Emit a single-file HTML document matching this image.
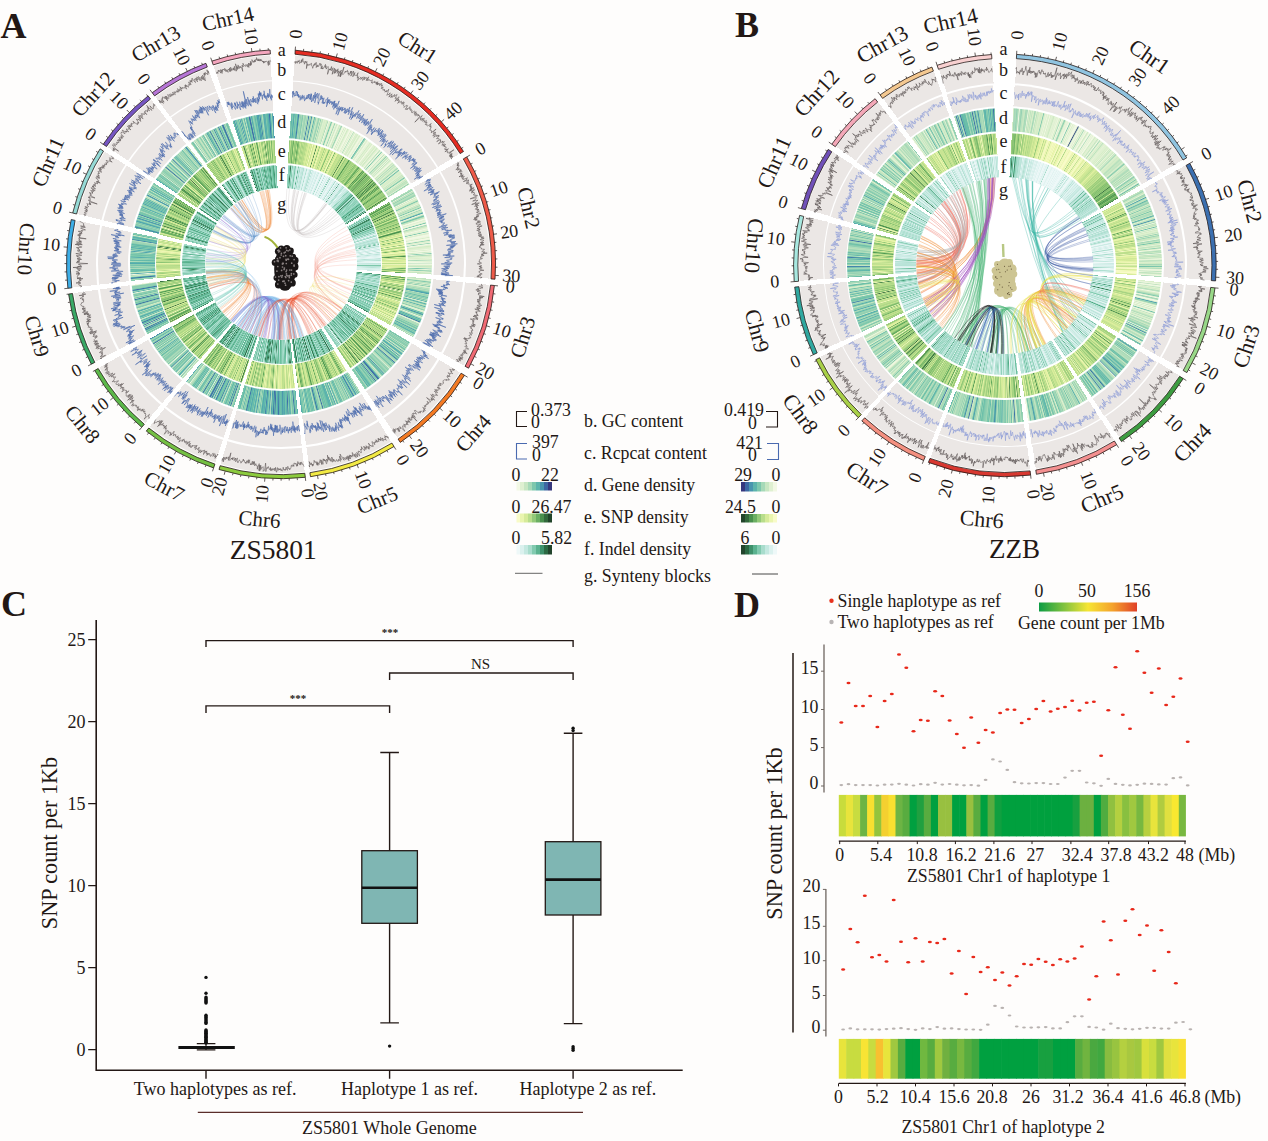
<!DOCTYPE html><html><head><meta charset="utf-8"><title>fig</title><style>*{margin:0;padding:0}body{width:1268px;height:1141px;overflow:hidden;position:relative;background:#fefdfc;font-family:"Liberation Serif",serif}.d{position:absolute;border-radius:50%}svg{position:absolute;left:0;top:0}text{fill:#231815;font-family:"Liberation Serif",serif}.tl{font-size:18px}.cn{font-size:21px}.cn2{font-size:22px}.tk{font-size:18px}.lg{font-size:17.8px}.ax{font-size:18px}.yl{font-size:22.2px}.st{font-size:11px;font-weight:bold}.ns{font-size:15px}.pl{font-size:36px;font-weight:bold}.ti{font-size:26px}</style></head><body><div class="d" style="left:71.8px;top:55px;width:418.4px;height:418.4px;background:conic-gradient(#fff 0% 1.056%,#ebe7e5 1.056% 16.194%,#fff 16.194% 16.667%,#ebe7e5 16.667% 26.111%,#fff 26.111% 26.583%,#ebe7e5 26.583% 33.056%,#fff 33.056% 33.667%,#ebe7e5 33.667% 40.611%,#fff 40.611% 41.167%,#ebe7e5 41.167% 47.806%,#fff 47.806% 48.194%,#ebe7e5 48.194% 54.667%,#fff 54.667% 55.083%,#ebe7e5 55.083% 60.806%,#fff 60.806% 61.25%,#ebe7e5 61.25% 66.75%,#fff 66.75% 67.278%,#ebe7e5 67.278% 72.778%,#fff 72.778% 73.208%,#ebe7e5 73.208% 78.333%,#fff 78.333% 78.833%,#ebe7e5 78.833% 84.028%,#fff 84.028% 84.444%,#ebe7e5 84.444% 89.361%,#fff 89.361% 89.75%,#ebe7e5 89.75% 94.306%,#fff 94.306% 94.778%,#ebe7e5 94.778% 99.194%,#fff 99.194% 100%)"></div><div class="d" style="left:96.4px;top:79.6px;width:369.2px;height:369.2px;background:#fff"></div><div class="d" style="left:97.8px;top:81px;width:366.4px;height:366.4px;background:conic-gradient(#fff 0% 1.056%,#ebe7e5 1.056% 16.194%,#fff 16.194% 16.667%,#ebe7e5 16.667% 26.111%,#fff 26.111% 26.583%,#ebe7e5 26.583% 33.056%,#fff 33.056% 33.667%,#ebe7e5 33.667% 40.611%,#fff 40.611% 41.167%,#ebe7e5 41.167% 47.806%,#fff 47.806% 48.194%,#ebe7e5 48.194% 54.667%,#fff 54.667% 55.083%,#ebe7e5 55.083% 60.806%,#fff 60.806% 61.25%,#ebe7e5 61.25% 66.75%,#fff 66.75% 67.278%,#ebe7e5 67.278% 72.778%,#fff 72.778% 73.208%,#ebe7e5 73.208% 78.333%,#fff 78.333% 78.833%,#ebe7e5 78.833% 84.028%,#fff 84.028% 84.444%,#ebe7e5 84.444% 89.361%,#fff 89.361% 89.75%,#ebe7e5 89.75% 94.306%,#fff 94.306% 94.778%,#ebe7e5 94.778% 99.194%,#fff 99.194% 100%)"></div><div class="d" style="left:128.2px;top:111.4px;width:305.6px;height:305.6px;background:#fff"></div><div class="d" style="left:129.7px;top:112.9px;width:302.6px;height:302.6px;background:conic-gradient(#fff 0% 1.056%,#81c9ae 1.056%,#81c9ae 1.094%,#5cb3ac 1.172%,#87cbaf 1.25%,#66bbaa 1.327%,#4ea7b0 1.405%,#8eceb1 1.483%,#6dc0a8 1.56%,#77c5ab 1.638%,#8bcdb0 1.715%,#5ab1ad 1.793%,#3f75ab 1.871%,#6dc0a8 1.948%,#afdcbb 2.026%,#92d0b2 2.104%,#a8d9b8 2.181%,#91cfb2 2.259%,#82c9ae 2.337%,#bfe3c0 2.414%,#a6d8b8 2.492%,#9dd5b5 2.569%,#9ad3b4 2.647%,#bee2bf 2.725%,#9ad4b5 2.802%,#addbba 2.88%,#417aab 2.958%,#b0ddbb 3.035%,#9bd4b5 3.113%,#a5d8b7 3.191%,#468dad 3.268%,#a7d9b8 3.346%,#cde9c4 3.423%,#c2e4c0 3.501%,#59b1ad 3.579%,#a6d8b8 3.656%,#95d1b3 3.734%,#cce9c4 3.812%,#c2e5c1 3.889%,#b5dfbc 3.967%,#92d0b2 4.045%,#a8dab9 4.122%,#d2ebc5 4.2%,#90cfb2 4.277%,#d7edc9 4.355%,#bde2bf 4.433%,#c5e6c1 4.51%,#dff1d1 4.588%,#d9eecb 4.666%,#d6edc8 4.743%,#ddf0cf 4.821%,#d4ecc6 4.899%,#d1ebc5 4.976%,#aedcba 5.054%,#f2f8e4 5.131%,#dbefcd 5.209%,#dff0d1 5.287%,#bae1be 5.364%,#72c3aa 5.442%,#c5e6c1 5.52%,#e7f4d9 5.597%,#e7f3d9 5.675%,#d5ecc7 5.752%,#98d3b4 5.83%,#e7f4d9 5.908%,#e4f2d6 5.985%,#c9e7c3 6.063%,#e4f2d6 6.141%,#f2f8e4 6.218%,#dff1d1 6.296%,#cce9c4 6.374%,#e0f1d2 6.451%,#b2debb 6.529%,#9bd4b5 6.606%,#e5f3d7 6.684%,#f2f8e4 6.762%,#eff7e1 6.839%,#d1ebc5 6.917%,#f2f8e4 6.995%,#d7edc9 7.072%,#ecf6de 7.15%,#ecf6de 7.228%,#d1ebc5 7.305%,#daeecc 7.383%,#e5f3d7 7.46%,#f0f7e2 7.538%,#f2f8e4 7.616%,#daeecc 7.693%,#edf6df 7.771%,#e2f2d4 7.849%,#f2f8e4 7.926%,#b2debc 8.004%,#e1f1d3 8.082%,#dbefcd 8.159%,#f2f8e4 8.237%,#d9eecb 8.314%,#def0d0 8.392%,#d5edc7 8.47%,#d9eecb 8.547%,#ecf6de 8.625%,#d9eecb 8.703%,#d7edc9 8.78%,#ebf5dd 8.858%,#f2f8e4 8.936%,#edf6df 9.013%,#dff0d1 9.091%,#edf6df 9.168%,#edf6df 9.246%,#60b7ab 9.324%,#94d1b3 9.401%,#a9dab9 9.479%,#f2f8e4 9.557%,#dff0d1 9.634%,#def0d0 9.712%,#eef7e0 9.79%,#eff7e1 9.867%,#e4f3d6 9.945%,#e9f4db 10.022%,#cfeac4 10.1%,#dff0d1 10.178%,#e2f2d4 10.255%,#d4ecc6 10.333%,#f1f8e3 10.411%,#eff7e1 10.488%,#dbefcd 10.566%,#e3f2d5 10.644%,#d6edc8 10.721%,#d5ecc7 10.799%,#ecf6de 10.876%,#d3ebc6 10.954%,#cfeac4 11.032%,#e4f2d6 11.109%,#e3f2d5 11.187%,#f2f8e4 11.265%,#d8edca 11.342%,#b4dfbc 11.42%,#f2f8e4 11.498%,#e3f2d5 11.575%,#74c4aa 11.653%,#e7f3d9 11.73%,#e0f1d2 11.808%,#f2f8e4 11.886%,#e8f4da 11.963%,#bee3bf 12.041%,#f1f8e3 12.119%,#def0d0 12.196%,#c7e7c2 12.274%,#91cfb2 12.351%,#e1f1d3 12.429%,#bce2bf 12.507%,#d0eac5 12.584%,#eaf5dc 12.662%,#c4e5c1 12.74%,#f2f8e4 12.817%,#c3e5c1 12.895%,#ddf0cf 12.973%,#e9f4db 13.05%,#f2f8e4 13.128%,#ecf6de 13.205%,#c3e5c1 13.283%,#daeecc 13.361%,#dcefce 13.438%,#a6d8b8 13.516%,#dff0d1 13.594%,#c6e6c2 13.671%,#c5e6c1 13.749%,#e1f1d3 13.827%,#d2ebc6 13.904%,#cae8c3 13.982%,#92d0b2 14.059%,#d9eecb 14.137%,#dff0d1 14.215%,#65baaa 14.292%,#bde2bf 14.37%,#e2f2d4 14.448%,#d6edc8 14.525%,#dbefcd 14.603%,#d5ecc7 14.681%,#def0d0 14.758%,#dff0d1 14.836%,#c6e6c2 14.913%,#d9eecb 14.991%,#bfe3bf 15.069%,#d8edca 15.146%,#bde2bf 15.224%,#6ec1a9 15.302%,#cae8c3 15.379%,#e7f4d9 15.457%,#c8e7c2 15.535%,#d5ecc7 15.612%,#bae1be 15.69%,#c7e6c2 15.767%,#bde2bf 15.845%,#cae8c3 15.923%,#e1f1d3 16%,#87ccaf 16.078%,#dcefce 16.156%,#dcefce 16.194%,#fff 16.194% 16.667%,#b9e1be 16.667%,#b9e1be 16.706%,#a5d8b7 16.784%,#99d3b4 16.862%,#e7f3d9 16.94%,#b6dfbd 17.018%,#c1e4c0 17.096%,#8eceb1 17.174%,#b7e0bd 17.252%,#b7e0bd 17.33%,#a8d9b8 17.408%,#96d2b3 17.486%,#b3debc 17.564%,#f2f8e4 17.642%,#cee9c4 17.72%,#eaf5dc 17.798%,#d9eecb 17.876%,#d5edc7 17.955%,#c6e6c2 18.033%,#74c3aa 18.111%,#b8e0bd 18.189%,#dcefce 18.267%,#d6edc8 18.345%,#e9f4db 18.423%,#c9e7c3 18.501%,#d3ebc6 18.579%,#aadab9 18.657%,#c6e6c2 18.735%,#c0e3c0 18.813%,#73c3aa 18.891%,#dbefcd 18.969%,#e3f2d5 19.047%,#a0d6b6 19.125%,#ceeac4 19.203%,#c9e7c3 19.281%,#d2ebc5 19.36%,#7ec8ad 19.438%,#4b9caf 19.516%,#e9f5db 19.594%,#ddefcf 19.672%,#addbba 19.75%,#6cc0a8 19.828%,#94d1b3 19.906%,#c9e7c3 19.984%,#cce9c4 20.062%,#f2f8e4 20.14%,#f2f8e4 20.218%,#dff1d1 20.296%,#e8f4da 20.374%,#eff7e1 20.452%,#dcefce 20.53%,#6dc0a8 20.608%,#f2f8e4 20.686%,#f2f8e4 20.764%,#a6d8b8 20.843%,#c5e6c1 20.921%,#cde9c4 20.999%,#e0f1d2 21.077%,#e1f1d3 21.155%,#f2f8e4 21.233%,#e6f3d8 21.311%,#e5f3d7 21.389%,#def0d0 21.467%,#78c5ab 21.545%,#eef6e0 21.623%,#ddf0cf 21.701%,#def0d0 21.779%,#f2f8e4 21.857%,#f2f8e4 21.935%,#f0f7e2 22.013%,#ecf5de 22.091%,#d8eeca 22.169%,#f2f8e4 22.247%,#f1f8e3 22.326%,#e3f2d5 22.404%,#94d1b3 22.482%,#ddf0cf 22.56%,#e1f1d3 22.638%,#e9f4db 22.716%,#98d3b4 22.794%,#f2f8e4 22.872%,#ebf5dd 22.95%,#dff0d1 23.028%,#d2ebc5 23.106%,#dbefcd 23.184%,#dff0d1 23.262%,#e2f1d4 23.34%,#eff7e1 23.418%,#ddefcf 23.496%,#f2f8e4 23.574%,#edf6df 23.652%,#cbe8c3 23.73%,#f2f8e4 23.809%,#87ccaf 23.887%,#e9f4db 23.965%,#a9dab9 24.043%,#d6edc8 24.121%,#dbefcd 24.199%,#e5f3d7 24.277%,#d9eecb 24.355%,#e9f4db 24.433%,#dcefce 24.511%,#addbba 24.589%,#f2f8e4 24.667%,#ddf0cf 24.745%,#f1f8e3 24.823%,#b0ddbb 24.901%,#f1f8e3 24.979%,#edf6df 25.057%,#d5ecc7 25.135%,#daeecc 25.213%,#c5e6c1 25.292%,#d5ecc7 25.37%,#f2f8e4 25.448%,#76c4ab 25.526%,#eaf5dc 25.604%,#bde2bf 25.682%,#88ccb0 25.76%,#daeecc 25.838%,#dcefce 25.916%,#c3e5c1 25.994%,#d2ebc5 26.072%,#d2ebc5 26.111%,#fff 26.111% 26.583%,#c3e5c1 26.583%,#c3e5c1 26.622%,#c8e7c2 26.7%,#e0f1d2 26.778%,#bbe2be 26.856%,#7dc7ad 26.934%,#bce2bf 27.012%,#bce2be 27.09%,#dcefce 27.168%,#9bd4b5 27.246%,#d7edc9 27.324%,#89ccb0 27.402%,#dff0d1 27.48%,#daeecc 27.558%,#b5dfbc 27.636%,#bce2bf 27.714%,#a3d7b7 27.792%,#b8e0bd 27.87%,#9cd4b5 27.948%,#76c4ab 28.026%,#53acaf 28.104%,#4b9faf 28.182%,#bbe1be 28.26%,#95d2b3 28.338%,#a3d7b7 28.416%,#a1d7b6 28.494%,#68bda9 28.572%,#9ad3b4 28.65%,#88ccb0 28.728%,#b4debc 28.806%,#76c4ab 28.884%,#a9dab9 28.962%,#5cb3ac 29.04%,#e4f2d6 29.118%,#bce2be 29.196%,#56aeae 29.274%,#87cbaf 29.352%,#c9e7c3 29.43%,#aadab9 29.508%,#5bb2ad 29.586%,#b6dfbd 29.663%,#addbba 29.741%,#cce9c4 29.819%,#addbba 29.897%,#86cbaf 29.975%,#dcefce 30.053%,#e2f2d4 30.131%,#e0f1d2 30.209%,#69bea9 30.287%,#84caaf 30.365%,#4791ae 30.443%,#6cc0a8 30.521%,#acdbba 30.599%,#96d2b3 30.677%,#eff7e1 30.755%,#c5e6c1 30.833%,#aadab9 30.911%,#52acaf 30.989%,#7fc8ad 31.067%,#62b8ab 31.145%,#6fc1a9 31.223%,#3e6fa9 31.301%,#c8e7c2 31.379%,#f2f8e4 31.457%,#aedcba 31.535%,#b3debc 31.613%,#b1ddbb 31.691%,#a8dab9 31.769%,#7cc7ac 31.847%,#a1d6b6 31.925%,#84caaf 32.003%,#6ec1a8 32.081%,#aedcba 32.159%,#97d2b4 32.237%,#4ca0af 32.315%,#8eceb1 32.393%,#7ac6ac 32.471%,#87cbaf 32.549%,#52acaf 32.627%,#79c6ac 32.705%,#b0ddbb 32.783%,#98d3b4 32.861%,#d7edc9 32.939%,#a5d8b7 33.017%,#a5d8b7 33.056%,#fff 33.056% 33.667%,#a2d7b7 33.667%,#a2d7b7 33.706%,#64b9aa 33.784%,#abdbb9 33.862%,#81c9ae 33.94%,#a1d7b6 34.018%,#86cbaf 34.096%,#8cceb1 34.174%,#8bcdb0 34.252%,#c9e7c3 34.33%,#79c5ab 34.408%,#b9e0be 34.486%,#79c5ab 34.564%,#6ec1a9 34.642%,#addcba 34.72%,#d7edc9 34.798%,#51aaaf 34.876%,#aedcba 34.954%,#c1e4c0 35.032%,#58b0ad 35.11%,#5ab2ad 35.188%,#5ab2ad 35.266%,#c3e5c1 35.344%,#a7d9b8 35.422%,#4b9daf 35.5%,#d0eac5 35.578%,#66bbaa 35.656%,#67bca9 35.734%,#96d2b3 35.812%,#67bca9 35.89%,#4381ac 35.968%,#9ed5b5 36.047%,#a9dab9 36.125%,#b1ddbb 36.203%,#b9e1be 36.281%,#3e70aa 36.359%,#7ec8ad 36.437%,#77c5ab 36.515%,#b1ddbb 36.593%,#9ad4b4 36.671%,#9dd5b5 36.749%,#9ed5b5 36.827%,#64b9aa 36.905%,#a1d7b6 36.983%,#b8e0bd 37.061%,#b7e0bd 37.139%,#eaf5dc 37.217%,#85caaf 37.295%,#b0ddbb 37.373%,#77c5ab 37.451%,#b9e0be 37.529%,#96d2b3 37.607%,#94d1b3 37.685%,#80c9ae 37.763%,#93d0b2 37.841%,#bbe1be 37.919%,#4997ae 37.997%,#94d1b3 38.075%,#5bb2ad 38.153%,#77c5ab 38.231%,#9ad3b4 38.309%,#dcefce 38.387%,#b0ddbb 38.465%,#c6e6c2 38.543%,#7ec8ad 38.621%,#56afae 38.699%,#3d6ca7 38.777%,#3d6ca7 38.855%,#8fcfb2 38.934%,#7bc6ac 39.012%,#a5d8b8 39.09%,#3d6ca7 39.168%,#97d2b4 39.246%,#60b7ab 39.324%,#a0d6b6 39.402%,#7fc8ad 39.48%,#6dc1a8 39.558%,#93d1b3 39.636%,#9bd4b5 39.714%,#7dc7ad 39.792%,#6fc1a9 39.87%,#57afae 39.948%,#6dc0a8 40.026%,#79c5ab 40.104%,#4fa9b0 40.182%,#acdbba 40.26%,#9fd5b6 40.338%,#78c5ab 40.416%,#84caaf 40.494%,#98d3b4 40.572%,#98d3b4 40.611%,#fff 40.611% 41.167%,#afdcbb 41.167%,#afdcbb 41.206%,#c2e5c1 41.284%,#68bda9 41.362%,#aedcba 41.44%,#60b6ab 41.518%,#a7d9b8 41.596%,#4998ae 41.674%,#5ab2ad 41.752%,#99d3b4 41.831%,#8fcfb1 41.909%,#4075ab 41.987%,#53acaf 42.065%,#95d1b3 42.143%,#60b6ab 42.221%,#7fc8ad 42.299%,#8acdb0 42.377%,#c4e5c1 42.455%,#58b0ad 42.533%,#b8e0bd 42.612%,#9cd4b5 42.69%,#7cc7ac 42.768%,#b1ddbb 42.846%,#99d3b4 42.924%,#aedcba 43.002%,#7fc8ad 43.08%,#9cd4b5 43.158%,#bce2bf 43.236%,#6abea9 43.315%,#7dc7ad 43.393%,#5db4ac 43.471%,#8ccdb1 43.549%,#80c9ad 43.627%,#c1e4c0 43.705%,#a3d7b7 43.783%,#5bb2ad 43.861%,#79c6ac 43.939%,#ddf0cf 44.017%,#4da3b0 44.096%,#76c4ab 44.174%,#9bd4b5 44.252%,#62b8ab 44.33%,#74c3aa 44.408%,#cce8c3 44.486%,#56afae 44.564%,#62b8ab 44.642%,#57afae 44.72%,#5fb6ab 44.799%,#6ec1a9 44.877%,#72c3aa 44.955%,#81c9ae 45.033%,#6abea9 45.111%,#81c9ae 45.189%,#66bbaa 45.267%,#79c5ab 45.345%,#9cd4b5 45.423%,#3d6ca7 45.501%,#7cc7ac 45.58%,#bce2bf 45.658%,#a0d6b6 45.736%,#8dceb1 45.814%,#9dd5b5 45.892%,#6abea9 45.97%,#63b9aa 46.048%,#3d6ca7 46.126%,#66bbaa 46.204%,#addbba 46.283%,#bde2bf 46.361%,#60b6ab 46.439%,#81c9ae 46.517%,#67bca9 46.595%,#7cc7ac 46.673%,#72c3aa 46.751%,#9bd4b5 46.829%,#66bbaa 46.907%,#7ac6ac 46.985%,#50aaaf 47.064%,#8eceb1 47.142%,#85cbaf 47.22%,#cae8c3 47.298%,#5eb5ac 47.376%,#9ed5b5 47.454%,#7cc7ac 47.532%,#88ccb0 47.61%,#6abfa8 47.688%,#55aeae 47.767%,#55aeae 47.806%,#fff 47.806% 48.194%,#59b1ad 48.194%,#59b1ad 48.233%,#84caaf 48.311%,#78c5ab 48.389%,#65baaa 48.467%,#3e71aa 48.545%,#8bcdb0 48.623%,#7cc7ac 48.701%,#7fc8ad 48.779%,#addcba 48.857%,#81c9ae 48.935%,#4da3b0 49.013%,#65baaa 49.091%,#8acdb0 49.169%,#3d6ca7 49.247%,#69bea9 49.325%,#5cb3ac 49.403%,#77c5ab 49.481%,#67bca9 49.559%,#4ca2af 49.637%,#62b8ab 49.715%,#468cad 49.793%,#58b0ad 49.871%,#65baaa 49.949%,#73c3aa 50.027%,#5fb6ab 50.105%,#5bb2ad 50.183%,#3d6ca7 50.261%,#5ab1ad 50.339%,#52abaf 50.417%,#6ec1a9 50.495%,#73c3aa 50.573%,#3d6ca7 50.651%,#62b8ab 50.729%,#3d6ca7 50.807%,#5ab2ad 50.885%,#6ec1a9 50.963%,#4a9baf 51.041%,#b1ddbb 51.119%,#aadab9 51.197%,#4894ae 51.275%,#82c9ae 51.353%,#8dceb1 51.431%,#5db4ac 51.509%,#59b1ad 51.587%,#4381ac 51.664%,#77c5ab 51.742%,#55aeae 51.82%,#65baaa 51.898%,#5bb2ad 51.976%,#4ea6b0 52.054%,#6bbfa8 52.132%,#a6d8b8 52.21%,#6bbfa8 52.288%,#b0ddbb 52.366%,#8bcdb0 52.444%,#a0d6b6 52.522%,#4996ae 52.6%,#85caaf 52.678%,#a9dab9 52.756%,#5db4ac 52.834%,#53acaf 52.912%,#8acdb0 52.99%,#62b8ab 53.068%,#71c2a9 53.146%,#5fb5ac 53.224%,#4ea8b0 53.302%,#78c5ab 53.38%,#5eb5ac 53.458%,#62b8ab 53.536%,#5ab2ad 53.614%,#3d6ca7 53.692%,#6dc1a8 53.77%,#a1d7b6 53.848%,#82caae 53.926%,#9fd6b6 54.004%,#5cb3ac 54.082%,#b6dfbd 54.16%,#8ccdb1 54.238%,#afddbb 54.316%,#65bbaa 54.394%,#65bbaa 54.472%,#7ac6ac 54.55%,#77c5ab 54.628%,#77c5ab 54.667%,#fff 54.667% 55.083%,#75c4ab 55.083%,#75c4ab 55.122%,#8fcfb2 55.199%,#a6d8b8 55.277%,#a7d9b8 55.354%,#3d6ca7 55.431%,#77c5ab 55.509%,#76c4ab 55.586%,#468bad 55.663%,#a3d7b7 55.741%,#72c2aa 55.818%,#94d1b3 55.895%,#67bca9 55.973%,#66bbaa 56.05%,#90cfb2 56.127%,#84caae 56.205%,#dff0d1 56.282%,#a0d6b6 56.359%,#4da4b0 56.437%,#a2d7b7 56.514%,#a2d7b7 56.591%,#4380ac 56.669%,#73c3aa 56.746%,#74c3aa 56.823%,#7fc8ad 56.901%,#72c3aa 56.978%,#50aaaf 57.055%,#3d6ca7 57.133%,#aedcba 57.21%,#9cd4b5 57.287%,#4a99ae 57.364%,#c8e7c2 57.442%,#70c2a9 57.519%,#4179ab 57.596%,#87cbaf 57.674%,#4077ab 57.751%,#3d6ca7 57.828%,#79c6ac 57.906%,#c1e4c0 57.983%,#6bbfa8 58.06%,#f2f8e4 58.138%,#94d1b3 58.215%,#5ab2ad 58.292%,#a7d9b8 58.37%,#71c2a9 58.447%,#aedcba 58.524%,#64baaa 58.602%,#3d6ca7 58.679%,#a0d6b6 58.756%,#8dceb1 58.834%,#b8e0bd 58.911%,#79c6ac 58.988%,#7dc7ad 59.066%,#62b8ab 59.143%,#88ccb0 59.22%,#d8eeca 59.298%,#a2d7b7 59.375%,#e8f4da 59.452%,#5ab1ad 59.53%,#83caae 59.607%,#66bbaa 59.684%,#94d1b3 59.762%,#5ab2ad 59.839%,#7bc6ac 59.916%,#69bea9 59.994%,#a5d8b7 60.071%,#a7d9b8 60.148%,#c1e4c0 60.226%,#bce2bf 60.303%,#f2f8e4 60.38%,#8dceb1 60.458%,#a1d6b6 60.535%,#acdbba 60.612%,#b1ddbb 60.69%,#52abaf 60.767%,#52abaf 60.806%,#fff 60.806% 61.25%,#c3e5c1 61.25%,#c3e5c1 61.289%,#b7e0bd 61.366%,#edf6df 61.444%,#86cbaf 61.521%,#a8d9b8 61.599%,#ecf6de 61.676%,#57afae 61.754%,#56aeae 61.831%,#7fc8ad 61.908%,#c5e6c1 61.986%,#90cfb2 62.063%,#f2f8e4 62.141%,#9fd5b6 62.218%,#5db4ac 62.296%,#8ccdb0 62.373%,#aedcba 62.451%,#6ec1a8 62.528%,#85cbaf 62.606%,#99d3b4 62.683%,#5db4ac 62.761%,#d9eecb 62.838%,#b1ddbb 62.915%,#458aad 62.993%,#8cceb1 63.07%,#87cbaf 63.148%,#88ccb0 63.225%,#f2f8e4 63.303%,#c8e7c2 63.38%,#6abea9 63.458%,#bde2bf 63.535%,#9ed5b6 63.613%,#94d1b3 63.69%,#aadab9 63.768%,#abdbb9 63.845%,#8dceb1 63.923%,#82c9ae 64%,#87cbaf 64.077%,#86cbaf 64.155%,#a4d8b7 64.232%,#7ec8ad 64.31%,#97d2b4 64.387%,#b4debc 64.465%,#6fc1a9 64.542%,#67bca9 64.62%,#b2debc 64.697%,#78c5ab 64.775%,#b0ddbb 64.852%,#62b8ab 64.93%,#a2d7b7 65.007%,#51aaaf 65.085%,#a3d7b7 65.162%,#b2debc 65.239%,#91d0b2 65.317%,#69bea9 65.394%,#d8eeca 65.472%,#6abea9 65.549%,#9cd4b5 65.627%,#a7d9b8 65.704%,#74c3aa 65.782%,#a0d6b6 65.859%,#6bbfa8 65.937%,#c8e7c2 66.014%,#3d6ca7 66.092%,#60b7ab 66.169%,#9ed5b6 66.246%,#aadab9 66.324%,#5db4ac 66.401%,#83caae 66.479%,#abdbb9 66.556%,#83caae 66.634%,#4589ad 66.711%,#4589ad 66.75%,#fff 66.75% 67.278%,#a0d6b6 67.278%,#a0d6b6 67.317%,#6fc1a9 67.394%,#b8e0bd 67.471%,#66bbaa 67.549%,#78c5ab 67.626%,#72c3aa 67.704%,#427dab 67.781%,#71c2a9 67.859%,#3d6ca7 67.936%,#b5dfbd 68.014%,#b4dfbc 68.091%,#57afae 68.169%,#c6e6c2 68.246%,#3d6ca7 68.324%,#a7d9b8 68.401%,#5eb4ac 68.478%,#63b9aa 68.556%,#3d6ca7 68.633%,#68bda9 68.711%,#86cbaf 68.788%,#51aaaf 68.866%,#b1ddbb 68.943%,#daeecc 69.021%,#61b7ab 69.098%,#95d1b3 69.176%,#55aeae 69.253%,#5eb5ac 69.331%,#92d0b2 69.408%,#c1e4c0 69.486%,#77c5ab 69.563%,#88ccaf 69.64%,#6dc0a8 69.718%,#c0e3c0 69.795%,#55aeae 69.873%,#5bb3ac 69.95%,#b5dfbd 70.028%,#c6e6c2 70.105%,#d4ecc6 70.183%,#8ccdb1 70.26%,#8dceb1 70.338%,#a8dab9 70.415%,#addcba 70.493%,#86cbaf 70.57%,#3d6ca7 70.647%,#73c3aa 70.725%,#88ccb0 70.802%,#78c5ab 70.88%,#a7d9b8 70.957%,#88ccb0 71.035%,#66bbaa 71.112%,#3d6ca7 71.19%,#acdbba 71.267%,#66bbaa 71.345%,#b1ddbb 71.422%,#abdbb9 71.5%,#73c3aa 71.577%,#92d0b2 71.655%,#7fc8ad 71.732%,#b0ddbb 71.809%,#eef7e0 71.887%,#5bb2ad 71.964%,#a8d9b8 72.042%,#56aeae 72.119%,#3d6ca7 72.197%,#73c3aa 72.274%,#91d0b2 72.352%,#92d0b2 72.429%,#8fcfb1 72.507%,#8dceb1 72.584%,#b7e0bd 72.662%,#f2f8e4 72.739%,#f2f8e4 72.778%,#fff 72.778% 73.208%,#8bcdb0 73.208%,#8bcdb0 73.247%,#afdcbb 73.325%,#70c2a9 73.402%,#3d6ca7 73.48%,#54adae 73.558%,#b2debc 73.635%,#d2ebc5 73.713%,#aadab9 73.791%,#f2f8e4 73.868%,#4da5b0 73.946%,#b0ddbb 74.024%,#cfeac4 74.101%,#6abfa8 74.179%,#62b8ab 74.257%,#7dc7ad 74.334%,#67bca9 74.412%,#aedcba 74.49%,#a2d7b7 74.567%,#72c2aa 74.645%,#a6d8b8 74.723%,#66bbaa 74.8%,#8bcdb0 74.878%,#8acdb0 74.955%,#54adae 75.033%,#51aaaf 75.111%,#68bda9 75.188%,#b2debc 75.266%,#6cc0a8 75.344%,#63b9aa 75.421%,#9bd4b5 75.499%,#82c9ae 75.577%,#95d1b3 75.654%,#54adae 75.732%,#72c3aa 75.81%,#8cceb1 75.887%,#6bc0a8 75.965%,#79c5ab 76.043%,#90cfb2 76.12%,#6ec1a9 76.198%,#bbe1be 76.276%,#4ca1af 76.353%,#b0ddbb 76.431%,#51aaaf 76.509%,#90cfb2 76.586%,#80c9ad 76.664%,#51abaf 76.741%,#83caae 76.819%,#63b9aa 76.897%,#7fc8ad 76.974%,#60b7ab 77.052%,#6abea9 77.13%,#8acdb0 77.207%,#a1d6b6 77.285%,#99d3b4 77.363%,#a8d9b8 77.44%,#bde2bf 77.518%,#4589ad 77.596%,#60b6ab 77.673%,#72c3aa 77.751%,#58b0ad 77.829%,#58b0ad 77.906%,#88ccaf 77.984%,#d5ecc7 78.062%,#67bca9 78.139%,#8acdb0 78.217%,#7fc8ad 78.295%,#7fc8ad 78.333%,#fff 78.333% 78.833%,#73c3aa 78.833%,#73c3aa 78.872%,#427fac 78.95%,#52abaf 79.027%,#84caaf 79.105%,#8eceb1 79.182%,#80c8ad 79.26%,#a3d7b7 79.337%,#84caaf 79.415%,#8acdb0 79.492%,#4da3af 79.57%,#58b0ad 79.647%,#88ccb0 79.725%,#a0d6b6 79.802%,#57afae 79.88%,#4894ae 79.958%,#9dd5b5 80.035%,#5cb3ac 80.113%,#7ac6ac 80.19%,#a9dab9 80.268%,#4381ac 80.345%,#6dc1a8 80.423%,#7ec7ad 80.5%,#77c5ab 80.578%,#81c9ae 80.655%,#b3debc 80.733%,#8acdb0 80.81%,#74c3aa 80.888%,#84caae 80.965%,#6fc1a9 81.043%,#a7d9b8 81.12%,#51abaf 81.198%,#7fc8ad 81.275%,#a8d9b8 81.353%,#8cceb1 81.431%,#7ec8ad 81.508%,#4ca1af 81.586%,#88ccb0 81.663%,#60b7ab 81.741%,#83caae 81.818%,#59b1ad 81.896%,#8bcdb0 81.973%,#4da4b0 82.051%,#95d1b3 82.128%,#69bda9 82.206%,#cce9c3 82.283%,#b5dfbd 82.361%,#dcefce 82.438%,#59b1ad 82.516%,#478ead 82.593%,#c3e5c1 82.671%,#7ac6ac 82.749%,#c6e6c2 82.826%,#a4d8b7 82.904%,#75c4ab 82.981%,#72c2aa 83.059%,#c9e8c3 83.136%,#76c4ab 83.214%,#50aaaf 83.291%,#bae1be 83.369%,#51abaf 83.446%,#75c4aa 83.524%,#97d2b4 83.601%,#63b9aa 83.679%,#b5dfbc 83.756%,#9dd5b5 83.834%,#80c8ad 83.911%,#77c5ab 83.989%,#77c5ab 84.028%,#fff 84.028% 84.444%,#50aaaf 84.444%,#50aaaf 84.483%,#7bc7ac 84.562%,#7cc7ac 84.64%,#9cd4b5 84.718%,#82c9ae 84.796%,#b3debc 84.874%,#64b9aa 84.952%,#8bcdb0 85.03%,#7fc8ad 85.108%,#81c9ae 85.186%,#e4f2d6 85.264%,#84caae 85.342%,#bbe1be 85.42%,#94d1b3 85.498%,#9ed5b6 85.576%,#85cbaf 85.654%,#95d1b3 85.732%,#9ad4b4 85.81%,#94d1b3 85.888%,#cae8c3 85.966%,#9bd4b5 86.044%,#3d6ca7 86.122%,#97d2b3 86.2%,#c6e6c2 86.278%,#8fcfb1 86.356%,#70c2a9 86.435%,#b5dfbd 86.513%,#b5dfbc 86.591%,#8eceb1 86.669%,#59b1ad 86.747%,#b1ddbb 86.825%,#e5f3d7 86.903%,#9cd4b5 86.981%,#9ad3b4 87.059%,#aedcba 87.137%,#417bab 87.215%,#9ed5b6 87.293%,#d9eecb 87.371%,#91cfb2 87.449%,#66bbaa 87.527%,#91d0b2 87.605%,#53acaf 87.683%,#aedcba 87.761%,#6fc1a9 87.839%,#daeecc 87.917%,#6cc0a8 87.995%,#c4e5c1 88.073%,#b4debc 88.151%,#8fcfb1 88.229%,#b6dfbd 88.308%,#8acdb0 88.386%,#aedcba 88.464%,#8dceb1 88.542%,#69bea9 88.62%,#c2e4c0 88.698%,#a7d9b8 88.776%,#c4e5c1 88.854%,#83caae 88.932%,#a3d7b7 89.01%,#4892ae 89.088%,#4b9daf 89.166%,#c5e6c1 89.244%,#bce2bf 89.322%,#bce2bf 89.361%,#fff 89.361% 89.75%,#daeecc 89.75%,#daeecc 89.789%,#88ccaf 89.866%,#87cbaf 89.943%,#68bda9 90.02%,#abdbb9 90.097%,#f2f8e4 90.175%,#8dceb1 90.252%,#d9eecb 90.329%,#b6dfbd 90.406%,#bbe1be 90.484%,#86cbaf 90.561%,#9ad4b4 90.638%,#bde2bf 90.715%,#cae8c3 90.792%,#a8d9b8 90.87%,#7ec8ad 90.947%,#bae1be 91.024%,#dcefce 91.101%,#7ec8ad 91.178%,#aadab9 91.256%,#5eb5ac 91.333%,#a8d9b8 91.41%,#f2f8e4 91.487%,#a0d6b6 91.565%,#99d3b4 91.642%,#b1ddbb 91.719%,#4b9faf 91.796%,#72c2aa 91.873%,#64b9aa 91.951%,#a6d9b8 92.028%,#91d0b2 92.105%,#3d6ca7 92.182%,#90cfb2 92.259%,#bee3bf 92.337%,#79c6ac 92.414%,#a3d7b7 92.491%,#a9dab9 92.568%,#4790ad 92.645%,#9ad4b4 92.723%,#5bb3ac 92.8%,#8acdb0 92.877%,#c1e4c0 92.954%,#a1d6b6 93.032%,#87cbaf 93.109%,#3e71aa 93.186%,#97d2b4 93.263%,#6fc1a9 93.34%,#6ec1a8 93.418%,#b7e0bd 93.495%,#6bbfa8 93.572%,#3d6ca7 93.649%,#427eac 93.726%,#9fd6b6 93.804%,#88ccaf 93.881%,#bae1be 93.958%,#87cbaf 94.035%,#71c2a9 94.113%,#73c3aa 94.19%,#b0ddbb 94.267%,#b0ddbb 94.306%,#fff 94.306% 94.778%,#6bbfa8 94.778%,#6bbfa8 94.817%,#6cc0a8 94.894%,#468dad 94.971%,#86cbaf 95.049%,#57afae 95.126%,#87cbaf 95.204%,#86cbaf 95.281%,#95d1b3 95.359%,#62b8ab 95.436%,#a5d8b8 95.514%,#4998ae 95.591%,#9ad3b4 95.669%,#54adae 95.746%,#77c5ab 95.824%,#c0e4c0 95.901%,#9ed5b5 95.979%,#5bb2ad 96.056%,#c9e7c3 96.134%,#81c9ae 96.211%,#4fa9b0 96.289%,#65baaa 96.366%,#7ac6ac 96.444%,#77c5ab 96.521%,#3d6ca7 96.599%,#4179ab 96.676%,#8eceb1 96.754%,#52abaf 96.831%,#67bca9 96.909%,#98d3b4 96.986%,#92d0b2 97.064%,#74c4aa 97.141%,#61b7ab 97.219%,#84caaf 97.296%,#6abea9 97.374%,#4a99ae 97.451%,#54adae 97.529%,#4a9baf 97.606%,#71c2a9 97.683%,#4382ac 97.761%,#82c9ae 97.838%,#7ac6ac 97.916%,#b4debc 97.993%,#88ccb0 98.071%,#51aaaf 98.148%,#5ab1ad 98.226%,#58b0ad 98.303%,#80c8ad 98.381%,#68bda9 98.458%,#64b9aa 98.536%,#56aeae 98.613%,#52abaf 98.691%,#3d6ca7 98.768%,#53acaf 98.846%,#65baaa 98.923%,#b0ddbb 99.001%,#59b1ad 99.078%,#458aad 99.156%,#458aad 99.194%,#fff 99.194% 100%)"></div><div class="d" style="left:154.5px;top:137.7px;width:253px;height:253px;background:#fff"></div><div class="d" style="left:156.3px;top:139.5px;width:249.4px;height:249.4px;background:conic-gradient(#fff 0% 1.056%,#8fc676 1.056%,#8fc676 1.094%,#aad684 1.172%,#c7e492 1.25%,#8cc574 1.327%,#8cc474 1.405%,#a2d180 1.483%,#77b769 1.56%,#67ad60 1.638%,#cde795 1.715%,#91c777 1.793%,#9cce7d 1.871%,#94c978 1.948%,#83bf6f 2.026%,#cde795 2.104%,#61a85c 2.181%,#86c171 2.259%,#7dbb6c 2.337%,#bcdf8d 2.414%,#a0d07e 2.492%,#d0e897 2.569%,#afd887 2.647%,#a6d382 2.725%,#c3e291 2.802%,#9fcf7e 2.88%,#c6e392 2.958%,#a7d482 3.035%,#bade8c 3.113%,#b7dc8a 3.191%,#bddf8e 3.268%,#b3da88 3.346%,#d2e998 3.423%,#c2e290 3.501%,#d9ed9c 3.579%,#dbed9c 3.656%,#d9ed9c 3.734%,#bee08e 3.812%,#e4f2a3 3.889%,#d2e998 3.967%,#cfe896 4.045%,#f8fbc8 4.122%,#d7ec9a 4.2%,#c8e493 4.277%,#e3f2a2 4.355%,#ecf5b2 4.433%,#e9f4ac 4.51%,#cbe694 4.588%,#408047 4.666%,#e9f4ad 4.743%,#e8f4ab 4.821%,#dff09e 4.899%,#d5eb99 4.976%,#8ec675 5.054%,#e3f1a2 5.131%,#e3f2a3 5.209%,#eff7b8 5.287%,#cfe896 5.364%,#d2e998 5.442%,#c8e493 5.52%,#d8ec9b 5.597%,#c6e492 5.675%,#9ecf7e 5.752%,#e6f3a8 5.83%,#bcdf8d 5.908%,#cde796 5.985%,#e4f2a4 6.063%,#e1f09f 6.141%,#d0e897 6.218%,#9bcd7c 6.296%,#7bba6b 6.374%,#d2e998 6.451%,#e3f2a2 6.529%,#cee796 6.606%,#e9f4ac 6.684%,#aad684 6.762%,#d6eb9a 6.839%,#e6f3a7 6.917%,#f8fbc8 6.995%,#d8ec9b 7.072%,#6caf62 7.15%,#e4f2a4 7.228%,#c3e290 7.305%,#e8f4ab 7.383%,#e0f09f 7.46%,#deef9e 7.538%,#b6dc8a 7.616%,#c2e290 7.693%,#c4e291 7.771%,#c5e391 7.849%,#cae694 7.926%,#b8dd8b 8.004%,#b6dc8a 8.082%,#a5d381 8.159%,#cce695 8.237%,#c2e290 8.314%,#387341 8.392%,#a2d180 8.47%,#d3ea99 8.547%,#d2e998 8.625%,#8ac373 8.703%,#aad684 8.78%,#b3db89 8.858%,#b6dc8a 8.936%,#b1d987 9.013%,#b2da88 9.091%,#5ca55a 9.168%,#4b934f 9.246%,#a9d584 9.324%,#a1d17f 9.401%,#99cc7b 9.479%,#8fc676 9.557%,#b2da88 9.634%,#a7d482 9.712%,#a9d583 9.79%,#a2d17f 9.867%,#bbdf8d 9.945%,#8cc574 10.022%,#bddf8e 10.1%,#82bf6f 10.178%,#97cb7a 10.255%,#a2d17f 10.333%,#9dce7d 10.411%,#c7e493 10.488%,#92c877 10.566%,#83bf6f 10.644%,#5ea65b 10.721%,#66ac5f 10.799%,#b2da88 10.876%,#7bba6b 10.954%,#c5e392 11.032%,#b0d987 11.109%,#b9dd8b 11.187%,#c6e492 11.265%,#9ece7d 11.342%,#44874a 11.42%,#9dce7d 11.498%,#66ac5f 11.575%,#529e54 11.653%,#c2e290 11.73%,#8bc474 11.808%,#94c979 11.886%,#539f55 11.963%,#8ac373 12.041%,#8dc575 12.119%,#356d3f 12.196%,#aad684 12.274%,#78b869 12.351%,#93c978 12.429%,#71b365 12.507%,#7fbd6d 12.584%,#9dce7d 12.662%,#6fb164 12.74%,#c2e290 12.817%,#7cba6b 12.895%,#7ab96a 12.973%,#86c171 13.05%,#a7d482 13.128%,#356d3f 13.205%,#80bd6e 13.283%,#b8dd8b 13.361%,#509b53 13.438%,#87c171 13.516%,#3f7f46 13.594%,#b2da88 13.671%,#3f7f46 13.749%,#6fb264 13.827%,#a3d180 13.904%,#add785 13.982%,#c9e594 14.059%,#4d9651 14.137%,#a4d281 14.215%,#478c4c 14.292%,#8fc676 14.37%,#59a358 14.448%,#91c877 14.525%,#bee08e 14.603%,#92c877 14.681%,#add786 14.758%,#90c776 14.836%,#8cc574 14.913%,#4b924f 14.991%,#87c272 15.069%,#83bf6f 15.146%,#b2da88 15.224%,#96ca79 15.302%,#9fcf7e 15.379%,#9dce7d 15.457%,#99cc7b 15.535%,#9acc7b 15.612%,#80bd6e 15.69%,#98cb7a 15.767%,#b0d987 15.845%,#b0d987 15.923%,#356d3f 16%,#86c171 16.078%,#84c070 16.156%,#84c070 16.194%,#fff 16.194% 16.667%,#5ea65b 16.667%,#5ea65b 16.706%,#b5dc8a 16.784%,#4e9751 16.862%,#4f9a52 16.94%,#76b768 17.018%,#b5db89 17.096%,#65ab5e 17.174%,#71b365 17.252%,#91c877 17.33%,#539e54 17.408%,#b3da88 17.486%,#a6d382 17.564%,#88c272 17.642%,#b0d987 17.72%,#7bba6b 17.798%,#3e7e46 17.876%,#98cb7b 17.955%,#b2da88 18.033%,#b7dc8a 18.111%,#356d3f 18.189%,#a5d281 18.267%,#96ca7a 18.345%,#c8e593 18.423%,#c4e391 18.501%,#7fbc6d 18.579%,#bddf8e 18.657%,#75b667 18.735%,#78b869 18.813%,#cee796 18.891%,#c4e391 18.969%,#80bd6e 19.047%,#6eb163 19.125%,#7fbd6d 19.203%,#b5db8a 19.281%,#9ecf7e 19.36%,#a1d07f 19.438%,#b8dd8b 19.516%,#a6d382 19.594%,#67ac60 19.672%,#add785 19.75%,#9bcd7c 19.828%,#b9dd8c 19.906%,#c1e18f 19.984%,#4f9a52 20.062%,#a9d584 20.14%,#98cb7a 20.218%,#bade8c 20.296%,#9ccd7c 20.374%,#b7dd8b 20.452%,#e5f2a5 20.53%,#82be6f 20.608%,#4b934f 20.686%,#49904e 20.764%,#95c979 20.843%,#c4e291 20.921%,#c1e18f 20.999%,#e7f3aa 21.077%,#cee796 21.155%,#d6eb9a 21.233%,#ebf5b1 21.311%,#cee896 21.389%,#7cbb6b 21.467%,#f0f7ba 21.545%,#b6dc8a 21.623%,#d6eb9a 21.701%,#e4f2a4 21.779%,#dbee9d 21.857%,#6db063 21.935%,#eff7b8 22.013%,#c0e18f 22.091%,#cce695 22.169%,#e3f2a2 22.247%,#e8f4ab 22.326%,#e6f3a8 22.404%,#8ac373 22.482%,#f8fbc8 22.56%,#deef9e 22.638%,#b9dd8b 22.716%,#a6d382 22.794%,#d4ea99 22.872%,#f5fac2 22.95%,#c9e594 23.028%,#cae694 23.106%,#68ad61 23.184%,#e5f2a5 23.262%,#dff09f 23.34%,#f3f9bf 23.418%,#e9f4ad 23.496%,#d0e997 23.574%,#dcee9d 23.652%,#e8f4ab 23.73%,#bbde8c 23.809%,#76b768 23.887%,#478c4c 23.965%,#e5f3a6 24.043%,#bddf8d 24.121%,#b9dd8b 24.199%,#f7fbc6 24.277%,#cae594 24.355%,#d3ea98 24.433%,#e1f1a0 24.511%,#d0e897 24.589%,#f2f8bc 24.667%,#e5f2a6 24.745%,#bbde8d 24.823%,#bddf8d 24.901%,#f7fbc7 24.979%,#c4e291 25.057%,#daed9c 25.135%,#cee896 25.213%,#e1f09f 25.292%,#bcdf8d 25.37%,#ecf5b2 25.448%,#66ac5f 25.526%,#e6f3a8 25.604%,#acd785 25.682%,#78b869 25.76%,#8bc474 25.838%,#c0e18f 25.916%,#e8f4ab 25.994%,#63a95d 26.072%,#63a95d 26.111%,#fff 26.111% 26.583%,#c2e290 26.583%,#c2e290 26.622%,#4b934f 26.7%,#9cce7d 26.778%,#e5f2a5 26.856%,#549f55 26.934%,#95c979 27.012%,#c2e290 27.09%,#a4d281 27.168%,#94c978 27.246%,#deef9e 27.324%,#b9dd8b 27.402%,#c7e492 27.48%,#e0f09f 27.558%,#f3f9c0 27.636%,#91c877 27.714%,#d2e998 27.792%,#94c979 27.87%,#85c070 27.948%,#deef9e 28.026%,#abd684 28.104%,#95ca79 28.182%,#afd886 28.26%,#408147 28.338%,#f8fbc8 28.416%,#88c272 28.494%,#f7fac6 28.572%,#95ca79 28.65%,#96ca79 28.728%,#99cc7b 28.806%,#9dce7d 28.884%,#d6eb9a 28.962%,#a0d07f 29.04%,#7ab96a 29.118%,#d3ea98 29.196%,#deef9e 29.274%,#abd684 29.352%,#4a914f 29.43%,#bade8c 29.508%,#b6dc8a 29.586%,#c2e290 29.663%,#aed886 29.741%,#f8fbc8 29.819%,#c6e492 29.897%,#e0f09f 29.975%,#d9ed9b 30.053%,#c4e391 30.131%,#d7ec9a 30.209%,#9ccd7c 30.287%,#c1e190 30.365%,#b3db89 30.443%,#8fc676 30.521%,#e2f1a0 30.599%,#d4ea99 30.677%,#cee896 30.755%,#66ac5f 30.833%,#d1e998 30.911%,#a9d583 30.989%,#cce695 31.067%,#d4ea99 31.145%,#f8fbc8 31.223%,#c0e18f 31.301%,#e5f3a6 31.379%,#89c373 31.457%,#e7f3a9 31.535%,#c9e593 31.613%,#b8dd8b 31.691%,#edf6b5 31.769%,#e3f1a1 31.847%,#e2f1a0 31.925%,#a6d382 32.003%,#e5f2a6 32.081%,#f3f9c0 32.159%,#b5db89 32.237%,#f8fbc8 32.315%,#d4ea99 32.393%,#cfe896 32.471%,#b6dc8a 32.549%,#f8fbc8 32.627%,#a8d483 32.705%,#d4eb99 32.783%,#b1d987 32.861%,#d3ea98 32.939%,#b8dd8b 33.017%,#b8dd8b 33.056%,#fff 33.056% 33.667%,#bcdf8d 33.667%,#bcdf8d 33.706%,#d0e897 33.784%,#509a52 33.862%,#9dce7d 33.94%,#9cce7d 34.018%,#e4f2a3 34.096%,#65ab5f 34.174%,#b9de8c 34.252%,#b4db89 34.33%,#c1e18f 34.408%,#8fc676 34.486%,#c0e18f 34.564%,#b7dc8b 34.642%,#9bcd7c 34.72%,#e0f09f 34.798%,#356d3f 34.876%,#d3ea99 34.954%,#6db063 35.032%,#b1d987 35.11%,#c8e593 35.188%,#c7e493 35.266%,#c1e190 35.344%,#a9d583 35.422%,#73b567 35.5%,#8ec675 35.578%,#b4db89 35.656%,#73b466 35.734%,#488e4d 35.812%,#d8ec9b 35.89%,#59a358 35.968%,#a9d583 36.047%,#e3f1a2 36.125%,#c9e593 36.203%,#91c877 36.281%,#86c171 36.359%,#e5f2a5 36.437%,#468a4b 36.515%,#c0e18f 36.593%,#6cb063 36.671%,#c0e18f 36.749%,#acd785 36.827%,#c7e493 36.905%,#74b567 36.983%,#4b934f 37.061%,#a9d584 37.139%,#b5dc8a 37.217%,#498f4e 37.295%,#8fc676 37.373%,#b5db8a 37.451%,#a9d583 37.529%,#a8d483 37.607%,#e0f09f 37.685%,#6baf62 37.763%,#488d4d 37.841%,#60a75c 37.919%,#c6e492 37.997%,#e3f1a2 38.075%,#7cba6b 38.153%,#5fa75b 38.231%,#bbde8d 38.309%,#b4db89 38.387%,#e2f1a0 38.465%,#529e54 38.543%,#d7ec9b 38.621%,#55a056 38.699%,#e3f1a2 38.777%,#9cce7d 38.855%,#b3db89 38.934%,#387341 39.012%,#c5e391 39.09%,#edf6b4 39.168%,#aad684 39.246%,#90c776 39.324%,#89c373 39.402%,#356d3f 39.48%,#8ec675 39.558%,#e6f3a6 39.636%,#a0d07e 39.714%,#89c373 39.792%,#eff7b8 39.87%,#bbde8d 39.948%,#97cb7a 40.026%,#9dce7d 40.104%,#dff09f 40.182%,#d4ea99 40.26%,#acd785 40.338%,#a9d583 40.416%,#77b769 40.494%,#b4db89 40.572%,#b4db89 40.611%,#fff 40.611% 41.167%,#f4f9c1 41.167%,#f4f9c1 41.206%,#c5e392 41.284%,#c3e290 41.362%,#f8fbc8 41.44%,#b1da88 41.518%,#cbe694 41.596%,#92c877 41.674%,#d1e998 41.752%,#509b53 41.831%,#9acd7c 41.909%,#65ab5f 41.987%,#a5d381 42.065%,#b1da88 42.143%,#e8f4ab 42.221%,#cde795 42.299%,#bfe08f 42.377%,#cfe897 42.455%,#71b365 42.533%,#cee896 42.612%,#b8dd8b 42.69%,#a3d180 42.768%,#d9ed9b 42.846%,#a6d382 42.924%,#dcee9d 43.002%,#a6d382 43.08%,#b5db89 43.158%,#8ec575 43.236%,#6db063 43.315%,#a3d280 43.393%,#4c9450 43.471%,#539f54 43.549%,#c2e290 43.627%,#82bf6f 43.705%,#cee796 43.783%,#c0e18f 43.861%,#77b769 43.939%,#cee796 44.017%,#e5f3a6 44.096%,#c6e492 44.174%,#bddf8e 44.252%,#aad684 44.33%,#abd684 44.408%,#7ebc6d 44.486%,#8dc574 44.564%,#b6dc8a 44.642%,#90c776 44.72%,#7ebc6c 44.799%,#ecf6b2 44.877%,#cee796 44.955%,#cde796 45.033%,#c7e492 45.111%,#bddf8d 45.189%,#56a156 45.267%,#c8e593 45.345%,#d6eb9a 45.423%,#bfe08e 45.501%,#c5e392 45.58%,#d7ec9a 45.658%,#9bcd7c 45.736%,#9ccd7c 45.814%,#c1e18f 45.892%,#8ac373 45.97%,#49904e 46.048%,#7fbc6d 46.126%,#b4db89 46.204%,#add785 46.283%,#d2e998 46.361%,#d8ec9b 46.439%,#cce795 46.517%,#cae694 46.595%,#b0d987 46.673%,#83bf70 46.751%,#d7ec9a 46.829%,#d4ea99 46.907%,#d2e998 46.985%,#a3d280 47.064%,#9ccd7c 47.142%,#6aae62 47.22%,#8dc575 47.298%,#55a056 47.376%,#c5e392 47.454%,#e3f2a2 47.532%,#c0e18f 47.61%,#e3f2a3 47.688%,#66ab5f 47.767%,#66ab5f 47.806%,#fff 47.806% 48.194%,#e9f4ad 48.194%,#e9f4ad 48.233%,#b0d987 48.311%,#d7ec9b 48.389%,#dcee9d 48.467%,#c3e291 48.545%,#d5eb99 48.623%,#e2f1a0 48.701%,#f1f8bc 48.779%,#b2da88 48.857%,#e3f2a2 48.935%,#e5f2a5 49.013%,#bade8c 49.091%,#bbde8c 49.169%,#c5e392 49.247%,#ebf5b0 49.325%,#e2f1a0 49.403%,#dcee9d 49.481%,#a3d280 49.559%,#c2e290 49.637%,#c3e290 49.715%,#bcdf8d 49.793%,#e0f09f 49.871%,#dbee9c 49.949%,#bee08e 50.027%,#eff7b8 50.105%,#e4f2a3 50.183%,#d4ea99 50.261%,#eaf5af 50.339%,#bbde8c 50.417%,#d1e997 50.495%,#88c272 50.573%,#e6f3a7 50.651%,#dbee9d 50.729%,#d2e998 50.807%,#f8fbc8 50.885%,#b9dd8b 50.963%,#c7e492 51.041%,#61a85c 51.119%,#c8e593 51.197%,#9dce7d 51.275%,#d2e998 51.353%,#a2d180 51.431%,#e1f19f 51.509%,#d8ec9b 51.587%,#c8e593 51.664%,#bfe08f 51.742%,#a7d482 51.82%,#d4ea99 51.898%,#d0e897 51.976%,#ebf5b0 52.054%,#cae694 52.132%,#e9f4ad 52.21%,#e1f09f 52.288%,#a5d381 52.366%,#c8e593 52.444%,#539f55 52.522%,#b1da88 52.6%,#bfe08e 52.678%,#b0d987 52.756%,#a9d583 52.834%,#9ece7d 52.912%,#e4f2a3 52.99%,#b8dd8b 53.068%,#bfe08e 53.146%,#7fbc6d 53.224%,#b4db89 53.302%,#9bcd7c 53.38%,#e9f4ad 53.458%,#aad684 53.536%,#bddf8e 53.614%,#6eb164 53.692%,#cae594 53.77%,#d7ec9b 53.848%,#90c776 53.926%,#9bcd7c 54.004%,#c1e190 54.082%,#d5eb99 54.16%,#d8ec9b 54.238%,#d0e897 54.316%,#62a95d 54.394%,#e2f1a0 54.472%,#9acc7b 54.55%,#c9e593 54.628%,#c9e593 54.667%,#fff 54.667% 55.083%,#c8e593 55.083%,#c8e593 55.122%,#4f9852 55.199%,#3b7944 55.277%,#eef6b5 55.354%,#b8dd8b 55.431%,#81be6e 55.509%,#e9f4ad 55.586%,#c0e18f 55.663%,#b9dd8b 55.741%,#b3da88 55.818%,#d7ec9b 55.895%,#cfe896 55.973%,#cee896 56.05%,#d3ea99 56.127%,#6eb164 56.205%,#ebf5b0 56.282%,#c8e593 56.359%,#96ca79 56.437%,#d6eb9a 56.514%,#d1e998 56.591%,#b8dd8b 56.669%,#9ccd7c 56.746%,#c3e291 56.823%,#9dce7d 56.901%,#d8ec9b 56.978%,#dbee9d 57.055%,#c3e290 57.133%,#f1f8bb 57.21%,#c5e391 57.287%,#cae594 57.364%,#d6eb9a 57.442%,#60a85c 57.519%,#a2d180 57.596%,#b8dd8b 57.674%,#e3f2a2 57.751%,#c9e594 57.828%,#7fbc6d 57.906%,#c2e290 57.983%,#428348 58.06%,#89c373 58.138%,#bbde8c 58.215%,#79b96a 58.292%,#81be6e 58.37%,#9dce7d 58.447%,#e6f3a6 58.524%,#83bf6f 58.602%,#9cce7d 58.679%,#bade8c 58.756%,#e4f2a4 58.834%,#f8fbc8 58.911%,#99cc7b 58.988%,#6caf62 59.066%,#c0e18f 59.143%,#b1da88 59.22%,#c1e18f 59.298%,#80bd6e 59.375%,#a1d07f 59.452%,#a1d07f 59.53%,#dcee9d 59.607%,#77b769 59.684%,#b6dc8a 59.762%,#54a055 59.839%,#a1d17f 59.916%,#4b924f 59.994%,#a7d482 60.071%,#b8dd8b 60.148%,#b5db89 60.226%,#85c171 60.303%,#6baf62 60.38%,#7ebc6d 60.458%,#e7f3a9 60.535%,#76b668 60.612%,#75b668 60.69%,#dcee9d 60.767%,#dcee9d 60.806%,#fff 60.806% 61.25%,#bbde8d 61.25%,#bbde8d 61.289%,#b8dd8b 61.366%,#b4db89 61.444%,#509b53 61.521%,#95ca79 61.599%,#d4ea99 61.676%,#add785 61.754%,#7ebc6d 61.831%,#c7e493 61.908%,#a8d483 61.986%,#bee08e 62.063%,#9bcd7c 62.141%,#a3d180 62.218%,#b5dc8a 62.296%,#ddef9d 62.373%,#5da65a 62.451%,#b6dc8a 62.528%,#3e7d46 62.606%,#64aa5e 62.683%,#c1e18f 62.761%,#c8e493 62.838%,#add785 62.915%,#f8fbc8 62.993%,#b3da89 63.07%,#8fc676 63.148%,#95ca79 63.225%,#5da65a 63.303%,#86c171 63.38%,#dbee9c 63.458%,#bade8c 63.535%,#93c978 63.613%,#7dbb6c 63.69%,#e2f1a0 63.768%,#a3d280 63.845%,#a2d180 63.923%,#cee896 64%,#f1f8bb 64.077%,#aad584 64.155%,#7ebc6d 64.232%,#4e9751 64.31%,#cee796 64.387%,#8bc474 64.465%,#9dce7d 64.542%,#7ebc6d 64.62%,#8ec575 64.697%,#9ecf7e 64.775%,#f2f8bd 64.852%,#95ca79 64.93%,#9acc7b 65.007%,#eaf5af 65.085%,#a6d381 65.162%,#aed886 65.239%,#d4ea99 65.317%,#b8dd8b 65.394%,#aad684 65.472%,#b2da88 65.549%,#c0e18f 65.627%,#bddf8e 65.704%,#99cc7b 65.782%,#8ec675 65.859%,#71b365 65.937%,#97cb7a 66.014%,#7cbb6c 66.092%,#4f9952 66.169%,#b7dc8b 66.246%,#9dce7d 66.324%,#9ece7d 66.401%,#9acc7b 66.479%,#a4d281 66.556%,#4a904e 66.634%,#71b366 66.711%,#71b366 66.75%,#fff 66.75% 67.278%,#b8dd8b 67.278%,#b8dd8b 67.317%,#3b7944 67.394%,#bfe08e 67.471%,#74b567 67.549%,#79b96a 67.626%,#529e54 67.704%,#67ac60 67.781%,#83c070 67.859%,#f8fbc8 67.936%,#aad684 68.014%,#60a85c 68.091%,#99cc7b 68.169%,#a5d381 68.246%,#f5f9c2 68.324%,#bddf8d 68.401%,#b1d987 68.478%,#a9d583 68.556%,#84c070 68.633%,#d0e997 68.711%,#c4e391 68.788%,#99cc7b 68.866%,#e0f09f 68.943%,#cae594 69.021%,#356d3f 69.098%,#b8dd8b 69.176%,#d1e998 69.253%,#b7dc8a 69.331%,#b5dc8a 69.408%,#c1e18f 69.486%,#c5e391 69.563%,#74b567 69.64%,#63aa5e 69.718%,#8dc575 69.795%,#a0d07e 69.873%,#b0d987 69.95%,#b6dc8a 70.028%,#356d3f 70.105%,#70b265 70.183%,#9acc7b 70.26%,#77b769 70.338%,#8ec675 70.415%,#9fcf7e 70.493%,#8ec575 70.57%,#cbe695 70.647%,#bcdf8d 70.725%,#a6d382 70.802%,#63aa5e 70.88%,#a8d583 70.957%,#d9ed9c 71.035%,#5fa75b 71.112%,#a8d583 71.19%,#b0d987 71.267%,#519d53 71.345%,#65ab5f 71.422%,#bfe08e 71.5%,#e7f3a9 71.577%,#e3f2a3 71.655%,#9cce7d 71.732%,#5aa459 71.809%,#4f9952 71.887%,#96ca79 71.964%,#f0f7b9 72.042%,#9ccd7c 72.119%,#b2da88 72.197%,#a6d382 72.274%,#98cb7a 72.352%,#cee796 72.429%,#99cc7b 72.507%,#97cb7a 72.584%,#98cb7a 72.662%,#356f3f 72.739%,#356f3f 72.778%,#fff 72.778% 73.208%,#c3e290 73.208%,#c3e290 73.247%,#a0d07f 73.325%,#d3ea99 73.402%,#bddf8e 73.48%,#aed886 73.558%,#e6f3a6 73.635%,#d8ec9b 73.713%,#9bcd7c 73.791%,#b4db89 73.868%,#b0d987 73.946%,#e0f09f 74.024%,#f8fbc8 74.101%,#c0e08f 74.179%,#ebf5b0 74.257%,#d4ea99 74.334%,#c5e392 74.412%,#c4e391 74.49%,#bbde8c 74.567%,#bfe08e 74.645%,#bcdf8d 74.723%,#9bcd7c 74.8%,#c4e391 74.878%,#c0e18f 74.955%,#dcee9d 75.033%,#e6f3a7 75.111%,#e4f2a4 75.188%,#8bc474 75.266%,#c1e18f 75.344%,#bddf8e 75.421%,#d1e998 75.499%,#b1d987 75.577%,#cce795 75.654%,#56a156 75.732%,#c5e391 75.81%,#91c877 75.887%,#e5f3a6 75.965%,#e6f3a8 76.043%,#a5d381 76.12%,#d0e897 76.198%,#e5f3a6 76.276%,#abd684 76.353%,#b1d987 76.431%,#c1e190 76.509%,#eaf5af 76.586%,#e0f09f 76.664%,#eef6b6 76.741%,#eaf4ae 76.819%,#e5f2a5 76.897%,#b9dd8c 76.974%,#d9ed9b 77.052%,#e1f1a0 77.13%,#3f8047 77.207%,#eaf5ae 77.285%,#3e7d45 77.363%,#aed886 77.44%,#bbde8c 77.518%,#eaf5ae 77.596%,#d2e998 77.673%,#f0f8ba 77.751%,#bcdf8d 77.829%,#c6e492 77.906%,#d1e998 77.984%,#b6dc8a 78.062%,#f6fac3 78.139%,#add785 78.217%,#e8f4ab 78.295%,#e8f4ab 78.333%,#fff 78.333% 78.833%,#a4d281 78.833%,#a4d281 78.872%,#b8dd8b 78.95%,#d6eb9a 79.027%,#d2e998 79.105%,#7bba6b 79.182%,#60a85c 79.26%,#78b869 79.337%,#6cb063 79.415%,#c8e593 79.492%,#498f4d 79.57%,#91c877 79.647%,#92c877 79.725%,#f8fbc8 79.802%,#bcdf8d 79.88%,#c3e291 79.958%,#356d3f 80.035%,#9ccd7c 80.113%,#b5db89 80.19%,#a4d281 80.268%,#72b466 80.345%,#509b53 80.423%,#bcdf8d 80.5%,#a7d482 80.578%,#a1d07f 80.655%,#8ac373 80.733%,#deef9e 80.81%,#cee896 80.888%,#c5e391 80.965%,#45894b 81.043%,#8ec575 81.12%,#aed886 81.198%,#468b4c 81.275%,#6eb163 81.353%,#4a914f 81.431%,#b8dd8b 81.508%,#add785 81.586%,#d4ea99 81.663%,#b7dc8a 81.741%,#b6dc8a 81.818%,#94c978 81.896%,#a2d180 81.973%,#90c776 82.051%,#daed9c 82.128%,#8dc575 82.206%,#a8d483 82.283%,#397642 82.361%,#afd886 82.438%,#85c171 82.516%,#8bc474 82.593%,#9ecf7e 82.671%,#89c372 82.749%,#cde796 82.826%,#98cc7b 82.904%,#87c271 82.981%,#356f3f 83.059%,#d8ec9b 83.136%,#cbe694 83.214%,#a2d180 83.291%,#3c7a44 83.369%,#61a85c 83.446%,#66ac5f 83.524%,#a5d381 83.601%,#478c4c 83.679%,#b0d987 83.756%,#76b668 83.834%,#95c979 83.911%,#5ca559 83.989%,#5ca559 84.028%,#fff 84.028% 84.444%,#a3d280 84.444%,#a3d280 84.483%,#aad684 84.562%,#a9d584 84.64%,#92c877 84.718%,#f8fbc8 84.796%,#9dce7d 84.874%,#cae594 84.952%,#64aa5e 85.03%,#c1e190 85.108%,#94c978 85.186%,#468b4c 85.264%,#5ea65b 85.342%,#428449 85.42%,#a9d583 85.498%,#95ca79 85.576%,#8cc474 85.654%,#8cc474 85.732%,#e9f4ae 85.81%,#65ab5f 85.888%,#5ba459 85.966%,#7fbd6d 86.044%,#ecf5b2 86.122%,#e0f09f 86.2%,#99cc7b 86.278%,#d7ec9a 86.356%,#bfe08e 86.435%,#68ad60 86.513%,#7dbb6c 86.591%,#95ca79 86.669%,#59a358 86.747%,#a0d07e 86.825%,#bbde8d 86.903%,#356d3f 86.981%,#e9f4ad 87.059%,#96ca7a 87.137%,#9fcf7e 87.215%,#89c372 87.293%,#aad584 87.371%,#f3f9bf 87.449%,#70b365 87.527%,#519c53 87.605%,#6eb163 87.683%,#7dbb6c 87.761%,#87c271 87.839%,#98cc7b 87.917%,#c4e391 87.995%,#5fa75b 88.073%,#d2ea98 88.151%,#afd886 88.229%,#97cb7a 88.308%,#a7d482 88.386%,#c0e18f 88.464%,#8fc676 88.542%,#8ac473 88.62%,#97cb7a 88.698%,#b5db8a 88.776%,#6aaf62 88.854%,#529e54 88.932%,#c7e492 89.01%,#a5d281 89.088%,#356d3f 89.166%,#83c070 89.244%,#d3ea99 89.322%,#d3ea99 89.361%,#fff 89.361% 89.75%,#a1d07f 89.75%,#a1d07f 89.789%,#c5e391 89.866%,#81be6e 89.943%,#c1e18f 90.02%,#97ca7a 90.097%,#a1d07f 90.175%,#c9e594 90.252%,#95c979 90.329%,#deef9e 90.406%,#77b768 90.484%,#a5d381 90.561%,#94c978 90.638%,#b8dd8b 90.715%,#5fa75b 90.792%,#c4e391 90.87%,#a0d07e 90.947%,#bfe08f 91.024%,#d4ea99 91.101%,#b9dd8b 91.178%,#98cb7a 91.256%,#a7d482 91.333%,#add785 91.41%,#acd785 91.487%,#e0f09f 91.565%,#bcdf8d 91.642%,#6cb063 91.719%,#cae594 91.796%,#356d3f 91.873%,#66ab5f 91.951%,#bee08e 92.028%,#b5db89 92.105%,#bcdf8d 92.182%,#67ac60 92.259%,#c8e493 92.337%,#c0e18f 92.414%,#eef7b7 92.491%,#b6dc8a 92.568%,#e7f3a9 92.645%,#ebf5b1 92.723%,#65ab5e 92.8%,#c4e291 92.877%,#dbee9d 92.954%,#b5db89 93.032%,#daed9c 93.109%,#bade8c 93.186%,#c0e18f 93.263%,#b4db89 93.34%,#8bc474 93.418%,#b1d987 93.495%,#c5e391 93.572%,#b0d987 93.649%,#e6f3a7 93.726%,#e7f3a8 93.804%,#c7e492 93.881%,#d6eb9a 93.958%,#e9f4ac 94.035%,#89c372 94.113%,#b6dc8a 94.19%,#9dce7d 94.267%,#9dce7d 94.306%,#fff 94.306% 94.778%,#d9ed9c 94.778%,#d9ed9c 94.817%,#c8e593 94.894%,#d4ea99 94.971%,#a3d180 95.049%,#356d3f 95.126%,#8fc676 95.204%,#c1e190 95.281%,#9fcf7e 95.359%,#edf6b5 95.436%,#bddf8d 95.514%,#ebf5b1 95.591%,#bade8c 95.669%,#a9d583 95.746%,#add785 95.824%,#b7dd8b 95.901%,#4e9851 95.979%,#b5dc8a 96.056%,#9dce7d 96.134%,#c0e08f 96.211%,#4b924f 96.289%,#d9ec9b 96.366%,#d8ec9b 96.444%,#bddf8d 96.521%,#92c877 96.599%,#d4ea99 96.676%,#b7dc8a 96.754%,#4f9a52 96.831%,#72b466 96.909%,#b6dc8a 96.986%,#eaf4ae 97.064%,#abd684 97.141%,#bbde8d 97.219%,#d0e897 97.296%,#d2e998 97.374%,#90c776 97.451%,#b9dd8b 97.529%,#93c878 97.606%,#e8f4ac 97.683%,#89c373 97.761%,#b8dd8b 97.838%,#488e4d 97.916%,#ecf5b2 97.993%,#98cb7a 98.071%,#8dc575 98.148%,#71b365 98.226%,#c5e391 98.303%,#a3d180 98.381%,#7ab96a 98.458%,#97cb7a 98.536%,#d6eb9a 98.613%,#95ca79 98.691%,#73b466 98.768%,#bddf8e 98.846%,#bade8c 98.923%,#b1da88 99.001%,#9bcd7c 99.078%,#a4d281 99.156%,#a4d281 99.194%,#fff 99.194% 100%)"></div><div class="d" style="left:180px;top:163.2px;width:202px;height:202px;background:#fff"></div><div class="d" style="left:181.5px;top:164.7px;width:199px;height:199px;background:conic-gradient(#fff 0% 1.056%,#a1d9c7 1.056%,#a1d9c7 1.094%,#8ed1b9 1.172%,#97d5c0 1.25%,#74c4a5 1.327%,#89ceb5 1.405%,#2d6d46 1.483%,#67bb9a 1.56%,#b0e0d2 1.638%,#93d3bd 1.715%,#81caaf 1.793%,#d1ede9 1.871%,#b1e0d2 1.948%,#b3e1d4 2.026%,#afe0d1 2.104%,#8dd0b8 2.181%,#73c3a4 2.259%,#addfd0 2.337%,#c5e8e0 2.414%,#d1ede8 2.492%,#d4eeea 2.569%,#ceece7 2.647%,#4ca782 2.725%,#c0e6dd 2.802%,#c3e8df 2.88%,#bee6dc 2.958%,#9ed8c5 3.035%,#cfede7 3.113%,#d5efea 3.191%,#c5e8e0 3.268%,#caeae4 3.346%,#bbe4d9 3.423%,#c8eae2 3.501%,#b1e0d3 3.579%,#b3e1d4 3.656%,#d9f0ed 3.734%,#d9f0ed 3.812%,#e1f3f1 3.889%,#e1f3f1 3.967%,#cbebe4 4.045%,#a5dbca 4.122%,#dbf1ee 4.2%,#e2f3f1 4.277%,#e9f6f5 4.355%,#dbf1ee 4.433%,#ddf2ef 4.51%,#c7e9e2 4.588%,#c7e9e1 4.666%,#c5e8e0 4.743%,#b1e0d2 4.821%,#b7e2d6 4.899%,#eef8f8 4.976%,#bae4d9 5.054%,#d5efeb 5.131%,#ddf2ef 5.209%,#d5efeb 5.287%,#ddf2ef 5.364%,#e8f6f5 5.442%,#d8f0ec 5.52%,#d9f0ed 5.597%,#d1ede9 5.675%,#e1f3f1 5.752%,#eef8f8 5.83%,#d8f0ec 5.908%,#d9f0ed 5.985%,#dbf1ee 6.063%,#c3e7df 6.141%,#e7f5f4 6.218%,#e6f5f4 6.296%,#eef8f8 6.374%,#e8f6f5 6.451%,#d7efec 6.529%,#d8f0ec 6.606%,#d3eeea 6.684%,#9fd8c5 6.762%,#daf1ed 6.839%,#eef8f8 6.917%,#eef8f8 6.995%,#eef8f8 7.072%,#daf1ed 7.15%,#b4e1d4 7.228%,#eef8f8 7.305%,#e2f3f1 7.383%,#e0f3f0 7.46%,#eef8f8 7.538%,#e0f3f0 7.616%,#d4efea 7.693%,#ddf2ef 7.771%,#eef8f8 7.849%,#e2f3f1 7.926%,#96d4bf 8.004%,#eef8f8 8.082%,#70c2a2 8.159%,#e1f3f1 8.237%,#eef8f8 8.314%,#daf1ed 8.392%,#d7efec 8.47%,#dcf1ee 8.547%,#eaf7f6 8.625%,#e5f5f3 8.703%,#eef8f8 8.78%,#dcf1ee 8.858%,#dff2f0 8.936%,#def2f0 9.013%,#c0e6dd 9.091%,#9dd8c4 9.168%,#eef8f8 9.246%,#eaf6f6 9.324%,#def2f0 9.401%,#c5e9e1 9.479%,#e1f3f1 9.557%,#c0e6dd 9.634%,#e5f5f3 9.712%,#e1f3f1 9.79%,#439c76 9.867%,#dcf1ef 9.945%,#d9f0ed 10.022%,#cbebe5 10.1%,#dbf1ee 10.178%,#dff2f0 10.255%,#d4efea 10.333%,#ddf2ef 10.411%,#d3eee9 10.488%,#acdecf 10.566%,#caeae4 10.644%,#a9ddcd 10.721%,#b4e1d5 10.799%,#d8f0ec 10.876%,#cfede7 10.954%,#eef8f8 11.032%,#c8eae3 11.109%,#cfede7 11.187%,#cfede8 11.265%,#d7efec 11.342%,#c2e7de 11.42%,#d0ede8 11.498%,#c0e7dd 11.575%,#8cd0b8 11.653%,#d2eee9 11.73%,#8bcfb7 11.808%,#b0e0d2 11.886%,#bce5da 11.963%,#b6e2d6 12.041%,#a7dccb 12.119%,#a2dac8 12.196%,#a8dccc 12.274%,#69bd9c 12.351%,#72c3a3 12.429%,#7bc7ab 12.507%,#95d4be 12.584%,#368058 12.662%,#47a37d 12.74%,#b3e1d4 12.817%,#c4e8e0 12.895%,#b3e1d4 12.973%,#347d56 13.05%,#409670 13.128%,#a3dbc9 13.205%,#8aceb6 13.283%,#8acfb6 13.361%,#a8ddcc 13.438%,#7dc8ac 13.516%,#bde5db 13.594%,#91d2bb 13.671%,#8ed1b9 13.749%,#8cd0b8 13.827%,#93d3bd 13.904%,#98d5c0 13.982%,#7fc9ad 14.059%,#a7dccb 14.137%,#9fd9c6 14.215%,#99d6c1 14.292%,#89ceb5 14.37%,#7bc7ab 14.448%,#49a47f 14.525%,#64b997 14.603%,#7dc8ac 14.681%,#8fd1b9 14.758%,#6bbe9d 14.836%,#36815a 14.913%,#93d3bc 14.991%,#6bbe9d 15.069%,#82caaf 15.146%,#99d6c1 15.224%,#83cbb0 15.302%,#81caaf 15.379%,#64b897 15.457%,#72c3a4 15.535%,#a3dac8 15.612%,#91d2bb 15.69%,#e6f5f4 15.767%,#89ceb5 15.845%,#357f58 15.923%,#a7dccc 16%,#67bb9a 16.078%,#2d6d46 16.156%,#2d6d46 16.194%,#fff 16.194% 16.667%,#9ed8c5 16.667%,#9ed8c5 16.706%,#e8f6f5 16.784%,#61b794 16.862%,#81caaf 16.94%,#a2dac8 17.018%,#b3e1d4 17.096%,#50a985 17.174%,#87cdb3 17.252%,#a9ddcd 17.33%,#2d6d46 17.408%,#439b75 17.486%,#347d56 17.564%,#89ceb5 17.642%,#82cbb0 17.72%,#7dc8ac 17.798%,#7dc8ac 17.876%,#61b795 17.955%,#5fb593 18.033%,#96d4bf 18.111%,#439c76 18.189%,#afdfd1 18.267%,#82cbb0 18.345%,#8ccfb7 18.423%,#39865f 18.501%,#a0d9c6 18.579%,#64b997 18.657%,#2d6d46 18.735%,#74c4a5 18.813%,#bae4d9 18.891%,#7bc7aa 18.969%,#65b998 19.047%,#8ccfb7 19.125%,#95d4be 19.203%,#a2dac8 19.281%,#7cc8ab 19.36%,#a3dac9 19.438%,#c1e7de 19.516%,#94d3be 19.594%,#7ac7aa 19.672%,#d7f0ec 19.75%,#b3e1d4 19.828%,#b8e3d7 19.906%,#e0f3f1 19.984%,#edf8f7 20.062%,#afdfd1 20.14%,#cbebe5 20.218%,#a0d9c6 20.296%,#a2dac8 20.374%,#e3f4f2 20.452%,#eef8f8 20.53%,#c5e9e0 20.608%,#ccebe5 20.686%,#c8eae2 20.764%,#addfd0 20.843%,#b8e3d7 20.921%,#bae4d9 20.999%,#c3e8df 21.077%,#c8eae3 21.155%,#b0e0d2 21.233%,#bce5da 21.311%,#a9ddcd 21.389%,#a4dbc9 21.467%,#ddf2ef 21.545%,#7dc8ac 21.623%,#e7f6f4 21.701%,#5eb492 21.779%,#d1ede9 21.857%,#d8f0ec 21.935%,#bce5da 22.013%,#b5e2d5 22.091%,#ddf2ef 22.169%,#e0f3f1 22.247%,#d4eeea 22.326%,#eef8f8 22.404%,#d9f0ed 22.482%,#c6e9e1 22.56%,#d8f0ec 22.638%,#e6f5f4 22.716%,#c0e6dd 22.794%,#eef8f8 22.872%,#eef8f8 22.95%,#b4e1d4 23.028%,#e5f5f3 23.106%,#d9f0ed 23.184%,#d2eee9 23.262%,#b7e3d7 23.34%,#daf1ed 23.418%,#d3eeea 23.496%,#e3f4f2 23.574%,#d9f0ed 23.652%,#eef8f8 23.73%,#e0f3f1 23.809%,#eaf6f6 23.887%,#dcf2ef 23.965%,#b5e2d5 24.043%,#c9eae3 24.121%,#cdece6 24.199%,#c7e9e2 24.277%,#b2e0d3 24.355%,#e5f5f3 24.433%,#e4f4f3 24.511%,#dff2f0 24.589%,#eef8f8 24.667%,#e1f3f1 24.745%,#c1e7de 24.823%,#cdece6 24.901%,#c3e8df 24.979%,#eef8f8 25.057%,#7ac7a9 25.135%,#7fc9ad 25.213%,#afdfd1 25.292%,#bfe6dc 25.37%,#ddf2ef 25.448%,#b8e3d7 25.526%,#d6efeb 25.604%,#d4efea 25.682%,#daf1ed 25.76%,#e0f3f0 25.838%,#d2eee9 25.916%,#e0f3f1 25.994%,#cfede7 26.072%,#cfede7 26.111%,#fff 26.111% 26.583%,#3e926b 26.583%,#3e926b 26.622%,#74c4a5 26.7%,#bce5da 26.778%,#51aa86 26.856%,#8fd1ba 26.934%,#bbe4da 27.012%,#83cbb0 27.09%,#bee6db 27.168%,#c6e9e1 27.246%,#88ceb4 27.324%,#a9ddcd 27.402%,#abdece 27.48%,#b7e3d7 27.558%,#c0e6dd 27.636%,#80caae 27.714%,#b6e2d6 27.792%,#9ed8c5 27.87%,#93d3bd 27.948%,#c4e8e0 28.026%,#cbebe4 28.104%,#b0e0d2 28.182%,#97d5c0 28.26%,#a8ddcc 28.338%,#afe0d1 28.416%,#b5e2d5 28.494%,#a6dccb 28.572%,#4ca681 28.65%,#63b896 28.728%,#a6dccb 28.806%,#96d4bf 28.884%,#a7dccc 28.962%,#88ceb4 29.04%,#aadece 29.118%,#b7e3d7 29.196%,#b1e0d2 29.274%,#3a8861 29.352%,#8ed0b9 29.43%,#91d2bb 29.508%,#8dd0b8 29.586%,#40956e 29.663%,#acdecf 29.741%,#80caae 29.819%,#a8dccc 29.897%,#7dc8ac 29.975%,#b1e0d2 30.053%,#68bc9a 30.131%,#5db491 30.209%,#8cd0b8 30.287%,#62b896 30.365%,#eef8f8 30.443%,#7bc7ab 30.521%,#98d5c1 30.599%,#69bd9c 30.677%,#419871 30.755%,#b9e4d8 30.833%,#addfd0 30.911%,#5ab18e 30.989%,#eef8f8 31.067%,#bfe6dc 31.145%,#69bd9c 31.223%,#67bb9a 31.301%,#85ccb2 31.379%,#90d1ba 31.457%,#c2e7df 31.535%,#79c6a9 31.613%,#e8f6f5 31.691%,#64b997 31.769%,#86cdb3 31.847%,#92d2bc 31.925%,#8bcfb7 32.003%,#a4dbc9 32.081%,#77c5a7 32.159%,#76c5a6 32.237%,#93d3bc 32.315%,#b4e1d5 32.393%,#83cbb0 32.471%,#7fc9ae 32.549%,#4ca782 32.627%,#7ac7a9 32.705%,#82cbb0 32.783%,#87cdb4 32.861%,#55ad89 32.939%,#337b54 33.017%,#337b54 33.056%,#fff 33.056% 33.667%,#87cdb3 33.667%,#87cdb3 33.706%,#7ec9ad 33.784%,#6bbe9d 33.862%,#d4eeea 33.94%,#c0e7dd 34.018%,#81caaf 34.096%,#e7f5f4 34.174%,#8acfb6 34.252%,#5bb28f 34.33%,#b2e1d3 34.408%,#91d2bb 34.486%,#70c2a2 34.564%,#a2dac8 34.642%,#8ccfb7 34.72%,#a4dbc9 34.798%,#aedfd0 34.876%,#6bbe9d 34.954%,#a4dbc9 35.032%,#6cbf9f 35.11%,#d9f0ed 35.188%,#4ba681 35.266%,#347d55 35.344%,#a1d9c7 35.422%,#31764e 35.5%,#85ccb2 35.578%,#57af8c 35.656%,#b3e1d4 35.734%,#a5dbca 35.812%,#6fc1a1 35.89%,#6ec0a0 35.968%,#5fb593 36.047%,#d0ede8 36.125%,#69bc9b 36.203%,#78c6a8 36.281%,#3b8b64 36.359%,#a6dccb 36.437%,#78c6a8 36.515%,#81caaf 36.593%,#8ccfb7 36.671%,#5fb592 36.749%,#2d6d46 36.827%,#96d4bf 36.905%,#8fd1ba 36.983%,#90d2bb 37.061%,#45a07a 37.139%,#68bc9b 37.217%,#7cc8ab 37.295%,#8bcfb6 37.373%,#aedfd0 37.451%,#a7dccb 37.529%,#439d77 37.607%,#b2e0d3 37.685%,#82cbb0 37.763%,#68bc9b 37.841%,#a4dbc9 37.919%,#d3eee9 37.997%,#70c2a2 38.075%,#6dc09f 38.153%,#4ca681 38.231%,#c1e7dd 38.309%,#72c3a3 38.387%,#6abd9d 38.465%,#9dd8c4 38.543%,#52ab87 38.621%,#b3e1d4 38.699%,#a5dbca 38.777%,#5cb390 38.855%,#56ae8a 38.934%,#99d6c1 39.012%,#87cdb3 39.09%,#aaddcd 39.168%,#bee6db 39.246%,#bde5db 39.324%,#8dd0b8 39.402%,#69bd9c 39.48%,#2d6d46 39.558%,#b2e1d3 39.636%,#8ed0b9 39.714%,#eef8f8 39.792%,#eef8f8 39.87%,#7dc8ac 39.948%,#abdece 40.026%,#bae4d9 40.104%,#82cbb0 40.182%,#bde5db 40.26%,#93d3bc 40.338%,#8dd0b8 40.416%,#87cdb4 40.494%,#acdecf 40.572%,#acdecf 40.611%,#fff 40.611% 41.167%,#70c2a2 41.167%,#70c2a2 41.206%,#96d4bf 41.284%,#7ac7aa 41.362%,#84cbb1 41.44%,#83cbb0 41.518%,#49a57f 41.596%,#aadece 41.674%,#b7e3d6 41.752%,#2d6d46 41.831%,#2d6d46 41.909%,#6ec0a0 41.987%,#bde5db 42.065%,#40956f 42.143%,#b4e1d5 42.221%,#6dbf9f 42.299%,#89ceb5 42.377%,#98d5c0 42.455%,#a1dac7 42.533%,#78c6a8 42.612%,#89ceb5 42.69%,#63b896 42.768%,#37835c 42.846%,#99d6c1 42.924%,#5bb28f 43.002%,#9ad6c2 43.08%,#aaddcd 43.158%,#86ccb3 43.236%,#79c6a9 43.315%,#cdece6 43.393%,#59b18e 43.471%,#acdecf 43.549%,#8dd0b8 43.627%,#c4e8e0 43.705%,#65ba98 43.783%,#5eb592 43.861%,#4da782 43.939%,#2d6d46 44.017%,#72c3a3 44.096%,#94d3be 44.174%,#a4dbc9 44.252%,#73c3a4 44.33%,#90d1ba 44.408%,#51ab86 44.486%,#2d6d46 44.564%,#3c8e67 44.642%,#b4e2d5 44.72%,#a4dbc9 44.799%,#74c4a5 44.877%,#6cbf9f 44.955%,#a8ddcc 45.033%,#8fd1b9 45.111%,#bae4d9 45.189%,#30744c 45.267%,#2d6d46 45.345%,#bde5db 45.423%,#63b896 45.501%,#80caae 45.58%,#2e7149 45.658%,#8fd1b9 45.736%,#d4efea 45.814%,#52ab87 45.892%,#8bcfb7 45.97%,#92d2bc 46.048%,#9cd7c3 46.126%,#357e56 46.204%,#81caaf 46.283%,#a4dbca 46.361%,#7fc9ad 46.439%,#46a17b 46.517%,#5eb492 46.595%,#8dd0b8 46.673%,#9bd7c3 46.751%,#47a37d 46.829%,#b2e1d3 46.907%,#6bbe9d 46.985%,#bbe4d9 47.064%,#68bc9b 47.142%,#4fa984 47.22%,#b7e3d7 47.298%,#d2eee9 47.376%,#357f58 47.454%,#2d6d46 47.532%,#449e78 47.61%,#65ba98 47.688%,#5db391 47.767%,#5db391 47.806%,#fff 47.806% 48.194%,#67bc9a 48.194%,#67bc9a 48.233%,#5cb390 48.311%,#80caae 48.389%,#7fc9ad 48.467%,#2d6d46 48.545%,#90d1ba 48.623%,#337a52 48.701%,#9fd9c6 48.779%,#73c4a5 48.857%,#addfd0 48.935%,#a7dccc 49.013%,#b7e3d7 49.091%,#e2f4f1 49.169%,#4da883 49.247%,#76c5a6 49.325%,#a9ddcd 49.403%,#6fc1a1 49.481%,#7fc9ad 49.559%,#abdece 49.637%,#62b896 49.715%,#9dd8c4 49.793%,#9cd7c4 49.871%,#8acfb6 49.949%,#78c6a8 50.027%,#81caaf 50.105%,#69bd9c 50.183%,#439c76 50.261%,#a5dbca 50.339%,#eef8f8 50.417%,#6bbe9d 50.495%,#5eb492 50.573%,#60b694 50.651%,#b8e3d7 50.729%,#70c2a2 50.807%,#93d3bd 50.885%,#2d6d46 50.963%,#a5dbca 51.041%,#a3dac9 51.119%,#48a47e 51.197%,#abdece 51.275%,#5db491 51.353%,#8bcfb6 51.431%,#64b997 51.509%,#7fc9ae 51.587%,#96d4bf 51.664%,#a5dbca 51.742%,#347c54 51.82%,#3c8c65 51.898%,#b7e2d6 51.976%,#62b896 52.054%,#9ad6c2 52.132%,#2d6d46 52.21%,#73c3a4 52.288%,#337952 52.366%,#50aa85 52.444%,#54ac88 52.522%,#58b08d 52.6%,#2d6d46 52.678%,#a4dbc9 52.756%,#75c4a6 52.834%,#c2e7df 52.912%,#b6e2d6 52.99%,#74c4a5 53.068%,#73c4a4 53.146%,#9bd7c3 53.224%,#acdecf 53.302%,#78c6a8 53.38%,#75c5a6 53.458%,#aedfd0 53.536%,#74c4a5 53.614%,#8cd0b8 53.692%,#66ba99 53.77%,#eef8f8 53.848%,#97d4bf 53.926%,#52ab87 54.004%,#a2dac8 54.082%,#a7dccb 54.16%,#a5dbca 54.238%,#78c6a8 54.316%,#6fc1a1 54.394%,#aaddce 54.472%,#85ccb2 54.55%,#86ccb3 54.628%,#86ccb3 54.667%,#fff 54.667% 55.083%,#97d5bf 55.083%,#97d5bf 55.122%,#56ae8b 55.199%,#7dc8ac 55.277%,#357f57 55.354%,#62b896 55.431%,#b8e3d7 55.509%,#d2eee9 55.586%,#82cbb0 55.663%,#67bb99 55.741%,#3e916a 55.818%,#a6dccb 55.895%,#abdece 55.973%,#2d6d46 56.05%,#2d6d46 56.127%,#59b08d 56.205%,#7fc9ad 56.282%,#4aa580 56.359%,#6dc09f 56.437%,#7dc8ac 56.514%,#419872 56.591%,#6abe9d 56.669%,#bae4d9 56.746%,#80caae 56.823%,#6cbf9e 56.901%,#58b08c 56.978%,#66ba99 57.055%,#eef8f8 57.133%,#6bbe9d 57.21%,#69bd9c 57.287%,#88ceb4 57.364%,#90d1ba 57.442%,#80caae 57.519%,#62b896 57.596%,#71c2a3 57.674%,#aaddcd 57.751%,#77c5a7 57.828%,#a7dccc 57.906%,#53ac87 57.983%,#89ceb5 58.06%,#84ccb1 58.138%,#66ba99 58.215%,#94d3be 58.292%,#addfd0 58.37%,#7dc8ac 58.447%,#83cbb1 58.524%,#4aa580 58.602%,#68bc9b 58.679%,#75c4a6 58.756%,#8fd1ba 58.834%,#a1d9c7 58.911%,#80caae 58.988%,#7bc7aa 59.066%,#46a17b 59.143%,#6cbf9e 59.22%,#2d6d46 59.298%,#a3dac9 59.375%,#85ccb2 59.452%,#347c55 59.53%,#52ab87 59.607%,#96d4bf 59.684%,#d3eeea 59.762%,#398861 59.839%,#85ccb2 59.916%,#c1e7de 59.994%,#419770 60.071%,#a2dac8 60.148%,#2d6d46 60.226%,#449e78 60.303%,#7ac7aa 60.38%,#65ba98 60.458%,#429a74 60.535%,#59b18e 60.612%,#2d6d46 60.69%,#7bc7aa 60.767%,#7bc7aa 60.806%,#fff 60.806% 61.25%,#b6e2d6 61.25%,#b6e2d6 61.289%,#9bd7c3 61.366%,#5cb390 61.444%,#79c6a9 61.521%,#d5efea 61.599%,#82cbb0 61.676%,#55ad89 61.754%,#9bd7c3 61.831%,#6fc1a1 61.908%,#51ab86 61.986%,#73c4a5 62.063%,#49a47f 62.141%,#94d3bd 62.218%,#2d6d46 62.296%,#91d2bb 62.373%,#57af8b 62.451%,#5ab18e 62.528%,#70c2a2 62.606%,#9bd6c2 62.683%,#48a47e 62.761%,#aaddce 62.838%,#8acfb6 62.915%,#8bcfb6 62.993%,#83cbb0 63.07%,#b5e2d5 63.148%,#74c4a5 63.225%,#aedfd0 63.303%,#b2e1d3 63.38%,#7dc8ac 63.458%,#55ae8a 63.535%,#5cb390 63.613%,#69bd9c 63.69%,#45a17b 63.768%,#aedfd1 63.845%,#75c4a5 63.923%,#7bc7aa 64%,#88ceb4 64.077%,#5bb28f 64.155%,#a8ddcc 64.232%,#8fd1b9 64.31%,#a9ddcd 64.387%,#7fc9ae 64.465%,#49a47f 64.542%,#449e78 64.62%,#95d4be 64.697%,#75c4a6 64.775%,#2d6d46 64.852%,#afdfd1 64.93%,#6bbe9d 65.007%,#439b75 65.085%,#63b897 65.162%,#7ac7a9 65.239%,#3a8962 65.317%,#67bb99 65.394%,#9bd7c3 65.472%,#40966f 65.549%,#6abe9d 65.627%,#bbe4d9 65.704%,#72c3a4 65.782%,#5fb592 65.859%,#a4dbca 65.937%,#85ccb2 66.014%,#acdecf 66.092%,#64b997 66.169%,#96d4bf 66.246%,#5ab28f 66.324%,#62b795 66.401%,#85ccb2 66.479%,#357e57 66.556%,#77c6a8 66.634%,#7cc8ab 66.711%,#7cc8ab 66.75%,#fff 66.75% 67.278%,#37825b 67.278%,#37825b 67.317%,#66bb99 67.394%,#99d6c1 67.471%,#88ceb4 67.549%,#429b74 67.626%,#68bc9b 67.704%,#7ec9ad 67.781%,#a1dac8 67.859%,#61b795 67.936%,#c8eae2 68.014%,#73c3a4 68.091%,#63b897 68.169%,#a5dbca 68.246%,#addecf 68.324%,#58af8c 68.401%,#61b694 68.478%,#70c2a2 68.556%,#439b74 68.633%,#77c5a7 68.711%,#83cbb1 68.788%,#75c4a6 68.866%,#64b997 68.943%,#59b08d 69.021%,#55ad89 69.098%,#81caaf 69.176%,#327951 69.253%,#72c3a3 69.331%,#9bd7c3 69.408%,#69bd9c 69.486%,#53ac88 69.563%,#49a47e 69.64%,#74c4a5 69.718%,#2d6d46 69.795%,#8aceb6 69.873%,#abdece 69.95%,#7ac7aa 70.028%,#68bc9b 70.105%,#65b998 70.183%,#8cd0b8 70.26%,#a1dac8 70.338%,#52ab87 70.415%,#61b694 70.493%,#60b694 70.57%,#3c8c65 70.647%,#b9e4d8 70.725%,#8ccfb7 70.802%,#9fd8c6 70.88%,#419871 70.957%,#2d6d46 71.035%,#6fc1a1 71.112%,#64b997 71.19%,#60b693 71.267%,#347e56 71.345%,#429a74 71.422%,#88ceb4 71.5%,#40956e 71.577%,#e2f4f2 71.655%,#a2dac8 71.732%,#71c3a3 71.809%,#bae4d9 71.887%,#4fa984 71.964%,#c3e7df 72.042%,#a7dccb 72.119%,#46a27c 72.197%,#7ac7aa 72.274%,#57af8b 72.352%,#81caaf 72.429%,#92d2bc 72.507%,#48a47e 72.584%,#89ceb5 72.662%,#5db390 72.739%,#5db390 72.778%,#fff 72.778% 73.208%,#c1e7dd 73.208%,#c1e7dd 73.247%,#92d3bc 73.325%,#96d4bf 73.402%,#87cdb3 73.48%,#83cbb0 73.558%,#a5dbca 73.635%,#9ed8c5 73.713%,#8bcfb6 73.791%,#c4e8df 73.868%,#52ab87 73.946%,#b5e2d6 74.024%,#357f57 74.101%,#d2eee9 74.179%,#4ca781 74.257%,#48a37e 74.334%,#81caaf 74.412%,#90d1ba 74.49%,#94d3bd 74.567%,#a4dbc9 74.645%,#d2eee9 74.723%,#91d2bb 74.8%,#56ae8a 74.878%,#90d1ba 74.955%,#7dc8ac 75.033%,#a3dac9 75.111%,#75c5a6 75.188%,#71c3a3 75.266%,#56ae8b 75.344%,#afdfd1 75.421%,#60b694 75.499%,#7dc8ac 75.577%,#a2dac8 75.654%,#73c3a4 75.732%,#5cb390 75.81%,#80c9ae 75.887%,#9dd8c4 75.965%,#ceece7 76.043%,#9ed8c5 76.12%,#c1e7de 76.198%,#8bcfb6 76.276%,#8fd1b9 76.353%,#a9ddcd 76.431%,#90d1ba 76.509%,#eaf7f6 76.586%,#8dd0b8 76.664%,#5cb390 76.741%,#7cc8ab 76.819%,#c9eae3 76.897%,#b4e2d5 76.974%,#eef8f8 77.052%,#81caaf 77.13%,#a3dac9 77.207%,#a9ddcd 77.285%,#bce5da 77.363%,#93d3bd 77.44%,#a1dac7 77.518%,#85ccb2 77.596%,#74c4a5 77.673%,#8dd0b8 77.751%,#327750 77.829%,#7bc7aa 77.906%,#3e906a 77.984%,#8cd0b7 78.062%,#9fd9c6 78.139%,#b0e0d2 78.217%,#99d6c1 78.295%,#99d6c1 78.333%,#fff 78.333% 78.833%,#7ec9ad 78.833%,#7ec9ad 78.872%,#96d4bf 78.95%,#75c5a6 79.027%,#abdece 79.105%,#a4dbc9 79.182%,#acdecf 79.26%,#6dc09f 79.337%,#b1e0d2 79.415%,#347d56 79.492%,#40956f 79.57%,#5eb491 79.647%,#67bb9a 79.725%,#8fd1ba 79.802%,#d7f0ec 79.88%,#5cb390 79.958%,#9fd9c6 80.035%,#a8dccc 80.113%,#93d3bc 80.19%,#6bbe9d 80.268%,#d6efeb 80.345%,#79c6a8 80.423%,#5ab18e 80.5%,#85ccb2 80.578%,#a9ddcd 80.655%,#94d3be 80.733%,#7fc9ad 80.81%,#51aa86 80.888%,#55ad89 80.965%,#a2dac8 81.043%,#89ceb5 81.12%,#58af8c 81.198%,#9ad6c2 81.275%,#addfd0 81.353%,#a7dccc 81.431%,#8acfb6 81.508%,#b4e1d4 81.586%,#79c6a9 81.663%,#9dd8c4 81.741%,#7bc7ab 81.818%,#2d6d46 81.896%,#78c6a8 81.973%,#dff3f0 82.051%,#67bb9a 82.128%,#5db491 82.206%,#acdecf 82.283%,#2e7048 82.361%,#50aa85 82.438%,#2d6d46 82.516%,#7fc9ad 82.593%,#a6dccb 82.671%,#459f79 82.749%,#99d6c1 82.826%,#6dc0a0 82.904%,#4ca782 82.981%,#8cd0b7 83.059%,#6abd9d 83.136%,#87cdb4 83.214%,#6bbe9d 83.291%,#b8e3d8 83.369%,#91d2bb 83.446%,#bce5da 83.524%,#addecf 83.601%,#71c2a2 83.679%,#5cb390 83.756%,#337a53 83.834%,#63b896 83.911%,#88ceb5 83.989%,#88ceb5 84.028%,#fff 84.028% 84.444%,#5eb592 84.444%,#5eb592 84.483%,#2d6d46 84.562%,#80caae 84.64%,#d1ede9 84.718%,#88cdb4 84.796%,#a4dbca 84.874%,#6bbe9e 84.952%,#66bb99 85.03%,#7ac7aa 85.108%,#40956e 85.186%,#a2dac8 85.264%,#b2e0d3 85.342%,#a6dbca 85.42%,#61b794 85.498%,#93d3bd 85.576%,#2d6d46 85.654%,#419871 85.732%,#a0d9c6 85.81%,#79c6a9 85.888%,#a2dac8 85.966%,#b5e2d5 86.044%,#97d5bf 86.122%,#59b08d 86.2%,#2d6d46 86.278%,#bae4d9 86.356%,#7ac7a9 86.435%,#c2e7df 86.513%,#64b997 86.591%,#52ab87 86.669%,#bde5db 86.747%,#9ed8c5 86.825%,#4fa984 86.903%,#9ed8c5 86.981%,#2d6d46 87.059%,#6fc1a1 87.137%,#7cc8ab 87.215%,#65b998 87.293%,#8acfb6 87.371%,#6cbf9f 87.449%,#8fd1ba 87.527%,#3b8b64 87.605%,#7ac7aa 87.683%,#2d6d46 87.761%,#9fd8c5 87.839%,#a6dccb 87.917%,#b6e2d6 87.995%,#9fd8c5 88.073%,#55ae8a 88.151%,#3e926b 88.229%,#9ed8c5 88.308%,#afdfd1 88.386%,#8bcfb6 88.464%,#b6e2d6 88.542%,#9dd8c5 88.62%,#84ccb1 88.698%,#51aa86 88.776%,#3c8d66 88.854%,#52ab87 88.932%,#5eb592 89.01%,#2d6d46 89.088%,#6bbe9e 89.166%,#eef8f8 89.244%,#b5e2d5 89.322%,#b5e2d5 89.361%,#fff 89.361% 89.75%,#2d6d46 89.75%,#2d6d46 89.789%,#a9ddcd 89.866%,#69bd9c 89.943%,#71c2a3 90.02%,#bee6dc 90.097%,#caebe4 90.175%,#c9eae3 90.252%,#b2e0d3 90.329%,#86cdb3 90.406%,#6abd9d 90.484%,#6fc1a1 90.561%,#9ad6c2 90.638%,#91d2bb 90.715%,#2d6d46 90.792%,#439c75 90.87%,#6bbe9d 90.947%,#b2e1d3 91.024%,#b8e3d8 91.101%,#c2e7de 91.178%,#82cbb0 91.256%,#49a47e 91.333%,#69bd9c 91.41%,#75c4a6 91.487%,#d5efeb 91.565%,#368059 91.642%,#419871 91.719%,#6fc1a1 91.796%,#c5e8e0 91.873%,#87cdb4 91.951%,#98d5c0 92.028%,#95d4be 92.105%,#c1e7de 92.182%,#c7e9e2 92.259%,#bde5db 92.337%,#acdecf 92.414%,#92d2bc 92.491%,#64b997 92.568%,#6dc0a0 92.645%,#2f7149 92.723%,#67bb9a 92.8%,#6bbe9d 92.877%,#74c4a5 92.954%,#d4eeea 93.032%,#83cbb1 93.109%,#b1e0d3 93.186%,#337a52 93.263%,#78c6a8 93.34%,#67bb9a 93.418%,#5cb390 93.495%,#a2dac8 93.572%,#a5dbca 93.649%,#2d6d46 93.726%,#abdece 93.804%,#56ae8a 93.881%,#8acfb6 93.958%,#5eb491 94.035%,#76c5a7 94.113%,#c0e6dd 94.19%,#b6e2d6 94.267%,#b6e2d6 94.306%,#fff 94.306% 94.778%,#2d6d46 94.778%,#2d6d46 94.817%,#b6e2d6 94.894%,#69bd9c 94.971%,#57af8c 95.049%,#2d6d46 95.126%,#64b997 95.204%,#93d3bd 95.281%,#86ccb3 95.359%,#449e78 95.436%,#69bc9b 95.514%,#8bcfb7 95.591%,#afdfd1 95.669%,#90d1ba 95.746%,#addfd0 95.824%,#347d56 95.901%,#8ed0b9 95.979%,#63b896 96.056%,#88ceb4 96.134%,#a8dccc 96.211%,#5cb390 96.289%,#69bd9b 96.366%,#a5dbca 96.444%,#b3e1d4 96.521%,#94d3bd 96.599%,#61b795 96.676%,#aedfd1 96.754%,#79c7a9 96.831%,#72c3a4 96.909%,#61b694 96.986%,#bae4d8 97.064%,#3d8f68 97.141%,#6ec0a0 97.219%,#58b08c 97.296%,#9bd7c3 97.374%,#61b795 97.451%,#9ad6c2 97.529%,#93d3bc 97.606%,#58b08c 97.683%,#86ccb3 97.761%,#6ec1a0 97.838%,#88ceb5 97.916%,#46a17b 97.993%,#62b795 98.071%,#3e916a 98.148%,#92d3bc 98.226%,#87cdb3 98.303%,#7ec9ac 98.381%,#7ec9ad 98.458%,#6dc09f 98.536%,#53ac88 98.613%,#53ac87 98.691%,#419770 98.768%,#a1d9c7 98.846%,#94d3be 98.923%,#99d6c1 99.001%,#6fc1a1 99.078%,#6cbf9e 99.156%,#6cbf9e 99.194%,#fff 99.194% 100%)"></div><div class="d" style="left:205.2px;top:188.4px;width:151.6px;height:151.6px;background:#fff"></div><div class="d" style="left:798.9px;top:59.4px;width:412px;height:412px;background:conic-gradient(#fff 0% 0.889%,#ebe7e5 0.889% 16.5%,#fff 16.5% 16.972%,#ebe7e5 16.972% 26.167%,#fff 26.167% 26.694%,#ebe7e5 26.694% 33.472%,#fff 33.472% 34%,#ebe7e5 34% 40.694%,#fff 40.694% 41.125%,#ebe7e5 41.125% 47.611%,#fff 47.611% 48.056%,#ebe7e5 48.056% 55.889%,#fff 55.889% 56.278%,#ebe7e5 56.278% 61.833%,#fff 61.833% 62.194%,#ebe7e5 62.194% 67.639%,#fff 67.639% 68.056%,#ebe7e5 68.056% 73.361%,#fff 73.361% 73.778%,#ebe7e5 73.778% 78.806%,#fff 78.806% 79.333%,#ebe7e5 79.333% 84.25%,#fff 84.25% 84.722%,#ebe7e5 84.722% 89.472%,#fff 89.472% 89.944%,#ebe7e5 89.944% 94.389%,#fff 94.389% 94.806%,#ebe7e5 94.806% 99%,#fff 99% 100%)"></div><div class="d" style="left:822.9px;top:83.4px;width:364px;height:364px;background:#fff"></div><div class="d" style="left:824.2px;top:84.8px;width:361.2px;height:361.2px;background:conic-gradient(#fff 0% 0.889%,#ebe7e5 0.889% 16.5%,#fff 16.5% 16.972%,#ebe7e5 16.972% 26.167%,#fff 26.167% 26.694%,#ebe7e5 26.694% 33.472%,#fff 33.472% 34%,#ebe7e5 34% 40.694%,#fff 40.694% 41.125%,#ebe7e5 41.125% 47.611%,#fff 47.611% 48.056%,#ebe7e5 48.056% 55.889%,#fff 55.889% 56.278%,#ebe7e5 56.278% 61.833%,#fff 61.833% 62.194%,#ebe7e5 62.194% 67.639%,#fff 67.639% 68.056%,#ebe7e5 68.056% 73.361%,#fff 73.361% 73.778%,#ebe7e5 73.778% 78.806%,#fff 78.806% 79.333%,#ebe7e5 79.333% 84.25%,#fff 84.25% 84.722%,#ebe7e5 84.722% 89.472%,#fff 89.472% 89.944%,#ebe7e5 89.944% 94.389%,#fff 94.389% 94.806%,#ebe7e5 94.806% 99%,#fff 99% 100%)"></div><div class="d" style="left:845.7px;top:106.2px;width:318.4px;height:318.4px;background:#fff"></div><div class="d" style="left:847.4px;top:107.9px;width:315px;height:315px;background:conic-gradient(#fff 0% 0.889%,#d4ecc6 0.889%,#d4ecc6 0.931%,#a3d7b7 1.014%,#a9dab9 1.098%,#aedcba 1.181%,#93d1b3 1.265%,#a9dab9 1.348%,#b5dfbc 1.432%,#f2f8e4 1.515%,#afdcbb 1.598%,#a4d8b7 1.682%,#94d1b3 1.765%,#bde2bf 1.849%,#bce2bf 1.932%,#cce9c4 2.016%,#c5e6c1 2.099%,#a4d8b7 2.183%,#addcba 2.266%,#abdbb9 2.35%,#edf6df 2.433%,#c1e4c0 2.517%,#d8eeca 2.6%,#bee3bf 2.684%,#d8edca 2.767%,#bee3bf 2.851%,#daeecc 2.934%,#d3ecc6 3.018%,#a2d7b7 3.101%,#b3debc 3.185%,#e2f2d4 3.268%,#bbe2be 3.352%,#d5edc7 3.435%,#cee9c4 3.519%,#dcefce 3.602%,#d7edc9 3.686%,#d4ecc6 3.769%,#d4ecc6 3.852%,#dbefcd 3.936%,#7dc7ad 4.019%,#cfeac4 4.103%,#e0f1d2 4.186%,#e8f4da 4.27%,#dff0d1 4.353%,#edf6df 4.437%,#ddf0cf 4.52%,#ddf0cf 4.604%,#f2f8e4 4.687%,#d8eeca 4.771%,#e2f2d4 4.854%,#def0d0 4.938%,#d9eecb 5.021%,#cbe8c3 5.105%,#e0f1d2 5.188%,#e4f3d6 5.272%,#dff0d1 5.355%,#e7f3d9 5.439%,#e2f2d4 5.522%,#eef7e0 5.606%,#daeecc 5.689%,#def0d0 5.773%,#a4d8b7 5.856%,#f2f8e4 5.94%,#ddefcf 6.023%,#e7f4d9 6.107%,#aedcba 6.19%,#8cceb1 6.273%,#cfeac4 6.357%,#e7f4d9 6.44%,#e8f4da 6.524%,#e4f2d6 6.607%,#edf6df 6.691%,#f2f8e4 6.774%,#81c9ae 6.858%,#e1f1d3 6.941%,#daeecc 7.025%,#f2f8e4 7.108%,#dbefcd 7.192%,#eaf5dc 7.275%,#e4f2d6 7.359%,#eef7e0 7.442%,#f2f8e4 7.526%,#f2f8e4 7.609%,#dff0d1 7.693%,#384387 7.776%,#c1e4c0 7.86%,#f2f8e4 7.943%,#ebf5dd 8.027%,#e1f1d3 8.11%,#f2f8e4 8.194%,#d2ebc5 8.277%,#e5f3d7 8.361%,#a6d9b8 8.444%,#ebf5dd 8.527%,#e0f1d2 8.611%,#edf6df 8.694%,#f2f8e4 8.778%,#d1ebc5 8.861%,#daeecc 8.945%,#f0f7e2 9.028%,#f2f8e4 9.112%,#b0ddbb 9.195%,#eef6e0 9.279%,#e4f2d6 9.362%,#edf6df 9.446%,#e2f2d4 9.529%,#f2f8e4 9.613%,#ebf5dd 9.696%,#ceeac4 9.78%,#e0f1d2 9.863%,#e1f1d3 9.947%,#e1f1d3 10.03%,#c2e4c1 10.114%,#dcefce 10.197%,#f2f8e4 10.281%,#a6d8b8 10.364%,#d9eecb 10.448%,#e9f4db 10.531%,#d5edc7 10.615%,#def0d0 10.698%,#b8e0bd 10.781%,#dbefcd 10.865%,#dff0d1 10.948%,#e5f3d7 11.032%,#e0f1d2 11.115%,#dff0d1 11.199%,#dff1d1 11.282%,#d6edc8 11.366%,#e1f1d3 11.449%,#d4ecc6 11.533%,#ecf6de 11.616%,#cce9c4 11.7%,#dcefce 11.783%,#bfe3c0 11.867%,#e7f4d9 11.95%,#ddefcf 12.034%,#d9eecb 12.117%,#cae8c3 12.201%,#ebf5dd 12.284%,#bee3bf 12.368%,#ddf0cf 12.451%,#90cfb2 12.535%,#d7edc9 12.618%,#dcefce 12.702%,#d6edc8 12.785%,#d0eac5 12.869%,#d6edc8 12.952%,#d4ecc6 13.036%,#c0e4c0 13.119%,#b4dfbc 13.202%,#c6e6c2 13.286%,#c8e7c2 13.369%,#c0e4c0 13.453%,#c6e6c2 13.536%,#def0d0 13.62%,#c6e6c2 13.703%,#80c8ad 13.787%,#afddbb 13.87%,#e2f2d4 13.954%,#d3ecc6 14.037%,#dbefcd 14.121%,#bfe3c0 14.204%,#cde9c4 14.288%,#c7e6c2 14.371%,#b5dfbc 14.455%,#aedcba 14.538%,#b5dfbc 14.622%,#d5ecc7 14.705%,#a6d9b8 14.789%,#d1ebc5 14.872%,#b3debc 14.956%,#bce2bf 15.039%,#cae8c3 15.123%,#afdcbb 15.206%,#f2f8e4 15.29%,#acdbba 15.373%,#82c9ae 15.456%,#bee3bf 15.54%,#b9e1be 15.623%,#d4ecc6 15.707%,#76c4ab 15.79%,#cce9c3 15.874%,#c1e4c0 15.957%,#b8e0bd 16.041%,#f0f7e2 16.124%,#cae8c3 16.208%,#60b7ab 16.291%,#c6e6c2 16.375%,#b6dfbd 16.458%,#b6dfbd 16.5%,#fff 16.5% 16.972%,#c8e7c2 16.972%,#c8e7c2 17.014%,#b6dfbd 17.098%,#9cd4b5 17.181%,#c7e6c2 17.265%,#cde9c4 17.348%,#e1f1d3 17.432%,#a3d7b7 17.516%,#a7d9b8 17.599%,#a8d9b8 17.683%,#d6edc8 17.766%,#4b9faf 17.85%,#a8dab9 17.933%,#c5e6c1 18.017%,#bce2be 18.101%,#61b7ab 18.184%,#95d1b3 18.268%,#afdcbb 18.351%,#8dceb1 18.435%,#a0d6b6 18.519%,#d9eecb 18.602%,#b7e0bd 18.686%,#d1ebc5 18.769%,#7dc7ad 18.853%,#d0eac5 18.936%,#c0e3c0 19.02%,#b8e0bd 19.104%,#aadab9 19.187%,#c8e7c2 19.271%,#75c4aa 19.354%,#c5e6c1 19.438%,#b0ddbb 19.522%,#aedcba 19.605%,#b2debc 19.689%,#cee9c4 19.772%,#55adae 19.856%,#96d2b3 19.94%,#e4f2d6 20.023%,#c8e7c2 20.107%,#b3debc 20.19%,#4790ad 20.274%,#c3e5c1 20.357%,#e2f2d4 20.441%,#a7d9b8 20.525%,#f2f8e4 20.608%,#bee2bf 20.692%,#d0eac5 20.775%,#bee3bf 20.859%,#e1f1d3 20.943%,#69bea9 21.026%,#e7f4d9 21.11%,#c4e5c1 21.193%,#e6f3d8 21.277%,#d4ecc6 21.36%,#e0f1d2 21.444%,#daefcc 21.528%,#c4e5c1 21.611%,#def0d0 21.695%,#96d2b3 21.778%,#d5ecc7 21.862%,#98d3b4 21.946%,#c3e5c1 22.029%,#c8e7c2 22.113%,#d2ebc5 22.196%,#eaf5dc 22.28%,#a2d7b7 22.364%,#b8e0be 22.447%,#c6e6c2 22.531%,#71c2a9 22.614%,#cfeac4 22.698%,#cee9c4 22.781%,#e7f3d9 22.865%,#c7e6c2 22.949%,#c7e7c2 23.032%,#dff1d1 23.116%,#95d1b3 23.199%,#d5edc7 23.283%,#f2f8e4 23.367%,#c6e6c2 23.45%,#b0ddbb 23.534%,#ceeac4 23.617%,#abdbb9 23.701%,#f2f8e4 23.784%,#c2e5c1 23.868%,#d0eac5 23.952%,#b7e0bd 24.035%,#d9eecb 24.119%,#c0e4c0 24.202%,#e7f3d9 24.286%,#e7f4d9 24.37%,#c0e4c0 24.453%,#c0e3c0 24.537%,#def0d0 24.62%,#d8eeca 24.704%,#d1ebc5 24.787%,#a0d6b6 24.871%,#bde2bf 24.955%,#c2e5c1 25.038%,#6bbfa8 25.122%,#ceeac4 25.205%,#a3d7b7 25.289%,#dcefce 25.373%,#f2f8e4 25.456%,#e7f4d9 25.54%,#bce2bf 25.623%,#eaf5dc 25.707%,#c0e3c0 25.791%,#c8e7c2 25.874%,#e5f3d7 25.958%,#f2f8e4 26.041%,#b0ddbb 26.125%,#b0ddbb 26.167%,#fff 26.167% 26.694%,#d9eecb 26.694%,#d9eecb 26.736%,#e7f4d9 26.82%,#edf6df 26.904%,#bfe3bf 26.987%,#f2f8e4 27.071%,#eaf5dc 27.155%,#c1e4c0 27.238%,#e1f1d3 27.322%,#d4ecc6 27.406%,#daeecc 27.489%,#b4debc 27.573%,#bfe3c0 27.657%,#f2f8e4 27.74%,#ddf0cf 27.824%,#d2ebc5 27.908%,#bfe3c0 27.991%,#a8dab9 28.075%,#81c9ae 28.159%,#dbefcd 28.242%,#f2f8e4 28.326%,#a1d6b6 28.41%,#b3debc 28.493%,#f2f8e4 28.577%,#f2f8e4 28.661%,#d8edca 28.745%,#4b9faf 28.828%,#9bd4b5 28.912%,#98d3b4 28.996%,#d5ecc7 29.079%,#ecf6de 29.163%,#cfeac4 29.247%,#f2f8e4 29.33%,#d5edc7 29.414%,#f2f8e4 29.498%,#d5ecc7 29.581%,#e6f3d8 29.665%,#e7f4d9 29.749%,#68bda9 29.832%,#d9eecb 29.916%,#f2f8e4 30%,#c4e5c1 30.083%,#e0f1d2 30.167%,#d4ecc6 30.251%,#bfe3c0 30.334%,#b0ddbb 30.418%,#dff1d1 30.502%,#bee3bf 30.585%,#dcefce 30.669%,#ddefcf 30.753%,#b5dfbc 30.836%,#ebf5dd 30.92%,#c1e4c0 31.004%,#a8d9b8 31.087%,#c4e5c1 31.171%,#d1ebc5 31.255%,#a5d8b8 31.338%,#bae1be 31.422%,#aedcba 31.506%,#87ccaf 31.59%,#9fd5b6 31.673%,#eff7e1 31.757%,#62b8ab 31.841%,#e2f1d4 31.924%,#9bd4b5 32.008%,#468dad 32.092%,#d5edc7 32.175%,#81c9ae 32.259%,#8ccdb1 32.343%,#b4dfbc 32.426%,#daeecc 32.51%,#c0e4c0 32.594%,#b1ddbb 32.677%,#bce2bf 32.761%,#ddefcf 32.845%,#63b9aa 32.928%,#7fc8ad 33.012%,#f2f8e4 33.096%,#d0eac5 33.179%,#dbefcd 33.263%,#56aeae 33.347%,#a1d6b6 33.43%,#a1d6b6 33.472%,#fff 33.472% 34%,#94d1b3 34%,#94d1b3 34.042%,#4a99ae 34.126%,#90cfb2 34.209%,#d5edc7 34.293%,#82caae 34.377%,#a2d7b7 34.46%,#76c4ab 34.544%,#a9dab9 34.628%,#63b8ab 34.711%,#acdbba 34.795%,#83caae 34.879%,#def0d0 34.962%,#a2d7b7 35.046%,#b0ddbb 35.13%,#b4debc 35.213%,#addbba 35.297%,#bfe3bf 35.381%,#acdbba 35.464%,#6bbfa8 35.548%,#7ec8ad 35.632%,#67bca9 35.715%,#c4e5c1 35.799%,#bce2bf 35.883%,#92d0b2 35.966%,#aedcba 36.05%,#8eceb1 36.134%,#6abfa8 36.218%,#5db4ac 36.301%,#8eceb1 36.385%,#98d2b4 36.469%,#5bb2ad 36.552%,#88ccaf 36.636%,#a9dab9 36.72%,#55aeae 36.803%,#6bbfa8 36.887%,#427fac 36.971%,#8eceb1 37.054%,#afdcba 37.138%,#a8d9b8 37.222%,#79c6ac 37.305%,#aadab9 37.389%,#468dad 37.473%,#ecf5de 37.556%,#c5e6c1 37.64%,#bee3bf 37.724%,#b0ddbb 37.807%,#90cfb2 37.891%,#9cd4b5 37.975%,#acdbba 38.059%,#addbba 38.142%,#60b7ab 38.226%,#82c9ae 38.31%,#5eb5ac 38.393%,#80c9ae 38.477%,#61b7ab 38.561%,#6fc1a9 38.644%,#79c6ac 38.728%,#b6e0bd 38.812%,#b1ddbb 38.895%,#65baaa 38.979%,#3d6ca7 39.063%,#a5d8b7 39.146%,#95d1b3 39.23%,#82c9ae 39.314%,#aadab9 39.397%,#427fac 39.481%,#9fd6b6 39.565%,#a2d7b7 39.648%,#c3e5c1 39.732%,#c7e6c2 39.816%,#67bca9 39.899%,#68bda9 39.983%,#c4e5c1 40.067%,#7bc6ac 40.151%,#65baaa 40.234%,#c0e4c0 40.318%,#80c9ad 40.402%,#71c2a9 40.485%,#afdcbb 40.569%,#a5d8b7 40.653%,#a5d8b7 40.694%,#fff 40.694% 41.125%,#a8d9b8 41.125%,#a8d9b8 41.167%,#abdab9 41.25%,#d7edc9 41.333%,#92d0b2 41.416%,#b6dfbd 41.499%,#b8e0bd 41.582%,#87cbaf 41.666%,#e0f1d2 41.749%,#b5dfbd 41.832%,#d5ecc7 41.915%,#b3debc 41.998%,#56aeae 42.081%,#b4dfbc 42.164%,#9cd4b5 42.248%,#abdbb9 42.331%,#a4d8b7 42.414%,#c8e7c2 42.497%,#a2d7b7 42.58%,#b3debc 42.663%,#94d1b3 42.747%,#d4ecc6 42.83%,#6cc0a8 42.913%,#c8e7c2 42.996%,#a5d8b8 43.079%,#9ed5b6 43.162%,#8acdb0 43.245%,#bae1be 43.329%,#94d1b3 43.412%,#acdbba 43.495%,#def0d0 43.578%,#d7edc9 43.661%,#b3debc 43.744%,#c5e6c1 43.828%,#8eceb1 43.911%,#aadab9 43.994%,#9ed5b6 44.077%,#93d0b2 44.16%,#6bc0a8 44.243%,#dcefce 44.326%,#bde2bf 44.41%,#6fc1a9 44.493%,#bbe1be 44.576%,#def0d0 44.659%,#91d0b2 44.742%,#a4d8b7 44.825%,#78c5ab 44.909%,#7dc7ac 44.992%,#c9e7c3 45.075%,#80c8ad 45.158%,#72c3aa 45.241%,#bce2bf 45.324%,#67bca9 45.407%,#5bb2ad 45.491%,#74c3aa 45.574%,#6cc0a8 45.657%,#a0d6b6 45.74%,#61b7ab 45.823%,#d5edc7 45.906%,#addcba 45.99%,#7bc6ac 46.073%,#c5e6c1 46.156%,#76c4ab 46.239%,#80c8ad 46.322%,#8fcfb2 46.405%,#bbe1be 46.489%,#c2e4c0 46.572%,#a2d7b7 46.655%,#a4d8b7 46.738%,#64b9aa 46.821%,#4b9caf 46.904%,#96d2b3 46.987%,#a2d7b7 47.071%,#a8d9b8 47.154%,#addcba 47.237%,#6ec1a8 47.32%,#a0d6b6 47.403%,#f2f8e4 47.486%,#f2f8e4 47.57%,#f2f8e4 47.611%,#fff 47.611% 48.056%,#96d2b3 48.056%,#96d2b3 48.097%,#8acdb0 48.181%,#b5dfbc 48.264%,#a2d7b7 48.347%,#84caae 48.431%,#8bcdb0 48.514%,#79c6ac 48.597%,#ceeac4 48.681%,#cee9c4 48.764%,#acdbba 48.847%,#3d6ca7 48.931%,#b1ddbb 49.014%,#95d1b3 49.097%,#d7edc9 49.181%,#67bca9 49.264%,#a9dab9 49.347%,#b7e0bd 49.431%,#93d1b3 49.514%,#c1e4c0 49.597%,#7dc7ad 49.681%,#b4dfbc 49.764%,#a2d7b7 49.847%,#6dc0a8 49.931%,#91d0b2 50.014%,#97d2b4 50.097%,#99d3b4 50.181%,#52acaf 50.264%,#88ccb0 50.347%,#7ac6ac 50.431%,#75c4aa 50.514%,#a2d7b7 50.597%,#6bc0a8 50.681%,#b1ddbb 50.764%,#a8dab9 50.847%,#65baaa 50.931%,#4589ad 51.014%,#60b6ab 51.097%,#9dd5b5 51.181%,#80c8ad 51.264%,#74c3aa 51.347%,#83caae 51.431%,#bfe3bf 51.514%,#66bbaa 51.597%,#85cbaf 51.681%,#77c5ab 51.764%,#a0d6b6 51.847%,#97d2b3 51.931%,#8eceb1 52.014%,#8ccdb1 52.097%,#83caae 52.181%,#76c4ab 52.264%,#6abea9 52.347%,#92d0b2 52.431%,#68bda9 52.514%,#9ad4b4 52.597%,#9ed5b6 52.681%,#d8eeca 52.764%,#aedcba 52.847%,#bbe1be 52.931%,#98d3b4 53.014%,#9ad3b4 53.097%,#4ca0af 53.181%,#69bea9 53.264%,#b4debc 53.347%,#b3debc 53.431%,#c8e7c2 53.514%,#cee9c4 53.597%,#3d6ca7 53.681%,#90cfb2 53.764%,#abdbb9 53.847%,#a8dab9 53.931%,#afdcbb 54.014%,#468bad 54.097%,#68bda9 54.181%,#a0d6b6 54.264%,#7fc8ad 54.347%,#8eceb1 54.431%,#c0e4c0 54.514%,#90cfb2 54.597%,#bde2bf 54.681%,#9ad3b4 54.764%,#addcba 54.847%,#afddbb 54.931%,#a8d9b8 55.014%,#b3debc 55.097%,#c2e4c1 55.181%,#a1d6b6 55.264%,#b7e0bd 55.347%,#72c3aa 55.431%,#c4e5c1 55.514%,#7bc6ac 55.597%,#d5ecc7 55.681%,#a1d6b6 55.764%,#62b8ab 55.847%,#62b8ab 55.889%,#fff 55.889% 56.278%,#93d1b3 56.278%,#93d1b3 56.319%,#9ad3b4 56.402%,#62b8ab 56.485%,#acdbba 56.568%,#afddbb 56.651%,#a4d8b7 56.734%,#c7e6c2 56.817%,#3e6fa9 56.9%,#86cbaf 56.983%,#89ccb0 57.066%,#b1ddbb 57.148%,#93d0b2 57.231%,#a9dab9 57.314%,#e9f5db 57.397%,#9ed5b5 57.48%,#a7d9b8 57.563%,#b5dfbd 57.646%,#b2debc 57.729%,#97d2b3 57.812%,#66bbaa 57.895%,#5cb4ac 57.978%,#b5dfbd 58.061%,#98d3b4 58.143%,#a9dab9 58.226%,#bae1be 58.309%,#8eceb1 58.392%,#69bea9 58.475%,#9fd6b6 58.558%,#b1ddbb 58.641%,#b6dfbd 58.724%,#72c2a9 58.807%,#6fc1a9 58.89%,#bce2bf 58.973%,#c5e6c2 59.056%,#7fc8ad 59.138%,#a2d7b7 59.221%,#91d0b2 59.304%,#97d2b4 59.387%,#addcba 59.47%,#a2d7b6 59.553%,#6abea9 59.636%,#bde2bf 59.719%,#a3d7b7 59.802%,#dcefce 59.885%,#8eceb1 59.968%,#acdbba 60.051%,#b6dfbd 60.133%,#92d0b2 60.216%,#8cceb1 60.299%,#7cc7ac 60.382%,#cfeac4 60.465%,#bfe3c0 60.548%,#76c4ab 60.631%,#99d3b4 60.714%,#6dc0a8 60.797%,#e1f1d3 60.88%,#88ccb0 60.963%,#b5dfbc 61.046%,#5db4ac 61.129%,#7bc7ac 61.211%,#7ac6ac 61.294%,#bbe1be 61.377%,#c4e5c1 61.46%,#97d2b4 61.543%,#9dd5b5 61.626%,#a9dab9 61.709%,#75c4ab 61.792%,#75c4ab 61.833%,#fff 61.833% 62.194%,#bde2bf 62.194%,#bde2bf 62.236%,#abdbba 62.32%,#d8edca 62.404%,#7bc6ac 62.488%,#b6dfbd 62.571%,#bae1be 62.655%,#dcefce 62.739%,#d4ecc6 62.823%,#addcba 62.906%,#e8f4da 62.99%,#b0ddbb 63.074%,#b1ddbb 63.158%,#b8e0bd 63.241%,#d6edc8 63.325%,#e8f4da 63.409%,#f2f8e4 63.493%,#ddf0cf 63.576%,#81c9ae 63.66%,#eaf5dc 63.744%,#81c9ae 63.828%,#acdbba 63.912%,#c0e4c0 63.995%,#6fc1a9 64.079%,#a9dab9 64.163%,#89ccb0 64.247%,#c1e4c0 64.33%,#9bd4b5 64.414%,#ddf0cf 64.498%,#d0eac5 64.582%,#acdbba 64.665%,#b4debc 64.749%,#c8e7c2 64.833%,#59b1ad 64.917%,#dbefcd 65%,#63b9aa 65.084%,#bbe1be 65.168%,#e5f3d7 65.252%,#9fd6b6 65.335%,#a1d6b6 65.419%,#afdcbb 65.503%,#b2debb 65.587%,#86cbaf 65.671%,#a2d7b7 65.754%,#c5e5c1 65.838%,#c7e6c2 65.922%,#aedcba 66.006%,#b9e1be 66.089%,#62b8ab 66.173%,#c7e7c2 66.257%,#b7e0bd 66.341%,#6dc0a8 66.424%,#e0f1d2 66.508%,#bfe3bf 66.592%,#a4d7b7 66.676%,#b2ddbb 66.759%,#99d3b4 66.843%,#6abea9 66.927%,#e1f1d3 67.011%,#d0eac5 67.094%,#d7edc9 67.178%,#f2f8e4 67.262%,#c1e4c0 67.346%,#bfe3c0 67.429%,#a4d8b7 67.513%,#dcefce 67.597%,#dcefce 67.639%,#fff 67.639% 68.056%,#8fcfb1 68.056%,#8fcfb1 68.097%,#b7e0bd 68.18%,#cfeac4 68.263%,#79c6ac 68.346%,#97d2b4 68.429%,#def0d0 68.512%,#abdbb9 68.594%,#7bc7ac 68.677%,#7fc8ad 68.76%,#90cfb2 68.843%,#8fcfb1 68.926%,#59b1ad 69.009%,#9ed5b5 69.092%,#9ad3b4 69.175%,#5cb3ac 69.258%,#b1ddbb 69.34%,#a3d7b7 69.423%,#65bbaa 69.506%,#53acaf 69.589%,#cae8c3 69.672%,#8ecfb1 69.755%,#93d0b2 69.838%,#9ed5b5 69.921%,#86cbaf 70.004%,#62b8ab 70.087%,#a1d6b6 70.169%,#addcba 70.252%,#4ea8b0 70.335%,#96d2b3 70.418%,#8acdb0 70.501%,#9fd6b6 70.584%,#cce9c4 70.667%,#87ccaf 70.75%,#55aeae 70.833%,#95d1b3 70.916%,#a3d7b7 70.998%,#aadab9 71.081%,#4383ac 71.164%,#8cceb1 71.247%,#79c6ac 71.33%,#6cc0a8 71.413%,#7cc7ac 71.496%,#84caaf 71.579%,#e3f2d5 71.662%,#94d1b3 71.745%,#71c2a9 71.827%,#c8e7c2 71.91%,#63b9aa 71.993%,#95d1b3 72.076%,#c3e5c1 72.159%,#56aeae 72.242%,#addcba 72.325%,#acdbba 72.408%,#bde2bf 72.491%,#6fc1a9 72.574%,#cee9c4 72.656%,#dbefcd 72.739%,#b4debc 72.822%,#6ec1a8 72.905%,#6abfa8 72.988%,#e6f3d8 73.071%,#a3d7b7 73.154%,#a9dab9 73.237%,#84caae 73.32%,#84caae 73.361%,#fff 73.361% 73.778%,#6bbfa8 73.778%,#6bbfa8 73.82%,#addbba 73.903%,#8acdb0 73.987%,#b7e0bd 74.071%,#93d1b3 74.155%,#9fd5b6 74.239%,#a0d6b6 74.322%,#5fb6ab 74.406%,#67bca9 74.49%,#7ec8ad 74.574%,#a2d7b7 74.658%,#a5d8b8 74.741%,#5cb4ac 74.825%,#417bab 74.909%,#c5e6c1 74.993%,#9ad4b5 75.077%,#78c5ab 75.16%,#68bda9 75.244%,#bfe3c0 75.328%,#87ccaf 75.412%,#84caae 75.496%,#a5d8b8 75.579%,#5bb2ad 75.663%,#85cbaf 75.747%,#427dab 75.831%,#69bea9 75.915%,#cfeac4 75.998%,#64baaa 76.082%,#8acdb0 76.166%,#92d0b2 76.25%,#66bbaa 76.334%,#9ad3b4 76.417%,#bde2bf 76.501%,#9ad3b4 76.585%,#a3d7b7 76.669%,#bbe2be 76.753%,#b0ddbb 76.836%,#b0ddbb 76.92%,#8fcfb1 77.004%,#90cfb2 77.088%,#77c4ab 77.172%,#6dc0a8 77.255%,#95d1b3 77.339%,#a9dab9 77.423%,#9ad4b4 77.507%,#3d6ca7 77.591%,#a4d8b7 77.674%,#82c9ae 77.758%,#a1d6b6 77.842%,#bfe3bf 77.926%,#b0ddbb 78.009%,#6dc0a8 78.093%,#b6dfbd 78.177%,#86cbaf 78.261%,#c1e4c0 78.345%,#a5d8b8 78.428%,#b0ddbb 78.512%,#5eb5ac 78.596%,#daeecc 78.68%,#93d0b2 78.764%,#93d0b2 78.806%,#fff 78.806% 79.333%,#54adae 79.333%,#54adae 79.375%,#86cbaf 79.458%,#63b9aa 79.542%,#9fd6b6 79.625%,#a2d7b7 79.708%,#b1ddbb 79.792%,#d7edc9 79.875%,#a9dab9 79.958%,#90cfb2 80.042%,#aedcba 80.125%,#86cbaf 80.208%,#9ad4b4 80.292%,#afdcba 80.375%,#c9e7c3 80.458%,#b5dfbc 80.542%,#79c5ab 80.625%,#dcefce 80.708%,#71c2a9 80.792%,#7fc8ad 80.875%,#e6f3d8 80.958%,#7cc7ac 81.042%,#6dc1a8 81.125%,#bce2bf 81.208%,#85caaf 81.292%,#67bca9 81.375%,#bde2bf 81.458%,#6fc1a9 81.542%,#86cbaf 81.625%,#cbe8c3 81.708%,#a3d7b7 81.792%,#d0eac5 81.875%,#72c3aa 81.958%,#e6f3d8 82.042%,#8fcfb1 82.125%,#a9dab9 82.208%,#aedcba 82.292%,#4fa9b0 82.375%,#a5d8b8 82.458%,#81c9ae 82.542%,#bae1be 82.625%,#71c2a9 82.708%,#96d2b3 82.792%,#cce9c4 82.875%,#89ccb0 82.958%,#86cbaf 83.042%,#a6d8b8 83.125%,#b1ddbb 83.208%,#7fc8ad 83.292%,#bde2bf 83.375%,#a3d7b7 83.458%,#99d3b4 83.542%,#8ccdb1 83.625%,#6abea9 83.708%,#94d1b3 83.792%,#95d2b3 83.875%,#d9eecb 83.958%,#d2ebc5 84.042%,#67bca9 84.125%,#80c8ad 84.208%,#80c8ad 84.25%,#fff 84.25% 84.722%,#f2f8e4 84.722%,#f2f8e4 84.764%,#aadab9 84.847%,#c3e5c1 84.931%,#dbefcd 85.014%,#63b9aa 85.097%,#cae8c3 85.181%,#bce2bf 85.264%,#cfeac4 85.347%,#d6edc8 85.431%,#67bca9 85.514%,#a1d6b6 85.597%,#aedcba 85.681%,#86cbaf 85.764%,#d7edc9 85.847%,#7fc8ad 85.931%,#99d3b4 86.014%,#dbefcd 86.097%,#b4debc 86.181%,#76c4ab 86.264%,#d7edc9 86.347%,#c0e4c0 86.431%,#cce9c4 86.514%,#77c5ab 86.597%,#b9e0be 86.681%,#57afae 86.764%,#a5d8b8 86.847%,#a5d8b8 86.931%,#c4e5c1 87.014%,#edf6df 87.097%,#d8eeca 87.181%,#dbefcd 87.264%,#b0ddbb 87.347%,#abdbb9 87.431%,#cde9c4 87.514%,#f2f8e4 87.597%,#5ab1ad 87.681%,#6cc0a8 87.764%,#94d1b3 87.847%,#bce2bf 87.931%,#9ed5b5 88.014%,#c7e6c2 88.097%,#ddf0cf 88.181%,#cee9c4 88.264%,#a5d8b7 88.347%,#daeecc 88.431%,#b6dfbd 88.514%,#afdcbb 88.597%,#c7e7c2 88.681%,#acdbba 88.764%,#c5e6c1 88.847%,#b9e1be 88.931%,#a7d9b8 89.014%,#a6d8b8 89.097%,#bae1be 89.181%,#b1ddbb 89.264%,#f2f8e4 89.347%,#8acdb0 89.431%,#8acdb0 89.472%,#fff 89.472% 89.944%,#f2f8e4 89.944%,#f2f8e4 89.986%,#cbe8c3 90.07%,#e6f3d8 90.154%,#8dceb1 90.238%,#ddf0cf 90.322%,#bae1be 90.406%,#96d2b3 90.49%,#c7e6c2 90.573%,#ddf0cf 90.657%,#c5e5c1 90.741%,#dcefce 90.825%,#bfe3bf 90.909%,#d4ecc6 90.993%,#c2e4c0 91.077%,#addcba 91.16%,#c7e7c2 91.244%,#edf6df 91.328%,#a6d9b8 91.412%,#cce9c4 91.496%,#dff0d1 91.58%,#5cb3ac 91.664%,#aadab9 91.747%,#b6dfbd 91.831%,#e8f4da 91.915%,#b1ddbb 91.999%,#66bbaa 92.083%,#dbefcd 92.167%,#c8e7c2 92.251%,#b1ddbb 92.334%,#a6d8b8 92.418%,#e0f1d2 92.502%,#7cc7ac 92.586%,#8eceb1 92.67%,#a8d9b9 92.754%,#d7edc9 92.838%,#c7e6c2 92.921%,#63b9aa 93.005%,#bee3bf 93.089%,#def0d0 93.173%,#c7e6c2 93.257%,#d9eecb 93.341%,#c7e7c2 93.425%,#76c4ab 93.508%,#b8e0bd 93.592%,#bae1be 93.676%,#e0f1d2 93.76%,#9bd4b5 93.844%,#a5d8b8 93.928%,#cee9c4 94.012%,#f2f8e4 94.095%,#d3ebc6 94.179%,#84caaf 94.263%,#a2d7b7 94.347%,#a2d7b7 94.389%,#fff 94.389% 94.806%,#b1ddbb 94.806%,#b1ddbb 94.848%,#a2d7b7 94.931%,#3e6fa9 95.015%,#95d1b3 95.099%,#4b9daf 95.183%,#c0e4c0 95.267%,#a5d8b8 95.351%,#3d6ca7 95.435%,#69bea9 95.519%,#5fb6ab 95.602%,#67bca9 95.686%,#6ec1a9 95.77%,#69bda9 95.854%,#6bbfa8 95.938%,#a9dab9 96.022%,#8fcfb1 96.106%,#74c4aa 96.19%,#8bcdb0 96.274%,#b1ddbb 96.358%,#5db4ac 96.441%,#70c2a9 96.525%,#9cd4b5 96.609%,#3d6ca7 96.693%,#90cfb2 96.777%,#9cd4b5 96.861%,#468dad 96.945%,#7ac6ac 97.029%,#acdbba 97.112%,#7ac6ac 97.196%,#4790ad 97.28%,#a1d6b6 97.364%,#a2d7b7 97.448%,#aedcba 97.532%,#afdcbb 97.616%,#9bd4b5 97.7%,#d1ebc5 97.784%,#67bca9 97.867%,#60b6ab 97.951%,#5ab2ad 98.035%,#88ccb0 98.119%,#7ac6ac 98.203%,#96d2b3 98.287%,#5ab2ad 98.371%,#94d1b3 98.455%,#4da4b0 98.539%,#8ecfb1 98.623%,#67bca9 98.706%,#6cc0a8 98.79%,#3d6ca7 98.874%,#7bc6ac 98.958%,#7bc6ac 99%,#fff 99% 100%)"></div><div class="d" style="left:870.4px;top:130.9px;width:269px;height:269px;background:#fff"></div><div class="d" style="left:872.4px;top:132.9px;width:265px;height:265px;background:conic-gradient(#fff 0% 0.889%,#a2d180 0.889%,#a2d180 0.931%,#8ec575 1.014%,#83bf70 1.098%,#91c777 1.181%,#71b365 1.265%,#7ebc6d 1.348%,#bade8c 1.432%,#add786 1.515%,#9cce7d 1.598%,#94c979 1.682%,#72b466 1.765%,#b2da88 1.849%,#b3da88 1.932%,#c3e290 2.016%,#93c978 2.099%,#ebf5b1 2.183%,#9fd07e 2.266%,#9cce7d 2.35%,#b4db89 2.433%,#daed9c 2.517%,#aad584 2.6%,#b9dd8c 2.684%,#cbe694 2.767%,#cde795 2.851%,#aad684 2.934%,#c0e18f 3.018%,#c6e392 3.101%,#afd887 3.185%,#c2e290 3.268%,#bddf8d 3.352%,#bcdf8d 3.435%,#cae594 3.519%,#d8ec9b 3.602%,#c2e290 3.686%,#cde795 3.769%,#cee796 3.852%,#e0f09f 3.936%,#d4ea99 4.019%,#e1f09f 4.103%,#8dc575 4.186%,#b9dd8b 4.27%,#e0f09f 4.353%,#d7ec9a 4.437%,#e7f3a9 4.52%,#e0f09f 4.604%,#ebf5b1 4.687%,#eaf4ae 4.771%,#afd886 4.854%,#e5f2a5 4.938%,#e6f3a7 5.021%,#bddf8e 5.105%,#ebf5b1 5.188%,#f3f9c0 5.272%,#f4f9c1 5.355%,#f5fac3 5.439%,#e6f3a7 5.522%,#f0f7b9 5.606%,#bfe08e 5.689%,#eef7b6 5.773%,#ecf6b2 5.856%,#f1f8bb 5.94%,#f6fac4 6.023%,#edf6b5 6.107%,#f4f9c0 6.19%,#ebf5b1 6.273%,#f7fbc7 6.357%,#e5f2a5 6.44%,#edf6b3 6.524%,#e6f3a8 6.607%,#f8fbc8 6.691%,#f2f8be 6.774%,#bade8c 6.858%,#e6f3a8 6.941%,#eef6b5 7.025%,#f8fbc7 7.108%,#c6e492 7.192%,#e8f4ac 7.275%,#e6f3a7 7.359%,#eff7b8 7.442%,#edf6b4 7.526%,#f8fbc8 7.609%,#f5fac3 7.693%,#a5d381 7.776%,#eff7b7 7.86%,#f6fac3 7.943%,#f1f8bc 8.027%,#f6fac5 8.11%,#ebf5b1 8.194%,#f4f9c0 8.277%,#f8fbc8 8.361%,#f8fbc8 8.444%,#f8fbc8 8.527%,#f0f7b9 8.611%,#ecf6b3 8.694%,#eaf5af 8.778%,#f8fbc8 8.861%,#99cc7b 8.945%,#eef6b6 9.028%,#d9ed9c 9.112%,#e9f4ad 9.195%,#cde795 9.279%,#f8fbc8 9.362%,#eff7b8 9.446%,#f4f9c1 9.529%,#f4f9c1 9.613%,#b6dc8a 9.696%,#f0f7ba 9.78%,#e7f3a9 9.863%,#f8fbc8 9.947%,#f3f9bf 10.03%,#f3f9be 10.114%,#e6f3a7 10.197%,#ddef9e 10.281%,#eff7b8 10.364%,#ecf6b3 10.448%,#f4f9c2 10.531%,#a8d483 10.615%,#eef6b5 10.698%,#d2e998 10.781%,#e6f3a7 10.865%,#d8ec9b 10.948%,#eff7b8 11.032%,#dcee9d 11.115%,#e8f4ab 11.199%,#dbee9d 11.282%,#cee796 11.366%,#d4eb99 11.449%,#cce795 11.533%,#c6e492 11.616%,#c7e493 11.7%,#b5dc8a 11.783%,#cde796 11.867%,#c7e493 11.95%,#e5f2a5 12.034%,#d7ec9b 12.117%,#d7ec9a 12.201%,#c0e18f 12.284%,#cee796 12.368%,#dfef9e 12.451%,#a2d180 12.535%,#c1e18f 12.618%,#c7e492 12.702%,#b2da88 12.785%,#c5e391 12.869%,#b7dc8b 12.952%,#bfe08f 13.036%,#d0e997 13.119%,#95c979 13.202%,#a6d382 13.286%,#abd684 13.369%,#8ec675 13.453%,#b4db89 13.536%,#a9d584 13.62%,#96ca7a 13.703%,#9cce7d 13.787%,#95ca79 13.87%,#aad584 13.954%,#9ecf7d 14.037%,#9bcd7c 14.121%,#7dbb6c 14.204%,#96ca79 14.288%,#7fbc6d 14.371%,#91c877 14.455%,#93c878 14.538%,#83c070 14.622%,#95ca79 14.705%,#356d3f 14.789%,#87c272 14.872%,#7fbc6d 14.956%,#8cc574 15.039%,#8cc574 15.123%,#59a358 15.206%,#79b86a 15.29%,#65ab5f 15.373%,#8fc676 15.456%,#daed9c 15.54%,#69ad61 15.623%,#74b567 15.707%,#73b466 15.79%,#4a904e 15.874%,#65ab5f 15.957%,#539f54 16.041%,#8ec675 16.124%,#7ab96a 16.208%,#64aa5e 16.291%,#6cb063 16.375%,#43864a 16.458%,#43864a 16.5%,#fff 16.5% 16.972%,#bcdf8d 16.972%,#bcdf8d 17.014%,#ddef9e 17.098%,#e3f1a2 17.181%,#bee08e 17.265%,#dcee9d 17.348%,#cae594 17.432%,#cfe896 17.516%,#c3e291 17.599%,#eaf5ae 17.683%,#e4f2a4 17.766%,#8ac373 17.85%,#cce795 17.933%,#bddf8e 18.017%,#e2f1a1 18.101%,#d3ea99 18.184%,#b9dd8c 18.268%,#c3e291 18.351%,#dfef9e 18.435%,#4a904e 18.519%,#b8dd8b 18.602%,#7dbb6c 18.686%,#afd887 18.769%,#e4f2a4 18.853%,#e8f4ab 18.936%,#bfe08e 19.02%,#cce795 19.104%,#bcdf8d 19.187%,#c5e391 19.271%,#e0f09f 19.354%,#b8dd8b 19.438%,#b8dd8b 19.522%,#6db163 19.605%,#cde795 19.689%,#d2e998 19.772%,#9fcf7e 19.856%,#b0d987 19.94%,#b6dc8a 20.023%,#b2da88 20.107%,#cee796 20.19%,#cbe695 20.274%,#deef9e 20.357%,#ebf5b1 20.441%,#bcdf8d 20.525%,#58a257 20.608%,#d8ec9b 20.692%,#8fc675 20.775%,#eff7b7 20.859%,#c1e190 20.943%,#b9dd8b 21.026%,#b7dd8b 21.11%,#6eb164 21.193%,#c0e18f 21.277%,#e5f3a6 21.36%,#ebf5b0 21.444%,#e5f3a6 21.528%,#cee796 21.611%,#cde795 21.695%,#e7f3aa 21.778%,#d3ea99 21.862%,#cae594 21.946%,#8ac373 22.029%,#eaf5ae 22.113%,#e1f09f 22.196%,#a2d180 22.28%,#d4ea99 22.364%,#b9dd8c 22.447%,#b6dc8a 22.531%,#c8e593 22.614%,#bee08e 22.698%,#edf6b3 22.781%,#daed9c 22.865%,#edf6b3 22.949%,#c0e18f 23.032%,#f8fbc8 23.116%,#d3ea99 23.199%,#bcdf8d 23.283%,#bade8c 23.367%,#bee08e 23.45%,#f0f7b9 23.534%,#b0d987 23.617%,#e9f4ac 23.701%,#f0f7b9 23.784%,#dcee9d 23.868%,#dff09f 23.952%,#e4f2a4 24.035%,#d0e897 24.119%,#d0e897 24.202%,#e0f09f 24.286%,#d2e998 24.37%,#e9f4ae 24.453%,#dff09e 24.537%,#eff7b7 24.62%,#bcdf8d 24.704%,#e6f3a7 24.787%,#f1f8bb 24.871%,#f8fbc8 24.955%,#b8dd8b 25.038%,#c2e290 25.122%,#d9ed9c 25.205%,#f8fbc8 25.289%,#f8fbc8 25.373%,#e4f2a3 25.456%,#d0e897 25.54%,#e9f4ad 25.623%,#f8fbc8 25.707%,#f2f8bd 25.791%,#f8fbc8 25.874%,#f8fbc8 25.958%,#e5f3a6 26.041%,#d7ec9b 26.125%,#d7ec9b 26.167%,#fff 26.167% 26.694%,#cee796 26.694%,#cee796 26.736%,#bcdf8d 26.82%,#d8ec9b 26.904%,#e0f09f 26.987%,#88c272 27.071%,#e6f3a8 27.155%,#deef9e 27.238%,#f5fac2 27.322%,#8bc473 27.406%,#abd684 27.489%,#ddef9e 27.573%,#c4e391 27.657%,#d3ea99 27.74%,#ecf6b2 27.824%,#e3f1a1 27.908%,#a0d07f 27.991%,#d3ea98 28.075%,#cce695 28.159%,#d6eb9a 28.242%,#d4ea99 28.326%,#c5e391 28.41%,#a4d281 28.493%,#aad684 28.577%,#d0e897 28.661%,#b1da88 28.745%,#c9e594 28.828%,#ebf5b0 28.912%,#d1e998 28.996%,#e2f1a0 29.079%,#cde796 29.163%,#c0e18f 29.247%,#bfe08f 29.33%,#d0e897 29.414%,#cde796 29.498%,#a8d483 29.581%,#cde796 29.665%,#5ea65b 29.749%,#b3da88 29.832%,#c4e391 29.916%,#b4db89 30%,#44864a 30.083%,#d6eb9a 30.167%,#9fcf7e 30.251%,#d9ed9c 30.334%,#edf6b3 30.418%,#aad684 30.502%,#86c171 30.585%,#89c373 30.669%,#c3e290 30.753%,#ddee9d 30.836%,#99cc7b 30.92%,#cde796 31.004%,#82bf6f 31.087%,#b8dd8b 31.171%,#a6d382 31.255%,#44874a 31.338%,#add785 31.422%,#c7e493 31.506%,#b6dc8a 31.59%,#bee08e 31.673%,#b2da88 31.757%,#e1f09f 31.841%,#b9dd8b 31.924%,#c2e290 32.008%,#dcee9d 32.092%,#deef9e 32.175%,#cfe896 32.259%,#9bcd7c 32.343%,#eaf5af 32.426%,#afd987 32.51%,#d8ec9b 32.594%,#cbe695 32.677%,#cfe897 32.761%,#dfef9e 32.845%,#d8ec9b 32.928%,#cce795 33.012%,#c2e290 33.096%,#cce695 33.179%,#bee08e 33.263%,#e7f3a9 33.347%,#c9e594 33.43%,#c9e594 33.472%,#fff 33.472% 34%,#b8dd8b 34%,#b8dd8b 34.042%,#9cce7d 34.126%,#9fcf7e 34.209%,#bfe08e 34.293%,#a3d280 34.377%,#bee08e 34.46%,#e8f4ab 34.544%,#d9ed9c 34.628%,#dff09e 34.711%,#a2d17f 34.795%,#86c171 34.879%,#c1e190 34.962%,#ecf6b2 35.046%,#45894b 35.13%,#b6dc8a 35.213%,#daed9c 35.297%,#cfe897 35.381%,#b8dd8b 35.464%,#8dc575 35.548%,#dff09f 35.632%,#e5f2a5 35.715%,#6baf62 35.799%,#b8dd8b 35.883%,#87c272 35.966%,#aed886 36.05%,#c6e392 36.134%,#e2f1a0 36.218%,#a8d483 36.301%,#acd785 36.385%,#d6eb9a 36.469%,#a6d382 36.552%,#87c171 36.636%,#a2d180 36.72%,#d0e997 36.803%,#b6dc8a 36.887%,#b6dc8a 36.971%,#a1d07f 37.054%,#cae694 37.138%,#cce795 37.222%,#e5f3a6 37.305%,#b0d987 37.389%,#bfe08f 37.473%,#d3ea99 37.556%,#d8ec9b 37.64%,#4c944f 37.724%,#b2da88 37.807%,#8ac473 37.891%,#bfe08e 37.975%,#bee08e 38.059%,#99cc7b 38.142%,#a4d281 38.226%,#ddef9e 38.31%,#98cb7b 38.393%,#dbee9c 38.477%,#d0e897 38.561%,#bee08e 38.644%,#8dc575 38.728%,#cee796 38.812%,#e7f3a9 38.895%,#8ac373 38.979%,#cde795 39.063%,#edf6b4 39.146%,#e3f2a2 39.23%,#d2e998 39.314%,#bbde8d 39.397%,#a5d381 39.481%,#c7e493 39.565%,#bee08e 39.648%,#e0f09f 39.732%,#c1e18f 39.816%,#a0d07f 39.899%,#edf6b4 39.983%,#99cc7b 40.067%,#eff7b8 40.151%,#cfe897 40.234%,#a1d07f 40.318%,#e6f3a7 40.402%,#c9e593 40.485%,#bee08e 40.569%,#c0e18f 40.653%,#c0e18f 40.694%,#fff 40.694% 41.125%,#a4d281 41.125%,#a4d281 41.167%,#cfe896 41.25%,#cde796 41.333%,#a3d180 41.416%,#9acc7b 41.499%,#ddef9d 41.582%,#9acd7c 41.666%,#9ecf7e 41.749%,#bee08e 41.832%,#ecf5b2 41.915%,#b8dd8b 41.998%,#c9e593 42.081%,#d6eb9a 42.164%,#bddf8d 42.248%,#f8fbc8 42.331%,#d2e998 42.414%,#f7fbc6 42.497%,#bcdf8d 42.58%,#c7e492 42.663%,#b8dd8b 42.747%,#b1d987 42.83%,#e5f2a6 42.913%,#d5eb99 42.996%,#cae694 43.079%,#dcee9d 43.162%,#d6eb9a 43.245%,#bade8c 43.329%,#c6e492 43.412%,#c4e391 43.495%,#cfe896 43.578%,#a9d583 43.661%,#c3e291 43.744%,#a4d281 43.828%,#e6f3a7 43.911%,#e8f4ab 43.994%,#e4f2a3 44.077%,#dcee9d 44.16%,#e4f2a4 44.243%,#b1da88 44.326%,#eaf5ae 44.41%,#e7f3aa 44.493%,#b0d987 44.576%,#cce795 44.659%,#add785 44.742%,#b8dd8b 44.825%,#93c878 44.909%,#d0e897 44.992%,#e4f2a4 45.075%,#89c373 45.158%,#bcdf8d 45.241%,#e7f3a9 45.324%,#b9de8c 45.407%,#e2f1a0 45.491%,#d6eb9a 45.574%,#b5dc8a 45.657%,#a7d482 45.74%,#45894b 45.823%,#cfe896 45.906%,#a6d382 45.99%,#d7ec9a 46.073%,#94c978 46.156%,#bfe08e 46.239%,#ecf6b3 46.322%,#c6e392 46.405%,#aad684 46.489%,#c1e190 46.572%,#7fbd6d 46.655%,#c7e493 46.738%,#daed9c 46.821%,#bcdf8d 46.904%,#92c877 46.987%,#8bc474 47.071%,#e3f2a2 47.154%,#b3db89 47.237%,#aed886 47.32%,#eaf5ae 47.403%,#deef9e 47.486%,#a2d180 47.57%,#a2d180 47.611%,#fff 47.611% 48.056%,#7dbb6c 48.056%,#7dbb6c 48.097%,#cee796 48.181%,#c0e18f 48.264%,#abd684 48.347%,#488e4d 48.431%,#f0f7b9 48.514%,#a0d07f 48.597%,#6eb163 48.681%,#86c171 48.764%,#a2d17f 48.847%,#b5db89 48.931%,#a1d17f 49.014%,#bade8c 49.097%,#daed9c 49.181%,#b3da88 49.264%,#44864a 49.347%,#f2f8be 49.431%,#c4e391 49.514%,#e3f1a2 49.597%,#4d9651 49.681%,#eef6b5 49.764%,#abd684 49.847%,#dbee9d 49.931%,#dcee9d 50.014%,#eff7b8 50.097%,#bee08e 50.181%,#daed9c 50.264%,#bbdf8d 50.347%,#dff09f 50.431%,#b5dc8a 50.514%,#bfe08e 50.597%,#e6f3a7 50.681%,#c5e392 50.764%,#9bcd7c 50.847%,#7ebc6d 50.931%,#b9dd8b 51.014%,#b0d987 51.097%,#b0d987 51.181%,#97cb7a 51.264%,#bfe08e 51.347%,#e4f2a4 51.431%,#b6dc8a 51.514%,#a9d583 51.597%,#dcee9d 51.681%,#58a258 51.764%,#d1e997 51.847%,#b8dd8b 51.931%,#89c373 52.014%,#c6e492 52.097%,#a5d281 52.181%,#a2d180 52.264%,#b9dd8c 52.347%,#cbe694 52.431%,#9fcf7e 52.514%,#a0d07e 52.597%,#b6dc8a 52.681%,#cde796 52.764%,#e6f3a8 52.847%,#b5dc8a 52.931%,#8ec675 53.014%,#cde796 53.097%,#b1d987 53.181%,#85c171 53.264%,#e5f2a5 53.347%,#c5e392 53.431%,#aad584 53.514%,#bfe08f 53.597%,#bcdf8d 53.681%,#d6eb9a 53.764%,#e1f1a0 53.847%,#d1e997 53.931%,#4a924f 54.014%,#acd785 54.097%,#c7e492 54.181%,#cee896 54.264%,#e3f2a2 54.347%,#c9e593 54.431%,#9bcd7c 54.514%,#add785 54.597%,#8ec675 54.681%,#e5f2a5 54.764%,#c3e290 54.847%,#5aa459 54.931%,#cee796 55.014%,#b4db89 55.097%,#e5f2a5 55.181%,#b9dd8b 55.264%,#b8dd8b 55.347%,#93c978 55.431%,#91c877 55.514%,#cbe694 55.597%,#cae694 55.681%,#bade8c 55.764%,#b6dc8a 55.847%,#b6dc8a 55.889%,#fff 55.889% 56.278%,#c4e391 56.278%,#c4e391 56.319%,#7ebc6d 56.402%,#b6dc8a 56.485%,#c4e291 56.568%,#6baf62 56.651%,#b2da88 56.734%,#84c070 56.817%,#f6fac4 56.9%,#aed886 56.983%,#4c9450 57.066%,#bade8c 57.148%,#c4e391 57.231%,#cee796 57.314%,#acd785 57.397%,#7ebc6d 57.48%,#b8dd8b 57.563%,#c2e290 57.646%,#7fbc6d 57.729%,#58a257 57.812%,#bddf8e 57.895%,#84c070 57.978%,#b4db89 58.061%,#b2da88 58.143%,#a6d382 58.226%,#b7dc8a 58.309%,#a4d281 58.392%,#a2d180 58.475%,#c3e291 58.558%,#97cb7a 58.641%,#bbde8d 58.724%,#bcdf8d 58.807%,#93c978 58.89%,#edf6b4 58.973%,#99cc7b 59.056%,#afd887 59.138%,#97cb7a 59.221%,#d0e897 59.304%,#87c271 59.387%,#8ec675 59.47%,#a6d382 59.553%,#74b567 59.636%,#98cb7a 59.719%,#84c070 59.802%,#8cc474 59.885%,#d9ed9b 59.968%,#9ccd7c 60.051%,#d2e998 60.133%,#a5d381 60.216%,#b4db89 60.299%,#c9e594 60.382%,#438549 60.465%,#b8dd8b 60.548%,#3f7f46 60.631%,#387341 60.714%,#88c272 60.797%,#b6dc8a 60.88%,#75b668 60.963%,#8bc474 61.046%,#6db063 61.129%,#aad684 61.211%,#c3e290 61.294%,#acd685 61.377%,#9dce7d 61.46%,#89c373 61.543%,#65ab5e 61.626%,#3b7843 61.709%,#a8d483 61.792%,#a8d483 61.833%,#fff 61.833% 62.194%,#b7dc8b 62.194%,#b7dc8b 62.236%,#bcdf8d 62.32%,#8cc574 62.404%,#8dc575 62.488%,#d2e998 62.571%,#a7d482 62.655%,#b8dd8b 62.739%,#b7dd8b 62.823%,#356d3f 62.906%,#a7d482 62.99%,#a5d381 63.074%,#9ecf7e 63.158%,#7fbd6d 63.241%,#356d3f 63.325%,#a6d382 63.409%,#b5dc8a 63.493%,#e4f2a4 63.576%,#356d3f 63.66%,#add786 63.744%,#8dc575 63.828%,#9dce7d 63.912%,#b2da88 63.995%,#c3e290 64.079%,#b9dd8b 64.163%,#c1e190 64.247%,#f1f8bb 64.33%,#b9de8c 64.414%,#cde795 64.498%,#cae694 64.582%,#bbde8d 64.665%,#8cc574 64.749%,#b8dd8b 64.833%,#356d3f 64.917%,#a5d381 65%,#97cb7a 65.084%,#a0d07e 65.168%,#9acd7c 65.252%,#438549 65.335%,#c9e593 65.419%,#b8dd8b 65.503%,#63aa5d 65.587%,#acd685 65.671%,#f8fbc8 65.754%,#9fcf7e 65.838%,#8cc474 65.922%,#d3ea99 66.006%,#f2f8be 66.089%,#67ac60 66.173%,#64aa5e 66.257%,#82bf6f 66.341%,#9fcf7e 66.424%,#b0d987 66.508%,#afd886 66.592%,#a0d07f 66.676%,#57a157 66.759%,#7cbb6c 66.843%,#afd886 66.927%,#dbee9c 67.011%,#60a75c 67.094%,#e4f2a4 67.178%,#e1f1a0 67.262%,#dbee9d 67.346%,#c6e392 67.429%,#93c978 67.513%,#a6d382 67.597%,#a6d382 67.639%,#fff 67.639% 68.056%,#9acc7b 68.056%,#9acc7b 68.097%,#b0d987 68.18%,#9acd7c 68.263%,#b6dc8a 68.346%,#c6e492 68.429%,#add785 68.512%,#c7e493 68.594%,#afd886 68.677%,#6db063 68.76%,#a1d07f 68.843%,#a7d482 68.926%,#afd887 69.009%,#e5f2a6 69.092%,#aad584 69.175%,#e2f1a1 69.258%,#7cbb6c 69.34%,#f2f8bd 69.423%,#96ca79 69.506%,#77b769 69.589%,#8fc676 69.672%,#b6dc8a 69.755%,#c5e392 69.838%,#afd886 69.921%,#b2da88 70.004%,#bddf8e 70.087%,#c0e18f 70.169%,#b4db89 70.252%,#f3f9be 70.335%,#cee796 70.418%,#c7e493 70.501%,#c0e18f 70.584%,#d2e998 70.667%,#45894b 70.75%,#d1e997 70.833%,#93c878 70.916%,#bddf8e 70.998%,#97cb7a 71.081%,#8bc474 71.164%,#c6e392 71.247%,#a0d07e 71.33%,#c5e391 71.413%,#356d3f 71.496%,#e7f3a8 71.579%,#8dc574 71.662%,#8ec675 71.745%,#cde796 71.827%,#89c372 71.91%,#a2d17f 71.993%,#b6dc8a 72.076%,#93c878 72.159%,#a7d482 72.242%,#b7dc8b 72.325%,#b6dc8a 72.408%,#acd785 72.491%,#c1e18f 72.574%,#a7d483 72.656%,#d7ec9a 72.739%,#418148 72.822%,#f1f8bb 72.905%,#b3da88 72.988%,#d3ea99 73.071%,#94c978 73.154%,#5ca55a 73.237%,#b2da88 73.32%,#b2da88 73.361%,#fff 73.361% 73.778%,#6fb264 73.778%,#6fb264 73.82%,#b9dd8c 73.903%,#9bcd7c 73.987%,#f0f7ba 74.071%,#a7d482 74.155%,#ecf5b2 74.239%,#bcdf8d 74.322%,#d4ea99 74.406%,#91c777 74.49%,#e4f2a3 74.574%,#a9d583 74.658%,#aad684 74.741%,#b1d987 74.825%,#b1d987 74.909%,#d8ec9b 74.993%,#cde796 75.077%,#bcdf8d 75.16%,#bfe08f 75.244%,#eaf5af 75.328%,#bcdf8d 75.412%,#e6f3a6 75.496%,#b5db8a 75.579%,#c7e493 75.663%,#92c878 75.747%,#95ca79 75.831%,#daed9c 75.915%,#dcee9d 75.998%,#9acc7c 76.082%,#cfe897 76.166%,#73b567 76.25%,#cce695 76.334%,#c8e593 76.417%,#a0d07f 76.501%,#4e9751 76.585%,#8bc474 76.669%,#bade8c 76.753%,#e3f1a1 76.836%,#79b96a 76.92%,#b8dd8b 77.004%,#dff09f 77.088%,#b3da88 77.172%,#d2e998 77.255%,#c5e392 77.339%,#bade8c 77.423%,#c7e493 77.507%,#98cb7a 77.591%,#91c877 77.674%,#84c070 77.758%,#e3f1a2 77.842%,#d0e897 77.926%,#8ec675 78.009%,#e3f2a2 78.093%,#dbee9c 78.177%,#c9e593 78.261%,#e3f1a1 78.345%,#ebf5b1 78.428%,#e6f3a7 78.512%,#bee08e 78.596%,#81be6e 78.68%,#97cb7a 78.764%,#97cb7a 78.806%,#fff 78.806% 79.333%,#afd987 79.333%,#afd987 79.375%,#a1d07f 79.458%,#ecf5b1 79.542%,#44864a 79.625%,#deef9e 79.708%,#f1f8bb 79.792%,#bade8c 79.875%,#44874a 79.958%,#5ea65a 80.042%,#c4e391 80.125%,#b3da88 80.208%,#b4db89 80.292%,#c0e18f 80.375%,#a7d482 80.458%,#c4e391 80.542%,#83bf6f 80.625%,#b0d987 80.708%,#c0e18f 80.792%,#9ece7d 80.875%,#c6e492 80.958%,#91c877 81.042%,#a7d482 81.125%,#97cb7a 81.208%,#8bc474 81.292%,#e9f4ad 81.375%,#a1d07f 81.458%,#e2f1a1 81.542%,#cfe897 81.625%,#d1e998 81.708%,#8dc575 81.792%,#b3db89 81.875%,#b3da88 81.958%,#d8ec9b 82.042%,#a8d483 82.125%,#dbee9c 82.208%,#abd684 82.292%,#f4f9c1 82.375%,#97cb7a 82.458%,#a4d281 82.542%,#b2da88 82.625%,#9ecf7e 82.708%,#a9d583 82.792%,#367040 82.875%,#d7ec9a 82.958%,#b8dd8b 83.042%,#c7e492 83.125%,#d4ea99 83.208%,#dbee9c 83.292%,#c4e391 83.375%,#e4f2a4 83.458%,#58a257 83.542%,#bddf8e 83.625%,#e4f2a4 83.708%,#b5dc8a 83.792%,#cfe896 83.875%,#71b365 83.958%,#9dce7d 84.042%,#abd684 84.125%,#bddf8d 84.208%,#bddf8d 84.25%,#fff 84.25% 84.722%,#91c777 84.722%,#91c777 84.764%,#e3f2a3 84.847%,#72b466 84.931%,#b4db89 85.014%,#c2e290 85.097%,#44874a 85.181%,#c4e391 85.264%,#d4ea99 85.347%,#c8e593 85.431%,#b8dd8b 85.514%,#8ec675 85.597%,#a7d482 85.681%,#75b668 85.764%,#dbee9d 85.847%,#97cb7a 85.931%,#c4e291 86.014%,#e3f2a2 86.097%,#a3d180 86.181%,#b8dd8b 86.264%,#9fcf7e 86.347%,#87c272 86.431%,#8bc474 86.514%,#88c372 86.597%,#d6eb9a 86.681%,#b5dc8a 86.764%,#92c878 86.847%,#bade8c 86.931%,#8bc474 87.014%,#b3da88 87.097%,#9bcd7c 87.181%,#dbed9c 87.264%,#356d3f 87.347%,#84c070 87.431%,#c6e492 87.514%,#b0d987 87.597%,#c0e18f 87.681%,#acd785 87.764%,#b2da88 87.847%,#43864a 87.931%,#bbde8c 88.014%,#deef9e 88.097%,#d6eb9a 88.181%,#a1d17f 88.264%,#d3ea98 88.347%,#7ab96b 88.431%,#d5eb99 88.514%,#b6dc8a 88.597%,#a6d382 88.681%,#cee796 88.764%,#59a358 88.847%,#8ac373 88.931%,#92c877 89.014%,#e2f1a1 89.097%,#b8dd8b 89.181%,#b8dd8b 89.264%,#c7e493 89.347%,#e0f09f 89.431%,#e0f09f 89.472%,#fff 89.472% 89.944%,#b5dc8a 89.944%,#b5dc8a 89.986%,#91c877 90.07%,#f7fac6 90.154%,#c6e492 90.238%,#c9e593 90.322%,#b3db89 90.406%,#d7ec9b 90.49%,#a7d482 90.573%,#d9ed9c 90.657%,#d7ec9a 90.741%,#d4ea99 90.825%,#c3e290 90.909%,#ecf6b3 90.993%,#bcdf8d 91.077%,#c8e593 91.16%,#e7f3a9 91.244%,#eaf5ae 91.328%,#cbe694 91.412%,#ecf6b2 91.496%,#7bba6b 91.58%,#95ca79 91.664%,#d1e997 91.747%,#c7e493 91.831%,#c5e391 91.915%,#cbe695 91.999%,#c9e593 92.083%,#c3e290 92.167%,#9fcf7e 92.251%,#c7e493 92.334%,#bade8c 92.418%,#d3ea98 92.502%,#c1e190 92.586%,#c1e18f 92.67%,#a7d482 92.754%,#aed886 92.838%,#c0e18f 92.921%,#7ebc6c 93.005%,#b2da88 93.089%,#c5e392 93.173%,#edf6b4 93.257%,#63aa5e 93.341%,#e1f1a0 93.425%,#eef7b6 93.508%,#cbe695 93.592%,#acd785 93.676%,#a6d382 93.76%,#e1f09f 93.844%,#bee08e 93.928%,#7cbb6b 94.012%,#cfe896 94.095%,#cde796 94.179%,#e6f3a7 94.263%,#bade8c 94.347%,#bade8c 94.389%,#fff 94.389% 94.806%,#acd785 94.806%,#acd785 94.848%,#b1da88 94.931%,#a7d482 95.015%,#e5f2a5 95.099%,#cae694 95.183%,#a0d07e 95.267%,#c1e18f 95.351%,#c6e392 95.435%,#f8fbc8 95.519%,#b3db89 95.602%,#b9dd8b 95.686%,#66ac5f 95.77%,#84c070 95.854%,#d5eb9a 95.938%,#e4f2a4 96.022%,#bbde8c 96.106%,#b2da88 96.19%,#89c372 96.274%,#98cc7b 96.358%,#8ac373 96.441%,#72b466 96.525%,#98cb7a 96.609%,#cfe897 96.693%,#a9d583 96.777%,#b5db89 96.861%,#eaf5ae 96.945%,#b0d987 97.029%,#f4f9c1 97.112%,#cee796 97.196%,#b2da88 97.28%,#95ca79 97.364%,#bbde8d 97.448%,#a0d07f 97.532%,#a3d280 97.616%,#a0d07f 97.7%,#81be6e 97.784%,#4a904e 97.867%,#d0e897 97.951%,#b8dd8b 98.035%,#62a95d 98.119%,#c2e290 98.203%,#7dbb6c 98.287%,#4c9450 98.371%,#d7ec9b 98.455%,#cbe694 98.539%,#92c877 98.623%,#b1da88 98.706%,#a0d07e 98.79%,#c6e492 98.874%,#c5e391 98.958%,#c5e391 99%,#fff 99% 100%)"></div><div class="d" style="left:893.4px;top:153.9px;width:223px;height:223px;background:#fff"></div><div class="d" style="left:895.2px;top:155.8px;width:219.2px;height:219.2px;background:conic-gradient(#fff 0% 0.889%,#6ec1a0 0.889%,#6ec1a0 0.931%,#7cc8ab 1.014%,#2e7149 1.098%,#9bd7c3 1.181%,#62b796 1.265%,#74c4a5 1.348%,#d9f0ed 1.432%,#78c6a8 1.515%,#36815a 1.598%,#63b896 1.682%,#9bd6c2 1.765%,#90d1ba 1.849%,#a7dccc 1.932%,#added0 2.016%,#a8dccc 2.099%,#a3dac9 2.183%,#bde5db 2.266%,#bde5db 2.35%,#bfe6dc 2.433%,#b9e4d8 2.517%,#c0e6dd 2.6%,#e6f5f4 2.684%,#c7e9e2 2.767%,#dbf1ee 2.851%,#d6efeb 2.934%,#c1e7de 3.018%,#c3e8df 3.101%,#addecf 3.185%,#c4e8e0 3.268%,#bde5db 3.352%,#cdece6 3.435%,#d1ede8 3.519%,#eef8f8 3.602%,#d0ede8 3.686%,#b4e2d5 3.769%,#e3f4f2 3.852%,#c9eae3 3.936%,#d0ede8 4.019%,#c3e8df 4.103%,#ddf2ef 4.186%,#c9eae3 4.27%,#d6efeb 4.353%,#dcf1ee 4.437%,#e6f5f4 4.52%,#d7efec 4.604%,#e6f5f4 4.687%,#d4efea 4.771%,#dbf1ee 4.854%,#d9f0ed 4.938%,#eef8f8 5.021%,#e0f3f1 5.105%,#e7f6f5 5.188%,#e6f5f4 5.272%,#daf1ee 5.355%,#ecf7f7 5.439%,#eef8f8 5.522%,#e6f5f4 5.606%,#eef8f8 5.689%,#ddf2ef 5.773%,#dcf1ee 5.856%,#ecf7f7 5.94%,#eef8f8 6.023%,#e6f5f4 6.107%,#eef8f8 6.19%,#dbf1ee 6.273%,#e2f4f2 6.357%,#e4f4f3 6.44%,#def2ef 6.524%,#9ed8c5 6.607%,#eef8f8 6.691%,#eef8f8 6.774%,#eef8f8 6.858%,#ecf7f7 6.941%,#eef8f8 7.025%,#e4f4f3 7.108%,#e0f3f1 7.192%,#e4f4f2 7.275%,#eef8f8 7.359%,#eaf6f6 7.442%,#eef8f8 7.526%,#e9f6f5 7.609%,#dbf1ee 7.693%,#eef8f8 7.776%,#ebf7f6 7.86%,#ebf7f6 7.943%,#ddf2ef 8.027%,#eef8f8 8.11%,#eef8f8 8.194%,#dff2f0 8.277%,#eef8f8 8.361%,#e8f6f5 8.444%,#e3f4f2 8.527%,#eef8f8 8.611%,#e4f4f3 8.694%,#eef8f8 8.778%,#eef8f8 8.861%,#eef8f8 8.945%,#eef8f8 9.028%,#e2f4f2 9.112%,#e4f4f3 9.195%,#ccebe5 9.279%,#dff3f0 9.362%,#eef8f8 9.446%,#aedfd1 9.529%,#e7f5f4 9.613%,#b0e0d2 9.696%,#eef8f8 9.78%,#ebf7f6 9.863%,#d1eee9 9.947%,#bae4d9 10.03%,#ecf7f7 10.114%,#e6f5f4 10.197%,#eef8f8 10.281%,#eef8f8 10.364%,#edf8f7 10.448%,#e2f4f2 10.531%,#daf1ed 10.615%,#dcf1ee 10.698%,#d4efea 10.781%,#acdecf 10.865%,#def2ef 10.948%,#d6efeb 11.032%,#b9e3d8 11.115%,#dff2f0 11.199%,#e8f6f5 11.282%,#dbf1ee 11.366%,#cbebe4 11.449%,#def2f0 11.533%,#d8f0ec 11.616%,#e3f4f2 11.7%,#c1e7de 11.783%,#ddf2ef 11.867%,#def2ef 11.95%,#c5e8e0 12.034%,#caebe4 12.117%,#d1ede9 12.201%,#c9eae3 12.284%,#bbe4d9 12.368%,#d8f0ec 12.451%,#d3eeea 12.535%,#dff3f0 12.618%,#c9eae3 12.702%,#d6efeb 12.785%,#ccece6 12.869%,#c5e8e0 12.952%,#63b896 13.036%,#c3e7df 13.119%,#bfe6dc 13.202%,#c0e6dd 13.286%,#b0e0d2 13.369%,#5bb28f 13.453%,#99d6c1 13.536%,#c7e9e2 13.62%,#cbebe4 13.703%,#b4e1d4 13.787%,#addfd0 13.87%,#bbe4d9 13.954%,#67bb9a 14.037%,#a4dbc9 14.121%,#9bd7c3 14.204%,#ebf7f6 14.288%,#b1e0d2 14.371%,#9bd7c3 14.455%,#bbe4d9 14.538%,#bfe6dc 14.622%,#5fb592 14.705%,#c8eae2 14.789%,#b5e2d5 14.872%,#9ad6c2 14.956%,#abdece 15.039%,#bfe6dc 15.123%,#90d1ba 15.206%,#b9e4d8 15.29%,#a6dbca 15.373%,#bbe4da 15.456%,#aedfd0 15.54%,#b4e1d5 15.623%,#c4e8e0 15.707%,#abdece 15.79%,#c1e7de 15.874%,#c8eae2 15.957%,#b5e2d5 16.041%,#addfd0 16.124%,#b9e4d8 16.208%,#aaddce 16.291%,#d5efea 16.375%,#d1ede9 16.458%,#d1ede9 16.5%,#fff 16.5% 16.972%,#6ec0a0 16.972%,#6ec0a0 17.014%,#a2dac8 17.098%,#c4e8e0 17.181%,#d0ede8 17.265%,#aaddcd 17.348%,#6abe9d 17.432%,#bde5db 17.516%,#a9ddcd 17.599%,#b5e2d5 17.683%,#c2e7de 17.766%,#5eb492 17.85%,#a8dccc 17.933%,#bfe6dc 18.017%,#ceece7 18.101%,#c8eae3 18.184%,#c4e8e0 18.268%,#dcf2ef 18.351%,#bbe4da 18.435%,#dff2f0 18.519%,#addfd0 18.602%,#4ea884 18.686%,#d9f0ed 18.769%,#bee5db 18.853%,#80caae 18.936%,#d6efeb 19.02%,#bce5da 19.104%,#b6e2d6 19.187%,#ceece6 19.271%,#c0e6dd 19.354%,#e0f3f0 19.438%,#b8e3d8 19.522%,#acdecf 19.605%,#daf1ed 19.689%,#b8e3d7 19.772%,#b6e2d6 19.856%,#abdecf 19.94%,#bee5db 20.023%,#b7e3d7 20.107%,#c4e8e0 20.19%,#d2eee9 20.274%,#d6efeb 20.357%,#a6dccb 20.441%,#d1ede9 20.525%,#9ed8c5 20.608%,#d2eee9 20.692%,#dcf2ef 20.775%,#eef8f8 20.859%,#dbf1ee 20.943%,#bee6dc 21.026%,#d4efea 21.11%,#a0d9c6 21.193%,#bfe6dc 21.277%,#c6e9e1 21.36%,#e9f6f5 21.444%,#eef8f8 21.528%,#eaf6f6 21.611%,#cbebe4 21.695%,#caebe4 21.778%,#e4f4f3 21.862%,#eef8f8 21.946%,#d6efeb 22.029%,#e8f6f5 22.113%,#d2eee9 22.196%,#e4f4f3 22.28%,#d3eeea 22.364%,#eef8f8 22.447%,#d9f0ed 22.531%,#a5dbca 22.614%,#c0e6dd 22.698%,#eef8f8 22.781%,#ebf7f7 22.865%,#c9eae3 22.949%,#eef8f8 23.032%,#ecf7f7 23.116%,#d5efeb 23.199%,#a3dac9 23.283%,#c5e9e1 23.367%,#e5f5f3 23.45%,#c8eae3 23.534%,#eef8f8 23.617%,#eef8f8 23.701%,#a9ddcd 23.784%,#e2f4f2 23.868%,#e9f6f5 23.952%,#eef8f8 24.035%,#c9eae3 24.119%,#ecf7f7 24.202%,#d2eee9 24.286%,#c2e7de 24.37%,#eef8f8 24.453%,#eef8f8 24.537%,#edf8f8 24.62%,#caeae4 24.704%,#dbf1ee 24.787%,#d2eee9 24.871%,#e1f3f1 24.955%,#dcf1ee 25.038%,#cbebe4 25.122%,#e0f3f0 25.205%,#d2eee9 25.289%,#88cdb4 25.373%,#eef8f8 25.456%,#e0f3f0 25.54%,#eef8f8 25.623%,#e0f3f1 25.707%,#b1e0d2 25.791%,#abdece 25.874%,#daf1ed 25.958%,#d2eee9 26.041%,#eaf7f6 26.125%,#eaf7f6 26.167%,#fff 26.167% 26.694%,#79c6a9 26.694%,#79c6a9 26.736%,#d8f0ec 26.82%,#eef8f8 26.904%,#eef8f8 26.987%,#afe0d1 27.071%,#bde5db 27.155%,#a3dac9 27.238%,#d2eee9 27.322%,#b0e0d2 27.406%,#a7dccb 27.489%,#dcf2ef 27.573%,#a0d9c7 27.657%,#b9e4d8 27.74%,#d3eeea 27.824%,#bfe6dc 27.908%,#449d77 27.991%,#bce5da 28.075%,#bde5db 28.159%,#77c6a8 28.242%,#d4efea 28.326%,#c2e7de 28.41%,#d6efeb 28.493%,#b3e1d4 28.577%,#2d6d46 28.661%,#84ccb1 28.745%,#d1ede8 28.828%,#d9f0ed 28.912%,#7cc8ab 28.996%,#dff3f0 29.079%,#def2f0 29.163%,#b1e0d2 29.247%,#e1f3f1 29.33%,#b3e1d3 29.414%,#c6e9e1 29.498%,#c4e8df 29.581%,#abdece 29.665%,#7dc8ac 29.749%,#8fd1ba 29.832%,#dff3f0 29.916%,#b2e1d3 30%,#d6efeb 30.083%,#c6e9e1 30.167%,#a0d9c7 30.251%,#c9eae3 30.334%,#cfece7 30.418%,#bfe6dc 30.502%,#b3e1d4 30.585%,#def2ef 30.669%,#e5f5f3 30.753%,#b9e4d8 30.836%,#b1e0d3 30.92%,#c5e8e0 31.004%,#daf1ed 31.087%,#d1ede9 31.171%,#a6dccb 31.255%,#46a27c 31.338%,#7dc8ac 31.422%,#cbebe4 31.506%,#a0d9c7 31.59%,#c3e7df 31.673%,#bae4d8 31.757%,#c7e9e2 31.841%,#ccebe5 31.924%,#ceece6 32.008%,#bde5db 32.092%,#b7e3d7 32.175%,#d7efec 32.259%,#eef8f8 32.343%,#dbf1ee 32.426%,#c5e8e0 32.51%,#bae4d9 32.594%,#cfede7 32.677%,#d5efeb 32.761%,#dff2f0 32.845%,#b3e1d4 32.928%,#d6efeb 33.012%,#ddf2ef 33.096%,#eef8f8 33.179%,#75c5a6 33.263%,#cdece6 33.347%,#dcf1ee 33.43%,#dcf1ee 33.472%,#fff 33.472% 34%,#c8eae2 34%,#c8eae2 34.042%,#5ab18e 34.126%,#d6efeb 34.209%,#d3eee9 34.293%,#bae4d9 34.377%,#d6efeb 34.46%,#b4e1d4 34.544%,#97d5c0 34.628%,#bde5db 34.711%,#d8f0ec 34.795%,#e4f4f3 34.879%,#d3eeea 34.962%,#d3eee9 35.046%,#d6efeb 35.13%,#e8f6f5 35.213%,#51aa86 35.297%,#d7f0ec 35.381%,#d8f0ed 35.464%,#e2f3f1 35.548%,#aaddcd 35.632%,#e1f3f1 35.715%,#daf1ed 35.799%,#b6e2d6 35.883%,#c4e8df 35.966%,#d5efeb 36.05%,#85ccb2 36.134%,#d4eeea 36.218%,#eef8f8 36.301%,#55ae8a 36.385%,#caeae4 36.469%,#bce5da 36.552%,#b2e1d3 36.636%,#ebf7f7 36.72%,#b1e0d3 36.803%,#dbf1ee 36.887%,#d8f0ec 36.971%,#d9f0ed 37.054%,#c3e8df 37.138%,#e9f6f5 37.222%,#bde5db 37.305%,#d1ede8 37.389%,#d4eeea 37.473%,#eef8f8 37.556%,#def2f0 37.64%,#a8dccc 37.724%,#afdfd1 37.807%,#aedfd0 37.891%,#c8eae2 37.975%,#d6efeb 38.059%,#98d5c0 38.142%,#dbf1ee 38.226%,#bbe4d9 38.31%,#eef8f8 38.393%,#b2e1d3 38.477%,#d8f0ec 38.561%,#c4e8e0 38.644%,#82caaf 38.728%,#9fd9c6 38.812%,#65ba98 38.895%,#eef8f8 38.979%,#a1d9c7 39.063%,#c5e8e0 39.146%,#d0ede8 39.23%,#b6e2d6 39.314%,#eef8f8 39.397%,#4ea883 39.481%,#c8eae2 39.565%,#aedfd0 39.648%,#e0f3f0 39.732%,#c1e7dd 39.816%,#9bd7c2 39.899%,#82caaf 39.983%,#b8e3d7 40.067%,#bde5db 40.151%,#c9eae3 40.234%,#9bd6c2 40.318%,#bce5da 40.402%,#e8f6f5 40.485%,#75c4a6 40.569%,#e2f4f2 40.653%,#e2f4f2 40.694%,#fff 40.694% 41.125%,#a6dccb 41.125%,#a6dccb 41.167%,#c8eae2 41.25%,#a2dac8 41.333%,#d4eeea 41.416%,#69bd9c 41.499%,#c7e9e1 41.582%,#8fd1b9 41.666%,#aedfd0 41.749%,#d1eee9 41.832%,#96d4bf 41.915%,#cbebe5 41.998%,#ebf7f7 42.081%,#d4eeea 42.164%,#d5efeb 42.248%,#aaddcd 42.331%,#d4efea 42.414%,#d4eeea 42.497%,#b2e1d3 42.58%,#dbf1ee 42.663%,#b6e2d6 42.747%,#addfd0 42.83%,#d0ede8 42.913%,#b2e1d3 42.996%,#d8f0ec 43.079%,#c9eae3 43.162%,#ebf7f6 43.245%,#daf1ed 43.329%,#e0f3f1 43.412%,#c7e9e1 43.495%,#8bcfb6 43.578%,#abdece 43.661%,#cbebe5 43.744%,#bde5db 43.828%,#76c5a6 43.911%,#d1ede8 43.994%,#c6e9e1 44.077%,#84ccb1 44.16%,#eef8f8 44.243%,#b7e3d7 44.326%,#b6e2d6 44.41%,#e8f6f5 44.493%,#96d4bf 44.576%,#bce5da 44.659%,#8ed0b8 44.742%,#a9ddcd 44.825%,#caebe4 44.909%,#d2eee9 44.992%,#daf1ed 45.075%,#b5e2d5 45.158%,#d7f0ec 45.241%,#d1ede9 45.324%,#8dd0b8 45.407%,#97d5bf 45.491%,#caebe4 45.574%,#a5dbca 45.657%,#e4f4f3 45.74%,#80caae 45.823%,#abdece 45.906%,#c8eae3 45.99%,#edf8f8 46.073%,#b5e2d5 46.156%,#aedfd0 46.239%,#a5dbca 46.322%,#bfe6dc 46.405%,#6dbf9f 46.489%,#b2e1d3 46.572%,#b1e0d2 46.655%,#74c4a5 46.738%,#b0e0d2 46.821%,#b0e0d2 46.904%,#c1e7dd 46.987%,#eef8f8 47.071%,#b1e0d2 47.154%,#bee6db 47.237%,#b5e2d5 47.32%,#c4e8e0 47.403%,#b4e1d4 47.486%,#d3eeea 47.57%,#d3eeea 47.611%,#fff 47.611% 48.056%,#aaddce 48.056%,#aaddce 48.097%,#65ba98 48.181%,#7bc7aa 48.264%,#d6efeb 48.347%,#ccebe5 48.431%,#bce5da 48.514%,#bbe4d9 48.597%,#bee6db 48.681%,#93d3bd 48.764%,#d1ede9 48.847%,#caebe4 48.931%,#9dd8c4 49.014%,#d1ede8 49.097%,#eef8f8 49.181%,#c6e9e1 49.264%,#50aa85 49.347%,#a0d9c7 49.431%,#7ec9ad 49.514%,#b6e2d6 49.597%,#a6dccb 49.681%,#a8dccc 49.764%,#bfe6dc 49.847%,#d0ede8 49.931%,#d2eee9 50.014%,#b6e2d6 50.097%,#9dd7c4 50.181%,#caeae4 50.264%,#d7f0ec 50.347%,#8ed0b9 50.431%,#a1d9c7 50.514%,#c3e8df 50.597%,#96d4bf 50.681%,#eef8f8 50.764%,#c6e9e1 50.847%,#a5dbca 50.931%,#c7e9e2 51.014%,#91d2bb 51.097%,#cbebe4 51.181%,#a8dccc 51.264%,#bfe6dc 51.347%,#aedfd0 51.431%,#d2eee9 51.514%,#eef8f8 51.597%,#d8f0ed 51.681%,#d4eeea 51.764%,#b9e3d8 51.847%,#c9eae3 51.931%,#99d6c1 52.014%,#e8f6f5 52.097%,#b2e1d3 52.181%,#b9e4d8 52.264%,#d4efea 52.347%,#c4e8df 52.431%,#dcf1ee 52.514%,#bfe6dc 52.597%,#ddf2ef 52.681%,#93d3bd 52.764%,#b2e1d3 52.847%,#c2e7de 52.931%,#b5e2d5 53.014%,#b8e3d7 53.097%,#69bd9c 53.181%,#caeae4 53.264%,#bce5da 53.347%,#c1e7dd 53.431%,#b3e1d4 53.514%,#b3e1d4 53.597%,#e0f3f1 53.681%,#4fa984 53.764%,#b5e2d5 53.847%,#d9f0ed 53.931%,#b1e0d3 54.014%,#bae4d9 54.097%,#86cdb3 54.181%,#a8ddcc 54.264%,#acdecf 54.347%,#b3e1d4 54.431%,#b9e3d8 54.514%,#b9e4d8 54.597%,#b9e3d8 54.681%,#c4e8e0 54.764%,#8dd0b8 54.847%,#e0f3f1 54.931%,#b6e2d6 55.014%,#86cdb3 55.097%,#93d3bd 55.181%,#bbe4d9 55.264%,#a6dccb 55.347%,#cbebe5 55.431%,#d5efeb 55.514%,#bce5da 55.597%,#8ed0b9 55.681%,#b2e1d3 55.764%,#ddf2ef 55.847%,#ddf2ef 55.889%,#fff 55.889% 56.278%,#87cdb3 56.278%,#87cdb3 56.319%,#abdece 56.402%,#a7dccb 56.485%,#b9e3d8 56.568%,#7ac7a9 56.651%,#bde5db 56.734%,#68bc9b 56.817%,#72c3a3 56.9%,#e1f3f1 56.983%,#bfe6dc 57.066%,#9cd7c4 57.148%,#b9e3d8 57.231%,#a8dccc 57.314%,#c0e6dd 57.397%,#89ceb5 57.48%,#aaddce 57.563%,#91d2bb 57.646%,#d0ede8 57.729%,#a4dbc9 57.812%,#b7e3d7 57.895%,#abdece 57.978%,#96d4bf 58.061%,#7fc9ad 58.143%,#eef8f8 58.226%,#a1d9c7 58.309%,#9dd8c4 58.392%,#a8ddcc 58.475%,#b2e1d3 58.558%,#bee5db 58.641%,#bfe6dc 58.724%,#93d3bc 58.807%,#a5dbca 58.89%,#a7dccc 58.973%,#a6dbcb 59.056%,#aaddcd 59.138%,#dcf1ee 59.221%,#46a27c 59.304%,#a1dac7 59.387%,#addfd0 59.47%,#d5efea 59.553%,#abdece 59.636%,#bce5da 59.719%,#c4e8e0 59.802%,#98d5c1 59.885%,#9bd7c3 59.968%,#b4e2d5 60.051%,#9bd7c2 60.133%,#7dc8ac 60.216%,#c6e9e1 60.299%,#9ed8c5 60.382%,#9dd8c4 60.465%,#c3e8df 60.548%,#9bd6c2 60.631%,#b8e3d7 60.714%,#91d2bb 60.797%,#addfd0 60.88%,#a4dbc9 60.963%,#8dd0b8 61.046%,#c2e7de 61.129%,#b0e0d2 61.211%,#7dc8ac 61.294%,#a0d9c6 61.377%,#a8ddcc 61.46%,#3c8c65 61.543%,#bbe4d9 61.626%,#c3e7df 61.709%,#86cdb3 61.792%,#86cdb3 61.833%,#fff 61.833% 62.194%,#a7dccc 62.194%,#a7dccc 62.236%,#8fd1b9 62.32%,#c0e6dd 62.404%,#afdfd1 62.488%,#d7efec 62.571%,#89ceb5 62.655%,#87cdb4 62.739%,#6fc1a1 62.823%,#bce5da 62.906%,#a2dac8 62.99%,#c1e7de 63.074%,#c5e9e1 63.158%,#96d4bf 63.241%,#b0e0d2 63.325%,#caeae4 63.409%,#e2f4f2 63.493%,#addfd0 63.576%,#caeae4 63.66%,#92d2bc 63.744%,#81caaf 63.828%,#d8f0ed 63.912%,#bae4d8 63.995%,#b3e1d4 64.079%,#80caae 64.163%,#97d5bf 64.247%,#b8e3d7 64.33%,#70c2a2 64.414%,#7ec9ad 64.498%,#3e906a 64.582%,#a9ddcd 64.665%,#91d2bb 64.749%,#a6dccb 64.833%,#b6e2d6 64.917%,#9cd7c3 65%,#c9eae3 65.084%,#aedfd1 65.168%,#daf1ed 65.252%,#b6e2d6 65.335%,#a1dac7 65.419%,#9ed8c5 65.503%,#439c76 65.587%,#b1e0d2 65.671%,#62b795 65.754%,#bce5da 65.838%,#a7dccb 65.922%,#4da883 66.006%,#b7e3d7 66.089%,#79c6a9 66.173%,#d8f0ec 66.257%,#99d6c1 66.341%,#69bd9c 66.424%,#aedfd0 66.508%,#b8e3d7 66.592%,#b9e4d8 66.676%,#e9f6f5 66.759%,#a0d9c6 66.843%,#eef8f8 66.927%,#a2dac8 67.011%,#c3e8df 67.094%,#d5efea 67.178%,#67bb9a 67.262%,#a8dccc 67.346%,#d7f0ec 67.429%,#bfe6dc 67.513%,#a7dccc 67.597%,#a7dccc 67.639%,#fff 67.639% 68.056%,#abdecf 68.056%,#abdecf 68.097%,#acdecf 68.18%,#b1e0d2 68.263%,#cfede8 68.346%,#e2f4f1 68.429%,#c7e9e2 68.512%,#b2e1d3 68.594%,#b7e3d6 68.677%,#cbebe5 68.76%,#c1e7de 68.843%,#8ccfb7 68.926%,#d6efeb 69.009%,#d2eee9 69.092%,#d3eee9 69.175%,#def2ef 69.258%,#c7e9e2 69.34%,#7ec9ad 69.423%,#bae4d9 69.506%,#e4f4f3 69.589%,#91d2bb 69.672%,#a4dbc9 69.755%,#d2eee9 69.838%,#a6dccb 69.921%,#b0e0d2 70.004%,#6fc1a1 70.087%,#e8f6f5 70.169%,#aedfd0 70.252%,#95d4be 70.335%,#bbe4d9 70.418%,#9ad6c2 70.501%,#bde5db 70.584%,#c5e8e0 70.667%,#68bc9b 70.75%,#aedfd1 70.833%,#d1ede9 70.916%,#cbebe4 70.998%,#7cc8ab 71.081%,#a8dccc 71.164%,#b3e1d4 71.247%,#c6e9e1 71.33%,#caebe4 71.413%,#e2f4f2 71.496%,#c6e9e1 71.579%,#9cd7c4 71.662%,#d1eee9 71.745%,#7fc9ae 71.827%,#a7dccb 71.91%,#c1e7dd 71.993%,#a8ddcc 72.076%,#addecf 72.159%,#d8f0ec 72.242%,#bee6db 72.325%,#c5e8e0 72.408%,#86ccb2 72.491%,#a7dccc 72.574%,#48a37e 72.656%,#8bcfb7 72.739%,#9ed8c5 72.822%,#e5f5f3 72.905%,#a4dbca 72.988%,#aedfd0 73.071%,#94d3be 73.154%,#97d5c0 73.237%,#b2e0d3 73.32%,#b2e0d3 73.361%,#fff 73.361% 73.778%,#d7f0ec 73.778%,#d7f0ec 73.82%,#d3eeea 73.903%,#a9ddcd 73.987%,#8bcfb7 74.071%,#c5e9e0 74.155%,#dbf1ee 74.239%,#c9eae3 74.322%,#bfe6dc 74.406%,#68bc9b 74.49%,#c2e7de 74.574%,#e5f5f3 74.658%,#d9f0ed 74.741%,#dbf1ee 74.825%,#dff2f0 74.909%,#b4e1d4 74.993%,#dcf1ee 75.077%,#b8e3d7 75.16%,#c2e7de 75.244%,#b9e3d8 75.328%,#d2eee9 75.412%,#b1e0d2 75.496%,#b1e0d2 75.579%,#c4e8df 75.663%,#eef8f8 75.747%,#72c3a4 75.831%,#8fd1ba 75.915%,#addecf 75.998%,#d2eee9 76.082%,#bde5db 76.166%,#dcf1ef 76.25%,#d2eee9 76.334%,#cbebe5 76.417%,#caebe4 76.501%,#d1ede8 76.585%,#c1e7de 76.669%,#e3f4f2 76.753%,#def2f0 76.836%,#a7dccc 76.92%,#d7f0ec 77.004%,#d9f0ed 77.088%,#8ed0b9 77.172%,#d4efea 77.255%,#eef8f8 77.339%,#d9f0ed 77.423%,#daf1ed 77.507%,#e6f5f4 77.591%,#b9e4d8 77.674%,#c4e8e0 77.758%,#b1e0d2 77.842%,#d0ede8 77.926%,#b5e2d6 78.009%,#a2dac8 78.093%,#daf1ee 78.177%,#dbf1ee 78.261%,#bfe6dc 78.345%,#9cd7c4 78.428%,#86ccb3 78.512%,#c7e9e2 78.596%,#cbebe5 78.68%,#d5efeb 78.764%,#d5efeb 78.806%,#fff 78.806% 79.333%,#eaf7f6 79.333%,#eaf7f6 79.375%,#a4dbc9 79.458%,#a4dbca 79.542%,#ceece7 79.625%,#99d6c1 79.708%,#c5e8e0 79.792%,#afe0d1 79.875%,#bee6dc 79.958%,#a9ddcd 80.042%,#bce5da 80.125%,#abdece 80.208%,#ccebe5 80.292%,#c5e9e1 80.375%,#c6e9e1 80.458%,#99d6c1 80.542%,#98d5c0 80.625%,#d0ede8 80.708%,#90d1ba 80.792%,#aedfd0 80.875%,#c7e9e2 80.958%,#b2e1d3 81.042%,#83cbb1 81.125%,#bee6db 81.208%,#d5efeb 81.292%,#8bcfb7 81.375%,#c5e8e0 81.458%,#9fd9c6 81.542%,#d0ede8 81.625%,#9ed8c5 81.708%,#e9f6f6 81.792%,#9fd9c6 81.875%,#b4e1d4 81.958%,#80caaf 82.042%,#b9e3d8 82.125%,#e4f4f2 82.208%,#c3e8df 82.292%,#aaddcd 82.375%,#93d3bd 82.458%,#b1e0d2 82.542%,#daf0ed 82.625%,#b3e1d4 82.708%,#b6e2d6 82.792%,#c4e8e0 82.875%,#d6efeb 82.958%,#459f79 83.042%,#c7e9e2 83.125%,#daf1ed 83.208%,#c2e7de 83.292%,#aedfd0 83.375%,#a9ddcd 83.458%,#b5e2d6 83.542%,#d6efeb 83.625%,#b2e0d3 83.708%,#b2e1d3 83.792%,#cdece6 83.875%,#c9eae3 83.958%,#bde5db 84.042%,#a8ddcc 84.125%,#b6e2d6 84.208%,#b6e2d6 84.25%,#fff 84.25% 84.722%,#54ad89 84.722%,#54ad89 84.764%,#93d3bc 84.847%,#ddf2ef 84.931%,#b7e3d7 85.014%,#cfede7 85.097%,#ceece7 85.181%,#9fd9c6 85.264%,#d8f0ec 85.347%,#dff3f0 85.431%,#e5f5f3 85.514%,#b6e2d6 85.597%,#c4e8df 85.681%,#e8f6f5 85.764%,#c5e9e0 85.847%,#327850 85.931%,#a1d9c7 86.014%,#ccebe5 86.097%,#9dd8c5 86.181%,#e1f3f1 86.264%,#cfede7 86.347%,#c5e9e1 86.431%,#7ec9ad 86.514%,#cbebe5 86.597%,#c0e7dd 86.681%,#c1e7de 86.764%,#ccebe5 86.847%,#cdece6 86.931%,#a8dccc 87.014%,#d4eeea 87.097%,#c9eae3 87.181%,#98d5c0 87.264%,#d3eeea 87.347%,#8dd0b8 87.431%,#acdecf 87.514%,#aedfd0 87.597%,#45a07a 87.681%,#87cdb3 87.764%,#d7f0ec 87.847%,#b9e4d8 87.931%,#a3dac9 88.014%,#d8f0ec 88.097%,#b4e1d4 88.181%,#bae4d8 88.264%,#eef8f8 88.347%,#d3eee9 88.431%,#dff3f0 88.514%,#c0e7dd 88.597%,#bee6db 88.681%,#85ccb2 88.764%,#eef8f8 88.847%,#c9eae3 88.931%,#d7f0ec 89.014%,#74c4a5 89.097%,#b2e1d3 89.181%,#d6efeb 89.264%,#dff3f0 89.347%,#aaddce 89.431%,#aaddce 89.472%,#fff 89.472% 89.944%,#b9e4d8 89.944%,#b9e4d8 89.986%,#8dd0b8 90.07%,#e9f6f5 90.154%,#e9f6f5 90.238%,#e8f6f5 90.322%,#ddf2ef 90.406%,#cdece6 90.49%,#d6efeb 90.573%,#eef8f8 90.657%,#e0f3f0 90.741%,#eaf6f6 90.825%,#cdece6 90.909%,#8cd0b7 90.993%,#cfece7 91.077%,#acdecf 91.16%,#d5efeb 91.244%,#e5f5f3 91.328%,#77c5a7 91.412%,#dcf1ee 91.496%,#c2e7de 91.58%,#dff3f0 91.664%,#d5efeb 91.747%,#eef8f8 91.831%,#c4e8df 91.915%,#a7dccc 91.999%,#edf7f7 92.083%,#aedfd0 92.167%,#ddf2ef 92.251%,#c9eae3 92.334%,#e5f5f3 92.418%,#d9f0ed 92.502%,#d9f0ed 92.586%,#e6f5f4 92.67%,#daf1ed 92.754%,#ddf2ef 92.838%,#bfe6dc 92.921%,#b9e3d8 93.005%,#d9f0ed 93.089%,#d9f0ed 93.173%,#e7f5f4 93.257%,#aedfd1 93.341%,#b9e3d8 93.425%,#d4eeea 93.508%,#c8eae2 93.592%,#def2ef 93.676%,#e8f6f5 93.76%,#daf1ed 93.844%,#d8f0ed 93.928%,#c9eae3 94.012%,#bae4d8 94.095%,#d2eee9 94.179%,#e2f4f2 94.263%,#b6e2d6 94.347%,#b6e2d6 94.389%,#fff 94.389% 94.806%,#b4e1d4 94.806%,#b4e1d4 94.848%,#bbe4da 94.931%,#e2f4f2 95.015%,#eef8f8 95.099%,#c8eae3 95.183%,#e4f4f3 95.267%,#b2e1d3 95.351%,#eef8f8 95.435%,#e0f3f1 95.519%,#eef8f8 95.602%,#d3eeea 95.686%,#e3f4f2 95.77%,#c0e7dd 95.854%,#99d6c2 95.938%,#b3e1d4 96.022%,#d8f0ec 96.106%,#e9f6f5 96.19%,#c7e9e1 96.274%,#aaddce 96.358%,#d5efea 96.441%,#b2e1d3 96.525%,#90d1ba 96.609%,#d4eeea 96.693%,#d0ede8 96.777%,#c7e9e2 96.861%,#89ceb5 96.945%,#c4e8e0 97.029%,#a4dbc9 97.112%,#e1f3f1 97.196%,#d9f0ed 97.28%,#e6f5f4 97.364%,#b9e3d8 97.448%,#7bc7aa 97.532%,#d5efea 97.616%,#daf0ed 97.7%,#afdfd1 97.784%,#bde5db 97.867%,#a4dbc9 97.951%,#d0ede8 98.035%,#d2eee9 98.119%,#a8dccc 98.203%,#e3f4f2 98.287%,#e1f3f1 98.371%,#cbebe5 98.455%,#d1ede8 98.539%,#dbf1ee 98.623%,#b3e1d4 98.706%,#c1e7dd 98.79%,#d8f0ec 98.874%,#bde5db 98.958%,#bde5db 99%,#fff 99% 100%)"></div><div class="d" style="left:916.4px;top:176.9px;width:177px;height:177px;background:#fff"></div><svg width="1268" height="1141" viewBox="0 0 1268 1141"><defs><linearGradient id="gd"><stop offset="0%" stop-color="#f2f8e4"/><stop offset="11.1%" stop-color="#f2f8e4"/><stop offset="11.1%" stop-color="#dff0d1"/><stop offset="22.2%" stop-color="#dff0d1"/><stop offset="22.2%" stop-color="#c7e6c2"/><stop offset="33.3%" stop-color="#c7e6c2"/><stop offset="33.3%" stop-color="#a6d9b8"/><stop offset="44.4%" stop-color="#a6d9b8"/><stop offset="44.4%" stop-color="#7dc7ad"/><stop offset="55.6%" stop-color="#7dc7ad"/><stop offset="55.6%" stop-color="#5db4ac"/><stop offset="66.7%" stop-color="#5db4ac"/><stop offset="66.7%" stop-color="#4995ae"/><stop offset="77.8%" stop-color="#4995ae"/><stop offset="77.8%" stop-color="#3d67a3"/><stop offset="88.9%" stop-color="#3d67a3"/><stop offset="88.9%" stop-color="#36387e"/><stop offset="100%" stop-color="#36387e"/></linearGradient><linearGradient id="ge"><stop offset="0%" stop-color="#f8fbc8"/><stop offset="11.1%" stop-color="#f8fbc8"/><stop offset="11.1%" stop-color="#eaf5af"/><stop offset="22.2%" stop-color="#eaf5af"/><stop offset="22.2%" stop-color="#d6eb9a"/><stop offset="33.3%" stop-color="#d6eb9a"/><stop offset="33.3%" stop-color="#b8dd8b"/><stop offset="44.4%" stop-color="#b8dd8b"/><stop offset="44.4%" stop-color="#93c978"/><stop offset="55.6%" stop-color="#93c978"/><stop offset="55.6%" stop-color="#6baf62"/><stop offset="66.7%" stop-color="#6baf62"/><stop offset="66.7%" stop-color="#498f4d"/><stop offset="77.8%" stop-color="#498f4d"/><stop offset="77.8%" stop-color="#33693c"/><stop offset="88.9%" stop-color="#33693c"/><stop offset="88.9%" stop-color="#22442a"/><stop offset="100%" stop-color="#22442a"/></linearGradient><linearGradient id="gf"><stop offset="0%" stop-color="#eef8f8"/><stop offset="11.1%" stop-color="#eef8f8"/><stop offset="11.1%" stop-color="#dbf1ee"/><stop offset="22.2%" stop-color="#dbf1ee"/><stop offset="22.2%" stop-color="#c4e8e0"/><stop offset="33.3%" stop-color="#c4e8e0"/><stop offset="33.3%" stop-color="#a8dccc"/><stop offset="44.4%" stop-color="#a8dccc"/><stop offset="44.4%" stop-color="#81caaf"/><stop offset="55.6%" stop-color="#81caaf"/><stop offset="55.6%" stop-color="#5bb28f"/><stop offset="66.7%" stop-color="#5bb28f"/><stop offset="66.7%" stop-color="#3e916b"/><stop offset="77.8%" stop-color="#3e916b"/><stop offset="77.8%" stop-color="#2c6943"/><stop offset="88.9%" stop-color="#2c6943"/><stop offset="88.9%" stop-color="#22442c"/><stop offset="100%" stop-color="#22442c"/></linearGradient><linearGradient id="gdr"><stop offset="0%" stop-color="#36387e"/><stop offset="11.1%" stop-color="#36387e"/><stop offset="11.1%" stop-color="#3d67a3"/><stop offset="22.2%" stop-color="#3d67a3"/><stop offset="22.2%" stop-color="#4995ae"/><stop offset="33.3%" stop-color="#4995ae"/><stop offset="33.3%" stop-color="#5db4ac"/><stop offset="44.4%" stop-color="#5db4ac"/><stop offset="44.4%" stop-color="#7dc7ad"/><stop offset="55.6%" stop-color="#7dc7ad"/><stop offset="55.6%" stop-color="#a6d9b8"/><stop offset="66.7%" stop-color="#a6d9b8"/><stop offset="66.7%" stop-color="#c7e6c2"/><stop offset="77.8%" stop-color="#c7e6c2"/><stop offset="77.8%" stop-color="#dff0d1"/><stop offset="88.9%" stop-color="#dff0d1"/><stop offset="88.9%" stop-color="#f2f8e4"/><stop offset="100%" stop-color="#f2f8e4"/></linearGradient><linearGradient id="ger"><stop offset="0%" stop-color="#22442a"/><stop offset="11.1%" stop-color="#22442a"/><stop offset="11.1%" stop-color="#33693c"/><stop offset="22.2%" stop-color="#33693c"/><stop offset="22.2%" stop-color="#498f4d"/><stop offset="33.3%" stop-color="#498f4d"/><stop offset="33.3%" stop-color="#6baf62"/><stop offset="44.4%" stop-color="#6baf62"/><stop offset="44.4%" stop-color="#93c978"/><stop offset="55.6%" stop-color="#93c978"/><stop offset="55.6%" stop-color="#b8dd8b"/><stop offset="66.7%" stop-color="#b8dd8b"/><stop offset="66.7%" stop-color="#d6eb9a"/><stop offset="77.8%" stop-color="#d6eb9a"/><stop offset="77.8%" stop-color="#eaf5af"/><stop offset="88.9%" stop-color="#eaf5af"/><stop offset="88.9%" stop-color="#f8fbc8"/><stop offset="100%" stop-color="#f8fbc8"/></linearGradient><linearGradient id="gfr"><stop offset="0%" stop-color="#22442c"/><stop offset="11.1%" stop-color="#22442c"/><stop offset="11.1%" stop-color="#2c6943"/><stop offset="22.2%" stop-color="#2c6943"/><stop offset="22.2%" stop-color="#3e916b"/><stop offset="33.3%" stop-color="#3e916b"/><stop offset="33.3%" stop-color="#5bb28f"/><stop offset="44.4%" stop-color="#5bb28f"/><stop offset="44.4%" stop-color="#81caaf"/><stop offset="55.6%" stop-color="#81caaf"/><stop offset="55.6%" stop-color="#a8dccc"/><stop offset="66.7%" stop-color="#a8dccc"/><stop offset="66.7%" stop-color="#c4e8e0"/><stop offset="77.8%" stop-color="#c4e8e0"/><stop offset="77.8%" stop-color="#dbf1ee"/><stop offset="88.9%" stop-color="#dbf1ee"/><stop offset="88.9%" stop-color="#eef8f8"/><stop offset="100%" stop-color="#eef8f8"/></linearGradient><linearGradient id="gc"><stop offset="0" stop-color="#0c9c44"/><stop offset="0.28" stop-color="#8cc63e"/><stop offset="0.5" stop-color="#f6e534"/><stop offset="0.75" stop-color="#f4a22c"/><stop offset="1" stop-color="#e04028"/></linearGradient></defs><path d="M294.4 62.5l0.5 -0.6l0.4 -0.5l0.3 2.1l0.6 -2.1l0.4 0.3l0.3 1.2l0.4 0.3l0.6 -2.4l0.4 1.2l0.5 -1.4l0.5 -0.4l0.1 3.2l0.5 -0.1l0.5 -1l0.4 0.2l0.7 -2.8l0.1 2.8l0.6 -1.5l0.7 -2.5l0.1 3.5l0.4 0.3l0.5 -0.8l0.4 0.1l0.1 2.6l0.6 -1.4l0.7 -1.7l0.2 1.7l0.4 -0.1l0.6 -1.2l-0.5 7.1l1.1 -4.8l0.3 0.7l0.2 1.2l0.6 -1.1l0.5 -0.3l0.4 0.1l0.3 0.9l0.6 -1l0.6 -1l0.4 0l0.2 1.6l0.2 1.1l0.4 0.3l0.3 1l0.2 1l1.1 -3.7l0.2 0.9l0.8 -2.1l0.2 1.8l0.9 -2.7l0.4 0l0.1 2l-0.2 3.1l0.9 -2.2l0.5 -0.4l0 1.9l0.7 -1.1l0.3 0.6l0.8 -2.1l0.7 -1.3l0 2.1l0.4 0.3l0.7 -1.5l0 2.4l-0.1 2.6l1.1 -3.1l-0.2 3l0.6 -0.9l0.2 1.2l0.7 -1.3l0.6 -0.7l0.6 -1.1l0.8 -1.6l-0.3 3.3l0.9 -1.9l0 1.8l0.1 1.5l0.9 -1.8l0.4 -0.2l0.6 -0.6l0.2 1l-0.1 2.3l-0.7 4.5l1.8 -5.4l0.2 0.8l0.6 -0.8l0.2 1.2l1.3 -3.6l-0.6 4.2l0.5 -0.3l0.5 -0.3l1.1 -2.4l-0.5 3.6l-0.4 3l1.5 -3.9l1 -2.2l-0.5 3.4l-0.1 1.9l1.7 -4.3l-0.7 4l0.6 -0.8l1.1 -2.2l0.1 1.2l1.2 -2.6l-0.9 4.6l0.7 -0.8l0.9 -1.8l0 1.6l-0.8 4l1.9 -4.9l0.2 1l1.2 -2.5l-1.6 6.4l1.7 -3.9l-1 4.4l3.6 -9.9l-1.6 6.6l0.1 0.8l0.4 0.2l0.6 -0.5l0.7 -0.6l1.2 -2.4l0.1 1l0.5 0l0.9 -1.4l0.6 -0.4l-0.2 1.9l0.7 -0.7l0.2 0.7l-0.2 1.9l0.7 -0.9l0.2 0.9l0 1.2l2 -4.3l-0.4 2.4l1.3 -2.3l0.1 0.8l-1.1 4.2l1.6 -3l1.2 -2l-0.2 1.9l-0.3 1.8l-0.3 2l2.1 -4.3l-0.6 2.7l0.4 0.1l0.6 -0.2l0.3 0.4l0.4 0.1l0.4 0l1.7 -2.9l-1 3.5l0.7 -0.5l-0.6 2.5l0.7 -0.6l0.9 -0.9l-1.2 3.9l1.3 -1.9l0.4 0l0.5 -0.1l1.2 -1.6l0.1 0.8l-0.3 1.7l1.1 -1.6l0.8 -0.6l0.6 -0.4l-0.6 2.4l0 1.2l2 -3.6l0.1 0.9l-0.3 1.8l1.4 -2.2l0.3 0.5l0.5 -0.1l0.2 0.6l-0.6 2.2l2.3 -3.8l-1.3 3.7l0.3 0.3l1.2 -1.4l0 0.9l0.7 -0.4l0.3 0.4l0.4 0.1l0.3 0.5l0.4 0l1 -1l0.5 -0.1l-1 2.9l0.9 -0.8l-0.2 1.3l0.6 -0.2l1.1 -1.1l0.7 -0.6l-0.2 1.5l1 -1.1l0.2 0.6l0.1 0.6l1 -0.8l-0.6 2l1.7 -2.4l-1 3l1.4 -1.8l-0.7 2.2l1.5 -1.9l-0.1 1.1l0.7 -0.3l0.7 -0.5l-0.7 2.1l1.7 -2.1l0.5 0l-0.4 1.5l-0.1 1.2l1.3 -1.4l-0.3 1.2l-1 2.7l1.1 -1l0.9 -0.7l-0.6 1.9l0.3 0.3l0 0.9l0.4 0.1l1.1 -1.1l-0.3 1.5l0.7 -0.4l0 0.8l0.4 0.2l-0.2 1l1.6 -1.7l-0.3 1.3l0.5 0l2 -2.6l-0.7 2.1l0 0.8l-1 2.4l-0.1 0.9l1.4 -1.4l0.1 0.6l1.7 -1.8l-0.2 1.1l-0.3 1.2l-0.8 2l1.6 -1.7l1.5 -1.6l-0.7 2l-0.6 1.7l1.6 -1.8l-0.4 1.4l0.1 0.5l2.7 -3.2l-0.8 2.1l0.5 -0.2l0.7 -0.2l1.7 -1.7l0.2 0.4l-2 3.8l0.7 -0.4l0.8 -0.4l0.3 0.4l-1.7 3.2l3.7 -4.7l0.1 0.7l-2 3.6l1.8 -1.9l-0.6 1.6l0.4 0.1l0.9 -0.5l-1.7 3.1l1.9 -1.9l0.1 0.6l0.1 0.5l1.6 -1.4l-0.2 1l0.5 0.1l-0.4 1.2l1.3 -1.1l1 -0.6l-1.4 2.6l2 -2l-0.5 1.4l0.1 0.6l-0.3 1l0.4 0.2l0.1 0.6l0.2 0.4l-0.2 0.9l2.3 -2.3l0.4 0.2l0 0.8l0.9 -0.5l-2.3 3.6l0.9 -0.5l-0.1 0.7l1.4 -1l-0.4 1.1l3.1 -3l-0.1 0.8l-0.9 1.6l0.3 0.3l1.2 -0.7l0.4 0.2l-0.7 1.4l1 -0.5l-0.5 1.2l0.5 0.2l0.9 -0.4l-0.6 1.3l0 0.6l0.3 0.4l1.6 -1.3l1.2 -0.7l0.3 0.3l-1 1.7l0.1 0.6l2.1 -1.7l-1.5 2.3l-0.2 0.9l2.2 -1.9l-0.4 1.1l-0.8 1.5l1.9 -1.5l0.1 0.6l0.9 -0.4l-0.9 1.6l1.5 -0.9l-0.1 0.7l0.4 0.1l0.6 0.1l-5.2 6.1l4.4 -4.1l3.1 -2.6l-1.7 2.4l-0.3 0.9l1 -0.4l-1 1.7l2.1 -1.6l0.7 -0.1l-1.5 2.1l2.8 -2.3l-0.8 1.5l-1 1.6l1.7 -1.1l0.3 0.3l0.1 0.5l-0.7 1.3l2.4 -1.8l0.1 0.5l-1.2 1.8l0.7 -0.1l1.1 -0.5l-1.9 2.4l1 -0.3l0.9 -0.3l-0.5 1.1l0.1 0.4l0.3 0.3l0.6 0.1l1.2 -0.7l2.5 -1.7l-1.4 1.9l-0.4 1l1.5 -0.8l-0.8 1.3l1 -0.3l-0.5 1l0.5 0.1l-1.5 1.9l0.1 0.6l1 -0.5l0.4 0.3l-0.3 0.8l0.3 0.4l0.8 -0.2l-0.3 0.8l-0.5 1l4.9 -3.8l-2.8 3.1l0.7 -0.1l0.2 0.4l-0.9 1.3l2.4 -1.5l-1.1 1.5l-1.8 2.1l2.9 -1.9l0.3 0.3l-1.4 1.7l-0.9 1.4l3.4 -2.3l0.2 0.3l-0.8 1.2l2.3 -1.3l-0.7 1.1l1.3 -0.5l-2.9 2.9l1.2 -0.4l0.1 0.5l0.9 -0.3l0.4 0.3l-0.1 0.6l-2.2 2.3l3.5 -2.2l-0.3 0.8l0.9 -0.2l-0.7 1.1l0.8 -0.2l-2.2 2.3l-0.3 0.7l4.5 -2.9l-1.1 1.4l1.5 -0.6l1.1 -0.3l-1.7 1.8l-0.2 0.7l-0.8 1.1l2.7 -1.4l-0.8 1.1l-0.9 1.1l2.9 -1.5l-1.8 1.7l0.1 0.5l1.1 -0.3l0 0.6l0.8 -0.1l0.5 0.2l-1.8 1.8l0.7 0l-0.4 0.8l1.8 -0.7l-0.4 0.8l2.2 -1l-3.6 2.9l1.3 -0.4l1.5 -0.5l0.2 0.4l-0.7 1l0.6 0.1l-0.2 0.6l0.8 0l5.5 -3.1l-4.6 3.5l1.4 -0.4l0.6 0.1l0.2 0.4l-2.1 1.9l2.9 -1.4l-3 2.4l2.8 -1.3l-2.1 1.9l2.2 -0.9l-1.6 1.5l2.4 -1.1l-0.5 0.9l-1.5 1.4l0.9 0M457.7 162.2l0.6 0.1l-1.3 1.3l0.5 0.2l1.4 -0.3l-2.1 1.6l1.7 -0.4l-1.5 1.3l2 -0.6l0.2 0.4l-0.5 0.7l-1.7 1.4l1.4 -0.2l-2.6 1.9l1.7 -0.5l1.8 -0.5l-2 1.5l2.5 -0.8l0.8 0.1l0.2 0.3l-1.3 1.2l2 -0.6l-3.5 2.3l3.7 -1.4l0.2 0.3l-1.1 1.1l0.3 0.3l-0.9 1l2 -0.6l-1.5 1.2l1.2 -0.1l0.4 0.3l-3.3 2.1l4.4 -1.7l-2.2 1.5l1.4 -0.1l-1 0.9l2.8 -0.9l-2 1.5l-0.3 0.5l1.3 -0.1l-0.1 0.5l-0.5 0.7l4.8 -1.7l-1 0.9l0.4 0.2l-0.8 0.9l-2.8 1.7l4.2 -1.4l1.4 -0.1l-1.6 1.1l-1.1 1l1.1 0l1.6 -0.3l-2.7 1.7l1 0l1 0l-0.1 0.5l1.2 0l0.7 0.2l0.5 0.2l1.7 -0.2l-2.8 1.6l1.7 -0.2l-1.2 0.9l1.8 -0.2l0.2 0.4l-2 1.2l2.1 -0.4l-1.5 1.1l3.5 -0.9l-4.5 2.2l2.3 -0.4l-2.5 1.4l4.8 -1.4l0.5 0.3l-3.1 1.6l1.6 -0.1l-2 1.2l0.3 0.3l2.6 -0.5l-0.4 0.6l0.8 0.2l0.4 0.3l-1.4 1l-0.2 0.5l1.9 -0.2l-0.4 0.6l1.2 0l1.3 0l0.1 0.4l-7.2 3l2.4 -0.4l3.7 -0.8l0.1 0.4l-0.5 0.7l-0.4 0.5l0.1 0.5l-2.9 1.4l2.8 -0.5l2.4 -0.3l-1.3 0.9l-0.9 0.7l-0.4 0.6l0.9 0.1l-4.5 1.9l5.9 -1.4l1.7 -0.1l-4.1 1.7l2.5 -0.3l-0.9 0.7l-2.3 1.2l4 -0.8l-2.5 1.2l0.9 0.2l-0.2 0.5l1.3 0.1l-2.3 1.1l-0.5 0.6l2.3 -0.2l-0.9 0.6l2.4 -0.2l-1.9 1l0.3 0.3l1.3 0.1l0.7 0.3l-3 1.2l1.4 0.1l-0.4 0.6l0.7 0.2l2.5 -0.2l0 0.5l-4.2 1.5l0.6 0.2l1.6 0.1l0.2 0.4l-2.9 1.1l2.6 -0.2l-4.5 1.5l2.7 -0.2l-2.3 1l-0.8 0.6l3.8 -0.4l-2.6 1l1.5 0.1l0.4 0.3l0.5 0.4l2.2 -0.1l0.2 0.4l-2.4 0.9l3.4 -0.2l-4.7 1.4l0.4 0.3l-0.3 0.5l1.9 0.1l3 -0.2l-1.7 0.7l-0.5 0.6l-0.7 0.5l-1.1 0.7l5.2 -0.6l-2.5 0.9l0.4 0.4l-1.1 0.6l-1.7 0.7l2 0.1l-0.6 0.6l1.6 0.1l-3.5 1l1.1 0.3l1.7 0.1l0 0.4l-1.2 0.7l1.3 0.2l1.4 0.2l-2.5 0.8l-0.2 0.5l1.5 0.2l1.1 0.2l0.6 0.4l-3.4 0.9l3.3 -0.1l0.1 0.4l-2.6 0.8l2.3 0.1l-0.5 0.5l2.9 0.1l-2.7 0.8l0.7 0.3l2.6 0.1l-2.1 0.7l-2 0.7l0.4 0.3l2.5 0.2l0.9 0.3l-1.2 0.6l-0.4 0.4l0 0.5l-2 0.6l3.5 0.1l-2.9 0.7l0.7 0.3l1.5 0.3l-2.7 0.7l3.8 0.1l-4.2 0.8l0.7 0.3l-1.3 0.6l0.8 0.3l-1 0.5l1.2 0.4l0.6 0.3l0.6 0.4l-0.7 0.5l1.5 0.3l2.2 0.3l-1.2 0.5l0.1 0.4l-0.5 0.5l-0.6 0.4l-0.7 0.5l3.3 0.2l-0.7 0.5l-1.3 0.5l4.2 0.2l-4.5 0.6l-1.3 0.5l1.8 0.4l-2 0.5l2.9 0.3l-1.2 0.5l-1.9 0.5l-0.4 0.4l-0.2 0.4l0.8 0.4l-1 0.5l2.3 0.3l-0.9 0.5l-1.2 0.4l-0.9 0.4l0.1 0.5l-0.2 0.4l-0.5 0.4l0 0.4l1.1 0.4l0 0.4l-0.4 0.5l2 0.4l-3.6 0.4l-0.7 0.4l1.9 0.4l0.5 0.4l0.9 0.5l0.4 0.4l0.8 0.4l-2.9 0.4l2.1 0.4l-1.1 0.4l2.2 0.5l0 0.4l-2.9 0.4l-0.2 0.4l2.1 0.5l-0.2 0.4l3 0.5l-3.9 0.3l-0.2 0.4l0.2 0.4l-1.3 0.4l0.3 0.4l0.4 0.4l0.9 0.5l0.3 0.4l1.6 0.5l-2.7 0.3l-0.2 0.4l1.6 0.5l-3.2 0.3l0.7 0.4l0.8 0.5l-2.4 0.3l5.3 0.7l-1.1 0.4l-0.8 0.3M481.1 284.2l0.9 0.5l-0.5 0.4l0.8 0.5l0.5 0.5l-3.3 0l-0.8 0.4l1.9 0.6l2.4 0.7l-2.2 0.2l0.1 0.4l-0.8 0.3l-2.9 0.1l1.7 0.6l-1.6 0.2l-1.5 0.3l4.7 1l-1.5 0.2l-1.9 0.2l2 0.7l0.5 0.5l1.2 0.6l-0.6 0.3l-2.1 0.1l1 0.6l-1 0.3l0.4 0.5l1.9 0.7l3.9 1l-4 -0.2l-1.1 0.3l3.8 1l-3.7 -0.2l2 0.8l-2.2 0.1l0.2 0.4l1.1 0.6l-2 0.1l-1.3 0.2l3.3 1l-0.2 0.4l-3 -0.1l2.3 0.9l-2 0l1.3 0.7l1.6 0.7l-1.5 0.2l-0.4 0.3l0.7 0.6l2.6 1l-2.4 -0.1l-2.3 0l0.5 0.5l2.8 1l-1.7 0.1l-0.9 0.2l-1.2 0.2l3.7 1.2l-3.5 -0.3l0.5 0.6l1.8 0.8l-4.3 -0.6l2 0.9l3.5 1.3l-1.8 0l-0.6 0.3l-0.5 0.3l-1.7 0l1.3 0.8l-1.3 0.1l1.5 0.8l-0.5 0.3l0.9 0.7l-1 0.2l1.7 0.9l-1.8 -0.1l-2.4 -0.2l2.6 1.1l-1.7 0l-2 -0.1l5.1 1.9l-2.5 -0.3l1.5 0.9l0.9 0.7l-4.7 -0.9l1.1 0.7l-3 -0.4l-1.1 0.1l3.9 1.6l-0.5 0.3l-1.5 0l1.9 1l-0.8 0.2l-0.8 0.2l1.2 0.8l-0.6 0.2l-0.6 0.3l3 1.4l-2.7 -0.4l1.5 0.9l-3 -0.5l3.5 1.5l-0.6 0.3l-3.3 -0.7l0.3 0.6l-1.5 0l2 1.1l0 0.4l-1.1 0.1l2.1 1.1l-0.6 0.3l0.8 0.7l0 0.4l-1.8 -0.1l0.1 0.4l0.8 0.8l-0.8 0.1l1.5 1.1l-0.5 0.2l-2.7 -0.5l0.6 0.6l0.1 0.5l1.7 1.1l-1.7 -0.2l-0.3 0.4l-0.9 0.1l0.4 0.6l0.8 0.8l0.3 0.5l0.5 0.7l-1.7 -0.2l-0.5 0.2l0.6 0.7l-1.3 0l0 0.4l-4 -1.2l2.5 1.5l-3 -0.7l4.2 2.1l-1.2 0l-1.1 0l0.5 0.6l-1.1 0.1l0.8 0.7l1.3 1l-0.2 0.4l-1.4 -0.1l-0.5 0.2l0.9 0.9l1 0.8l-0.6 0.2l1.1 1l-1.9 -0.4l-0.6 0.2l0.7 0.8l3.2 1.9l-0.8 0.1l-2.1 -0.5l-0.4 0.3l-0.3 0.4l0.1 0.5l0.5 0.7l-0.2 0.3l-2 -0.4l2.6 1.7l-2.4 -0.7l3.5 2.2l-3.9 -1.4l1.3 1.1l-1 -0.1l-1.5 -0.2l0 0.4l1.3 1.2l-1.2 -0.1l-0.7 0.1l1.1 1l-2.3 -0.7l1 1l1.8 1.4l-0.3 0.3l-1.3 -0.2l-2.6 -0.8l3.9 2.5l-2.9 -1.1l1.5 1.3l-2.9 -1l2.1 1.6l-1.7 -0.5l1.7 1.4l-2.5 -0.9l-1.7 -0.4l1.8 1.5l0.6 0.8l-2.2 -0.7l-0.2 0.3M454.5 369.3l0.4 0.7l-2.8 -1.2l1.7 1.5l-1.2 -0.2l-1 -0.1l-1.9 -0.7l0.8 1l1.5 1.5l-1.5 -0.5l1.9 1.7l0.2 0.6l-1.9 -0.7l-0.3 0.3l0.1 0.6l-2.4 -1.1l0.9 1.1l0.9 1.1l-0.6 0.1l-0.1 0.4l0.9 1.2l-2.7 -1.3l1.3 1.4l-0.8 -0.1l-1 -0.1l0.4 0.7l0.3 0.7l1.9 1.8l-1.1 -0.1l0.2 0.6l-1.3 -0.4l-1.4 -0.4l0.9 1.1l-1.4 -0.5l-1 -0.2l-0.5 0.2l-0.3 0.3l-0.4 0.2l0 0.6l0 0.5l-0.4 0.2l0.8 1.1l-0.7 0l0.3 0.7l-0.4 0.3l-0.3 0.3l-1.2 -0.4l-1.8 -0.8l1.2 1.4l-0.9 -0.1l1.3 1.4l-2.1 -1l0.3 0.7l-1.3 -0.4l0.6 1l0.4 0.8l-0.4 0.2l1.7 1.9l-3 -1.9l0.6 1l1.2 1.5l-0.2 0.4l-0.6 0.1l-0.8 -0.1l-1.1 -0.3l1.1 1.4l-2.7 -1.6l0.2 0.6l2.6 2.7l-1.2 -0.4l-2.1 -1.2l1.4 1.6l0.3 0.9l1.6 1.9l-1.7 -0.9l0.3 0.8l-1.2 -0.4l-0.3 0.3l-1.5 -0.8l-1 -0.3l1.5 1.9l0.8 1.3l-3.8 -2.8l1.7 2.1l-0.5 0l2.1 2.5l0.5 1l-3.6 -2.6l1.9 2.2l-1.8 -1l1.2 1.7l-0.4 0.1l-1.5 -0.8l-1.5 -0.8l-2.2 -1.4l4.1 4.4l-0.8 -0.2l-0.5 0.1l-0.2 0.4l-0.3 0.3l-1.9 -1.2l1.5 2l-0.9 -0.3l0.5 1l-0.6 0.1l-1 -0.4l0.5 1.1l-0.7 -0.1l-0.2 0.4l-0.8 -0.2l0.5 1.1l0 0.6l-1.7 -1.1l0.5 1.1l0.3 0.9l0.5 1.1l-0.8 -0.1l-1.9 -1.3l2.7 3.2l-1.7 -1.1l0.3 0.9l0.3 1l-1.3 -0.8l0.7 1.4l-0.7 -0.1l-0.2 0.4l-1.7 -1.2l-0.5 0.1l0.1 0.7l-0.9 -0.3l0.8 1.5l-1.7 -1.2l0 0.6l0.1 0.8l-1.5 -1.1l-2.3 -1.9l-0.1 0.6l-0.7 -0.2l0.7 1.4l1.4 2.2l-1.2 -0.7l-0.5 0.1l-1.2 -0.7l0.3 0.9l-0.8 -0.3l-0.6 0l2.9 3.9l-2 -1.6l-1.5 -1.1l5 6.5l-5.2 -5.4l1.4 2.2l-1.1 -0.5l-0.9 -0.5l0.4 1.1l0.2 0.9l0.3 1.1l-0.8 -0.4l-2.4 -2.2l1.9 3l-2.3 -2.1l-0.5 0l0.4 1.1l2 3.2l-2.4 -2.3l1 1.9l-0.9 -0.4l-1.2 -0.8l0.8 1.7l-2.1 -2.1l2.7 4.1l-1.9 -1.7l0.6 1.6l-1 -0.7l-0.3 0.3l0.2 1l-0.7 -0.2l-1.4 -1.1l1.9 3.2l-0.4 0.1l-1.8 -1.6l-0.1 0.5l-0.8 -0.3l0.1 0.8l0.5 1.5l1.8 3.1l-1.8 -1.7l-1.4 -1.2l-1.9 -1.9l1 2.2l-0.8 -0.5l-0.7 -0.2l-0.7 -0.3l0 0.8l1.2 2.3l-2.5 -2.8l2.2 4l-2.4 -2.8l-0.7 -0.2l-0.7 -0.3l0.1 0.8l-0.5 0.2l0.2 0.9l-1.9 -1.9l1.9 3.5l-2.3 -2.7l1.4 2.8l0.2 1.1l-2.5 -3M387.5 435.9l0.9 2.4l-1.3 -1.3l-1 -0.9l0.1 1.1l-1.4 -1.6l0.5 1.7l-0.7 -0.3l1.6 3.4l-1.2 -1.2l-0.2 0.6l-0.6 -0.2l-0.5 -0.1l-1.4 -1.6l1 2.7l-0.1 0.6l-2.7 -3.7l0.3 1.3l0.5 1.6l-1.4 -1.4l0.5 1.7l-1.9 -2.5l0.5 1.7l-1.1 -1.2l1.1 3l-0.8 -0.7l-0.6 -0.1l0 0.8l-1.6 -2l1 2.7l-1.3 -1.5l-0.4 0l0.4 1.8l-0.5 -0.2l-0.6 -0.1l-0.6 -0.3l0.8 2.6l-1.6 -2.3l-0.8 -0.6l-0.5 -0.1l0.8 2.6l0.6 2.1l-0.8 -0.7l-0.3 0.4l0 0.8l-1.4 -1.8l-0.1 0.8l-0.9 -0.9l-1.3 -1.8l1.4 4l-0.2 0.4l-0.2 0.8l-1.5 -2.2l1 3.1l-1.1 -1.4l-1.3 -1.7l-0.7 -0.5l0.9 2.8l-1.2 -1.5l0.1 1.1l0.2 1.5l-2.1 -3.5l0.5 2.2l0.4 1.8l-0.2 0.6l-0.9 -0.9l-1 -1.1l-1.3 -2.1l0.7 2.6l-0.7 -0.4l0.1 1.3l-0.8 -0.9l0.9 3.4l-0.3 0.2l-0.4 0.1l-1.2 -1.5l-0.2 0.5l-0.8 -0.9l-0.5 0.1l1.6 4.8l-0.7 -0.4l-0.6 -0.5l-1.6 -2.7l0.6 2.6l0.3 2l-1.2 -1.9l-1 -1.4l0.6 2.7l0 1.3l-1.7 -3.3l0.4 2.1l-0.6 -0.2l-1.9 -3.7l0 1.2l0.6 2.7l-0.9 -1.1l-0.1 0.9l-0.1 1l-1.2 -2l0 1.2l-1 -1.5l1 3.9l-1.6 -3l0.1 1.4l0.2 1.8l-1.6 -3.2l1.3 5l-2 -4.2l-0.3 0.1l0.4 2.7l-1.2 -2.1l-0.1 0.9l0 1.3l-0.6 -0.3l-0.7 -0.8l-0.8 -1.2l0.5 3.1l-0.5 -0.3l-1.1 -2.1l-1 -1.7l-0.7 -0.7l-0.9 -1.5l1.4 5.9l-0.6 -0.3l-1.4 -3.4l1.1 5.1l-0.6 -0.4l-1 -1.8l-0.4 0.2l0.1 1.7l-0.5 -0.2l-0.3 0.7l-1 -1.9l-0.4 0.1l-0.1 1.1l-0.3 0.6l-0.6 -0.5l-0.2 0.6l-0.6 -0.5l-1 -2l0.2 2.5l-0.9 -1.7l-1.2 -2.8l0.9 4.8l-0.4 0.4l-1.4 -3.7l-0.2 0.9l0.1 1.9l-0.8 -1.3l-1.2 -3l0.4 3.2l-1.7 -5l0.3 2.8l0 2l-0.1 1.4l-1 -2.4l0.3 3.2l-0.1 1.4l-0.4 0.1l-1.3 -3.8l-0.1 1.2l-0.9 -2l-0.1 1.6l-0.8 -1.9l-0.2 1.1l0.1 2.8l-0.1 1.6l-1.2 -4l-0.5 0l0.5 4.3l-1.4 -4.8l-0.5 -0.1l0.2 2.9l-0.6 -0.9l-0.3 0.9l-0.1 1.9l-0.5 -0.6l-0.7 -1.2l0.1 2.7l-1.1 -3.8l0.2 3.6l-0.9 -2.8l-0.6 -0.8l-0.3 0.9l-0.4 -0.1l-0.8 -2.1l-0.1 1.8l-0.2 1.3l-0.3 0.7l-0.2 1.4l-0.7 -1.5l-0.1 2.2l-0.8 -2.2l-0.6 -1.3l-0.1 2.3l-0.6 -1.4l-0.5 -0.1l-0.7 -1.9l0.4 5.4l-0.7 -1.7M304.1 466.7l-0.6 -1.3l-0.6 -1.4l-0.4 0.3l-0.6 -1.8l-0.4 -0.3l-0.3 1.8l-0.3 0.6l-0.7 -2.5l-0.1 3l-0.6 -1l-0.5 -1.1l-0.4 0.6l-0.6 -2.1l-0.3 0.2l-0.1 4.1l-0.6 -2.2l-0.2 2.8l-0.6 -1.6l-0.5 -1.5l-0.4 0.8l-0.4 -0.5l-0.5 -0.6l-0.4 -0.1l-0.2 3.6l-0.5 -1.5l-0.5 -0.4l-0.3 1.3l-0.4 0.7l-0.5 -1.5l-0.4 0.3l-0.3 2.9l-0.4 0.2l-0.4 0.7l-0.4 0.7l-0.5 -1.9l-0.4 0.7l-0.5 -0.5l-0.5 -1.9l-0.3 4l-0.4 -0.6l-0.5 -0.3l-0.4 -2.4l-0.4 1l-0.4 2.4l-0.5 -1.3l-0.4 1.1l-0.4 -0.1l-0.5 -0.8l-0.4 -2.1l-0.4 3.3l-0.4 0.4l-0.5 -0.1l-0.4 -1.2l-0.4 1.2l-0.5 -2.3l-0.4 1.2l-0.4 -0.7l-0.5 0.9l-0.4 -1.6l-0.4 1.1l-0.5 1.1l-0.4 -2.7l-0.4 -0.2l-0.5 4.6l-0.4 -0.3l-0.4 -1l-0.4 -3.5l-0.5 3.3l-0.4 -0.2l-0.4 -2.5l-0.5 1.7l-0.4 -0.1l-0.5 0.7l-0.3 -1.7l-0.5 1.5l-0.5 0.3l-0.3 -1.8l-0.5 2.1l-0.3 -3.3l-0.5 1.8l-0.5 0.6l-0.4 -1.3l-0.4 -0.4l-0.3 -1.6l-0.4 0.5l-0.6 1.5l-0.3 -1l-0.6 1.7l-0.6 2.4l0 -5.4l-0.2 -3.1l-1 7.1l-0.4 0.3l-0.5 0l-0.5 0.9l0 -4.7l-0.5 0.2l-0.4 0.4l-0.4 -0.3l-0.7 2.2l-0.5 0.5l0.1 -4.4l-1.1 5.8l0.2 -6.1l-1 5.5l0.3 -6.9l-0.6 2.3l-0.5 0l-0.8 3.3l0 -3.3l-0.5 -0.1l-0.3 -0.7l-0.4 0.2l-0.3 -1.7l-0.6 1.5l-0.5 0.8l-0.2 -1.6l-0.1 -2.8l-0.8 3.1l0 -3l-0.7 1.8l-0.6 1.1l0.1 -3.3l-1 3.4l-0.3 -0.8l-0.6 1.1l-0.2 -1.6l-0.3 -0.6l-0.4 0l0 -2.9l-0.5 0.7l-0.9 2.8l0.2 -3.6l-0.9 2.6l-0.4 -0.2l-0.2 -1.4l-0.9 2.9l-0.1 -1.6l-0.6 0.9l-0.4 -0.2l-0.3 -0.9l-0.2 -1.2l-0.4 -0.2l-0.5 0.7l-0.1 -2.1l-0.8 1.9l-0.6 1.2l-0.4 -0.3l-0.7 1.4l-0.1 -1.6l-0.4 -0.5l-0.3 -0.2l-0.4 -0.4l-0.3 -0.7l-0.7 1.5l-0.8 1.5l-0.2 -1.1l-0.4 0.2l-0.2 -1.4l0.2 -2.6l-1.1 2.9l-0.6 0.9l-0.3 -0.9l0.3 -2.8l-0.8 1.4l-0.7 1.2l0.1 -2.5l-0.2 -0.7l-0.6 0.7l-0.9 1.8l0.1 -2.3l-0.8 1.4l-0.1 -1l-0.9 1.7l-0.6 0.6l-0.5 0.1l0.2 -2.1l1 -5.5l-2.5 7.6l0.2 -2.2l-0.1 -1.4l-0.6 0.9l-0.8 1.1l-0.4 -0.2l0.1 -1.7l-1.1 2.3l-0.6 0.4l0.1 -1.8l-0.2 -0.7l-1.9 4.9l0.5 -3.3l0 -1.5l-1.5 3.5l0.3 -2.3M218 454.7l-0.2 -0.7l-1.4 2.7l-0.2 -0.6l-1.2 2.3l0.6 -3.1l-1 1.5l0.6 -3l-0.4 -0.3l-0.6 0.5l-1.3 2.5l0.6 -2.9l-0.3 -0.4l-0.6 0.2l-1 1.7l-1 1.4l0 -1.2l-0.3 -0.6l-0.6 0.6l-0.1 -1l-0.2 -0.7l-0.3 -0.5l-1 1.6l0 -1.4l-1.3 2.2l0.6 -2.7l-0.9 1.1l-0.2 -0.5l0.5 -2.5l-1.1 1.5l-0.4 -0.1l0.1 -1.4l-1.9 3.6l0.5 -2.4l0.5 -2.2l-1 1.2l-0.4 -0.1l-0.2 -0.6l-1.1 1.4l-0.1 -0.8l-1.2 1.8l0.7 -2.7l-0.5 0l-0.5 0.2l-1.7 2.7l0.8 -2.8l-0.7 0.4l0.3 -1.6l0.3 -1.8l-1.6 2.6l-0.3 -0.5l-0.1 -0.8l-0.4 -0.1l-0.5 0.1l-1 1.1l1.7 -4.5l-1.5 2l-1 1.1l0.8 -2.6l-0.2 -0.5l-1 1.1l-0.4 -0.2l-0.3 -0.4l-0.9 0.8l0.1 -1.1l-1.7 2.6l0 -1.1l0.1 -1.1l-1 1l0.2 -1.2l-1 1l1.2 -3.3l-1.8 2.6l-0.2 -0.6l1.5 -3.9l-0.9 0.9l-0.7 0.4l-1.5 1.9l1.1 -2.9l-1 1l-1 0.9l-0.2 -0.5l0.7 -2.1l-1.4 1.6l0 -1l-0.7 0.5l0.3 -1.5l-0.6 0.3l-0.1 -0.8l0.2 -1.1l-2 2.7l0.6 -1.9l-0.8 0.6l-0.6 0l-0.8 0.6l-0.2 -0.4l-1.5 1.7l1.2 -3l0.4 -1.5l-0.5 0l-1.8 2.3l-0.3 -0.4l0.9 -2.4l-1.3 1.4l0.2 -1.1l0.5 -1.7l-1.4 1.5l-0.6 0.2l0.2 -1.2l-0.4 -0.1l-0.5 0l0.5 -1.7l-1 0.9l0 -0.9l-0.3 -0.2l-1.5 1.6l0.4 -1.5l0 -0.8l0.6 -1.8l0 -0.6l-3.3 4.2l0.7 -1.7l-1.8 1.8l1.4 -2.8l-1 0.7l0.2 -1.1l-0.2 -0.4l-1 0.7l-1.2 1l0.1 -0.8l0.6 -1.8l-0.4 -0.1l-0.6 0.2l-0.1 -0.6l-3.2 3.8l1.4 -2.8l0.5 -1.5l-0.5 0l0.8 -1.7l-0.2 -0.6l-1.4 1.3l0.9 -2l0.7 -1.7l-2.7 3l1.2 -2.3l-0.6 0l-0.7 0.3l0.3 -1l-1 0.6l0.1 -0.9l-0.5 0l0.8 -1.8l-2 1.9l0.1 -0.8l-0.8 0.4l-1.1 0.8l3 -4.7l-5 5.9l4.2 -6.3l-2.7 2.9l0.4 -1.1l0.7 -1.7l-0.8 0.4l-1.4 1l0.1 -0.7l-1.4 1l-0.6 0.2l-0.2 -0.5l-2 1.8l0.9 -1.7l-0.4 -0.3l1.4 -2.3M148.7 419.1l0.7 -1.5l-0.1 -0.5l-0.7 0.2l-0.3 -0.3l0.2 -0.9l1 -1.8l-2.4 2.1l-3 2.8l2 -3l-0.4 -0.2l-0.4 -0.1l0.4 -1.2l0.2 -0.7l-0.5 -0.1l0.1 -0.8l-1 0.4l-0.1 -0.5l-0.3 -0.2l1.1 -1.8l-1.3 0.7l-0.9 0.3l0.7 -1.2l0.6 -1.3l-1.4 0.8l-1.3 0.8l1.5 -2.2l-2.3 1.9l-0.2 -0.5l0.5 -1.2l-0.3 -0.2l-1.8 1.2l0.6 -1.2l-2.2 1.7l1.3 -2l-1.4 0.8l0.8 -1.4l0.7 -1.3l-1.8 1.2l0.3 -0.9l-0.6 0l0.4 -1l-0.3 -0.3l-1.2 0.5l0.6 -1.1l-0.5 0l-1 0.3l-0.2 -0.5l-1.8 1.3l0.5 -1.2l0.2 -0.7l-1.9 1.2l1.8 -2.3l-0.5 -0.1l-0.3 -0.3l0.6 -1.2l1 -1.5l-4.1 3.2l3 -3.3l-1.4 0.7l-0.1 -0.5l0.6 -1.1l1.1 -1.5l-3.5 2.5l0.7 -1.1l2.3 -2.7l-5.1 4l5 -5l-1.9 1.1l-1.6 0.9l-0.9 0.2l2.9 -3l-3.5 2.4l2.2 -2.5l-2.2 1.4l-1.2 0.4l-0.4 -0.2l0.2 -0.7l-0.1 -0.5l0.3 -0.7l-0.2 -0.4l2.7 -2.9l-3.2 2.2l0.4 -0.9l0.7 -1.1l-0.9 0.1l0.4 -0.8l-0.8 0.1l-0.3 -0.3l-0.7 0l-2.7 1.7l1.9 -2.2l0.4 -0.8l-1.7 0.8l0.2 -0.7l1.3 -1.5l-1.7 0.8l0.5 -1l-2.3 1.3l1.2 -1.5l-0.6 -0.1l0.4 -0.8l-1.1 0.3l3.2 -2.9l-3.8 2.3l2.2 -2.1l-4 2.4l1.3 -1.4l-0.4 -0.3l0.2 -0.7l-1.9 0.9l-0.2 -0.4l-0.9 0.2l-0.1 -0.5l0 -0.6l2.7 -2.4l-0.8 0.1l-1 0.2l-1.4 0.5l-1.4 0.4l0.2 -0.7l0 -0.5l-2 0.9l1.5 -1.6l0.7 -1l-0.2 -0.4l1.1 -1.2l0.3 -0.8l-2.2 1l0 -0.4l0.5 -0.9l-0.5 -0.2l-0.2 -0.3l-2.1 0.9l4 -3.2l-2.6 1.2l-3.4 1.7l1.4 -1.5l2.4 -2l-1.3 0.4l-3.5 1.7l1 -1.2l-0.1 -0.4l0.6 -0.9l-3 1.4l0.9 -1.1l1.7 -1.5l-3.2 1.5l-0.5 -0.2l2.4 -2l-0.8 0l-0.2 -0.4l0.7 -0.9l-1.2 0.2l-1.6 0.4l3.3 -2.4l-2.1 0.7l0.5 -0.8l-0.1 -0.4l0.7 -0.9l-2.6 1l3 -2.2l-1.9 0.6l-1.1 0.2l3.2 -2.4l-2.3 0.9M101.2 359l0.4 -0.7l-1.5 0.3l5.5 -3.3l-3.1 1.1l-1.4 0.3l-0.9 -0.1l2.5 -1.7l-1.4 0.2l1.7 -1.3l-0.4 -0.3l-0.1 -0.4l-1.6 0.4l2 -1.5l-0.5 -0.2l-2.9 0.9l0.2 -0.5l2.9 -1.9l-0.2 -0.4l-0.7 -0.1l3.8 -2.3l-5.2 2l-0.1 -0.4l2.1 -1.4l-0.3 -0.3l-4.3 1.5l1 -0.9l-0.7 -0.2l-2.2 0.6l4.7 -2.6l-4.1 1.4l-0.2 -0.4l2.7 -1.7l-0.9 0l-1.5 0.2l-1 -0.1l3.2 -1.8l-4 1.3l3 -1.8l-1.7 0.3l-1.8 0.3l0.7 -0.8l2.8 -1.6l-3 0.8l1.9 -1.3l-3 0.9l0.8 -0.9l-0.3 -0.3l-0.3 -0.3l0.6 -0.7l0.6 -0.7l1.1 -0.9l1.3 -1l-2.7 0.7l2.1 -1.3l0.1 -0.5l-3.8 1l-0.3 -0.3l1.5 -1l0.5 -0.7l-1.7 0.2l1 -0.8l0.6 -0.7l1.6 -1l-4.9 1.4l-1.4 0l6.6 -2.8l-7.2 2.1l0.2 -0.5l3.4 -1.6l-2.5 0.4l0.8 -0.7l0.7 -0.7l0.4 -0.6l-2.3 0.3l-0.2 -0.4l1.4 -0.8l0.5 -0.7l-1.1 0l-1.1 -0.1l0.7 -0.7l-2.4 0.3l0.8 -0.7l0.1 -0.5l-0.3 -0.3l0.5 -0.6l-1.5 0l0.8 -0.7l-1.2 0l1.6 -1l-1.9 0.2l1.8 -1l0 -0.5l2.1 -1l-4.4 0.8l2.9 -1.3l-1.7 0.1l3 -1.3l-2.9 0.4l0.2 -0.5l-1.1 -0.1l1.6 -0.9l2.8 -1.2l-2.4 0.2l1 -0.7l-2.2 0.2l-0.5 -0.3l3.7 -1.5l-2.3 0.2l0.6 -0.6l-2 0.1l2.1 -1l-5 0.9l3.7 -1.4l-4 0.6l1.5 -0.8l2.8 -1.1l-1.5 -0.1l-4.1 0.6l2.1 -1l0.9 -0.6l-2.1 0l2.1 -0.9l-1.8 0l0 -0.4l-1.4 -0.2l3.2 -1.1l-3.4 0.3l1.5 -0.8l0.6 -0.5l-0.7 -0.3l0.4 -0.5l-1.9 -0.1l0.2 -0.4l-0.5 -0.3l-0.8 -0.3l-0.3 -0.4l0 -0.4l1 -0.7l-0.4 -0.3l-0.2 -0.4l2.6 -1l-0.1 -0.4l0.5 -0.5l-0.5 -0.3l0.6 -0.6l-1.4 -0.1l0.8 -0.6l-1.4 -0.2l1.3 -0.6l-1.9 -0.1l-1.4 -0.2l0.7 -0.6l0.8 -0.5l2.1 -0.8l-1.4 -0.2l1.4 -0.7l-0.8 -0.3l-3.8 0.2l6.7 -1.5l-3.1 0.1l-0.6 -0.3l1.3 -0.7l1.1 -0.5l-0.7 -0.4l-0.5 -0.3M80.2 286.9l1.8 -0.6l-0.6 -0.4l-0.4 -0.4l-1.7 -0.2l0.1 -0.5l-0.5 -0.3l-0.6 -0.4l1.3 -0.6l1.3 -0.5l-4.9 0l4.2 -0.8l-0.9 -0.3l-1 -0.4l0.6 -0.5l2.3 -0.6l-1.2 -0.3l-0.9 -0.4l2.1 -0.5l1.7 -0.6l-5.9 0l4 -0.7l-3.8 -0.2l0.2 -0.4l0 -0.5l-0.1 -0.4l-0.3 -0.4l0.8 -0.5l1 -0.4l-0.4 -0.4l1.2 -0.5l-3.6 -0.3l3.9 -0.6l-1.9 -0.3l0.8 -0.5l-2.2 -0.3l-0.3 -0.5l1.7 -0.5l1 -0.4l1.1 -0.5l-2 -0.3l-0.5 -0.5l3.7 -0.5l-0.8 -0.4l-3.9 -0.3l1.6 -0.5l-5.2 -0.3l8.7 -0.6l-4.1 -0.4l3.9 -0.4l-0.7 -0.4l-0.5 -0.4l0 -0.5l-1.9 -0.4l1.7 -0.4l7.7 -0.4l-7.7 -0.5l-3.8 -0.4l1.2 -0.4l2 -0.4l-2.6 -0.5l3 -0.4l-0.3 -0.4l-1.7 -0.5l-0.3 -0.4l4 -0.3l-2.6 -0.5l-1.9 -0.5l3.3 -0.3l-0.6 -0.5l-0.6 -0.4l-1.8 -0.5l0.8 -0.4l-2 -0.5l4.9 -0.2l0.7 -0.4l-2.8 -0.6l-0.2 -0.4l-3 -0.6l2.6 -0.3l3.4 -0.2l-1.5 -0.5l2 -0.3l-3.9 -0.7l-0.4 -0.5l-0.7 -0.4l2.8 -0.3l-1.1 -0.5l0.4 -0.4l-1.8 -0.5l1.4 -0.4l-0.9 -0.5l-1.7 -0.5l4.7 -0.1l0.6 -0.3l0.1 -0.4l-3.2 -0.8l-0.2 -0.4l0.3 -0.4l-3.6 -0.8l7.2 0.3l-5.8 -1l3.8 -0.1l1.1 -0.3l-2.6 -0.7l-2.4 -0.7l5.2 0.2l-2.4 -0.7l2.2 -0.2l-2.7 -0.7l0.5 -0.4l0.8 -0.4l-1.4 -0.5l0.3 -0.4l-0.1 -0.5l7.4 0.5l-7.3 -1.3l1.3 -0.3l-1.2 -0.6l-0.1 -0.4l1.3 -0.3l-2.7 -0.8l3.4 0l-2.4 -0.7l0.8 -0.4l2.1 -0.1l-2.1 -0.7l2.9 0l-1.3 -0.6l0.9 -0.3l-3.6 -1l2.2 -0.1l2.3 -0.1l-1.3 -0.6l0.7 -0.3l1.4 -0.2l2 -0.1l-2.1 -0.8l-2.8 -0.9l0.4 -0.4l1.6 -0.1l0.7 -0.3l2.1 -0.1l-4.9 -1.3l4.1 0.3l-0.1 -0.4l-1.4 -0.7l0.6 -0.3l-0.2 -0.5l0.6 -0.3l-0.8 -0.6l-0.5 -0.6l-1.3 -0.7l-1.8 -0.8M84.4 215.9l0.4 -0.3l0.8 -0.3l-1.8 -0.9l0.2 -0.4l2.1 0.1l0.3 -0.3l-0.7 -0.6l-1.3 -0.8l1.1 -0.2l0.3 -0.3l1.4 -0.1l-2.4 -1.1l2.7 0.3l-0.1 -0.5l-1.5 -0.8l1.4 -0.1l-2.8 -1.2l0.6 -0.3l1.1 -0.1l1.4 0l-2.7 -1.3l2.7 0.4l0.5 -0.3l0.6 -0.3l-1.4 -0.8l-0.1 -0.5l0.8 -0.2l-0.6 -0.7l-0.6 -0.6l4.3 0.9l-2 -1l1.6 0l-1.3 -0.8l0.6 -0.3l-0.7 -0.7l7.9 2.2l-6.8 -2.7l-2.1 -1.1l1.4 0l1.1 -0.1l-1.2 -0.9l0.2 -0.3l0.6 -0.3l-2.2 -1.2l1.6 0.1l-1 -0.8l2.4 0.4l3.8 0.9l-2.5 -1.3l-2.7 -1.5l0.3 -0.3l1.5 0.1l-1.2 -0.9l0.6 -0.2l-1.8 -1.2l1.9 0.3l1.8 0.2l-1 -0.8l1.1 -0.1l-1.1 -0.8l-1.3 -1l3.5 0.9l-0.8 -0.7l-1.1 -0.9l3 0.7l-3.3 -1.8l-1 -0.9l1.5 0.2l3.2 0.8l-0.9 -0.8l-2.7 -1.6l2 0.4l-1.3 -1l0.8 -0.2l2.5 0.6l-2.6 -1.5l0.5 -0.2l1.4 0.1l-0.2 -0.6l0.5 -0.2l-1.3 -1l3.5 1l-0.5 -0.7l0.4 -0.3l-1.7 -1.2l4.3 1.5l-3.2 -1.9l1.6 0.3l0.4 -0.3l-1 -0.9l-0.1 -0.6l-1.7 -1.2l-0.5 -0.8l1.1 0.1l1.7 0.4l1.1 0l-3.3 -2l3.2 1l-1.2 -1.1l-0.6 -0.7l1.5 0.2l-1.5 -1.2l0 -0.5l0.7 -0.1l-0.5 -0.7l1.6 0.3l-1.1 -1l-0.6 -0.8l1.1 0.1l1.2 0.1l1.6 0.3l-2.4 -1.7l-0.1 -0.5l1.9 0.5l-2.8 -2l3.2 1.2l-2.1 -1.6l1.5 0.3l-0.9 -0.9l2.5 0.8l-1.3 -1.2l3 1.2l-2.4 -1.8l0.4 -0.3l2.1 0.7l-1.8 -1.5l2.5 0.9l-0.5 -0.8l-0.3 -0.6l0.9 0l-0.7 -0.9l2.2 0.8l-0.8 -1l1 0.1l-1.1 -1.1l1.2 0.2l0.4 -0.2l0.8 -0.1l-1.8 -1.5l-0.2 -0.7l1.9 0.7l1.2 0.2l0.4 -0.3l2.5 1.1l-3 -2.3l1.3 0.2l0.5 -0.1l-0.8 -1l-0.9 -1.1l1.4 0.4l0.9 0.1l1.8 0.6l-0.8 -1l0.9 0.1l-2.4 -2M112.4 150.5l1.5 0.5l-0.4 -0.8l-0.5 -0.9l1.9 0.8l-2.1 -2l2.3 1.1l3.5 1.9l-4.7 -3.7l-0.1 -0.7l-1.3 -1.4l0 -0.5l2.1 0.9l1.2 0.4l-2.3 -2.2l0.8 0l0.9 0.2l1.5 0.5l-0.4 -0.8l0.8 0.1l0.3 -0.4l-0.9 -1.2l1.3 0.5l-0.1 -0.6l1.3 0.4l-0.6 -1l-1.1 -1.4l0.8 0.1l1.8 0.9l-1.5 -1.7l2.4 1.3l-1.3 -1.6l1.5 0.7l-2.3 -2.4l1.5 0.7l0.5 -0.2l1.4 0.5l-1.6 -1.7l2.1 1.1l-1.2 -1.6l-0.4 -0.8l2.5 1.4l0.1 -0.4l-2.8 -2.9l0.4 -0.2l0.3 -0.3l-0.4 -0.9l0.9 0.2l0.5 -0.2l2.6 1.6l-1.1 -1.4l-1.9 -2.2l1 0.3l2.8 1.8l-0.5 -1l1.5 0.7l-0.7 -1.2l1.2 0.5l1.3 0.5l-2.6 -2.8l0.6 0l1 0.3l0.4 -0.2l0.8 0.1l-0.2 -0.7l2.2 1.4l-3.5 -3.8l2.2 1.5l0.4 -0.2l-1.5 -2l2.3 1.5l-1.3 -1.7l1.9 1.1l0.9 0.2l-1.6 -2.1l1.3 0.7l-0.3 -0.8l-0.6 -1.2l1.3 0.6l0.4 -0.2l0.5 -0.1l0.2 -0.4l0.8 0.2l-1.4 -2l3 2.3l1.7 1.1l-0.2 -0.8l-0.3 -0.9l1.2 0.6l-0.5 -1.1l1.2 0.6l-1.3 -1.9l-1.4 -2l1.6 1l0.4 -0.2l-0.4 -1l3 2.5l-1.1 -1.8l0.8 0.3l-2.3 -3.1l2.5 2.1l-0.5 -1.2l-1.7 -2.4l2 1.4l2.5 2.1l-2.7 -3.5l0.9 0.3l1.3 0.8l-0.4 -1.1l-1 -1.6l0.5 -0.1l1.4 0.8l-0.2 -0.8l1.5 0.9l0.1 -0.5l0.3 -0.2l-0.5 -1.3l2.5 2.1l-2.3 -3.1l0.6 0l0.5 -0.1l-0.2 -0.8l0.6 -0.1l1.7 1.4l-0.5 -1.2l0.8 0.2l-0.6 -1.3l0.7 0.2l1.5 1l-2.3 -3.3l1.8 1.4l-2.4 -3.5l4.8 5l0.4 -0.1l-1.2 -2.2l0.1 -0.5l-0.9 -1.8l3.2 3.3l0.1 -0.6l0.4 -0.2l-0.6 -1.4l0.5 0l-0.3 -1.1l0.4 -0.2l0.9 0.4l-1.2 -2.2l1.5 1.2l0.5 0M159.3 102.1l1.1 0.8l-1.6 -2.9l2.6 2.8l-0.9 -1.9l1.1 0.7l1.8 1.8l-2.2 -3.8l1.2 1l1.7 1.6l-2.3 -3.9l1 0.6l-0.1 -0.8l-0.3 -1.2l0.7 0.3l0.8 0.3l1.3 1.2l-0.5 -1.5l2.9 3.5l-2.6 -4.6l2.7 3.2l-1.6 -3.1l1.1 0.9l1.4 1.3l0.5 -0.1l-0.6 -1.5l-0.8 -2.1l0.3 -0.3l2.2 2.6l0.4 -0.3l-1.1 -2.4l1.2 1.1l1 0.7l-1 -2.3l0.8 0.5l1.2 1.1l-0.4 -1.4l0.9 0.5l0.7 0.5l-1.3 -3l1.5 1.7l1.2 1l-0.4 -1.4l-0.6 -1.7l1.4 1.4l0.2 -0.5l0.1 -0.6l0 -0.9l0.7 0.3l1 0.9l-0.5 -1.7l1.4 1.6l0.4 -0.2l-1.5 -3.3l2 2.5l0 -0.9l0.1 -0.6l0 -0.8l1.9 2.3l-0.2 -1.1l-1.4 -3.3l1.7 2.2l0 -1l0.8 0.7l-0.1 -1.1l0.3 -0.4l1.1 1.2l0.5 -0.1l-0.1 -0.9l0.4 -0.3l0.6 0.3l1.5 1.9l-1.7 -4.2l1.5 2l-0.8 -2.3l1 0.9l0.6 0.3l1.2 1.4l-0.2 -1.4l-0.1 -1.1l0.5 -0.1l0.5 0.2l0.7 0.4l-1.2 -3.4l1 1.2l1.4 1.8l-0.6 -2.1l-0.5 -2.1l0.9 1l-0.1 -1.2l1.4 1.9l-0.7 -2.5l0.9 0.8l-0.2 -1.3l-0.1 -1.3l1.6 2.3l1.1 1.5l0.8 0.7l-1 -3.3l0.7 0.6l-0.1 -1.2l0.4 -0.3l2 3.4l-1.1 -3.4l1.1 1.4l-0.8 -2.8l0.6 0.2l1.2 1.7l1.1 1.5l-1.2 -3.9l0.7 0.6l2.1 3.8l0.2 -0.7l-0.4 -2.1l0 -0.9l1.4 2.1l-0.8 -3l1.9 3.6l0.3 -0.5l-1.3 -4.2l2.8 5.7l-0.2 -1.6l-0.2 -1.7l-1.2 -4l1.2 1.8l-0.5 -2.4l1.1 1.5l-0.4 -2.2l0.9 1.1l0.5 0.2l0.5 -0.1l0.9 1.3l-0.4 -2.3l-0.6 -2.6l1.9 3.5l-0.3 -2l0.7 0.7M215.9 73l0.5 0.1l0.5 0.3l0 -1.5l1 1.6l-0.1 -1.7l0.4 0l0 -1.5l0.8 1.3l0 -1.4l0.9 1.4l1 1.6l-0.2 -1.9l-0.1 -1.7l1.6 3.8l-0.6 -3.6l1 1.7l0 -1.4l0.1 -1l0.7 0.9l0.3 -0.7l0.8 1.2l0.1 -1l0.1 -1.2l1.5 3.6l-0.3 -2.5l0.8 1.2l0.3 -0.5l1.1 2.3l-0.2 -2.2l0.2 -0.9l0.6 0.7l0.3 -0.8l1.1 2.7l-0.6 -4l1.3 3.3l0.2 -0.7l-0.4 -3.3l1.3 3.4l0.2 -1.1l0.2 -0.9l0.7 1.2l0.5 0.1l-0.1 -2.1l1.1 2.6l-0.2 -2.4l0.1 -1.7l1.6 4.9l0.2 -0.7l0.5 0.3l-1.2 -7l1.8 5.9l-0.3 -3.3l1 2.4l0.1 -1.5l-0.1 -2.4l1.2 3.6l0.2 -1l0.2 -1l0.8 1.3l0.1 -1.2l0.5 0.1l0.7 1.4l1.1 3.3l-0.8 -6.3l0.5 0.7l0.7 1.2l-0.3 -3.8l0.8 1.7l0.4 0.1l0.6 0.9l0.6 0.6l0.3 -0.6l0.2 -1.3l0.4 -0.1l0.8 2.1l0.5 0.3l0 -2.2l0.4 -0.4l1 3.2l-0.4 -4.5l0.7 1.4l0.6 1.2l0.1 -2.4l0.8 2.4l-0.3 -4.3l1 3.4l0.1 -2.1l0.4 -0.3l0 -2.7l0.7 1.2l0.6 1.7l0.3 -1.6l0.5 0.8l0.5 0.4l0.1 -2.2l0.7 2l0.2 -1.8l0.4 -0.8l0.5 0.9l0.1 -2.6l0.7 1.6l0.6 1.7l0.2 -1.6l0.7 1.6l0.2 -2.1l0.6 2.2l0.4 -0.1l0.3 -1.7l0.6 1.9l0.3 -1.7l0.6 1.4l0.4 -0.2l0.5 1.3l0.4 -0.9l0.6 2.2l0.2 -2.1l0.6 1.7l0.4 -0.4l0.3 -1.4l0.5 0.8l0.4 -0.2l0.4 -0.2l0.4 -0.4l0.5 0.9l0.5 1.3l0.6 2.3l0.1 -4.7l0.7 3.5l0.4 0.3l0.2 -3.9l0.4 -0.3l0.5 1.2" fill="none" stroke="#4a4242" stroke-width="0.5"/><path d="M292.3 93.5l0.5 -2.1l-0.1 6l0.7 -6.3l0.1 3l0.3 0.5l0.4 -1.8l0.1 1.8l0.2 1.7l0.4 -1.1l0.3 -0.1l0.2 0.8l0.7 -4.5l0.2 1l0.5 -1.4l0.2 0.9l-0.1 4l0.7 -3.7l-0.1 3.3l0.4 -0.6l0.1 1.5l0.6 -2.2l-0.1 3.1l0.5 -1.7l0.1 2l0.4 -0.7l0.3 -0.7l0.4 -0.7l-0.2 4.9l0.6 -2.7l0.3 -0.8l0.4 -0.2l-0.1 2.8l0.4 -1l0.8 -3.6l-0.1 2.9l0.5 -1.2l0 1.7l0.2 1l0.8 -3.5l0.3 -0.3l0 1.9l0.4 -0.3l0 1.7l0 2.3l0.5 -1.4l0.4 -1l0.2 0.7l0.6 -2.1l0.1 1.8l0.9 -4l-0.2 3l0.2 0.8l0.5 -1.4l0.8 -3.4l-0.3 4.1l0.8 -3l0.5 -1.1l-0.1 2.3l-0.2 2.7l0.5 -0.8l0.2 0.3l1.2 -5.1l-0.9 6.6l1.4 -5.9l-0.5 4.2l0.4 -0.3l0.1 1l-0.2 2.9l0.5 -1.3l0.5 -1.3l1.2 -4.3l-0.4 3.4l-0.2 2.7l1.5 -6l0.9 -3.1l-1 6.4l0.9 -2.7l0.1 1l0.8 -2.8l-1.5 8.9l1.5 -5.7l1.2 -4.2l-0.1 1.8l0.1 0.9l-0.2 2.7l0.5 -1.2l0.8 -2l0.7 -1.8l-0.4 3.2l-0.9 5.1l0.1 1.1l0.5 -0.9l-0.3 2.5l0.9 -2.8l1.6 -5.4l0.6 -1l-0.9 4.7l0.3 0.1l1.3 -4l-0.3 2.7l0.5 -1.1l-0.1 1.7l0.7 -1.4l-0.1 1.5l-0.6 3.7l0.9 -2.4l1 -2.9l-0.4 2.7l-0.6 3.5l0.8 -1.9l0.1 1l0.1 0.5l0.7 -1.4l0 1.1l1.4 -4l0.2 0.3l0.4 -0.4l0.4 -0.2l0.8 -1.5l-1 4.3l-0.1 1.7l1.5 -4.2l-1.9 7.5l2.3 -6.9l0.4 -0.1l-0.6 3.1l1.3 -3.4l0 0.9l0.3 0.2l-0.7 3.5l1.1 -2.7l0.2 0.3l0.3 -0.1l-0.1 1.4l0.9 -1.8l0.2 0.4l-0.6 2.7l0.2 0.3l1.2 -2.7l-0.5 2.5l0.6 -1l0.5 -0.3l1 -2.2l-1.8 6.5l2.4 -6.5l-1.3 4.9l0.3 0l1.2 -2.5l-1.5 5.3l0 0.8l2.3 -5.9l0.4 -0.1l-1.3 4.5l1.5 -3.4l-0.7 2.9l1 -2l0.6 -0.8l1.7 -3.7l-2.6 8.1l0.7 -1.3l0.1 0.8l-0.4 1.9l-1.1 3.8l0.7 -1.1l2.8 -6.8l-1 3.5l0.1 0.6l0.6 -0.8l1 -1.7l-2.5 7.3l3.5 -8.3l-1 3.2l0.4 -0.2l1.4 -2.6l0.3 0l-0.3 1.4l-0.4 1.9l1.6 -3.3l-1.2 4l0.6 -1l0.8 -1.1l-0.1 1.1l0.6 -0.8l1 -1.7l-0.4 1.9l0.4 -0.4l0.8 -0.9l-1.6 4.5l0.8 -1.2l1.3 -2.4l-1.2 3.7l0.4 -0.3l-0.2 1.1l2.6 -5.2l-1.5 4.3l0.6 -0.8l0.8 -1.1l0.3 0.2l2.1 -4.2l-1.9 5.1l1.3 -2.2l-0.1 1l-1 2.9l-0.1 0.9l1.9 -3.6l0.3 0.2l0.9 -1.4l1.5 -2.5l-0.8 2.5l-0.9 2.7l-0.9 2.5l2.1 -3.8l-1.4 3.8l-1.4 3.5l2.5 -4.5l0 0.5l1.4 -2.2l0 0.8l0.2 0.2l-2.7 6.3l2.5 -4.7l-1.1 3.1l2.3 -4l0 0.4l-0.3 1.3l2 -3.2l-0.5 1.6l-1.1 2.9l1.9 -3.1l0.4 -0.3l2 -3.3l-1.5 3.6l0 0.7l0.5 -0.4l0.5 -0.2l-2 4.4l2.3 -3.8l0.1 0.4l1.5 -2.1l-1 2.4l-1.2 3.1l1.9 -3.1l0.4 0l0.4 -0.2l-1.1 2.7l-0.3 1.2l1.2 -1.7l0.8 -0.9l0 0.7l-2.3 4.8l4.6 -7.8l-1.5 3.2l0.3 0.2l-1.2 2.8l1.3 -1.7l0.5 -0.3l0.5 -0.4l-0.5 1.5l-1.7 3.6l1.9 -2.8l1.3 -1.6l-0.9 2.1l0.7 -0.7l-1.1 2.6l1.3 -1.7l1.3 -1.7l-2.2 4.4l1.6 -2.2l-1.6 3.2l3.8 -5.8l-1.5 3.1l0.4 -0.1l-1.8 3.6l0.7 -0.6l2.3 -3.3l-2.1 4.1l3 -4.4l-0.1 0.7l-0.8 1.7l1 -1l0.2 0.3l-1.3 2.6l3.3 -4.7l1.4 -1.7l-2.1 3.9l-0.1 0.7l0.3 0.1l-2.8 4.9l1.7 -2.1l0.7 -0.5l1.3 -1.6l-2.1 3.8l-0.9 1.9l3.5 -4.9l-5.1 8.4l0.6 -0.5l4.7 -6.5l-1.4 2.6l0.3 0.1l0.4 -0.2l-0.3 0.9l1 -0.9l-0.7 1.6l-0.2 0.8l3.1 -4.1l0.3 0.1l-2.4 3.9l-0.1 0.7l-0.7 1.4l1.8 -2l-1.9 3.2l4.9 -6.5l-2.3 3.7l0.5 -0.1l1.1 -1.2l0.1 0.5l1.1 -1.2l-0.6 1.4l0.4 -0.1l2.2 -2.5l1 -1l-1.3 2.3l-1.2 2.2l2.4 -2.8l-1.5 2.5l0.3 0.1l-0.3 0.9l3.2 -3.8l-3.2 4.7l1.4 -1.4l-1.8 3l1.7 -1.9l-0.2 0.8l3.7 -4.4l-3.9 5.5l2.3 -2.5l2 -2l-2.4 3.5l1.3 -1.2l-2.6 3.8l2.1 -2.2l-1.3 2.1l1.7 -1.7l1.9 -1.9l-0.9 1.5l-2.8 4l2.8 -3l-0.7 1.3l2.9 -3.2l0.5 -0.1l-5.7 7.5l2.8 -3l2.3 -2.4l1.2 -1l-3.8 5.1l1.6 -1.6l-2.4 3.4l2.1 -2l1.4 -1.3l-2.3 3.2l1.6 -1.5l0.2 0.2l1 -0.8l-4.9 6.3l4.4 -4.8l0.5 -0.1l0.3 0.1l0.4 -0.1l-0.1 0.5l1.5 -1.3l-1.9 2.7l-1 1.5l1 -0.6l-0.8 1.3l1.1 -0.9l-2.4 3.2l3 -3l2.3 -2.2l-1 1.5l0.3 0.2l3.4 -3.4l-2.7 3.5l2.6 -2.5l-4.5 5.4l1.9 -1.6l-0.4 0.7l4.9 -4.9l-1.3 1.9l1 -0.7l-4.2 4.9l2.9 -2.7l-0.9 1.5l-0.8 1.2l2.1 -1.8l2.5 -2.2l-2.4 2.9l-2.3 2.9l3.3 -3.2l2.2 -1.8l-3.5 4.1l2 -1.7l-1 1.4l0.7 -0.3l-3.7 4.2l4.8 -4.5l1.8 -1.5l-3 3.5l4.2 -3.8l-1.3 1.7l-6.9 7.3l5.1 -4.7l0.3 0.1l-0.2 0.6l2 -1.6l0.6 -0.2l-1.3 1.7l-4.2 4.5l4.3 -3.8l-1 1.4l0 0.3l0.6 -0.2l1.6 -1.1l-1.2 1.5l5 -4.4l-1.4 1.8l-2.5 2.8l4.8 -4.2l-3.9 4.1l1.5 -1.1l-0.1 0.6l-2 2.2l3.4 -2.8l-3.8 4l2.6 -2.1l2 -1.5l-6.5 6.4l5.1 -4.3l4.1 -3.3l-2.5 2.6l2.8 -2.1l-2.9 3l-1.3 1.5l4.6 -3.7l-1.7 1.9l2.8 -2.1l0 0.4l0.7 -0.3l-0.8 1.1l0 0.4l-3.5 3.5l-0.5 0.8l3.6 -2.8l-1.3 1.6l3.7 -2.9l-3.1 3.1l0.1 0.3l1.9 -1.2l-1.1 1.2l-1.3 1.5l0.7 -0.2l2.4 -1.7l2.4 -1.6l-1.6 1.7l2.4 -1.6l-0.5 0.9l-3.4 3.1l1.3 -0.7l2.4 -1.6l0.8 -0.3l-2.7 2.6l1.7 -1l-1 1.2l-1.2 1.4l1.1 -0.6l-0.7 1l4.7 -3.4l-2.1 2l2.2 -1.4l-1.7 1.8l2.4 -1.5l-0.6 0.8l-0.9 1.1l2.5 -1.6l-2.3 2.1l1.9 -1l-0.8 1l1 -0.4l-0.9 1l-2.7 2.4l3.9 -2.5l0.3 0.1l-0.1 0.4l0.7 -0.1l-3.8 3.2l4.4 -2.9l-2.3 2l-4.4 3.6l3 -1.8l1.4 -0.7l-0.5 0.8l-0.2 0.5l0 0.3l2 -1.1l-1 1.1l-2.5 2.1l3 -1.8l1.7 -0.8l-0.5 0.7l-1.4 1.4l0.2 0.1l2.5 -1.3l-3.9 3l2.4 -1.3l3.1 -1.8l-2.1 1.8l-2.3 2l1.8 -0.9l4.1 -2.5l-3.3 2.6l-1.4 1.3l1.2 -0.4l2.6 -1.4l-5 3.7l5.4 -3.3l0.8 -0.2l-2.5 2l-1.8 1.6l2.2 -1.2l-3 2.3l2.3 -1.1l-2.9 2.2l2.7 -1.4l-0.5 0.7l1.7 -0.8l-2.6 2l-0.4 0.6l-2.4 1.9l4.2 -2.4l1.8 -0.8l-2.9 2.2l3.1 -1.6l-0.6 0.7l-0.9 0.9l3.7 -2l-4.3 3M427.7 179.5l-0.8 0.8l2 -0.8l-3.2 2.2l4.7 -2.4l-1.5 1.2l1.7 -0.6l-3.6 2.4l0 0.3l-1.5 1.2l-0.7 0.7l5.3 -2.6l-1.9 1.3l2.1 -0.7l-1.1 0.9l-0.7 0.7l-1.4 1.1l-1.3 1l4.3 -2l-1.9 1.4l2.8 -1.2l-2.7 1.8l-0.1 0.4l2.7 -1.1l-4.1 2.5l0.2 0.2l4.9 -2.2l-2.8 1.8l-4.2 2.4l-1 0.9l3 -1.3l4.2 -1.7l2.1 -0.8l-3.7 2.2l1.3 -0.3l-2.6 1.6l3.7 -1.5l-0.9 0.8l-0.2 0.4l2.4 -0.9l-0.5 0.6l1.8 -0.6l-6.5 3.6l5.7 -2.5l-3.3 1.9l3.4 -1.3l-0.4 0.5l-2 1.3l2.7 -1l0.1 0.4l-1.1 0.8l-3.1 1.7l3.5 -1.2l0.1 0.2l5.8 -2.3l-5.3 2.7l3.7 -1.3l0 0.3l-3.9 2.1l1.3 -0.3l0.3 0.2l-0.2 0.4l-1.9 1.2l0 0.3l0.2 0.2l5.3 -2l-3.2 1.7l1 0l-1.2 0.8l2.3 -0.7l0.7 0.1l-3.1 1.6l-1.8 1.1l3.3 -1.1l-1.7 1l-1.9 1.1l1.2 -0.2l0 0.3l1.4 -0.2l2.8 -0.8l-1.4 0.9l-3.1 1.5l-1.1 0.8l-1.5 0.9l4.7 -1.6l3.4 -1l-3.3 1.6l-3.3 1.6l4.5 -1.4l1.7 -0.4l-1.5 0.9l0.8 0l-1.4 0.8l1 0l-1.4 0.8l-4.4 2l8.5 -2.8l-0.7 0.5l0 0.3l-3.9 1.8l1.1 -0.1l-2.9 1.3l7.3 -2.3l-3.2 1.5l0.2 0.2l-2.7 1.3l0.6 0.1l1.2 -0.1l-1.4 0.7l2.9 -0.6l0.8 0l-4.5 1.8l2.9 -0.6l0.3 0.1l1.9 -0.3l-1.8 0.9l0.3 0.2l0.6 0.2l0.4 0.1l-3.4 1.4l3.2 -0.7l-2.7 1.2l4 -1l-1.7 0.8l-0.7 0.6l-1.5 0.7l2.7 -0.5l-3 1.2l3.9 -0.8l-1 0.6l6.2 -1.6l-2.3 1l-4.8 1.7l-1.7 0.9l0.8 0l3.7 -0.8l2.1 -0.3l-3.5 1.3l3.3 -0.6l-4.7 1.6l2.9 -0.5l-2.6 1l-0.6 0.5l3.4 -0.6l1.1 0l-0.4 0.4l1.6 -0.2l-1.1 0.6l-4.4 1.5l2 -0.2l2.4 -0.4l-3.4 1.3l2 -0.3l-1 0.6l1.5 -0.1l-1.3 0.6l0.2 0.3l1.9 -0.2l1 0.1l0.6 0.1l-1.1 0.6l-1 0.5l0.9 0.1l-1.2 0.6l-0.5 0.4l-0.7 0.5l0.3 0.2l5.6 -1l-7 1.9l-1.5 0.7l4.4 -0.8l-0.1 0.4l3 -0.4l-2.3 0.8l-2.4 0.9l5.4 -0.9l1.1 0l-4.3 1.3l-0.3 0.3l-1.6 0.7l2.8 -0.3l-0.3 0.3l1.8 -0.1l-0.9 0.5l2.3 -0.2l0.9 0.2l-2.1 0.7l5.8 -0.9l-3.9 1.1l-0.5 0.4l0 0.3l-3 0.9l-1.3 0.5l5.3 -0.7l-2.6 0.8l1.5 0l-0.6 0.5l1.3 0l-0.8 0.5l-3.4 0.9l4.8 -0.6l0.8 0.2l1.9 0l-3.1 0.8l5.9 -0.7l-1.2 0.5l-4.7 1.1l6.3 -0.7l-5.6 1.2l1.5 0l-1 0.5l5.2 -0.5l-1.6 0.5l-1.7 0.6l3.2 -0.2l-0.9 0.5l-1.8 0.6l0 0.3l-1.7 0.5l0.6 0.2l-1.6 0.5l-2.1 0.6l4.5 -0.3l-2 0.6l1.1 0.1l2 0.1l3.2 -0.1l-5.3 1l2.9 -0.1l1.2 0.2l-3.1 0.6l-0.5 0.4l3.3 -0.1l-0.4 0.4l3.3 -0.1l-11 1.6l3.4 -0.1l2.2 0l3.6 -0.1l-3.3 0.7l-1.8 0.5l4.2 -0.2l-5 0.9l4.2 -0.2l-3.3 0.7l2.2 0.1l0.2 0.2l-1.7 0.5l-3.1 0.6l2.7 0l0.1 0.3l-3.8 0.7l2.3 0.1l2.7 0l-0.5 0.4l1.7 0.1l-2.4 0.5l-0.9 0.4l-2.1 0.4l5.1 0l-3.6 0.5l0.1 0.3l-1.5 0.4l0.8 0.2l1.7 0.2l-2.9 0.5l1.4 0.2l0.6 0.3l-6.8 0.6l7.9 -0.1l-5.1 0.6l0.2 0.2l3.1 0.2l5.3 0l-4.8 0.5l-0.5 0.4l0.6 0.2l-5 0.5l5 0.1l2.8 0.2l-1.4 0.4l0.3 0.3l-1 0.3l1.3 0.2l0.1 0.3l-2.9 0.4l-2.1 0.4l-0.3 0.2l0.9 0.3l2.1 0.3l-0.1 0.3l-1.6 0.3l0.3 0.3l-0.9 0.3l-2.4 0.3l5.2 0.2l2.3 0.3l-1.2 0.3l-1 0.3l-8.8 0.3l9.7 0.3l-1.6 0.3l-2.8 0.3l2.8 0.3l0.4 0.3l-0.3 0.3l0 0.3l-5.7 0.2l4.5 0.3l1.7 0.4l-1.9 0.2l-3.2 0.2l3.1 0.4l0.1 0.3l-1.9 0.2l2.8 0.4l-7.4 0.1l4.3 0.4l-2.3 0.2l1.2 0.3l2.7 0.4l-1.1 0.3l1 0.3l-0.2 0.3l-5.3 0l4.3 0.5l-0.4 0.3l-0.7 0.2l1 0.4l1.3 0.3l1.5 0.4l-7.7 -0.1l1.7 0.3l-0.4 0.3l6.8 0.7l-8.3 -0.2l6.2 0.7l-5.7 -0.1l11.4 1l-4.6 0l-3.4 0.1M449.6 281l0.1 0.3l-3.3 0l1.7 0.5l0.5 0.3l-1.4 0.2l-0.5 0.2l-0.6 0.2l0.1 0.3l2.6 0.6l-0.7 0.2l-1.5 0.2l3.3 0.7l-3.5 -0.2l-0.2 0.3l1.1 0.4l-4.2 -0.2l2 0.5l-1.6 0.1l1.2 0.5l-0.1 0.2l-1.5 0.1l-2.2 0l6.3 1.2l-3.4 -0.2l4.1 0.9l-2.6 -0.1l0.5 0.4l-0.5 0.2l0.2 0.3l-2.5 -0.1l1.6 0.6l-1.4 0l-1.3 0.1l-5.8 -0.6l6.5 1.3l-2.7 -0.1l0.5 0.3l-3.1 -0.2l4.8 1.1l-4.1 -0.4l5.1 1.1l-1 0.2l-3.3 -0.3l4.2 1l-4.2 -0.5l3.3 0.9l-3.1 -0.2l4 1l-4.3 -0.5l-0.7 0.1l3.6 1l5.2 1.3l-5.7 -0.8l1.2 0.5l-0.6 0.2l-0.5 0.2l-1.9 -0.1l2.1 0.7l0.9 0.5l-0.1 0.3l-1.1 0l4.2 1.2l-3.4 -0.4l0.9 0.5l-2 -0.2l2.8 0.9l-1.6 0l1.5 0.6l-1.3 0l1.5 0.6l2.1 0.8l-3 -0.4l3.3 1.1l-5.9 -1.1l1.9 0.8l1.6 0.7l1.5 0.6l-3 -0.4l1.1 0.6l-1.9 -0.2l1.1 0.6l1.5 0.6l-5.3 -1l2.1 0.8l4.6 1.5l-4 -0.7l-2.1 -0.3l-0.3 0.3l2 0.8l-6.8 -1.5l4.5 1.5l2.8 1l-0.2 0.3l-1 0l-0.3 0.2l1.4 0.7l0.2 0.4l1.4 0.6l-2.7 -0.4l-5.9 -1.4l6.6 2.2l3 1.2l0 0.3l-3.8 -0.8l3.9 1.4l-6.3 -1.5l3.3 1.3l-1.7 -0.2l1.9 0.8l0.6 0.5l2 0.9l-0.3 0.3l-2.6 -0.5l3.3 1.3l-8.2 -2.2l3.8 1.4l-4.3 -1l2.6 1.1l3.5 1.4l-1.1 0l-0.4 0.2l-2.3 -0.5l0.3 0.4l-0.2 0.3l2.3 1l-0.6 0.2l0.6 0.4l3.1 1.4l-1.8 -0.3l1.5 0.8l-0.4 0.2l-2.5 -0.5l-4.6 -1.3l5.1 2.1l-0.7 0l-0.7 0.1l-0.2 0.3l1.2 0.7l0.1 0.3l-1.7 -0.3l3.8 1.7l-4.7 -1.3l0.6 0.5l2.9 1.4l-4.5 -1.4l1.1 0.7l0.3 0.5l-1.3 -0.2l2.7 1.3l0.7 0.6l-1.6 -0.3l7.2 3.1l-9.3 -3.3l2.1 1.2l-1 -0.1l-2.1 -0.5l2.2 1.2l-5.2 -1.8l3.9 1.9l-1.8 -0.4l5 2.3l-6.1 -2.2l6 2.8l-2 -0.5l0.6 0.6l0.6 0.6l3.2 1.6l-1.6 -0.3l-2.1 -0.6l4.2 2.1l-5.2 -1.9l2.5 1.4l1.6 1l-3.7 -1.2l-0.5 0.1l-4.5 -1.6l1.2 0.8l1.1 0.8l3 1.6l-3.8 -1.3l0.4 0.5l3.6 1.9l0.8 0.7l-4.6 -1.7l-1.5 -0.4l7.9 3.9l-10.6 -4.5l4.2 2.3l-2.6 -0.9l5.1 2.7l-1.7 -0.5l-5 -2l5.4 2.9l-5.8 -2.5l4 2.3l-4.5 -1.8l6.4 3.3l-4.1 -1.6l3.1 1.8l-0.4 0.2l-2.2 -0.8l4.5 2.6l-4 -1.7l0.1 0.4l2.9 1.7l0 0.4l-2.2 -0.8l0.3 0.5l-4.4 -1.8l4.3 2.5l-1.6 -0.5l-2.3 -0.9l-2.1 -0.7l3.6 2.1l-1.9 -0.6l-2.9 -1.2l4 2.4l1.5 1.2l-3.4 -1.5l-0.6 0l-3.1 -1.3l3.7 2.3l-1.4 -0.4l3.7 2.3l-3.3 -1.4l2.1 1.4l3.3 2.2l-6.3 -3.1l0.1 0.4l-3.2 -1.5l6.3 3.9l-7.4 -3.8M424.2 350.9l0.4 0.6l0.7 0.8l-3.6 -1.9l3.5 2.5l-0.2 0.2l-2 -0.8l2.6 1.9l-2.3 -1.1l4.1 3l-2.5 -1.2l1.4 1.2l-2.3 -1.1l-1 -0.3l5.6 3.9l-4.6 -2.6l0.5 0.7l-0.8 -0.2l-1.2 -0.4l-0.4 0.1l-1.8 -0.8l4.4 3.2l-2.5 -1.2l-0.6 -0.1l0.7 0.8l0.4 0.6l-3.3 -1.8l3.2 2.5l-3.8 -2.2l1.9 1.6l-0.4 0.1l-3 -1.7l4 3.1l-4.5 -2.7l1.2 1.2l-0.1 0.2l3.5 2.8l1.2 1.2l-2.1 -1.1l-4.4 -2.7l3.4 2.8l-2.3 -1.3l1.6 1.5l0.6 0.8l-0.9 -0.3l-2.2 -1.2l2.5 2.2l-4.6 -3l5.3 4.2l-1.6 -0.8l1 1.1l-2.8 -1.7l4.6 3.8l-5.8 -4l5.8 4.7l-4.3 -2.8l-0.9 -0.3l2.8 2.5l-3.8 -2.5l-1.2 -0.5l3.1 2.7l3.5 3l-0.7 -0.1l-3.3 -2.2l-3.4 -2.2l1.2 1.2l1.7 1.8l-2.9 -1.9l-3.5 -2.4l1.5 1.5l-0.2 0.3l-0.4 0l-1.7 -0.9l4.7 4l-0.1 0.3l0.7 1l-2.8 -1.9l-1.2 -0.6l0.6 0.9l1.4 1.5l-1.4 -0.8l-2.2 -1.4l1.9 2l-2.5 -1.8l-2.2 -1.4l4.6 4.2l-1.6 -0.9l-0.9 -0.5l1.2 1.4l2.5 2.5l-2.6 -1.8l-2.3 -1.6l1.6 1.8l1.8 1.9l-2.2 -1.5l0.9 1.2l-0.5 0l-1.6 -1.1l2.1 2.3l-0.6 -0.2l-1.5 -0.9l1.4 1.6l-0.1 0.3l2.7 2.8l-0.6 -0.1l-4.3 -3.5l1.7 1.9l-1.9 -1.3l6 5.8l-3.3 -2.5l-0.7 -0.2l-4.6 -3.9l4.1 4.2l-1 -0.5l-0.3 0.1l-1.2 -0.7l2.1 2.3l-1.2 -0.6l0.3 0.6l4.5 4.6l-3.9 -3.2l0.1 0.5l0.5 0.9l-2.9 -2.3l-0.9 -0.5l-0.6 -0.2l3.1 3.4l-1.5 -1l-0.6 -0.1l-0.9 -0.6l-0.9 -0.4l-0.5 -0.1l6.2 6.5l-8.9 -8.3l2.9 3.2l-1 -0.5l2 2.4l-0.6 -0.2l0.6 1l-2.3 -1.9l1 1.5l2.5 2.9l-1.7 -1.2l1.1 1.5l-2.2 -1.8l-0.9 -0.5l2.5 3l-3.3 -3l-1.5 -1.1l2.2 2.7l-1.1 -0.7l-0.1 0.3l1.1 1.5l-0.3 0.2l-0.1 0.3l-0.7 -0.3l0.1 0.5l-1.2 -0.8l-0.2 0.2l5.7 6.6l-4.3 -4.2l0.7 1.3l-1.4 -1.1l-0.3 0.1l0.3 0.8l0.1 0.5l-2.6 -2.4l-1.1 -0.8l0.8 1.4l0.3 0.7l-1.8 -1.5l2.5 3.3l1.6 2.2l-3.9 -4l0.9 1.5l-0.7 -0.3l-0.3 0l1.8 2.6l-3.4 -3.4l4.2 5.3l-5 -5.4l0.4 1l-2.4 -2.4l4.1 5.3l-3.2 -3.3l-0.8 -0.5l3.7 4.8l-2.4 -2.3l3.4 4.4l-4.2 -4.5l2.2 3.1l-0.5 -0.2l-1 -0.7l-1.8 -1.7l-0.1 0.3l4 5.4l-2 -2l1.1 1.9l-1.9 -1.8l0 0.4l-0.6 -0.3l-0.8 -0.5l-2.8 -3l4.6 6.3l-2.4 -2.5l-2 -2.1l5 6.8l-3.9 -4.4l-1.4 -1.3l-1.5 -1.6l1.1 1.9l-0.4 0.1l-1.9 -2l1.3 2.2l-0.8 -0.6l0.2 0.8l-0.9 -0.7l-0.9 -0.7l2.9 4.3l-1.6 -1.7l0.6 1.4l-2.5 -2.9l-1 -0.9l0.8 1.6l-1.1 -0.9l1.9 3l-1.2 -1.2l1.3 2.4l-5.1 -6.5l3.2 4.9l0.7 1.4l3.1 4.8l-2.2 -2.4l-3.9 -5.1l0.7 1.5l0.4 1.1l0.4 1.1l-0.7 -0.5l1.2 2.3l-4 -5.3l3 4.8l-0.9 -0.8l-2.2 -2.5l4.2 6.6l-2 -2.4l-3.3 -4.4l0.5 1.3l0.9 1.8l0.9 2l0 0.5M368.6 405.4l2.8 5.1l-3 -4.2l0.7 1.6l0.7 1.8l-1.9 -2.6l1.3 2.7l-2.5 -3.5l0.5 1.3l0.8 2l-4.2 -6.5l1.5 3l0.5 1.5l-1.1 -1.3l1.5 3l-0.7 -0.6l-2.4 -3.4l-0.9 -1.1l2 4.2l0.2 0.8l-1.3 -1.6l-0.8 -0.8l0.4 1.2l-3.2 -5.1l4 7.7l-1.2 -1.5l-0.2 0.3l0.1 0.8l-0.4 -0.2l-1.8 -2.7l-0.9 -1l1.3 2.9l1 2.5l-2.2 -3.5l-0.4 -0.1l2.7 5.5l0.7 2.1l-0.1 0.4l-1.9 -2.9l-1.5 -2.3l1.4 3.4l-2.5 -4.2l0.9 2.3l-2.9 -5l2.5 5.5l-3 -5.1l1 2.6l-1.2 -1.8l-1.4 -2.2l2.8 6.3l-1 -1.5l2 4.8l-3.4 -6.2l1.7 4.1l-1.9 -3.2l-0.1 0.4l1.6 3.9l-2.4 -4.2l0.5 1.7l1.2 3.1l0.2 1.1l-1.9 -3.3l-0.7 -0.8l0.4 1.5l-0.9 -1.2l0.3 1.3l1.3 3.3l-2.5 -4.6l0.3 1.4l-0.5 -0.3l-1.9 -3.4l-0.4 -0.3l-0.9 -1.4l0.7 2.3l1.8 4.8l-1 -1.7l-0.5 -0.4l0.5 1.9l-1.3 -2.2l-1.3 -2.2l0 0.5l1.6 4.4l0.9 2.9l-1.3 -2.4l2.9 7.5l-3.5 -7.4l1.3 3.9l-1.5 -2.8l-1.1 -1.9l1.8 5l-3 -6.4l1.4 4.2l-0.1 0.5l-1.2 -2.1l-0.1 0.5l1.2 3.7l-1.5 -2.9l0.4 1.7l-0.4 -0.1l-1.4 -2.7l-0.2 0.3l0.3 1.5l0.5 1.9l-0.8 -1.1l-0.4 -0.2l-0.1 0.6l-0.9 -1.5l0.7 2.6l0.1 1l-0.2 0.3l-1.9 -4.1l3.1 8.9l-3.2 -7.5l0.8 2.8l1.7 5.4l-1.6 -3.2l0.5 2.1l-1.1 -2.1l0.3 1.7l-2 -4.6l0.6 2.4l-0.4 -0.2l0.8 3.2l-0.2 0.2l-0.7 -0.9l-0.2 0.3l0.8 3.3l-2.4 -6.1l-0.9 -1.7l0.1 1.1l0.8 3.3l0.1 1.3l-1.3 -3l1.1 4.4l-1.2 -2.8l1.1 4.5l-1.1 -2.7l-0.5 -0.3l-0.3 -0.2l0.4 2.3l-0.7 -1l0.4 2l-1.9 -4.9l0.8 3.4l-0.2 0.6l-1.2 -2.9l-0.4 -0.2l0.1 1.4l0.3 2l-0.1 0.5l-2 -5.3l0 0.9l-1.1 -2.7l1.1 4.9l-0.6 -1.1l0.7 3.4l-1.9 -5.3l-0.4 -0.3l0.2 1.8l-0.9 -2.1l-1.2 -3.2l-0.1 0.5l0.5 2.9l-0.6 -1.1l1.1 5.1l-1 -2.4l-1 -2.6l-0.8 -2l1.6 7.4l-2 -6.4l0.3 2.2l-0.3 0.1l-1.7 -5.5l0.8 4.3l0.8 4.4l0.4 2.5l-1.1 -3.2l-0.6 -1l-2.2 -7.6l2.1 9.8l-0.2 0.5l-0.7 -1.6l-0.7 -1.7l0.1 1.4l-0.9 -2.2l0.4 3l-0.6 -1.4l-1.4 -4.8l0.9 5l-1.6 -5.5l-0.4 -0.4l1.2 6.4l0.1 1.8l-1.2 -4.1l0 1.5l-0.1 1.2l0 1.1l-1.4 -4.9l1 6.1l-1.5 -5.7l0.1 1.9l-0.5 -1.2l-0.4 -0.5l0.1 1.8l-0.8 -2.6l-0.3 0.5l0.1 1.8l-1.1 -3.9l-0.3 -0.5l0.5 4.2l0.2 2.5l-0.7 -2.2l-0.8 -2.6l0.4 3.8l-0.4 -0.7l-0.7 -1.8l0 1.2l0.4 4.1l-0.7 -2l0 1.2l0.1 2.4l-1.4 -6.5l-0.3 0.4l-0.4 -0.8l-1.2 -5.4l0.7 5.5l-0.8 -2.7l0.2 3.1l0.2 2.9l-0.4 -0.4l-0.6 -2l-0.3 -0.1l-0.3 -0.5l-0.2 0.6l-0.9 -3.8l0.7 6.5l-0.2 0.6l-0.1 1.8l0 1.7l-0.5 -1M299.9 429.9l-0.3 -0.1l-0.2 1.5l-0.9 -6.2l-0.2 1.3l-0.2 0.4l0 3.1l-0.4 -1.1l-0.5 -2.7l0.2 5l-0.5 -1.5l-0.2 0.3l-0.6 -2.8l-0.1 2.1l-0.3 -0.3l-0.2 0.8l-0.5 -2l0.2 5l-0.9 -6.9l0.2 5.6l-0.5 -2.6l-0.3 1.1l-0.9 -8.3l0.5 9.5l-0.4 -0.3l-0.4 -2.3l-0.5 -2.6l0 3.3l-0.4 -0.3l-0.3 -1.5l0 5.4l-0.5 -4.2l-0.3 1.1l-0.3 -0.3l-0.4 -2.4l-0.2 0.8l-0.1 3.3l-0.4 -2.1l-0.3 1.2l-0.3 -0.1l-0.1 3.2l-0.4 -2.5l-0.4 -3.1l-0.4 -0.9l-0.1 4.3l-0.3 -1.8l-0.3 1.8l-0.4 -3.9l-0.3 0l-0.2 0l-0.4 -1l-0.2 3.6l-0.2 2.9l-0.4 -5.6l-0.3 0.2l-0.2 0.8l-0.3 1.5l-0.3 -0.5l-0.2 2.9l-0.4 -1.8l-0.2 2.8l-0.4 -5.5l-0.2 1.9l-0.3 1.3l-0.3 2.1l-0.3 1.6l-0.3 -3.6l-0.3 -4.2l-0.2 -0.5l-0.3 -1.3l-0.4 6l-0.2 -1.4l-0.4 2.8l-0.2 0l-0.3 -2l-0.3 -1.5l-0.3 1l-0.3 2.8l-0.2 -6.9l-0.4 4.5l-0.3 2.4l-0.1 -6.7l-0.3 1.3l-0.4 2.8l-0.1 -4.7l-0.6 7.2l0 -7.5l-0.5 7.1l-0.3 -1.2l-0.2 -2.7l-0.6 7.7l-0.1 -3.3l-0.2 -2.8l-0.2 -1.3l-0.5 3l-0.2 -1.4l-0.1 -2.9l-0.5 2.9l0.1 -5.5l-0.7 5.8l0 -3.9l-0.5 2.6l0.1 -5.2l-0.5 3.5l-0.3 0.3l-0.4 1.3l-0.3 0.1l-0.4 1.3l-0.1 -2.7l-0.1 -1.8l-0.8 5.9l-0.4 1.7l-0.2 -1.3l-0.5 2.7l0 -4.4l-0.4 2.1l-0.2 -0.9l-0.6 3.2l0.1 -5l-0.3 0.3l-0.4 1.1l-0.1 -1.7l-0.3 -0.4l-0.5 2l0.2 -3.9l-1 6.4l-0.2 -1.2l-0.3 0.5l0 -3.1l-0.6 3.2l-0.3 -0.6l-0.3 0.3l-0.2 -0.8l-0.4 1.2l0.2 -4.2l-0.3 0l-0.6 2.4l-0.6 2.5l-0.3 -0.3l0 -2.2l-0.8 3.7l0.1 -3.2l-0.8 4.3l-0.1 -1.5l0.1 -3l-0.4 0.3l-0.1 -1.1l-0.6 2.2l-0.9 4.3l0.3 -4.7l0.1 -2.4l-0.6 1.6l0.5 -5.1l-1.2 6.2l0 -2l0 -1.7l-0.3 -0.3l0.2 -3.2l-0.3 0.6l-0.4 0.5l-0.8 3.1l-0.6 1.7l0.3 -3.3l-0.3 -0.3l-0.4 0.6l-0.1 -1.1l-0.5 1.3l0.2 -2.9l-1 4.1l-0.2 -0.9l0.3 -3.2l-0.3 0.2l-0.6 1.4l-0.2 -0.3l-0.5 1.4l-0.1 -1.4l-0.3 0.1l0.3 -2.8l-0.9 2.9l0.3 -3.1l-0.7 2.2l-0.5 0.7l0.9 -5.4l-1.4 5.1l-0.6 1.3l0.5 -3.4l-0.7 1.5l-0.3 0.4l-0.5 0.6l-0.3 0.1l0.1 -1.6l-0.8 2.2l0.5 -3.5l-1.5 5.3l1.1 -6.2l-1.1 3.7l0.3 -2.7l-0.8 2.1l-0.3 -0.1l0.9 -5.1l-0.6 1.6l-0.7 1.5l-0.3 -0.1l-0.9 2.4l0.1 -1.4l-0.2 -0.5l-0.7 1.7l-0.1 -0.7l0.1 -1.6l-0.3 -0.3l-0.2 -0.1l-0.3 -0.1l-0.9 2.4l-0.9 2.2l0.4 -2.6l0.1 -1.6l-1.5 4.4l1.6 -7.1l-1.7 5.2l-0.6 1.3l1.4 -6.4l-2 6.3l0.2 -1.9l0 -1.3l1.1 -4.8l-1.5 4.2l0 -1l-0.1 -0.7l-0.3 0l-2 5.9l0.8 -3.8l-0.4 0.2l0.3 -1.8l-0.4 0.1M229.4 420.4l-0.6 0.8l-0.3 -0.1l-0.3 0.1l-0.4 0.1l-0.9 1.9l0.5 -2.5l-2.1 5.3l2 -6.7l-1.9 4.5l0.7 -2.8l-0.5 0.5l-1.2 2.4l0.4 -2l-0.8 1.5l0.3 -1.8l-0.4 0.3l2.5 -7.9l-3.9 9.9l-0.2 -0.3l1.2 -4.1l-0.5 0.6l1.3 -4.2l-0.2 -0.5l-3.2 7.7l-1.5 3l2.1 -6.3l0.1 -1l0.3 -1.5l0.1 -1l-0.2 -0.3l-2.6 5.9l1.5 -4.8l-1.2 2.3l-1 1.8l0.8 -2.8l-0.9 1.4l1.4 -4.3l-1.4 2.6l-0.2 -0.2l-0.6 0.7l0.9 -3l-1.6 3.1l-0.1 -0.4l0.8 -2.6l-1 1.6l-1.3 2.2l-1.6 3.2l1.5 -4.5l1.2 -3.4l-1.9 3.7l0.2 -1.4l-1.1 2l1.8 -4.9l-1.6 3l0.4 -1.7l-0.7 0.8l-0.8 1.1l0.4 -1.6l-0.6 0.6l-0.7 0.8l0.1 -0.8l1 -3l-0.3 0l-1.3 2.1l-0.1 -0.4l-1 1.3l1.6 -3.9l-0.8 0.9l0.6 -1.9l-1.9 3.4l2.4 -5.7l-4.4 8.4l2.3 -5.5l-0.4 0.1l-0.5 0.5l-0.8 1l0.1 -0.8l-0.9 1.1l-1.3 1.9l1.8 -4.2l-1.5 2.2l1.3 -3.1l-2.3 4l-0.2 -0.4l-0.3 0l-0.3 -0.1l3.4 -7.3l-4 7.2l0.7 -1.9l-2.7 4.4l1.6 -3.7l0.4 -1.4l-2.9 4.9l2 -4.4l-0.2 -0.3l-1.2 1.8l-1 1.1l1.5 -3.3l-1.9 2.8l-0.5 0.4l-0.8 0.8l2 -4.3l-0.5 0.2l0.2 -0.8l-0.8 0.8l-0.4 0l-2.5 3.9l1.5 -3.3l1.6 -3.5l-3 4.8l1.2 -2.7l0 -0.6l-1.3 1.7l-0.3 -0.2l-0.3 -0.1l0 -0.5l1.7 -3.5l-1.7 2.4l1.4 -3.1l-3 4.6l-0.5 0.2l1.1 -2.5l0 -0.6l-0.6 0.6l1.4 -2.9l-4.7 7.2l1.2 -2.5l1.4 -3l0.6 -1.6l-3.2 4.8l3.6 -6.4l-2.9 4.1l-2.1 2.9l1.9 -3.7l0.4 -1.2l-0.5 0.3l-1.4 1.6l-0.3 -0.1l2.2 -4l-5 7.3l3.8 -6.6l-2.2 3l1.7 -3.2l-1.6 1.9l-1.3 1.5l2.4 -4.3l-1.9 2.5l-1.1 1.1l1.4 -2.7l-0.5 0.2l-2.2 2.8l1.4 -2.7l-0.1 -0.3l0.6 -1.5l-0.7 0.5l0.3 -0.9l1.1 -2.2l1.1 -2.2l-2.2 2.8l-1.3 1.3l-2 2.4l4.4 -6.9l-2 2.4l-0.5 0.3l-0.8 0.5l0.8 -1.5l-1.2 1.1l-2 2.3l1.6 -2.8l-2.7 3.4l2.1 -3.5l0.4 -1.1l2.9 -4.5l-1.6 1.7l-0.9 0.8l-2 2.3l5.4 -7.9l-5.1 6.4l0.5 -1.1l-1.7 1.9l2.9 -4.6l-2 2.3l2.6 -3.9l0.8 -1.6l-1.9 2.1l-0.9 0.7l-0.1 -0.3l-1.8 1.9l1.7 -2.8l-1.9 2.1l-0.5 0.1l-0.7 0.4l-1.6 1.6l2.3 -3.4l0.3 -0.9l-1.5 1.6l1.2 -2l0.2 -0.8l-2 2.1l-0.1 -0.3l-0.7 0.4l0.7 -1.4l-1.4 1.3l0.9 -1.6l-4 4.6M170 394.1l2.5 -3.3l-1.9 1.7l0.7 -1.2l-1.7 1.5l0.1 -0.6l3.4 -4.3l-4.2 4.4l3.7 -4.7l-5 5.2l0.5 -1l2.8 -3.6l0.6 -1.1l-1.7 1.5l1.1 -1.7l-0.1 -0.3l-0.8 0.5l-2.7 2.5l1.1 -1.7l0.4 -0.8l0.2 -0.6l-3.9 3.8l-0.9 0.4l4.4 -5.2l-1.1 0.8l-1.8 1.6l2.5 -3.2l-3.7 3.6l1.9 -2.5l-3.8 3.6l3.6 -4.2l-0.8 0.4l0.6 -1.1l1.1 -1.5l-2.6 2.3l-0.9 0.5l-0.3 -0.2l1.8 -2.2l-1.5 1.1l-1.1 0.7l3.4 -3.9l-0.5 0.1l-0.7 0.3l-2.1 1.7l1.7 -2.1l-1.6 1.2l-1.2 0.8l1.6 -2l0.4 -0.8l-2.4 2l1.2 -1.7l-4.2 3.8l4.4 -4.8l-1.1 0.7l-0.9 0.4l0.7 -1l2 -2.3l-4.4 3.8l-0.2 -0.3l0.1 -0.4l1.6 -1.9l-1 0.5l1.4 -1.7l-1.7 1.2l-2.1 1.5l2.3 -2.6l1.8 -2l-4.4 3.7l1.7 -1.9l2.8 -3.1l-2.6 2l1.8 -2l-3.4 2.7l-1.8 1.3l2.7 -2.8l0.9 -1.3l-3 2.3l0.8 -1.1l2.1 -2.2l-3 2.2l0.6 -0.9l-1.8 1.2l1.8 -2l-0.7 0.2l-1.2 0.7l0.1 -0.5l1.6 -1.7l-5.5 4.3l3.7 -3.5l-1.8 1.1l1.3 -1.5l-3.8 2.8l1 -1.1l0.2 -0.6l-0.7 0.2l-2.7 1.9l0 -0.4l1.9 -2l0.3 -0.7l-4 2.9l1 -1.2l-1.4 0.8l5.9 -5.2l-4.4 3.2l-0.6 0.1l-1.1 0.5l1.4 -1.6l0.8 -1l-1.1 0.6l-4.2 2.9l6.4 -5.5l-3.1 2.1l1.6 -1.7l-0.2 -0.2l-0.2 -0.2l1.1 -1.3l-3 2.1l3.1 -2.8l0.1 -0.5l0.8 -1l-2.5 1.6l4.1 -3.5l-4.3 2.8l3.3 -2.8l-4.1 2.7l2.4 -2.2l-3.5 2.3l4.7 -3.9l-2.9 1.8l2.3 -2l1.9 -1.8l-2.9 1.8l-0.7 0.1l0.1 -0.4l-1.4 0.6l-2.1 1.2l2.2 -1.9l1.8 -1.7l-3.4 2.1l-0.2 -0.2l0.3 -0.6l3.5 -2.8l-0.9 0.2l-0.1 -0.3l-3.7 2.3l-1.9 0.9l0.4 -0.6l-1.1 0.4l1.6 -1.5l-6.2 4l6.2 -4.7l1.8 -1.6l3.3 -2.5l-4.4 2.6l-1.6 0.7l0.7 -0.8l-1 0.3l0.3 -0.5l-0.9 0.2l1.8 -1.6l2 -1.6l0.5 -0.7l1.2 -1.2l-4 2.4l-4.1 2.3l3.4 -2.6l-1 0.3l2.2 -1.7l-0.8 0.1l-0.3 -0.2l-3.2 1.7l1.7 -1.4l-0.8 0.2l0.6 -0.7l2.5 -1.9l-1.4 0.5l-3.1 1.6l5.2 -3.6l-3 1.5l-1.7 0.7l-1.9 0.9l-3.8 1.9l5.1 -3.4l-2.1 0.9l1.1 -1l0.9 -0.9l1.4 -1.2l0.1 -0.4l-1.7 0.7l-0.2 -0.3l-1.5 0.6l1.8 -1.4l-2.9 1.4l-3.2 1.5l2.4 -1.8l3.3 -2.2l0.4 -0.6l-3.5 1.7l0.5 -0.6M129 344.3l6.3 -3.6l-6.1 2.8l2.2 -1.4l-3.5 1.5l1.7 -1.2l4.3 -2.6l-2.6 1l-1.2 0.3l-4.2 1.8l5.1 -2.9l-1.6 0.4l1.9 -1.2l-0.9 0.1l2.1 -1.4l-3.3 1.3l0 -0.3l-0.7 0l3.9 -2.2l1.4 -1l-5.3 2.2l2.5 -1.5l-1.3 0.3l-0.4 -0.1l0.5 -0.6l-1.2 0.2l3 -1.7l-4.3 1.7l3.9 -2.1l-1.3 0.3l-2 0.5l4.6 -2.4l-3 1.1l2.8 -1.6l0.4 -0.5l-3.3 1.1l4.9 -2.5l-5.2 2.1l1.1 -0.9l-0.8 0.1l1 -0.8l-2.3 0.7l-1.6 0.4l-0.3 -0.2l2.9 -1.6l0.5 -0.5l-2 0.5l3.9 -1.9l-0.8 0l0 -0.3l0.1 -0.4l4.2 -2l-11.6 4.5l1.8 -1.1l5.1 -2.4l-5.1 1.8l-0.6 -0.1l-1 0.1l0.7 -0.6l0.9 -0.7l-4.4 1.5l3.6 -1.8l-1.7 0.4l0.1 -0.4l-1.8 0.4l-0.5 -0.1l1.6 -1l-2.5 0.7l-2 0.4l0 -0.3l2.1 -1.1l-1.1 0.1l-2.3 0.5l4.2 -1.9l-6.8 2.2l3.2 -1.5l-1.7 0.3l4.5 -2l-0.7 0l-6.2 1.9l5.5 -2.3l-2.9 0.7l-2.3 0.5l3.8 -1.7l-1 0l2 -1l-1.5 0.2l-0.1 -0.3l0.7 -0.5l-2.7 0.6l1.4 -0.8l3.3 -1.5l4.1 -1.7l-10.1 3.1l4.2 -1.7l-1.1 0l1.5 -0.8l1.6 -0.8l-0.9 0l-0.1 -0.3l3.8 -1.5l-2.8 0.6l1.9 -1l-2.4 0.5l1.2 -0.7l-1.6 0.2l-0.2 -0.3l-3.5 0.8l4.6 -1.7l-1.2 0l4.7 -1.7l-1.8 0.2l-1 0l-1.9 0.3l1.1 -0.6l2 -1l-0.9 0l-4.7 1.1l3.1 -1.2l0.6 -0.5l0.8 -0.5l-0.8 -0.1l1.4 -0.7l-8 1.9l3.7 -1.3l-3.8 0.7l3 -1.1l-2.3 0.3l4.5 -1.5l-2.5 0.3l1.2 -0.6l-5.4 1.1l6.8 -2.1l0.5 -0.4l0.5 -0.4l-2.1 0.2l3.8 -1.3l-6.9 1.4l6.2 -1.8l-2.2 0.2l1.3 -0.6l0.9 -0.5l0.7 -0.5l-7 1.4l5.5 -1.6l1.7 -0.7l-2.9 0.4l-4.5 0.7l-0.1 -0.3l4.9 -1.4l0.7 -0.4l-0.2 -0.3l-0.2 -0.3l0.1 -0.3l0.7 -0.4l-3.2 0.4l3 -1l-0.9 -0.1l-1.5 0l4.6 -1.2l-0.9 -0.1l-0.3 -0.3l-4.7 0.7l5.5 -1.4l-1.9 0.1l-5.5 0.8l0.5 -0.4l-0.9 -0.1l7.3 -1.8l-5.4 0.8l-1.4 0l-2.3 0.1l6.4 -1.5l-2.9 0.2l9.1 -1.9l-8.7 1.3l1.2 -0.6l-1 -0.1l0.4 -0.4l-1.1 -0.1l5.5 -1.2l-5.5 0.6l-0.3 -0.2l0 -0.3l2.5 -0.7l-1.9 0l2.7 -0.7l-4.4 0.4l-3.4 0.2l8.1 -1.6l-0.3 -0.2l2 -0.6l0.9 -0.4l-5 0.4l4.1 -0.9l-6.7 0.7l6.3 -1.2l-3 0.2l3.3 -0.8M111.6 283.3l0.9 -0.3l-1 -0.2l0.4 -0.4l3.8 -0.7l1 -0.4l-2 -0.1l4.7 -0.7l-4 0.1l-1.6 -0.2l-0.7 -0.2l-0.9 -0.2l1.2 -0.4l2.9 -0.6l-2 -0.1l3.2 -0.6l-5.7 0.2l6.7 -0.8l-1.7 -0.2l-4.7 0.1l3.7 -0.6l5.1 -0.6l1 -0.4l-3.3 0l-4 0l5.3 -0.7l-5.1 0.1l-2.1 -0.2l9.6 -0.9l-0.3 -0.3l-1.2 -0.2l-5 0l5.3 -0.5l-1 -0.3l0 -0.3l-3.3 -0.1l1.8 -0.3l0.1 -0.3l4.2 -0.5l-0.1 -0.3l-5.5 0l-6.1 -0.1l2.4 -0.4l5.5 -0.5l-2.7 -0.1l-0.8 -0.3l-1.7 -0.2l2.1 -0.4l-3.6 -0.2l0.2 -0.3l4.3 -0.4l1.2 -0.3l-8.6 -0.1l3.3 -0.4l1 -0.3l1 -0.3l-2.2 -0.2l0.5 -0.3l7.4 -0.4l-4.6 -0.3l-3 -0.2l1 -0.3l7.2 -0.3l-2.9 -0.3l-7.1 -0.3l1.6 -0.3l-0.2 -0.3l8.1 -0.3l-1.3 -0.2l-7.7 -0.4l5 -0.2l-1.9 -0.3l-1.5 -0.4l3 -0.2l-2 -0.3l1.4 -0.3l-0.7 -0.3l-2.7 -0.3l1.7 -0.3l3.7 -0.2l-2.7 -0.4l-2.4 -0.3l0.6 -0.3l-5.2 -0.5l6 -0.1l-1.2 -0.3l0.2 -0.3l1.7 -0.2l-7.1 -0.6l5.1 -0.1l3.9 -0.1l-1.1 -0.3l-2.5 -0.4l5.2 -0.1l-5 -0.5l-0.7 -0.4l4.4 0l0 -0.3l-3.7 -0.5l2.1 -0.2l0 -0.3l0.2 -0.2l-0.4 -0.4l5.2 0.1l-2.1 -0.4l0.3 -0.3l-1.5 -0.4l-0.3 -0.3l4.8 0.1l-3.7 -0.6l-3.6 -0.6l0.1 -0.3l4 0.1l0.3 -0.3l-3 -0.5l3.5 0l-2.2 -0.5l2.3 -0.1l-4.3 -0.7l2 -0.1l1.1 -0.1l-3.1 -0.6l-0.6 -0.4l2.6 0l-1.1 -0.4l5.5 0.3l-4.3 -0.8l-1.7 -0.5l4.7 0.3l-2.8 -0.6l-0.8 -0.4l2.1 -0.1l-2.2 -0.5l0 -0.3l-0.4 -0.3l3.9 0.2l-5.4 -1l3 0.1l1.7 -0.1l0 -0.3l-3.7 -0.8l4 0.3l-5.6 -1.1l3.7 0.2l0.2 -0.2l-3.9 -0.9l5.5 0.5l2.1 0l-3.2 -0.7l-2.6 -0.7l0.7 -0.2l-3.3 -0.8l1.7 0l1 -0.2l-0.1 -0.3l1.4 -0.1l1 -0.1l1.2 -0.1l-3.4 -0.8l-0.7 -0.5l3.1 0.3l-2.2 -0.7l-2.8 -0.8l-2 -0.6l7 0.9l2.6 0.2l-2.8 -0.8l6.5 0.9l-2.7 -0.8l-5.9 -1.4l3 0.3l0 -0.3l1.2 -0.1l-0.1 -0.3l1.3 -0.1l0.2 -0.2l-2.7 -0.8l-1.2 -0.6l3 0.3l-6.1 -1.5l1.2 -0.1l-0.2 -0.3l1.6 0l1 -0.1l-1.2 -0.5M118 224.2l-1 -0.6l0.9 -0.1l6.2 1.3l-5.9 -1.8l0.9 -0.1l2.3 0.3l2.2 0.3l-4 -1.4l0.8 -0.1l-1.7 -0.7l-2.8 -1l1.6 0.1l-1.6 -0.8l6.2 1.4l-1.2 -0.6l0.5 -0.2l0.4 -0.2l3.6 0.7l-4.2 -1.4l-1.6 -0.8l2.1 0.3l-1.8 -0.8l4.4 0.9l0.1 -0.2l1 0l-4.3 -1.6l1.3 0.1l1.6 0.2l-2.2 -1l0.8 -0.1l-3.2 -1.3l3.6 0.8l-1.3 -0.7l-2 -0.9l3.4 0.8l-3.3 -1.4l2.6 0.5l-0.6 -0.5l0.1 -0.2l-3.2 -1.4l5.9 1.6l-2.2 -1l-3.5 -1.5l-1.5 -0.8l5 1.4l-3.7 -1.6l2 0.4l2.4 0.5l0.2 -0.3l-2.2 -1l-0.7 -0.6l-2.7 -1.2l2.5 0.5l-0.8 -0.6l3.3 0.9l-3.3 -1.5l1.3 0.1l2.7 0.7l-4.2 -1.8l0.7 -0.1l3.1 0.8l-3.6 -1.6l2.3 0.5l-3.5 -1.6l3.3 0.9l-0.3 -0.4l1.3 0.1l-0.9 -0.6l1.8 0.3l-2 -1l-0.3 -0.5l3.4 1l0.7 0l1.4 0.2l-3.3 -1.6l0 -0.3l-0.8 -0.7l-1.8 -1l4 1.3l-0.6 -0.6l1.7 0.4l-1.9 -1.1l0.3 -0.2l-1.8 -1.1l0.6 0l2.2 0.5l-1.3 -0.8l2.2 0.6l-1.8 -1.1l4.4 1.5l-4.2 -2.1l-0.3 -0.4l0.9 0l2.4 0.8l0.2 -0.3l-3 -1.6l5 1.8l-4.7 -2.3l0.7 0l-0.5 -0.6l5 1.9l-3.4 -1.8l0.2 -0.3l2.5 0.8l-0.1 -0.3l1.1 0.1l-0.5 -0.5l-1.3 -0.9l2.6 0.9l1 0.1l-2.8 -1.6l0.2 -0.2l-1 -0.9l3.5 1.4l-3.4 -2l3.3 1.3l-2.2 -1.4l-2.5 -1.5l4.3 1.8l-1 -0.9l-1.9 -1.2l2.4 0.8l-0.6 -0.6l3.8 1.6l-1.6 -1.2l-3.4 -2l2.6 1l-3 -1.8l4.5 1.9l-2.9 -1.8l-1.5 -1.1l1.2 0.3l0.2 -0.2l4.4 1.9l-1.4 -1.1l2.8 1.2l-0.9 -0.8l-1.2 -1l2.2 0.8l0.3 -0.1l-6.5 -3.8l-0.7 -0.7l5.7 2.7l-0.6 -0.7l0.8 0.2l0.5 -0.1l-3 -2l2.1 0.9l-4 -2.6l1.2 0.3l2.8 1.2l-1.5 -1.1l1.9 0.7l2.1 0.8l-6 -3.7l3.3 1.6l0.1 -0.3l0.6 -0.1l-0.4 -0.5l5.9 3l-2.6 -1.8l0.2 -0.2l-0.5 -0.6l-2.7 -1.9l3.5 1.7l-1.3 -1.1l-2.1 -1.6l0.8 0.1l1.5 0.6l0.6 0l2.5 1.1l-1.1 -0.9l-5.1 -3.5l1 0.3l1.1 0.3l3 1.5l-2.3 -1.8l4.3 2.4l1.4 0.5l-3.4 -2.5l0.7 0.1l-0.8 -0.8l-3.1 -2.3l0.6 0l5.3 3l2.6 1.3M148.4 174.8l-5.2 -3.9l1.8 0.8l1.6 0.8l3.1 1.8l-1.4 -1.3l0.6 0l-0.6 -0.7l0.1 -0.2l2 1l-2.6 -2.2l2 1.1l-1.5 -1.5l0.9 0.3l2.5 1.5l-5.3 -4.1l6.4 4.2l-2.9 -2.4l-0.7 -0.9l-1.3 -1.3l2.9 1.8l2.8 1.7l-1.5 -1.5l-2.8 -2.4l3.5 2.2l-2 -1.8l2.4 1.4l-0.3 -0.5l0.6 0.1l-2.2 -2l2.5 1.5l-1.9 -1.8l1.9 1.1l-0.1 -0.5l1.4 0.8l1.6 0.9l0.5 0l-4 -3.5l1.1 0.6l-2.6 -2.4l3 2l-1.1 -1.3l2.5 1.7l-2.7 -2.6l0 -0.3l1.5 0.8l-1.1 -1.3l0.5 0.1l1.3 0.6l4.7 3.5l-3.8 -3.4l2.1 1.4l-5.6 -5l2.7 1.8l-2.1 -2.1l3.5 2.5l0.4 0l-0.4 -0.7l2.3 1.6l1.5 0.9l-2.6 -2.6l-1 -1.2l-1.4 -1.6l-0.1 -0.4l1.4 0.8l0.1 -0.3l-0.2 -0.5l2.6 1.8l-1.1 -1.3l-0.1 -0.4l0 -0.4l3.8 2.9l-1 -1.2l-2.3 -2.5l0.1 -0.2l0.8 0.3l0.7 0.2l1 0.5l-2.5 -2.6l-0.4 -0.7l2.3 1.7l0.7 0.2l1.2 0.8l-3.7 -3.8l3.7 2.9l-0.8 -1l2.5 1.9l-2.9 -3.1l3 2.5l-1.5 -1.8l-2.8 -3.1l3.3 2.8l1 0.4l-4.9 -4.9l1.9 1.4l1.4 0.9l-3.4 -3.6l2.7 2.1l-0.5 -0.8l2.6 2.1l0.6 0.1l-2.7 -3l0.4 0l-2.3 -2.7l2.4 2l0.7 0.3l-1.4 -1.8l0.2 -0.2l0.7 0.3l-0.6 -1l-1.5 -2l2 1.6l4 3.7l-1.3 -1.7l-3.5 -4.1l5.9 5.6l0.8 0.4l-1.3 -1.7l-1.9 -2.3l0.7 0.2l1.7 1.4l-0.7 -1.1l0.4 0l-0.8 -1.3l-1 -1.5l-0.6 -1l5.9 5.8l-1.6 -2.1l1 0.6l-0.7 -1.2l2.1 1.9l-2.3 -2.9l1.2 0.9l-0.5 -1l0.3 0l-0.5 -1l-1 -1.5l0.3 -0.2l-2.1 -2.7l-0.9 -1.5l2.5 2.3l1.3 1l-2.4 -3.1l2.5 2.4l0.9 0.6l-1.4 -2l-0.8 -1.4l-1.3 -2l3.4 3.5l1.7 1.5l1.5 1.3l-3.4 -4.3l1.7 1.5l-2.7 -3.6l2.2 2.1l1 0.7l1.2 0.9l-1 -1.6l0.9 0.6l0.5 0.2l0.3 -0.1l0.1 -0.3l-1.4 -2.2l-0.1 -0.6l1.9 1.9l0.4 0l-2.4 -3.3l0.6 0.2l1.2 1.1l-0.9 -1.7l0.7 0.4l0.2 -0.2l1.9 1.9l0.6 0.2l-0.8 -1.4l-0.1 -0.6l1.8 1.9M184.2 135.3l1.4 1.4l-3.6 -5.3l6.4 8.1l-1 -1.8l-0.4 -1l1.6 1.7l1.4 1.4l-1.1 -2l1.6 1.8l-1.5 -2.6l-0.9 -1.7l3.1 3.8l-1.7 -2.8l0.3 0l-1 -1.9l0.1 -0.3l1.6 1.8l2 2.3l-2.8 -4.5l1.3 1.4l2.1 2.6l-2.5 -4.1l0.9 0.8l2.3 2.9l-1.8 -3.1l0.3 -0.1l-0.1 -0.7l-0.2 -0.7l0.2 -0.2l0.4 0.1l2.8 3.6l-5 -8l1.6 1.9l-1.8 -3.2l4.9 7l-4.2 -7l0.9 0.8l0.4 0.1l-1.5 -2.8l-0.7 -1.6l-1.4 -2.7l0.3 -0.1l0.7 0.6l1.9 2.4l-1.2 -2.5l2.4 3.3l-0.7 -1.7l0 -0.5l0.3 -0.2l0.4 0.1l-1.7 -3.2l0.1 -0.4l1.9 2.4l0.3 -0.1l-1 -2.1l1 1.1l-0.1 -0.8l0.9 1l0.9 0.9l-1.1 -2.5l-1.4 -2.9l2.4 3.5l1.3 1.6l-1.6 -3.4l0.7 0.8l0.5 0.2l-1 -2.4l1.4 1.9l0.7 0.6l-1.7 -3.5l0.7 0.6l0.1 -0.4l1.8 2.4l-1 -2.3l1 1.2l-3.1 -6.2l3.9 6.4l1.2 1.6l-0.8 -2.1l-3 -6l2.9 4.5l-0.3 -1.1l-1.2 -2.9l1.9 2.9l0.1 -0.5l0.5 0.3l-0.8 -2l-0.2 -1.2l2.1 3.3l-1.8 -4l1.3 1.9l1.5 2.1l-2.2 -4.8l2.3 3.8l0.9 1l-3.2 -6.8l3.3 5.8l-2.2 -5.1l1.5 2.3l-0.6 -1.8l1.5 2.2l0.4 0.2l0.7 0.7l-1.9 -4.5l2 3.3l-0.8 -2.2l1.5 2.4l0.2 -0.3l3.2 5.8l-2.2 -5.2l-1.3 -3.3l0.8 0.9l0.2 -0.4l1.4 2.3l1.2 1.9l-1.2 -3.3l-0.2 -1.1l-0.1 -1l0.8 1l1.5 2.5l0.3 0l0.4 0.2l-0.3 -1.4l-0.9 -2.7l1.2 1.9l-0.1 -1l0.9 1.4l1.6 2.7l-0.9 -2.6l0.1 -0.7l0.6 0.7l-0.5 -1.9l0.6 0.7l2.5 5l0.9 1.2l-3.1 -7.9l1.8 3.4l0.9 1.4l-0.5 -2l0 -0.6l1.8 3.4l-1.4 -4l1.1 1.8l-0.9 -2.9l2.4 4.9l-1 -3.2l0.2 -0.3l0.2 -0.2l-0.3 -1.6l1.3 2.5l-1.7 -5.2l1.7 3.5l-0.9 -3l0.3 -0.1l0.2 -0.3l1 1.6l-1.3 -4.1l1.4 2.8l-0.4 -1.9l1 1.7l-0.9 -3.3l0.4 0.2l0.2 -0.1M227.5 107.1l-0.5 -2.5l0.2 -0.3l0.3 0.1l-0.4 -2.4l0.7 1.3l0.9 1.7l-0.6 -2.5l1.2 2.6l-0.8 -3.3l1 1.9l0.9 2l0.6 0.8l1.2 3l-1.5 -5.8l0.2 -0.3l1.8 4.6l-1.4 -5.2l0.3 -0.3l0.4 0.5l1.4 3.6l0.2 -0.3l0.3 0.1l0.7 1.2l0.9 1.9l-0.3 -1.8l-0.3 -2.2l-0.5 -2.7l1.3 3.3l-0.7 -3.5l1.9 5.7l0.4 0.6l0.2 -0.4l-0.3 -2.2l0.7 1.5l-0.7 -3.7l-0.4 -2.4l1.5 4.1l-0.2 -1.8l0.9 2.4l0.6 1.3l1 2.3l0.1 -0.4l-1.1 -5.5l0.4 0.3l-0.4 -2.7l1.6 5.1l0 -1l0.6 1.3l0.3 0.1l-0.2 -2.4l-0.3 -2.3l1.7 5.9l-1.4 -7.1l0.7 1.9l1.1 3.4l-0.8 -5l1.6 5.8l-0.3 -2.8l0.2 -0.3l-0.2 -2l1.7 6.2l-1.4 -7.4l0.2 -0.6l1.6 5.8l-3 -15l2.7 10.8l0.6 1.5l0.4 0.8l-0.8 -5.4l1.3 5l0.8 2.2l0.2 -0.5l-0.5 -3.8l0 -1.4l-0.4 -3.5l1.8 7.6l-0.1 -2.2l-0.3 -2.7l1.4 5.8l0.1 -1.2l0.7 2l-0.2 -2.5l-0.2 -2.8l-0.1 -2l0.8 2.9l0.2 -0.3l0.2 -0.6l0.3 -0.3l0.6 1.8l0 -1.5l-0.2 -3l1.1 4.5l-0.4 -3.9l-0.1 -2.3l1.2 5.6l0.1 -1.4l0 -1.7l0.5 1.4l0.7 2.6l-0.3 -3.7l0.3 -0.1l0.2 -0.9l1 4.7l0.2 -0.2l0.5 1.3l0.3 0.3l-0.7 -6.9l0.7 2.7l0.7 2.4l-0.2 -3.4l0.6 2.2l-0.8 -7.5l0.8 3.4l0.6 2.2l-0.5 -6.4l0.5 2.2l-0.1 -3.8l0.9 5.1l-0.1 -3.4l0.6 2.5l-0.1 -3.1l0.6 2.2l0.4 1.4l0.7 3.5l-0.1 -4l0.2 -0.6l0.4 0.8l0.2 -0.6l0.3 0.1l0.2 -1.4l0.7 3.9l-0.4 -6.9l0.9 6l0.2 -1.2l0.5 3l0.2 -1.3l0.2 -1.6l0.6 4.3l0.4 0.9l-0.1 -4.7l0.3 0.2l0.2 -1.7l0.5 2.7l-0.1 -4.4l0.7 4.7l0.2 -1.1l0.1 -2.2l0.5 2.2l0.1 -2.8l0.2 -1.8l0.1 -2.9l0.9 9.4l0.1 -2l0.6 3.8l0.2 -0.2l0 -5.5l0.4 2l0.3 -1.1l0.4 2.4" fill="none" stroke="#3f62a8" stroke-width="0.55"/><path d="M295.2 50.2A214.5 214.5 0 0 1 463.5 151.5L460.1 153.6A210.5 210.5 0 0 0 295 54.2Z" fill="#e52c22" stroke="#231815" stroke-width="0.8"/><path d="M466.8 156.9A214.5 214.5 0 0 1 495 279.2L491 278.9A210.5 210.5 0 0 0 463.3 158.9Z" fill="#ee5a48" stroke="#231815" stroke-width="0.8"/><path d="M494.4 285.5A214.5 214.5 0 0 1 468.6 368.2L465.1 366.3A210.5 210.5 0 0 0 490.5 285.1Z" fill="#f06a74" stroke="#231815" stroke-width="0.8"/><path d="M464.5 375.3A214.5 214.5 0 0 1 400.3 442.4L398.1 439.1A210.5 210.5 0 0 0 461.1 373.2Z" fill="#f47a22" stroke="#231815" stroke-width="0.8"/><path d="M394 446.5A214.5 214.5 0 0 1 310.5 476.7L309.9 472.7A210.5 210.5 0 0 0 391.9 443.1Z" fill="#f2ea44" stroke="#231815" stroke-width="0.8"/><path d="M305.3 477.3A214.5 214.5 0 0 1 219 469.5L220.2 465.7A210.5 210.5 0 0 0 304.8 473.3Z" fill="#8ccb3e" stroke="#231815" stroke-width="0.8"/><path d="M213.6 467.9A214.5 214.5 0 0 1 146.3 431.1L148.8 428A210.5 210.5 0 0 0 214.9 464.1Z" fill="#74c043" stroke="#231815" stroke-width="0.8"/><path d="M141.7 427.3A214.5 214.5 0 0 1 94.7 370.5L98.2 368.5A210.5 210.5 0 0 0 144.3 424.3Z" fill="#5cb84a" stroke="#231815" stroke-width="0.8"/><path d="M91.3 364.2A214.5 214.5 0 0 1 68.6 294.1L72.5 293.5A210.5 210.5 0 0 0 94.8 362.4Z" fill="#3aa866" stroke="#231815" stroke-width="0.8"/><path d="M67.9 288.3A214.5 214.5 0 0 1 71.2 219.6L75.1 220.4A210.5 210.5 0 0 0 71.8 287.8Z" fill="#3eaee6" stroke="#231815" stroke-width="0.8"/><path d="M72.7 213A214.5 214.5 0 0 1 100.1 148.9L103.5 151.1A210.5 210.5 0 0 0 76.6 214Z" fill="#96dad6" stroke="#231815" stroke-width="0.8"/><path d="M103.2 144.3A214.5 214.5 0 0 1 148.1 95.9L150.5 99A210.5 210.5 0 0 0 106.5 146.5Z" fill="#7656c2" stroke="#231815" stroke-width="0.8"/><path d="M152.2 92.7A214.5 214.5 0 0 1 205.9 63.3L207.3 67A210.5 210.5 0 0 0 154.6 95.9Z" fill="#b676d6" stroke="#231815" stroke-width="0.8"/><path d="M211.9 61.1A214.5 214.5 0 0 1 270.1 50L270.4 54A210.5 210.5 0 0 0 213.2 64.9Z" fill="#f4a6be" stroke="#231815" stroke-width="0.8"/><path d="M295.2 50.2L295.5 46.6M303.5 50.9L303.7 48.9M311.8 51.9L312.1 49.9M320.1 53.3L320.4 51.3M328.2 55L328.7 53M336.3 57L337.3 53.5M344.4 59.3L344.9 57.4M352.3 61.9L352.9 60M360.1 64.8L360.8 63M367.8 68L368.6 66.2M375.4 71.6L377 68.3M382.8 75.4L383.7 73.6M390.1 79.5L391.1 77.8M397.2 83.9L398.2 82.2M404.1 88.5L405.2 86.9M410.8 93.5L413 90.6M417.4 98.6L418.7 97.1M423.7 104.1L425.1 102.6M429.8 109.7L431.2 108.3M435.7 115.7L437.2 114.3M441.4 121.8L444.1 119.4M446.8 128.1L448.4 126.9M452 134.7L453.6 133.5M456.9 141.4L458.5 140.3M461.5 148.4L463.2 147.3M466.8 156.9L469.9 155.1M470.7 164.2L472.5 163.2M474.4 171.5L476.2 170.7M477.9 179L479.7 178.2M481 186.6L482.8 185.9M483.8 194.4L487.2 193.2M486.3 202.2L488.3 201.6M488.6 210.1L490.5 209.6M490.5 218.1L492.4 217.7M492.1 226.2L494.1 225.9M493.4 234.3L497 233.8M494.4 242.5L496.4 242.3M495.1 250.7L497.1 250.6M495.4 259L497.4 258.9M495.5 267.2L497.5 267.2M495.2 275.4L498.8 275.6M494.4 285.5L498 285.9M493.5 293.7L495.4 294M492.2 301.8L494.1 302.2M490.6 309.9L492.5 310.3M488.7 317.9L490.6 318.4M486.5 325.8L489.9 326.9M483.9 333.7L485.8 334.3M481.1 341.4L483 342.1M478 349L479.8 349.8M474.6 356.5L476.4 357.4M470.9 363.9L474.1 365.6M464.5 375.3L467.6 377.2M460.1 382.3L461.7 383.4M455.4 389.1L457 390.2M450.5 395.7L452.1 396.9M445.3 402.1L446.8 403.4M439.9 408.3L442.6 410.7M434.3 414.3L435.7 415.7M428.4 420.1L429.8 421.5M422.3 425.6L423.6 427.1M416 430.9L417.2 432.5M409.5 436L411.6 438.8M402.8 440.8L403.9 442.4M394 446.5L395.9 449.6M387 450.7L387.9 452.4M379.7 454.6L380.6 456.4M372.3 458.3L373.2 460.1M364.8 461.6L365.6 463.5M357.2 464.7L358.4 468.1M349.4 467.5L350.1 469.4M341.6 470L342.1 471.9M333.6 472.1L334.1 474.1M325.6 474L326 476M317.5 475.6L318.1 479.1M305.3 477.3L305.7 480.9M297.2 478.1L297.4 480.1M289.2 478.5L289.2 480.5M281.1 478.7L281.1 480.7M273 478.6L272.9 480.5M264.9 478.1L264.6 481.7M256.9 477.3L256.6 479.3M248.9 476.3L248.6 478.3M240.9 474.9L240.5 476.9M233 473.3L232.5 475.2M225.1 471.3L224.2 474.8M213.6 467.9L212.5 471.3M205.9 465.1L205.2 467M198.2 462.1L197.5 463.9M190.7 458.8L189.8 460.6M183.3 455.2L182.4 456.9M176 451.3L174.3 454.4M168.9 447.1L167.9 448.8M162 442.7L160.9 444.3M155.2 438L154.1 439.6M148.6 433L147.4 434.6M141.7 427.3L139.4 430M135.5 421.8L134.2 423.3M129.6 416.1L128.2 417.6M123.9 410.2L122.4 411.6M118.4 404.1L116.9 405.4M113.1 397.7L110.3 400M108.1 391.2L106.5 392.4M103.4 384.5L101.7 385.6M98.9 377.6L97.2 378.6M94.7 370.5L92.9 371.5M91.3 364.2L88.1 365.9M87.6 356.9L85.8 357.7M84.1 349.4L82.3 350.2M81 341.8L79.2 342.5M78.2 334L76.3 334.7M75.7 326.2L72.2 327.2M73.4 318.3L71.5 318.8M71.5 310.3L69.6 310.7M69.9 302.2L67.9 302.5M68.6 294.1L66.6 294.3M67.9 288.3L64.3 288.7M67.1 280.1L65.1 280.2M66.6 271.9L64.6 271.9M66.5 263.6L64.5 263.6M66.7 255.4L64.7 255.3M67.2 247.2L63.6 246.9M68 239L66 238.8M69.1 230.8L67.1 230.5M70.5 222.7L68.6 222.3M72.7 213L69.2 212.2M74.8 205.1L72.9 204.5M77.2 197.2L75.3 196.6M80 189.4L78.1 188.7M83 181.8L81.1 181M86.3 174.2L83 172.7M89.9 166.8L88.1 165.9M93.8 159.6L92 158.6M97.9 152.4L96.2 151.4M103.2 144.3L100.2 142.2M107.9 137.5L106.3 136.3M112.9 131L111.3 129.7M118.1 124.6L116.6 123.3M123.6 118.5L122.1 117.1M129.3 112.5L126.8 110M135.3 106.8L133.9 105.3M141.4 101.3L140.1 99.8M147.8 96.1L146.5 94.5M152.2 92.7L150 89.8M158.9 87.9L157.8 86.2M165.7 83.3L164.7 81.6M172.8 79L171.8 77.3M180 75L179 73.2M187.3 71.2L185.7 68M194.8 67.8L194 66M202.4 64.6L201.7 62.8M211.9 61.1L210.7 57.7M219.7 58.6L219.1 56.7M227.7 56.4L227.2 54.5M235.7 54.5L235.2 52.6M243.8 53L243.4 51M251.9 51.7L251.4 48.1M260.1 50.7L259.9 48.7M268.3 50.1L268.2 48.1" stroke="#231815" stroke-width="0.7" fill="none"/><text x="296.3" y="33.7" text-anchor="middle" dominant-baseline="central" transform="rotate(-86.2 296.3 34.2)" class="tl">0</text><text x="340.5" y="41" text-anchor="middle" dominant-baseline="central" transform="rotate(-75 340.5 41.5)" class="tl">10</text><text x="382.4" y="56.7" text-anchor="middle" dominant-baseline="central" transform="rotate(-63.9 382.4 57.2)" class="tl">20</text><text x="420.5" y="80.2" text-anchor="middle" dominant-baseline="central" transform="rotate(-52.8 420.5 80.7)" class="tl">30</text><text x="453.4" y="110.7" text-anchor="middle" dominant-baseline="central" transform="rotate(-41.6 453.4 111.2)" class="tl">40</text><text x="480.6" y="148.4" text-anchor="middle" dominant-baseline="central" transform="rotate(-30 480.6 148.9)" class="tl">0</text><text x="498.9" y="188.7" text-anchor="middle" dominant-baseline="central" transform="rotate(-19 498.9 189.2)" class="tl">10</text><text x="509.3" y="231.6" text-anchor="middle" dominant-baseline="central" transform="rotate(-8 509.3 232.1)" class="tl">20</text><text x="511.2" y="275.8" text-anchor="middle" dominant-baseline="central" transform="rotate(3 511.2 276.3)" class="tl">30</text><text x="510.4" y="286.6" text-anchor="middle" dominant-baseline="central" transform="rotate(5.7 510.4 287.1)" class="tl">0</text><text x="501.8" y="329.9" text-anchor="middle" dominant-baseline="central" transform="rotate(16.7 501.8 330.4)" class="tl">10</text><text x="485.1" y="370.8" text-anchor="middle" dominant-baseline="central" transform="rotate(27.7 485.1 371.3)" class="tl">20</text><text x="478.2" y="383.1" text-anchor="middle" dominant-baseline="central" transform="rotate(31.2 478.2 383.6)" class="tl">0</text><text x="451.8" y="418.5" text-anchor="middle" dominant-baseline="central" transform="rotate(42.2 451.8 419)" class="tl">10</text><text x="419.1" y="448.3" text-anchor="middle" dominant-baseline="central" transform="rotate(53.2 419.1 448.8)" class="tl">20</text><text x="402.5" y="459.6" text-anchor="middle" dominant-baseline="central" transform="rotate(58.2 402.5 460.1)" class="tl">0</text><text x="362.9" y="479.2" text-anchor="middle" dominant-baseline="central" transform="rotate(69.2 362.9 479.7)" class="tl">10</text><text x="320.2" y="490.8" text-anchor="middle" dominant-baseline="central" transform="rotate(80.2 320.2 491.3)" class="tl">20</text><text x="307.1" y="492.7" text-anchor="middle" dominant-baseline="central" transform="rotate(83.5 307.1 493.2)" class="tl">0</text><text x="263.7" y="492.5" text-anchor="middle" dominant-baseline="central" transform="rotate(-85.7 263.7 494.1)" class="tl">10</text><text x="221" y="485.1" text-anchor="middle" dominant-baseline="central" transform="rotate(-74.9 221 486.7)" class="tl">20</text><text x="208.6" y="481.4" text-anchor="middle" dominant-baseline="central" transform="rotate(-71.7 208.6 483)" class="tl">0</text><text x="168.2" y="463.6" text-anchor="middle" dominant-baseline="central" transform="rotate(-60.7 168.2 465.2)" class="tl">10</text><text x="131.3" y="437.9" text-anchor="middle" dominant-baseline="central" transform="rotate(-49.5 131.3 439.5)" class="tl">0</text><text x="100.6" y="406.1" text-anchor="middle" dominant-baseline="central" transform="rotate(-38.5 100.6 407.7)" class="tl">10</text><text x="77.1" y="370.1" text-anchor="middle" dominant-baseline="central" transform="rotate(-27.8 77.1 371.7)" class="tl">0</text><text x="60.3" y="329.2" text-anchor="middle" dominant-baseline="central" transform="rotate(-16.8 60.3 330.8)" class="tl">10</text><text x="52" y="288.5" text-anchor="middle" dominant-baseline="central" transform="rotate(-6.4 52 290.1)" class="tl">0</text><text x="51.2" y="244.3" text-anchor="middle" dominant-baseline="central" transform="rotate(4.6 51.2 245.9)" class="tl">10</text><text x="57.2" y="207.6" text-anchor="middle" dominant-baseline="central" transform="rotate(13.8 57.2 209.2)" class="tl">0</text><text x="71.8" y="165.9" text-anchor="middle" dominant-baseline="central" transform="rotate(24.8 71.8 167.5)" class="tl">10</text><text x="89.9" y="133.7" text-anchor="middle" dominant-baseline="central" transform="rotate(34 89.9 135.3)" class="tl">0</text><text x="118" y="99.6" text-anchor="middle" dominant-baseline="central" transform="rotate(45 118 101.2)" class="tl">10</text><text x="142.6" y="78.3" text-anchor="middle" dominant-baseline="central" transform="rotate(53.1 142.6 79.9)" class="tl">0</text><text x="180.3" y="55.3" text-anchor="middle" dominant-baseline="central" transform="rotate(64.1 180.3 56.9)" class="tl">10</text><text x="206.7" y="44.4" text-anchor="middle" dominant-baseline="central" transform="rotate(71.2 206.7 46)" class="tl">0</text><text x="249.7" y="34.2" text-anchor="middle" dominant-baseline="central" transform="rotate(82.2 249.7 35.8)" class="tl">10</text><text x="417.7" y="47.2" text-anchor="middle" dominant-baseline="central" transform="rotate(32.2 417.7 47.2)" class="cn">Chr1</text><text x="528.7" y="207.9" text-anchor="middle" dominant-baseline="central" transform="rotate(77.2 528.7 207.9)" class="cn">Chr2</text><text x="522.7" y="337.2" text-anchor="middle" dominant-baseline="central" transform="rotate(-73.2 522.7 337.2)" class="cn">Chr3</text><text x="473.3" y="433.2" text-anchor="middle" dominant-baseline="central" transform="rotate(-48.7 473.3 433.2)" class="cn">Chr4</text><text x="377.3" y="500.3" text-anchor="middle" dominant-baseline="central" transform="rotate(-22.2 377.3 500.3)" class="cn">Chr5</text><text x="259.6" y="519.3" text-anchor="middle" dominant-baseline="central" transform="rotate(4.8 259.6 519.3)" class="cn">Chr6</text><text x="164.3" y="486.4" text-anchor="middle" dominant-baseline="central" transform="rotate(27.7 164.3 486.4)" class="cn">Chr7</text><text x="82.5" y="424.3" text-anchor="middle" dominant-baseline="central" transform="rotate(51.1 82.5 424.3)" class="cn">Chr8</text><text x="36.9" y="336.1" text-anchor="middle" dominant-baseline="central" transform="rotate(73.6 36.9 336.1)" class="cn">Chr9</text><text x="25.9" y="249" text-anchor="middle" dominant-baseline="central" transform="rotate(93.4 25.9 249)" class="cn">Chr10</text><text x="48" y="161.9" text-anchor="middle" dominant-baseline="central" transform="rotate(-66.3 48 161.9)" class="cn">Chr11</text><text x="92.9" y="94.2" text-anchor="middle" dominant-baseline="central" transform="rotate(-47.9 92.9 94.2)" class="cn">Chr12</text><text x="155.8" y="43.8" text-anchor="middle" dominant-baseline="central" transform="rotate(-29.6 155.8 43.8)" class="cn">Chr13</text><text x="228" y="18.9" text-anchor="middle" dominant-baseline="central" transform="rotate(-12.2 228 18.9)" class="cn">Chr14</text><text x="281.7" y="49.5" text-anchor="middle" dominant-baseline="central" class="tk">a</text><text x="281.7" y="69.5" text-anchor="middle" dominant-baseline="central" class="tk">b</text><text x="281.7" y="93.8" text-anchor="middle" dominant-baseline="central" class="tk">c</text><text x="281.7" y="121.5" text-anchor="middle" dominant-baseline="central" class="tk">d</text><text x="281.7" y="151" text-anchor="middle" dominant-baseline="central" class="tk">e</text><text x="281.7" y="175.3" text-anchor="middle" dominant-baseline="central" class="tk">f</text><text x="281.7" y="204" text-anchor="middle" dominant-baseline="central" class="tk">g</text><path d="M286.9 188.9Q281 264.2 326.4 203.9M297.3 190.5Q281 264.2 339.2 216.1M298.7 190.8Q281 264.2 325 202.8M302.6 191.9Q281 264.2 335.5 212M305.8 192.9Q281 264.2 340.6 217.9M295 190Q281 264.2 337.6 214.2M293.6 189.8Q281 264.2 334.1 210.5M304.9 192.6Q281 264.2 337 213.6M289.4 189.2Q281 264.2 344 222.6M295.6 190.1Q281 264.2 327 204.3M304.8 192.6Q281 264.2 331.7 208.2M298.5 190.8Q281 264.2 326.2 203.7M294.3 189.9Q281 264.2 326.1 203.6M306.6 193.2Q281 264.2 326.8 204.2" fill="none" stroke="#bdb5b5" stroke-width="0.37" stroke-opacity="0.72"/><path d="M352.7 240.5Q281 264.2 346.1 302.5M355.8 253.9Q281 264.2 341.7 309.1M356.5 265Q281 264.2 350.4 293.9M350.2 233.9Q281 264.2 348.6 297.8M356.1 256.2Q281 264.2 345.3 303.8M354.2 245.7Q281 264.2 351.7 290.7M346.4 226.6Q281 264.2 351.8 290.5M351.3 236.7Q281 264.2 345.4 303.6M355 249.3Q281 264.2 341.7 309M355.5 252.2Q281 264.2 352.2 289.3M352.2 239.1Q281 264.2 352 290M353.9 244.7Q281 264.2 354.2 282.8M348.1 229.7Q281 264.2 348.4 298.3M356.4 259.7Q281 264.2 354.2 282.7M355.9 254.5Q281 264.2 340.2 311M355.3 250.7Q281 264.2 342.1 308.6" fill="none" stroke="#f2a090" stroke-width="0.37" stroke-opacity="0.72"/><path d="M341.6 309.2Q281 264.2 279.4 339.7M333.5 318.4Q281 264.2 289 339.3M325.7 325Q281 264.2 279.8 339.7M326.7 324.3Q281 264.2 294.6 338.5M321.5 327.9Q281 264.2 283 339.7M337.3 314.5Q281 264.2 296.7 338.1M340.1 311.2Q281 264.2 293.8 338.6M331.9 320Q281 264.2 289.9 339.2M334.7 317.2Q281 264.2 280.5 339.7M342.2 308.5Q281 264.2 294.7 338.5M323.1 326.8Q281 264.2 278.1 339.6M317 330.5Q281 264.2 274 339.4M313 332.6Q281 264.2 290.3 339.1M330.9 320.9Q281 264.2 290.9 339M324.9 325.6Q281 264.2 295.2 338.4M324.8 325.7Q281 264.2 278.2 339.6M336.6 315.3Q281 264.2 287.6 339.4M329.8 321.8Q281 264.2 291.4 339M324.2 326.1Q281 264.2 281 339.7M320.7 328.4Q281 264.2 276.4 339.6" fill="none" stroke="#ea4a28" stroke-width="0.43" stroke-opacity="0.72"/><path d="M354.6 280.9Q281 264.2 343.1 307.1M348.3 298.4Q281 264.2 335.2 316.8M346.8 301.2Q281 264.2 331.5 320.3M345.3 303.7Q281 264.2 342.5 308.1M353.2 286.3Q281 264.2 336.9 314.9M349.6 295.8Q281 264.2 340 311.3" fill="none" stroke="#eee070" stroke-width="0.37" stroke-opacity="0.72"/><path d="M271 339Q281 264.2 239 327M280 339.7Q281 264.2 235.2 324.2M274.1 339.4Q281 264.2 246.4 331.3M295.8 338.2Q281 264.2 239.3 327.2M302.8 336.5Q281 264.2 258.7 336.3M272.6 339.2Q281 264.2 233.1 322.6M291.8 338.9Q281 264.2 241.2 328.4M300.1 337.3Q281 264.2 236.9 325.5M293.1 338.7Q281 264.2 237.1 325.7M303.8 336.2Q281 264.2 253.8 334.6M272.6 339.2Q281 264.2 240.5 327.9M277.4 339.6Q281 264.2 248.2 332.2M278.2 339.6Q281 264.2 261.3 337.1M280.4 339.7Q281 264.2 256.7 335.7M278.1 339.6Q281 264.2 246.5 331.4M300.6 337.1Q281 264.2 237.9 326.2M295.7 338.3Q281 264.2 243 329.4M295.8 338.2Q281 264.2 231.3 321M289 339.3Q281 264.2 257.1 335.8M293.9 338.6Q281 264.2 248.1 332.1M278.7 339.7Q281 264.2 261 337M285.5 339.6Q281 264.2 230.7 320.5M283.9 339.6Q281 264.2 232.6 322.1M291.8 338.9Q281 264.2 251.7 333.8M276.9 339.6Q281 264.2 231.7 321.4M301.9 336.7Q281 264.2 232.2 321.8M273.3 339.3Q281 264.2 236.8 325.4M287.1 339.5Q281 264.2 253.6 334.5M274.8 339.4Q281 264.2 245.4 330.8M273.8 339.4Q281 264.2 235.5 324.5M296.9 338Q281 264.2 232.9 322.4M281.8 339.7Q281 264.2 243.1 329.5M278 339.6Q281 264.2 252.6 334.1M301.5 336.9Q281 264.2 263.3 337.6M300.3 337.2Q281 264.2 254.1 334.7M284.7 339.6Q281 264.2 239.7 327.4" fill="none" stroke="#6aaee6" stroke-width="0.43" stroke-opacity="0.72"/><path d="M271.4 339.1Q281 264.2 248.9 332.5M264.3 337.8Q281 264.2 230.8 320.6M268.4 338.6Q281 264.2 237.8 326.1M265.7 338.1Q281 264.2 233.1 322.6M263.1 337.5Q281 264.2 242 328.8M264.8 337.9Q281 264.2 242 328.8M279.6 339.7Q281 264.2 231.8 321.5M273.7 339.3Q281 264.2 231.7 321.4M279.6 339.7Q281 264.2 244.6 330.3M259.3 336.5Q281 264.2 249.9 333" fill="none" stroke="#8a60c8" stroke-width="0.43" stroke-opacity="0.72"/><path d="M311.4 333.3Q281 264.2 279.5 339.7M291.8 338.9Q281 264.2 267.6 338.5M308.5 334.5Q281 264.2 282.1 339.7M302.9 336.5Q281 264.2 255.2 335.2M316.9 330.6Q281 264.2 261.9 337.2M310 333.9Q281 264.2 259.6 336.6M310.7 333.6Q281 264.2 257.8 336.1M299.1 337.5Q281 264.2 259.4 336.5M309.3 334.2Q281 264.2 258.6 336.3M314.3 332Q281 264.2 255.7 335.3M208.8 286.4Q281 264.2 246.3 331.3M206.7 277.8Q281 264.2 254 334.7M206.1 273.8Q281 264.2 239 327M209.6 288.7Q281 264.2 250 333M205.9 271.7Q281 264.2 241.7 328.6M209.6 288.8Q281 264.2 244.6 330.4" fill="none" stroke="#ea5030" stroke-width="0.37" stroke-opacity="0.72"/><path d="M228.4 318.4Q281 264.2 205.9 271.5M230.3 320.1Q281 264.2 206 272.7M226.1 316Q281 264.2 208.3 284.4M223.2 312.7Q281 264.2 206 273.2M220.6 309.5Q281 264.2 206.8 278.4M223.7 313.3Q281 264.2 206.7 277.8M223.2 312.7Q281 264.2 207.5 281.5M224.6 314.4Q281 264.2 207.3 280.6M222.6 312Q281 264.2 208.5 285.3M229.8 319.7Q281 264.2 208.8 286.2M219.8 308.4Q281 264.2 206.6 277.3M222.3 311.7Q281 264.2 206 272.7M267.3 190Q281 264.2 241.4 199.9M261.5 191.3Q281 264.2 230.7 207.9M262.6 191Q281 264.2 233.6 205.4M267.9 189.8Q281 264.2 233.9 205.2M266.7 190.1Q281 264.2 239.5 201.1M259.8 191.8Q281 264.2 238.4 201.9M265.8 190.2Q281 264.2 233 205.9M267.9 189.8Q281 264.2 237.8 202.3M260.4 191.6Q281 264.2 230.8 207.8M265.5 190.3Q281 264.2 241.5 199.8M269.2 189.6Q281 264.2 241.9 199.6M263.6 190.7Q281 264.2 240.1 200.7" fill="none" stroke="#f08a3c" stroke-width="0.43" stroke-opacity="0.72"/><path d="M235.2 204.2Q281 264.2 223.1 215.7M238.5 201.8Q281 264.2 223.6 215.2M237.6 202.4Q281 264.2 213.5 230.3M238 202.1Q281 264.2 215.8 226.1M230.7 207.9Q281 264.2 213.3 230.7M235 204.3Q281 264.2 212.6 232.2M238.1 202.1Q281 264.2 213.4 230.5M239.9 200.9Q281 264.2 222.9 216M230.6 208Q281 264.2 213.6 230.2M231.5 207.2Q281 264.2 222 217.1M248.4 196.1Q281 264.2 212.8 231.8M252.3 194.4Q281 264.2 222.1 217M243.4 198.7Q281 264.2 221.6 217.6M235.9 203.6Q281 264.2 213.2 231.1M246.2 197.2Q281 264.2 223.9 214.8M232.5 206.4Q281 264.2 219.3 220.7" fill="none" stroke="#5a90c8" stroke-width="0.37" stroke-opacity="0.72"/><path d="M220.3 219.3Q281 264.2 205.9 256.8M220.5 219Q281 264.2 207 249M229.9 208.6Q281 264.2 206.1 254.6M223.1 215.8Q281 264.2 206.3 253.3M216.2 225.5Q281 264.2 205.5 261.5M220.4 219.2Q281 264.2 205.6 260.8M218.5 221.9Q281 264.2 209.1 241.2M215.7 226.3Q281 264.2 209.1 241.2" fill="none" stroke="#9a7ad6" stroke-width="0.37" stroke-opacity="0.72"/><path d="M210.4 237.5Q281 264.2 205.7 259M212.4 232.8Q281 264.2 207.3 280.8M215.6 226.5Q281 264.2 205.5 265.5M212.2 233Q281 264.2 207.9 283.2M208.2 244.1Q281 264.2 206.4 275.7M212.7 232Q281 264.2 207.1 279.5M215.2 227.2Q281 264.2 205.5 264M210.4 237.4Q281 264.2 207.4 281.2M209.8 239Q281 264.2 206.8 278.1M214 229.3Q281 264.2 205.8 270.4M215.6 226.5Q281 264.2 205.8 258M209.6 239.7Q281 264.2 206.9 278.7M209.3 240.5Q281 264.2 205.5 263.3M214.7 228.1Q281 264.2 205.9 272.4" fill="none" stroke="#eee48a" stroke-width="0.37" stroke-opacity="0.72"/><path d="M205.5 261.5Q281 264.2 214.8 300.5M206.9 249.7Q281 264.2 215.1 301M205.9 272.1Q281 264.2 209.5 288.5M205.8 270.7Q281 264.2 214.4 299.8M205.5 262.9Q281 264.2 212.2 295.3M205.5 264.6Q281 264.2 216.6 303.7M205.5 266.4Q281 264.2 214 299M206.1 254.8Q281 264.2 217.2 304.5M206.4 252.5Q281 264.2 208.2 284.3M205.7 270.1Q281 264.2 219.1 307.5M205.8 271.1Q281 264.2 214.4 299.7M207 249.1Q281 264.2 215.4 301.5M205.6 267.5Q281 264.2 215.3 301.4M205.8 257.8Q281 264.2 217.4 304.9M205.5 263.2Q281 264.2 211.5 293.7M206.1 273.5Q281 264.2 218.4 306.4" fill="none" stroke="#5cc2ae" stroke-width="0.37" stroke-opacity="0.72"/><path d="M205.9 272Q281 264.2 240.2 327.7M205.9 272.1Q281 264.2 245.9 331.1M206.2 274.1Q281 264.2 254.7 335M205.6 259.6Q281 264.2 249.8 333M207 279.2Q281 264.2 244.5 330.3M207.5 281.3Q281 264.2 252.2 334M205.7 259.4Q281 264.2 255.8 335.4M206.3 275.3Q281 264.2 255 335.1" fill="none" stroke="#6aaee6" stroke-width="0.37" stroke-opacity="0.72"/><path d="M1015.8 68.8l0.6 -1.4l0.1 5.9l0.4 -0.6l0.6 -1.2l0.4 0l0.3 1.6l0.5 -1l0.5 -0.3l0.3 2.5l0.7 -4l0.5 -0.5l0.3 2.3l0.5 -1.4l0.7 -2.8l0.2 3.2l0.4 -0.3l0.1 4.2l0.8 -3.8l0.3 1.3l0.6 -1.1l0.5 -1l0.9 -4.2l0.1 3.4l0.4 0.2l0.4 0.9l0.2 2l0.1 2.8l1.1 -5.4l0.5 -0.3l0 3l1.2 -5.6l-0.3 5.8l0.7 -2l0.5 -0.1l0 2.8l0.9 -2.6l0.3 0.7l0.3 1.2l0.7 -2.1l0.3 1.5l0.6 -1.1l0.3 0.5l0.3 1.2l0.2 1.6l0.8 -1.9l-0.4 4.9l1.1 -4.1l0.5 -0.1l-0.2 3.8l1.3 -4.8l0.7 -1.5l0.6 -0.9l0.2 1.3l0.1 1.9l0.7 -1.4l0.1 1.9l0.3 0.7l1.4 -4.8l0.1 1.9l0.5 -0.2l0.5 -0.2l0.4 0.4l-0.1 2.5l0.6 -0.7l0.3 1.1l0.7 -1.3l0.5 -0.1l0.1 1.7l0.2 1l0.1 1.6l0.5 -0.4l0.8 -1.6l1.1 -2.9l-0.5 4.5l0.6 -0.6l0.9 -2.2l0.1 1.6l1 -2.3l0.8 -1.2l-0.4 3.3l0.7 -1l-0.3 3.2l1.1 -2.6l-0.2 2.5l1.1 -2.5l0.4 0.3l0.1 1.4l0.8 -1.2l2.5 -8l-1.2 6.5l0.3 0.5l-1 5.3l1.6 -4.2l1.3 -2.9l0 1.9l0.4 0.1l0.3 0.7l0.5 -0.2l1.2 -2.5l0.1 1.3l-0.1 1.9l0.1 1.1l-0.1 1.8l1.5 -3.2l0.5 -0.2l0.9 -1.4l-0.2 2.1l1.3 -2.5l0 1.5l-0.8 3.9l1.9 -4.5l-0.2 2.3l1.4 -3.1l0.3 0.7l-0.8 4l2.1 -5.1l0.9 -1.3l-0.7 3.7l0.5 -0.1l1.2 -2l0.5 -0.2l1.1 -1.8l-0.9 4l0.2 0.9l1 -1.5l0.6 -0.3l-1 4l0.7 -0.6l1.7 -3.3l-0.7 3.2l1 -1.4l-0.3 2.3l0.6 -0.5l0.2 0.9l0.9 -1.1l-0.9 3.6l1 -1.4l1.6 -2.9l-0.6 2.7l1 -1.1l-0.1 1.5l0.4 0.1l0.3 0.5l-0.4 2.3l1.9 -3.5l0 1l0.3 0.7l-0.2 1.5l1.5 -2.5l-0.7 2.9l2.1 -3.8l0.3 0.4l0.4 0.4l-1 3.3l1.3 -1.7l0 0.9l1 -1.1l-0.5 2.2l0.3 0.6l1.6 -2.6l1.1 -1.2l-1 3.2l0 1.2l2.2 -3.8l-0.8 2.8l0.3 0.5l1 -1l-0.3 1.5l0.8 -0.6l1.4 -1.8l0.3 0.4l-0.1 1.3l0 1l-0.1 1.2l0.6 -0.1l1.3 -1.7l0.2 0.7l0.5 0l-0.5 2l1.2 -1.4l0.2 0.7l-0.9 2.7l1.8 -2.5l-1.1 3l0.4 0.3l0.6 -0.2l0.8 -0.5l-0.1 1l2.4 -3.6l-0.7 2.4l0.2 0.5l0.5 0.2l0.8 -0.6l0.6 -0.2l-0.1 1.2l0.2 0.5l1.1 -1l-0.4 1.6l-0.3 1.5l0.2 0.5l2 -2.6l0.3 0.4l-0.1 1l1 -0.7l-1.5 3.4l1.8 -2.2l-1.1 2.8l0.8 -0.5l-0.9 2.5l1.7 -2l-1.7 3.6l3.2 -4.4l-0.5 1.6l-0.6 1.9l1.6 -1.7l0.3 0.3l0.4 0.3l-1.3 2.9l1.8 -2.1l-0.7 2l1.9 -2.3l-0.5 1.7l-0.1 1l-0.4 1.4l-0.3 1.3l0.4 0.2l0 0.9l2.4 -3.1l0.8 -0.4l-0.9 2.3l1.2 -1.1l-0.9 2.1l1.3 -1.1l-0.6 1.8l1.5 -1.6l0.6 -0.1l-1.1 2.5l-2.5 4.5l3 -3.6l3.8 -4.9l-3.2 5.5l1.2 -0.9l0.5 0l0.7 -0.2l-1.1 2.2l-1.6 3.1l3.9 -4.8l-2.9 4.8l2.3 -2.4l1.3 -1.1l0.7 -0.2l1.4 -1.2l-0.6 1.6l0.2 0.4l2.3 -2.3l-1.7 3.1l0.1 0.6l0.1 0.5l-1.6 2.9l2.7 -2.9l1.5 -1.2l0.2 0.5l0.5 0l1.4 -1l-0.9 1.9l0.5 0l2.2 -2.1l-2.1 3.5l1.3 -0.9l3.5 -3.8l-1.4 2.5l0.2 0.4l-0.3 1.1l-0.3 1.1l1.4 -1l3.3 -3.4l-5 6.9l2.1 -1.9l-0.4 1.2l2.9 -2.7l-1 1.9l-1.7 2.7l3.9 -4l-2.8 4.1l1.6 -1.3l2.2 -1.8l-0.1 0.8l1.8 -1.4l-0.8 1.6l-0.6 1.4l1 -0.5l-1.1 1.9l-0.1 0.8l1.2 -0.7l1.9 -1.4l-1.8 2.7l1.3 -0.9l-1.3 2.2l1.6 -1.1l1.3 -0.7l1 -0.5l-2.9 3.8l4.6 -4.3l-0.8 1.5l2.2 -1.6l-2.3 3l0.9 -0.2l0.6 0.1l-0.3 0.8l1.1 -0.5l0.3 0.4l-1.7 2.5l3.5 -3l-3.2 4l2.1 -1.6l3 -2.4l-2.1 2.8l0.7 0l-0.7 1.3l-1.3 1.9l1.8 -1.2l0.8 -0.1l-0.9 1.6l1 -0.5l0.6 0.1l-0.2 0.9l1.5 -0.9l0.2 0.4l0.9 -0.2l-1 1.6l2.2 -1.5l-0.1 0.7l1.2 -0.5l-0.5 1.1l-0.9 1.5l1 -0.4l0.3 0.4l-1 1.6l-0.6 1.1l0.9 -0.2l-0.6 1.2l0.1 0.5l0.6 0l0.1 0.5l2.9 -1.9l-1.1 1.5l0.8 -0.1l-1.5 2l-0.8 1.3l1.7 -1l0 0.7l0.9 -0.2l-1.5 1.9l3.8 -2.8l-2.1 2.4l2.1 -1.2l2 -1l-4.3 4.2l2.5 -1.6l-1.5 1.9l0.7 0l2.7 -1.7l-2.8 2.9l0 0.6l-0.8 1.2l3.2 -2l-2 2.2l-0.8 1.2l4.5 -3.1l-4.3 4l6.2 -4.3l-3 2.9l-1.5 1.8l0.5 0.1l2.4 -1.3l-1.6 1.8l-1.6 1.8l2.2 -1.1l0.6 0.1l-1.3 1.5l0.9 -0.1l1.1 -0.3l-0.1 0.6l-0.2 0.7l4.8 -3l-1 1.3l2 -0.9l-1.5 1.6l-1 1.3l-0.2 0.7l4.1 -2.4l-1.8 1.9l2.5 -1.3l0.7 0.1l-1.3 1.5l0.8 0l3.6 -2l-3.1 2.7l-0.6 1l0.7 0.1l-0.1 0.6l1.2 -0.3l-2.9 2.5l2.4 -1.1l-2.1 2l0.2 0.4l2.9 -1.4l-0.7 1l-0.9 1.1l0.8 0.1l1.8 -0.7l-2.5 2.2l1.9 -0.8l-2.4 2.2l1.5 -0.5l0.3 0.3l1.9 -0.6l-2.4 2l0.2 0.4l1.7 -0.5l0.7 0.1l-0.2 0.6l1.6 -0.5l-4.5 3.3l2 -0.7l0.1 0.5l2.9 -1.3l0.1 0.5l0.4 0.3l-1.4 1.4l1.8 -0.6l1 -0.1M1175.6 171.1l1.8 -0.5l0.6 0.3l-0.4 0.6l-0.6 0.9l1.7 -0.4l1.6 -0.3l-3.7 2.4l3.2 -1.2l-1.1 1.1l1.2 -0.1l1.8 -0.4l-0.8 0.9l0.1 0.4l0.6 0.2l0.4 0.3l0.8 0.2l-2.8 1.9l1.9 -0.5l-1.9 1.5l2.5 -0.8l-1.5 1.3l3.5 -1.2l0 0.5l0.5 0.2l-2.3 1.6l-0.9 1l2.3 -0.6l-2.5 1.6l2.8 -0.8l-1.8 1.4l0.7 0.1l1.1 0l0 0.5l-1.1 1l-1.8 1.3l4.1 -1.4l-0.5 0.8l1.6 -0.3l-2.6 1.7l4.2 -1.4l-2.4 1.6l-0.1 0.5l0.1 0.5l1.2 -0.1l-3 1.8l1.7 -0.2l-0.6 0.7l-0.3 0.6l4.6 -1.4l-2.9 1.6l2.2 -0.4l-1.7 1.2l0.3 0.4l1.6 -0.2l-0.5 0.7l0.7 0.2l-0.1 0.5l1.2 0l0.9 0.2l0.8 0.2l-1.6 1.1l0.5 0.3l0.2 0.4l1.1 0l-0.6 0.7l-1.3 1l-0.1 0.5l2.8 -0.5l-1.5 1l1.4 0l-1 0.8l-2.3 1.3l1.7 -0.1l-0.9 0.8l2.7 -0.5l-0.6 0.7l0.9 0.2l-0.7 0.7l1 0.1l-1.4 1l-1 0.8l1.2 0.1l1.7 -0.1l-2.8 1.3l1.6 0l-0.5 0.6l2.5 -0.3l2.5 -0.3l-4.3 1.8l2.4 -0.3l-1.4 1l-1.6 0.9l1.9 -0.1l1.8 -0.1l-0.1 0.5l-1.1 0.9l2.3 -0.3l0.2 0.5l-2.2 1.1l0.3 0.3l-1.3 0.9l-0.2 0.5l0.6 0.3l-0.1 0.5l-1.2 0.8l2.8 -0.3l-0.8 0.7l-1.8 0.9l-0.5 0.6l1.9 0l-2.1 1l1.5 0l0 0.5l-1.7 0.9l1.8 0l1.7 0l-2.1 1l2.6 -0.2l0.3 0.4l-0.5 0.6l2.1 0l-1.6 0.8l-0.7 0.6l0.1 0.5l1.6 0.1l-3 1.1l0.6 0.3l3 -0.2l-1.6 0.8l-2 0.9l-0.7 0.6l1.3 0.2l1.9 0l0.2 0.5l0.4 0.3l0.8 0.3l-0.3 0.6l-0.7 0.5l1.8 0.2l0.2 0.4l-1.8 0.8l1.8 0.1l-0.4 0.5l-0.3 0.5l-1.1 0.7l-2.8 0.9l0.2 0.5l-0.3 0.4l4.6 -0.3l0.9 0.3l-1.3 0.7l2.1 0.1l-1.4 0.7l-2.1 0.8l0.6 0.3l-0.8 0.6l-0.7 0.6l-0.2 0.4l2.4 0.1l-0.6 0.6l2 0.1l-1.6 0.7l-2.2 0.8l2.4 0.1l0.3 0.4l1 0.3l-4.4 1l0.8 0.4l-0.5 0.5l2.1 0.2l-5.7 1.1l3.5 0l1.7 0.3l3.8 0l-5.2 1l0.6 0.4l1 0.3l-1.8 0.6l0.1 0.5l-3.3 0.7l4.6 0l-1.9 0.7l2 0.2l-0.2 0.5l-1.3 0.5l0.2 0.5l1 0.3l0.7 0.4l-1 0.5l4.8 0.1l-1.1 0.5l-3.2 0.7l2.4 0.3l-0.7 0.5l-2.3 0.6l1.9 0.3l0.1 0.4l0.9 0.4l-1.4 0.5l0 0.5l0 0.4l0.2 0.5l-1.7 0.5l1.6 0.3l0.3 0.5l3.6 0.3l0 0.4l-1.5 0.5l-1.8 0.5l3.9 0.4l-2.1 0.5l0.8 0.4l-2.5 0.5l0.1 0.5l2 0.4l1.6 0.4l-1.1 0.5l-0.8 0.4l-0.4 0.5l-1 0.4l2.7 0.5l-2 0.4l2.9 0.5l0.4 0.4l2.9 0.5l-3.5 0.4l1.3 0.5l2.6 0.5l0.9 0.4l-5.1 0.4l0.1 0.5l2.3 0.5l0.4 0.4l-2 0.4l-1.4 0.5l3.5 0.5l-2.5 0.4l-1.5 0.4l-2 0.4l0.2 0.4l-1.7 0.4l3.1 0.6l-1.8 0.3l1.8 0.6l-1.7 0.3l-0.3 0.4l-0.3 0.5l1 0.5l-0.4 0.4l2.8 0.6l-2.1 0.3l0.1 0.5l-0.2 0.4l3.9 0.8M1201.8 286.4l-3.5 0.1l2.2 0.7l-0.9 0.4l1.4 0.6l3.9 0.9l-4.5 -0.1l1.3 0.6l-0.8 0.4l1.3 0.6l-3.6 0l3.6 0.9l-2 0.2l-1.3 0.3l-0.3 0.4l-1.6 0.2l0.2 0.5l2.6 0.8l-3.5 -0.1l2.3 0.8l0.9 0.6l-2 0.2l1.8 0.7l-1.7 0.2l0.7 0.5l-1.1 0.3l-0.5 0.4l1.4 0.7l-2.8 -0.1l4.4 1.2l-4.9 -0.4l1.9 0.8l0.9 0.6l-0.9 0.3l-2.1 0.1l2.2 0.9l-3.5 -0.3l2.9 1l-1 0.3l0.8 0.6l-2.8 -0.1l0 0.5l1.8 0.8l0.1 0.4l0.2 0.5l-1.3 0.2l1.2 0.7l-3.9 -0.4l3.4 1.2l-2.4 -0.1l3.8 1.3l-2.1 0l0.9 0.7l0 0.4l0 0.5l-2.2 -0.1l2 1l0.6 0.6l2 0.9l-3.9 -0.5l2.8 1.2l0.4 0.5l0.4 0.6l-2.3 -0.1l1.9 0.9l-1.3 0.2l-0.9 0.2l0.1 0.5l-0.8 0.2l1.3 0.8l3 1.3l-5.3 -1l0 0.5l-0.8 0.2l-1 0.2l4.4 1.7l-7 -1.5l4.9 1.8l0.7 0.7l-0.4 0.4l-3.2 -0.5l2.5 1.2l0.3 0.5l-0.5 0.3l2.7 1.4l-1 0.1l1.8 1.1l-0.3 0.3l-6.7 -1.6l3.7 1.6l4.2 1.9l-0.8 0.2l-1.2 0.1l-3 -0.5l-0.7 0.2l0.9 0.8l-1.6 -0.1l1.9 1.1l2.1 1.2l1.1 0.9l-2 -0.2l-3 -0.6l3.4 1.7l0.3 0.6l-1.1 0l-2.2 -0.3l2.9 1.6l-4.3 -1.1l-1.2 0.1l1.7 1l1.7 1.2l-1.3 -0.1l0.7 0.8l5.1 2.4l-7.9 -2.5l1.1 0.9l-1.2 0l-0.2 0.4l0.7 0.8l1.1 0.9l-3.5 -0.9l1.1 0.9l-0.4 0.3l-0.5 0.3l-1.2 0l0.3 0.6l0.1 0.5l1.3 1.1l-2.1 -0.4l3.1 1.8l-1.8 -0.3l-0.5 0.3l-1.3 -0.1l-2.6 -0.6l5.4 2.8l-3 -0.8l2.2 1.4l-4.6 -1.5l2.9 1.8l-3.1 -0.9l2 1.3l3.7 2.2l-1.8 -0.3l1.5 1.2l-1.6 -0.3l1.3 1.2l-2.1 -0.5l1.8 1.3l-1.2 0l-0.5 0.2l1.9 1.5l-1 0l-1.2 -0.1l0.6 0.8l-0.1 0.5l-1 0l-2.2 -0.6l-0.3 0.4l2.1 1.5l-3.1 -1.1l2.4 1.8l1.1 1.1l-2.9 -1l1.1 1.1l0.6 0.8l-0.1 0.5l-2.8 -1l-0.7 0.1l0.6 0.9l1.7 1.4l0.9 1l-3.8 -1.5l1 1l-0.4 0.3l0.7 0.9l-2.8 -1l1.5 1.3l-2.3 -0.7l2.7 2l-0.1 0.5l-2.7 -1l1.4 1.3l-2.4 -0.9l1 1.1l1.4 1.4l1.4 1.3l-2.3 -0.9l-0.2 0.5M1171.7 371.3l-1.1 -0.2l1.7 1.6l-1.4 -0.3l-1.4 -0.4l-1.5 -0.4l1.3 1.3l-0.3 0.4l-3.3 -1.7l1 1.2l2.4 2.2l-0.8 0l-0.9 -0.1l0.4 0.8l-2.7 -1.3l2.7 2.4l-1.8 -0.7l-1.7 -0.6l1.5 1.5l-1 -0.1l-1.3 -0.4l0.9 1.2l1.1 1.3l-4.2 -2.4l-2 -0.9l2.2 2.1l0.9 1.2l-2.5 -1.3l-0.8 0l3.1 2.8l-0.7 0l-4.6 -2.9l3 2.8l1.8 1.9l-2 -0.9l-0.2 0.4l2.5 2.4l-2.9 -1.7l-0.3 0.4l-0.1 0.5l-0.4 0.2l0.6 1l-1 -0.2l-0.8 0l-0.8 -0.1l-0.6 0.1l0.5 0.9l0.7 1.2l-0.5 0.1l0.6 1l1 1.4l-3.4 -2.2l1.3 1.7l1 1.4l-7.3 -5.4l4.2 4l1.8 2l0.2 0.7l0 0.7l-1.4 -0.6l-0.8 -0.1l1.6 1.9l-1 -0.3l-0.7 0l-1.4 -0.6l0.7 1.2l0.8 1.3l-0.9 -0.2l0.8 1.3l1.6 2l1.4 1.9l-2.3 -1.5l1.3 1.8l-2.7 -1.8l-0.3 0.3l-0.7 0l-2.9 -2l1.4 1.8l-1.6 -0.8l0.8 1.3l0.1 0.8l-1 -0.3l1.7 2.1l-2.3 -1.5l-0.5 0.1l1.6 2.1l-1.5 -0.7l0.4 1l-1.1 -0.4l1.2 1.7l-1.1 -0.4l0.3 0.9l-2.5 -1.9l1.1 1.8l0.6 1.2l-7.3 -6.6l6.9 7.5l-1.1 -0.5l-1.1 -0.5l0.4 1.1l-0.9 -0.3l1.7 2.4l-1.6 -1l-0.1 0.6l-1 -0.5l1.4 2.2l-2 -1.5l-0.1 0.6l0 0.6l-3.3 -2.8l2 2.8l-1.7 -1.1l1 1.7l0.7 1.3l0.1 0.9l-0.2 0.4l0.1 0.8l-1.2 -0.6l-0.9 -0.4l-2 -1.5l4.3 5.4l-5.3 -5.2l0.3 1l-0.8 -0.2l-0.4 0.3l3 4l-2.4 -2.1l-0.7 -0.1l-1.9 -1.5l1.2 2l0.8 1.7l-2.5 -2.2l-0.8 -0.3l1.2 2.1l0.2 1l-0.9 -0.4l-0.4 0.2l-0.6 0l1.5 2.5l-0.3 0.3l-1 -0.5l0.3 1.1l-0.4 0.3l-4.1 -4.4l-0.2 0.5l1.4 2.4l-0.7 -0.1l-1 -0.6l1.9 3.2l-2.2 -2.1l0.8 1.7l-2.4 -2.4l0.6 1.6l2.1 3.4l-2.8 -2.9l-1.3 -0.9l-0.3 0.3l-0.1 0.5l0.5 1.5l-0.5 0l-0.6 0l1 2l-1.4 -1l-0.3 0.3l0.2 1l0.7 1.7l-1.8 -1.6l-0.7 -0.3l1 2.2l0.8 1.8l-0.6 0l0.1 0.9l-4 -4.8l1.3 2.5l0.8 2l-1.8 -1.8l-0.5 0l-1.1 -0.7l0.8 1.9l1.6 3.1l-1.6 -1.5l-0.4 0.1l-0.9 -0.5l0.4 1.5l-1.3 -1.1l0.2 1.1M1109.9 433.9l-0.9 -0.6l-0.2 0.4l0.5 1.7l0.8 2.2l-3.5 -4.8l0.6 1.8l-1.3 -1.3l-0.3 0.4l-0.5 0l0.7 2.1l-0.4 0.2l-1 -0.8l0.6 1.9l-0.3 0.4l-1.7 -2.1l-0.1 0.8l0.8 2.3l-3.4 -5l1.1 2.7l0.5 1.8l-1.2 -1.1l-0.1 0.7l-0.5 0l-1.3 -1.4l-0.1 0.8l-0.1 0.6l-0.3 0.4l-0.5 0.1l0.1 1.2l0.7 2.1l-2.4 -3.5l-1.9 -2.7l1.5 3.9l1.4 3.6l-0.5 0l-0.2 0.7l0.1 1.2l-0.2 0.5l-0.4 0.3l-1.2 -1.4l-0.1 0.7l-0.3 0.5l-1 -1l-1.6 -2.2l0.3 1.7l1 3.1l-1.7 -2.5l1 3.1l-0.6 -0.2l-0.5 0l-0.7 -0.3l-0.7 -0.6l0.2 1.6l-2 -3.2l0.5 2.1l-1.2 -1.4l-0.6 -0.3l0.1 1.3l-0.9 -0.9l-0.9 -0.9l-0.8 -0.7l-0.3 0.4l-0.3 0.4l0.6 2.6l-2.1 -3.8l0.3 1.9l-1.2 -1.6l1.6 4.9l-2 -3.6l0.7 2.7l0.7 2.9l-2 -3.8l-1.2 -1.6l-0.2 0.7l-1.7 -3l0.8 3.2l-0.6 -0.5l0.2 1.8l-0.1 0.9l-0.7 -0.4l-0.3 0.4l-0.8 -0.8l1.8 6l-2.1 -4.3l-2.6 -5.6l2.6 8.2l-1.9 -3.9l-0.2 0.9l-0.3 0.4l0.5 2.7l-0.4 0.1l-1.1 -1.6l-0.8 -1l-1.4 -2.5l-1.1 -1.8l-0.5 -0.1l0.6 3.1l-0.6 -0.5l-1.4 -2.6l0.4 2.5l0.8 3.5l-1.2 -2l-0.3 0.5l-0.8 -1.3l0.1 1.8l-0.5 0l-0.9 -1.3l0.5 2.9l-0.2 0.8l-1.7 -3.9l0 1.5l1 4.7l-1 -1.5l0.6 3.2l-0.8 -0.9l-1.2 -2.6l0 1.7l-0.4 0.2l0.2 2.2l-2.3 -6.1l1.5 6.7l-1.6 -3.9l-0.5 -0.1l0.5 3.4l-1.1 -2.3l-0.6 -0.3l-0.4 0.2l-0.3 0.5l-0.7 -0.9l-0.6 -0.7l-0.3 0.8l-1.1 -2.4l0 1.9l-0.1 1.3l0.7 4.3l-1.4 -3.6l-0.8 -1.4l0.5 3.8l-0.8 -1.1l-0.2 1.2l-0.1 1.3l-0.6 -0.6l-0.6 -0.4l-0.8 -1.4l0.1 2.3l-0.4 0.1l-1.4 -4.2l0.5 4.7l-0.3 0.7l-1 -2.7l0.3 3.4l-1.1 -2.8l-0.5 -0.4l-1.3 -3.6l-0.6 -0.6l-0.1 1.2l-0.4 0.4l-0.6 -0.5l-0.3 0.4l-0.4 0.6l0.1 2.6l-0.5 0.1l-0.5 -0.3l0.1 2.6l-1.5 -5.2l-0.2 1.2l0 2.5l-1 -3.2l-0.2 1.7l0 2.6l-0.7 -1.7l-0.6 -0.7l-0.3 0.7l-0.7 -1.2l0.3 4.5l-0.6 -1l-0.3 1l-0.6 -1l-0.1 2.7M1028.8 460.1l-0.3 1.8l-0.7 -2l-0.3 0.8l0 3.7l-0.3 2.1l-0.7 -2l-0.7 -2.9l-0.4 0.8l-0.3 1l-0.6 -0.9l-0.5 -0.6l-0.8 -3.2l-0.3 1.5l-0.2 2.2l-0.5 -0.2l-0.6 -1.3l-0.6 -2.3l-0.4 1l-0.4 -0.5l-0.4 1.3l-0.4 0.9l-0.4 -0.4l-0.6 -0.9l-0.3 1.2l-0.6 -2l-0.4 0.1l-0.4 1.9l-0.4 0.9l-0.6 -3.1l-0.2 4.9l-0.6 -3.9l-0.4 0.4l-0.3 2.9l-0.7 -3.9l-0.3 1.7l-0.5 -1.4l-0.4 2.4l-0.5 -2.2l-0.5 -0.4l-0.4 1.7l-0.5 -3.9l-0.4 3.8l-0.5 -2.8l-0.4 2.4l-0.4 -0.7l-0.5 -1.4l-0.4 -0.5l-0.5 -1.1l-0.4 0.9l-0.5 -0.7l-0.4 -0.5l-0.4 0.7l-0.5 -0.4l-0.4 3.1l-0.5 -0.8l-0.4 -0.1l-0.4 -0.2l-0.5 0.4l-0.4 0.4l-0.5 1.7l-0.4 -3.1l-0.5 2.3l-0.3 -4.2l-0.6 4.2l-0.3 -2.6l-0.5 0.4l-0.6 4.2l-0.3 -4l-0.4 0.3l-0.5 -0.1l-0.4 0l-0.5 1.8l-0.4 -1.7l-0.3 -3.2l-0.5 1.7l-0.6 2.4l-0.4 -1.1l-0.8 6.4l0 -6.9l-0.6 2.3l-0.4 -0.6l-0.5 1.3l-0.2 -3.6l-0.7 2.8l-0.3 -1.3l-0.8 4l-0.2 -2.7l-0.5 0.1l-0.5 0.4l-0.5 0.9l-0.4 -0.9l-0.4 0l-0.3 -1.6l-0.5 0.2l-0.8 4l-0.4 -0.1l-0.3 -1.7l-0.4 -0.8l-0.4 -0.2l-0.4 -0.5l-1.3 7.5l0.2 -6.3l-0.4 0.1l-0.5 0.3l-0.5 0.2l-0.5 0.2l-0.4 -0.2l-0.5 0.3l-0.4 -0.5l-0.2 -1.6l-0.4 -0.7l-0.8 2.6l-0.3 -1.2l-0.5 0.6l-0.1 -2.7l-0.5 0.6l-0.9 2.6l-0.5 0.4l-0.3 -0.7l-0.7 1.4l-0.1 -2.2l-1.3 5.2l0.1 -3.5l-0.5 0.4l-0.4 -0.8l0.1 -2.9l-1.2 4.2l0.1 -3.3l-0.2 -1.8l-0.5 0.7l-0.8 1.8l-0.1 -2.2l-0.7 1.4l0.4 -4.4l-0.7 1.4l-0.3 -0.8l-0.8 1.4l-0.5 0.4l-0.3 -0.9l-0.9 2.2l0 -2.2l-0.8 2.1l0.3 -4l-1.1 3l0.8 -5.7l-1.6 5.1l-0.3 -0.5l-0.8 1.5l0.3 -3.3l-0.9 1.9l0.1 -2.4l-1.3 3.6l-0.8 1.5l0.1 -2.7l-1.3 3.6l0.6 -4.5l-1.2 3.4l-0.2 -1.2l-1.2 2.9l0.1 -2.2l-0.5 0.2l1 -6l-1.1 2.4l-1.3 3.4l0.2 -2.8l-0.4 0.1l-1.3 3.1l0 -1.9l-0.9 1.5l0.6 -3.7l-0.6 0.4l-0.8 1.1l-0.5 0l0.5 -3.2l-0.6 0.3l-1.3 3.2l-0.5 -0.1l-0.8 1l-0.5 0.2l-0.8 1.1l0.6 -3.8l-0.1 -1.2l-1.4 3.2l0.5 -3.3l-0.7 0.7l0.3 -2.2l-0.8 1l-0.6 0.4l-0.3 -0.7l-0.8 1.2l-0.4 -0.4l0 -1.6l0.6 -3l-2.2 5.1l-0.1 -1.2l-0.3 -0.5l-0.3 -0.4l-1 1.5l1 -4.5l-0.1 -1l-1.6 3.3l0.1 -1.5l0.1 -1.7l-0.7 0.6l-0.9 1.3l1 -4.2l-1.2 2.1l0 -1.3l-1.9 3.8l0.6 -2.9l-0.9 1l-0.3 -0.2l0.2 -1.9l-1.1 1.6l-0.6 0.4l1.1 -4.2M928.9 447.7l-0.8 0.9l0.1 -1.5l-0.8 0.7l-0.7 0.7l2.1 -6.2l-2.9 5.6l0.5 -2.2l-1 1.1l-0.5 0l-0.6 0.4l-1 1.1l-0.4 -0.2l0.8 -2.9l-1.9 3l-0.1 -0.9l0.6 -2.4l-1.7 2.6l0 -0.9l1 -3.3l-0.6 0.1l1.1 -3.3l-4 7.3l0.8 -2.8l-0.2 -0.6l1.7 -4.5l-1.7 2.5l-0.8 0.6l-0.3 -0.4l-0.3 -0.4l-1.2 1.4l-0.9 0.7l1.5 -3.9l-1.4 1.9l-0.1 -1l-2 3.1l2.2 -5.4l-1.5 1.9l0.6 -2.1l-1.6 2.1l-1 0.9l0.3 -1.5l0.2 -1.4l-0.8 0.6l-0.4 -0.1l-1.5 1.8l1 -2.9l-3.1 4.8l-0.2 -0.5l1.6 -4l-0.8 0.5l0 -0.8l0.3 -1.4l-1.7 2l0.5 -1.8l-0.2 -0.5l-1.3 1.4l-0.9 0.6l2.1 -4.6l-3.2 4.7l0.6 -2l-1.9 2.4l0.2 -1.3l-1.1 0.9l-0.1 -0.6l1.6 -3.6l-1.3 1.3l0.2 -1.2l-1.2 1l-1.5 1.7l0.6 -1.9l0.3 -1.4l-1.6 1.7l1.6 -3.3l-1.7 1.8l0.6 -1.8l-1.4 1.3l-0.1 -0.6l0.6 -1.8l-1.2 1.1l-1.6 1.6l0.3 -1.3l-1.7 1.7l2 -3.8l-1.1 0.8l-0.4 -0.3l-0.4 -0.2l1.1 -2.4l0.1 -0.9l-1.6 1.6l0.9 -2.2l-0.4 -0.2l-0.8 0.4l-0.3 -0.4l-0.8 0.4l1.2 -2.5l-0.2 -0.4l0.2 -1.1l-3.3 3.9l1.6 -3.1l-1.5 1.4l1.8 -3.3l-0.2 -0.5l-1.6 1.5l-1.7 1.6l0.4 -1.3l0 -0.8l1.1 -2.3l-0.7 0.3l-0.7 0.2l-2 1.9l-0.1 -0.6l-0.6 0.1l0.9 -2l-1.1 0.8l0.4 -1.3l1.2 -2.3l-2.7 2.8l2.8 -4.3l-0.5 -0.1l-2.2 2.1l0.2 -1l0.6 -1.5l0 -0.6l-0.9 0.4l0.1 -0.8l-1 0.6l-1 0.4l-0.4 -0.2l1.3 -2.2l0 -0.7l-3.9 4l2.3 -3.4l-0.4 -0.3l0.1 -0.7l0.7 -1.6l-2 1.7l1.8 -2.8l1 -1.8l-3.1 3l-0.4 -0.3l0 -0.6l-0.3 -0.3l-2.1 1.7l-0.2 -0.4l-0.9 0.3l0.6 -1.3l-0.5 -0.2l-1.3 0.9l1 -1.8l-2.5 2.1l-0.4 -0.2l0.1 -0.8l1 -1.7M868.4 407.2l-1.8 1.2l1.3 -2l-0.5 -0.1l-1.1 0.5l-1.9 1.3l1.5 -2.2l2.5 -3.2l-1.8 1.3l-1.8 1.1l1 -1.7l-1.4 0.8l-1.4 0.8l0.4 -1.1l1.8 -2.4l0.1 -0.7l-1.4 0.7l0.5 -1l-1.8 1.1l-2.3 1.6l1.2 -1.8l0.1 -0.7l-1.1 0.3l-1.1 0.5l-1.2 0.5l1.1 -1.6l-1.8 1l4 -4.4l-3.6 2.8l0.2 -0.8l-1.4 0.6l-1.9 1.2l2.4 -2.9l-0.3 -0.2l-1.8 0.9l0.1 -0.6l-1.9 1l2.6 -2.9l0.5 -1l-0.1 -0.6l1.3 -1.7l-2.6 1.7l0 -0.6l0.7 -1.2l3.6 -3.6l-6.4 4.8l0.5 -1l-0.5 -0.2l2.2 -2.4l-2 1.1l-2.2 1.2l0.8 -1.2l0 -0.6l-0.1 -0.5l-1 0.2l-0.7 0l-1.6 0.7l2.1 -2.3l-5.9 4.2l3.5 -3.4l4.3 -4l-3.9 2.5l-0.5 -0.2l0.1 -0.7l1.7 -1.8l-1 0.2l-3.1 1.8l4.9 -4.3l-1.5 0.6l-2.2 1.1l0.5 -0.9l0.5 -1l-1.7 0.7l1.4 -1.6l-0.6 -0.1l1.9 -1.9l-0.6 -0.2l-4 2.4l3.4 -3.1l-3.5 2l2.6 -2.4l-2.4 1.2l0.1 -0.6l-2.1 0.9l3.5 -3l-1.3 0.4l-1.8 0.6l0.8 -1l0.7 -1l-0.6 -0.2l0.1 -0.6l-2 0.8l-1.8 0.7l1.1 -1.3l0.2 -0.6l-5 2.8l2.5 -2.3l0.2 -0.7l4.6 -3.5l-4.9 2.7l1.4 -1.5l-1.5 0.4l-2.1 0.9l1.9 -1.8l1.6 -1.6l-2.7 1.2l1 -1.2l0.8 -1l-1.6 0.5l-1.8 0.6l0.9 -1.1l2 -1.8l-0.1 -0.4l0.6 -0.9l-0.1 -0.5l0.9 -1.1l-3.5 1.7l-1 0l5 -3.5l-3.2 1.4l-2.7 1.1l4 -2.8l-3.4 1.4l-1.2 0.2l1.7 -1.6l-0.2 -0.3l-0.1 -0.5l-3 1.2l0.6 -0.8l2.2 -1.8l-2.9 1.1l1 -1.1l0.3 -0.6l-1.1 0.1l-1.3 0.1l1.1 -1.1l0.4 -0.7l-0.8 -0.1l1.6 -1.3l0.1 -0.6l-2.1 0.6l-5.5 2.4l5 -3.1l-2.2 0.6l2.2 -1.6l-1.7 0.3l3.3 -2.2l-2.9 1l1.3 -1.1l-3.4 1.2l2.4 -1.7M825.6 349l0 -0.5l2.7 -1.8l-3.5 1.2l3.5 -2.1l-3.4 1l2.3 -1.5l-1.6 0.2l-0.9 -0.1l-1.9 0.4l0.9 -0.9l1.1 -1l-1.9 0.3l-3.1 0.9l1 -0.9l0.6 -0.8l-0.7 -0.2l2.1 -1.4l-0.2 -0.4l1 -0.9l-0.7 -0.2l0.4 -0.6l1.7 -1.2l-1.8 0.3l2.3 -1.4l-3.9 1l1.2 -0.9l0.3 -0.6l0.1 -0.6l-2.4 0.5l5.2 -2.5l-3.4 0.8l-1.1 0l-1.7 0.2l0.6 -0.7l-1.6 0.1l1.4 -1l-1.4 0l-0.9 -0.2l2.4 -1.3l-0.6 -0.3l-0.7 -0.2l1.9 -1.1l-3.2 0.6l-0.6 -0.3l0.9 -0.7l-0.1 -0.5l-3.3 0.7l1.7 -1.1l-1 -0.1l4.3 -2l-4.6 1.1l1.8 -1.1l1.5 -0.9l-1.3 -0.1l5.3 -2.2l-5.5 1.3l0.3 -0.6l1.9 -1l-0.9 -0.2l-0.4 -0.3l0.4 -0.6l-1.2 -0.1l1.6 -1l-2.3 0.3l0.2 -0.6l2 -1l-2.4 0.2l-0.3 -0.4l0.6 -0.6l-1.2 -0.1l0.9 -0.8l1.2 -0.8l1.1 -0.7l-0.3 -0.4l-2.7 0.2l2.3 -1l-5.4 1l3.7 -1.5l-3.3 0.4l0.4 -0.6l-2.2 0.1l-0.4 -0.3l1.2 -0.8l0.1 -0.5l2 -1l0.5 -0.6l-1.2 -0.1l1.4 -0.8l-1 -0.3l1.3 -0.7l-4.3 0.5l0.7 -0.6l0.2 -0.5l1.6 -0.8l2 -0.9l-5 0.6l4 -1.3l-1.8 -0.1l0.9 -0.7l-3.4 0.3l3.6 -1.2l-0.6 -0.3l-5.8 0.7l3.7 -1.2l1.6 -0.8l-1.3 -0.2l-2 -0.1l2.8 -1l1.5 -0.7l-1.9 -0.1l-0.1 -0.5l-0.6 -0.3l-1.5 -0.2l8.7 -2l-5.1 0.4l-3.1 0.1l1.8 -0.7l2.5 -0.9l0.2 -0.5l0.2 -0.5l2 -0.7l-2.9 0l2.2 -0.8l-3.9 0.1l0.3 -0.5l-1 -0.3l1.9 -0.7l-0.3 -0.4l-0.8 -0.3l-0.1 -0.5l2.8 -0.8l-2.1 -0.2l-1.8 -0.2l-0.5 -0.3l0.2 -0.5l1.3 -0.6l-2.8 -0.2l-0.5 -0.3l2 -0.7l0 -0.5l1.2 -0.6l-2.9 -0.1l1.3 -0.6l1.1 -0.6l-0.8 -0.3l1 -0.6M808.9 280.5l-0.1 -0.5l1.1 -0.5l-1.8 -0.3l2.3 -0.6l-1.4 -0.4l3.8 -0.7l-3.8 -0.2l-1.1 -0.3l1.3 -0.6l0.7 -0.4l-1.7 -0.4l1.3 -0.5l-0.9 -0.4l-1 -0.4l-4 -0.3l2.9 -0.6l-1.5 -0.4l-0.5 -0.4l-0.7 -0.4l2 -0.6l1.4 -0.5l-0.7 -0.4l-1.2 -0.4l0.6 -0.5l0.4 -0.4l-0.1 -0.5l-0.7 -0.4l1.8 -0.5l-1.9 -0.4l-0.3 -0.5l2.4 -0.4l-1.8 -0.5l-1.5 -0.4l-0.1 -0.5l0.2 -0.5l1.7 -0.4l-0.1 -0.5l-2.1 -0.4l3.9 -0.4l0.8 -0.5l-5.6 -0.5l0 -0.5l-1.3 -0.5l1 -0.4l0.8 -0.4l-1.3 -0.5l1 -0.5l-3.1 -0.5l1.9 -0.4l1.1 -0.4l0.3 -0.5l4.8 -0.2l-3.2 -0.6l-0.1 -0.5l-1.7 -0.5l-0.1 -0.5l-1.8 -0.6l1.8 -0.3l2.3 -0.3l-0.4 -0.5l-1.1 -0.5l1.2 -0.4l-1.5 -0.6l1.4 -0.3l0.2 -0.5l-2.9 -0.7l0.8 -0.4l-0.7 -0.5l3.1 -0.2l-0.4 -0.5l-0.4 -0.5l2.2 -0.2l1.6 -0.4l-4.7 -0.8l1 -0.4l0.3 -0.4l2.2 -0.3l-4.4 -0.9l0.4 -0.4l2.2 -0.2l5.4 0.1l-6.5 -1.2l0.2 -0.4l1.1 -0.3l0.7 -0.4l-5 -1.1l2.8 -0.1l0.4 -0.4l-1.2 -0.6l2.2 -0.2l1 -0.3l-4.9 -1.1l0.5 -0.4l0.6 -0.4l1.8 -0.2l-1.9 -0.8l1.3 -0.3l-0.2 -0.5l1.3 -0.2l-2.5 -0.9l1.6 -0.2l-1.5 -0.7l0 -0.5l2.5 0l-1 -0.7l1.5 -0.2l1.8 -0.2l-4 -1.1l-0.6 -0.6l4.9 0.4l2 -0.1l-2.3 -0.9l1.7 -0.1l-0.5 -0.6l-0.6 -0.6l-2.6 -0.9l3.5 0.2l0.3 -0.4l-0.1 -0.5l-2.5 -0.9l1.1 -0.3l3.7 0.3l-4.9 -1.5l1.5 -0.1l3.9 0.3l-2.7 -1l2.2 0l-1.5 -0.8l0.4 -0.4l-0.7 -0.6l3.6 0.3l-3.6 -1.2l0 -0.5l2.3 0.1l1.3 -0.2l-7.2 -2.1l4.4 0.5l-1.4 -0.8l4.6 0.7M814.1 212.1l1.4 0l-1.3 -0.9l2.3 0.2l-0.3 -0.5l-1.7 -1l3.3 0.5l-1.9 -1l2.1 0.2l0.8 -0.3l3 0.5l-4.7 -1.9l1.6 0l-1.1 -0.8l3.4 0.6l-2.1 -1.1l1.1 -0.1l-5 -2.1l3.4 0.6l-3.5 -1.6l0.6 -0.3l0.5 -0.3l4.5 1.1l-1.5 -1l1.9 0.2l-5.2 -2.3l3 0.6l-1.7 -1.1l4.1 0.9l-0.2 -0.5l-4.3 -2l3.8 0.9l-1 -0.8l0.2 -0.4l1.7 0.1l-0.9 -0.8l1.4 0l2.8 0.6l-6.4 -2.9l2.2 0.4l-0.1 -0.5l2.2 0.3l0.1 -0.4l0.8 -0.2l-0.4 -0.6l0.2 -0.4l-0.7 -0.8l3 0.8l-1.1 -1l1.3 0.1l6.7 2.3l-6 -2.9l0.3 -0.4l-0.6 -0.7l-0.6 -0.7l0.1 -0.5l5.3 1.8l-0.6 -0.7l-2 -1.4l-1.3 -1l2 0.4l-2.7 -1.7l3.3 1l-0.1 -0.5l-0.8 -0.9l3 0.9l-2.5 -1.6l0.6 -0.2l1 0l0.4 -0.3l0.4 -0.3l-1.7 -1.3l2.7 0.8l-4 -2.3l-0.8 -0.9l3.6 1.2l-1 -1l-0.4 -0.7l1.7 0.4l-2.6 -1.8l-1.1 -1l2.9 0.9l0.7 -0.1l-1.5 -1.3l-1.7 -1.3l3.3 1.2l-1.3 -1.2l2.1 0.6l-2.2 -1.6l1.6 0.3l-2.2 -1.7l3.6 1.4l-1.4 -1.2l-2.4 -1.8l1 0l0 -0.5l-2 -1.5l1.2 0.1l3.4 1.3l-3.4 -2.3l2.7 0.9l-3.3 -2.3l7.7 3.7l-6.8 -4.2l0.2 -0.5l0.7 -0.1l1.8 0.5l-2.4 -1.8l1.6 0.3l0 -0.5l-1.5 -1.4l3.6 1.6l-3.3 -2.4l3.5 1.5l-1.5 -1.5l0.9 0l-2.3 -1.8l2 0.6l-0.7 -0.9l2 0.7l1.3 0.2l-1 -1.1l-0.9 -1.1l1.3 0.2l0.2 -0.4l0.3 -0.3l-1.3 -1.3l-0.3 -0.7l4.5 2.3l-0.4 -0.9l-3.1 -2.5l3.1 1.5l-2.4 -2.1l2.6 1.1l0.4 -0.2l-2.3 -2.1l1.4 0.4M844.3 153l-0.8 -1.1l1.6 0.6l0.3 -0.4l0.3 -0.3l-1.2 -1.4l3.8 2.2l-2.5 -2.4l-0.7 -1.1l-0.5 -0.9l0.8 0.1l-0.3 -0.9l1.5 0.6l-0.9 -1.2l2.5 1.3l1 0.2l-2.6 -2.5l1.6 0.6l0 -0.6l0 -0.5l1.6 0.6l1.2 0.4l2 1l-0.1 -0.6l-1.2 -1.5l-0.2 -0.7l-3.7 -3.6l4.3 2.9l1.8 0.9l-1.6 -1.9l3.1 2l-0.5 -1l-0.5 -1l1.3 0.5l-1 -1.4l0.6 -0.1l0.4 -0.2l1.4 0.6l-2.3 -2.5l-0.2 -0.8l0.8 0.1l3.4 2.3l-2.7 -2.9l-1 -1.4l1.2 0.4l-3.7 -3.8l2.2 1.4l2.9 1.9l-1.4 -1.8l2.4 1.5l0.2 -0.4l-1.2 -1.7l1.4 0.6l-0.6 -1.1l1.1 0.4l2.3 1.5l-0.7 -1.3l-0.4 -0.9l-0.9 -1.5l-0.7 -1.2l3.3 2.5l0.8 0.1l-0.5 -1.1l-0.2 -0.8l1.2 0.6l1.7 0.9l-2.5 -2.9l1.1 0.4l0.2 -0.5l1.4 0.8l0.6 0l1.8 1.1l-1.5 -2l-1.3 -2l2.7 2.1l0.2 -0.4l0.2 -0.4l0.5 -0.2l3 2.4l-1.5 -2.1l1 0.3l-0.9 -1.4l-0.6 -1.3l1.9 1.3l-1.5 -2.1l-0.8 -1.5l2.3 1.7l-0.5 -1.2l0.5 -0.1l1.2 0.7l-0.3 -1l0.3 -0.2l0.9 0.2l-0.4 -1l1.4 0.8l-1.1 -1.8l-2 -2.9l1.3 0.8l0.1 -0.6l-0.3 -1l3.8 3.6l-1.1 -1.9l0.2 -0.4l-0.4 -1.1l0.3 -0.4l1 0.5l1 0.5l-1.2 -2.1l2.2 1.9l-1.1 -1.9l-0.4 -1.2l2 1.6l0.4 -0.1l-3.7 -5.1l3.2 3.1l0 -0.8l-0.4 -1.1l1.7 1.3l-0.7 -1.5l-0.7 -1.5l2 1.7l-0.8 -1.7l0.2 -0.4l0.6 0l-0.6 -1.5l1.3 0.8l1.2 0.9l-0.1 -0.9l0.2 -0.4l1.1 0.7l2 1.8l-1.6 -2.7M888.8 106.9l-0.2 -1.1l0.9 0.5l1.7 1.5l-0.7 -1.7l0.7 0.3l-1.3 -2.6l0.6 0.1l0 -0.9l0.7 0.2l-0.3 -1.1l1.8 1.7l-0.2 -1l-0.7 -1.8l0.1 -0.6l1.9 1.8l-2.3 -4.2l0 -0.8l1.8 2l1.6 1.5l-1.6 -3.2l1.7 1.7l-0.7 -1.9l0.5 0l2.3 2.6l-0.9 -2.1l0.2 -0.5l-0.4 -1.5l1.5 1.5l-1.3 -2.9l0.3 -0.4l2.2 2.6l0.7 0.3l0.2 -0.5l-0.6 -1.9l0.9 0.6l0.2 -0.5l0.8 0.5l0.8 0.3l-0.9 -2.4l1.8 2.2l1.2 1.1l-1.6 -3.5l1.2 1.1l-0.8 -2.2l0.9 0.5l1.4 1.6l-1 -2.7l1 0.9l1.1 0.9l-0.4 -1.6l0 -0.9l-0.2 -1.2l0.9 0.6l1 0.9l-0.1 -1.1l0.5 -0.1l0.2 -0.5l-0.5 -1.9l1.5 1.8l-0.1 -1.1l-0.1 -1.2l1.5 1.7l1.8 2.4l-0.9 -2.5l0.5 0l0.4 -0.3l0.8 0.5l0.7 0.4l1.1 1.3l-0.4 -1.9l-0.3 -1.5l1.2 1.3l0.5 0l-0.3 -1.7l1.5 2.1l1.4 1.8l-1.6 -4.2l-0.6 -2.3l2.4 3.8l0.6 0.3l-0.1 -1.3l0.2 -0.6l0.9 0.8l-0.5 -2.1l-0.4 -1.8l1.4 1.8l0.4 -0.2l1 1l0.2 -0.5l-0.3 -1.7l1 1l-0.7 -2.6l1.4 2l0.3 -0.4l-0.2 -1.6l0.2 -0.7l1.3 1.9l0.2 -0.8l-0.7 -2.8l2.2 3.9l0.4 0l1.1 1.4l0.5 0l0.2 -0.7l-0.5 -2.4l1.9 3.4l0.2 -0.7l1 1.4l0.3 -0.4l0 -1.2l0.1 -1.1l0.5 0.1l0.2 -0.7l-0.9 -3.4l1.2 1.6l0 -1.1l0.7 0.7l0.2 -0.9l1.3 2.2l0.8 0.8l-0.4 -2.2l-0.5 -2.7l1 1.2M943.3 83.7l-0.7 -3.7l-1 -4.2l1.1 1.6l0.7 1l0.2 -0.9l-0.2 -2.2l1.3 2.6l0.3 -0.5l0.8 1l0.7 0.8l-0.3 -2.5l-0.1 -1.7l1.3 2.4l-0.3 -2.4l0.1 -1.1l0.9 1.3l0.4 -0.3l0.2 -1l1.1 2.2l0.4 -0.1l-0.9 -4.9l1.7 4.4l0.5 0.2l0.5 0l0.5 0.2l0.1 -1.4l0.9 1.7l0.6 0.5l-0.1 -1.9l0.2 -1.2l0.6 0.6l0 -1.9l1.3 3.5l0.2 -1.3l1.9 5.6l-1 -5.7l0.5 0.1l0.2 -0.9l1.1 2.6l-0.3 -3l1 2.2l0.3 -0.6l0 -1.9l0.7 0.8l0.9 1.8l-0.5 -4l0.6 0.5l0.4 -0.2l1.1 2.7l0.2 -1l0.5 0.2l0.2 -1l1 2.2l-0.1 -2.4l0.3 -0.6l0.6 0.8l0.6 0.6l0.4 -0.4l0.7 1l0.9 2.4l-0.3 -4l1.5 5.6l-0.3 -3.7l0.8 1.9l0.8 1.7l-0.1 -2.5l0.1 -2.6l0.4 -0.2l0.7 1.4l0.4 0.3l-0.1 -3.4l0.8 1.8l0.5 0.2l0.3 -0.7l0.5 0.3l0.3 -0.9l-0.1 -3.9l0.9 2.8l0.3 -0.9l0.4 0.1l0.5 0.2l0.2 -1.7l0.9 3.2l0.7 1.4l-0.1 -3.5l1 4l-0.3 -5.9l1.1 5.1l0.6 0.9l-0.1 -4l0.8 2.3l0 -3.1l0.8 2.4l0.3 -1.3l0.4 -0.1l0.7 1.8l0.5 1l0.3 -1.6l0.3 -1.3l0.4 -0.2l0.5 0.4l0.6 1.2l0.1 -3.7l0.7 2.5l0.3 -0.7l0.7 2.1l0.5 1.3l0.5 0.2l0.4 -0.7l0.4 -0.4l0.4 -0.8l0.4 0.1l0.4 -0.4l0.4 -1.9l0.6 3.4l0.5 0.2" fill="none" stroke="#463e3e" stroke-width="0.5"/><path d="M1014.5 92.2l0.3 2.8l0.4 0.6l0.3 3.1l0.7 -3.7l0.4 -0.3l0.5 0.2l0.2 2.7l0.5 -0.1l0.7 -3.5l0 5.9l0.9 -6.1l0.5 -0.5l0.5 0.2l0.3 1.3l0.2 2.9l0.9 -4.9l0.6 -1.9l0.1 3.4l0.3 1.7l0.6 -1.5l0.6 -1.5l0.2 2.8l0.5 -0.3l0.6 -1.1l0.2 1.4l0.1 2.8l1.1 -4.6l0.1 2.4l1 -4.3l0.2 2l0.8 -2.6l-0.1 4.7l0.8 -2.8l0.3 1.2l0.8 -2.2l0.6 -0.9l-0.1 3.9l0.9 -3.5l0 3.3l-0.6 6.6l1.5 -6.6l0.4 0.6l0.3 0.7l0.5 -0.5l0.4 0.7l-0.2 3.4l0.8 -1.6l0.8 -2.1l0.2 1.3l-0.5 5.3l1 -3l0.4 0.2l0.7 -1.3l0.5 -0.1l0.4 0l0.4 0.2l-0.8 6.4l1.6 -5.7l0.6 -0.4l0.4 -0.1l-0.1 2.9l0.7 -1.3l0.6 -0.5l0.5 -0.4l0.2 1.3l0.4 -0.1l-0.3 3.4l1.4 -4.1l0.1 1.5l0 1.7l0.9 -1.6l1.5 -4.3l-1.1 6.5l1.6 -4.8l-0.2 2.7l0.4 0.2l-0.1 1.9l0.4 0.2l1.6 -4l-0.5 3.6l1.1 -2.4l-0.1 2l0.3 0.6l0.9 -1.8l0.8 -1.1l0.1 1.4l0.6 -0.5l-0.6 3.7l1.7 -4.4l-0.9 4.6l1.4 -3l1.1 -2.1l-1.4 6l1.2 -2.3l0.1 0.9l0.7 -0.7l0.3 0.7l0.1 1.2l2.2 -5.5l-0.1 1.8l-0.4 2.7l0.3 0.6l0.4 0.1l1 -1.8l-0.4 2.8l0.5 -0.3l1.4 -2.6l-0.4 2.6l0.1 0.8l-0.1 1.5l1.6 -2.8l0.1 0.8l2.8 -6.4l-1.8 6.2l1.3 -2l-0.3 1.9l0.4 0.3l1.5 -2.6l0.4 0.1l-1.8 5.7l1.4 -2.3l0.7 -0.5l2 -3.9l-1.7 5.5l1.1 -1.4l1 -1.3l1.7 -3.1l-1.7 5.3l-0.3 2l0 1.2l0.6 -0.5l1.1 -1.4l-0.4 1.9l2.3 -4.1l-0.2 1.7l0.6 -0.2l0.5 -0.3l-0.5 2.3l0.4 0.1l0.1 1l-1.9 5.2l3.9 -7.4l-0.3 1.5l0.3 0.6l-0.3 1.6l0.9 -0.8l-0.1 1.2l0.3 0.5l2.2 -3.6l-1.6 4.3l2.1 -3.3l0.9 -0.9l-0.5 2.1l-0.6 2.2l2 -3l-0.3 1.4l-0.7 2.5l1.7 -2.4l-0.8 2.6l1.5 -2.1l1.1 -1.2l-0.4 1.9l-0.5 1.8l0.5 0.1l1.6 -2.2l-0.1 1.2l2.3 -3.3l-0.7 2.1l-0.4 1.8l2.4 -3.4l-0.1 1.1l-0.5 1.9l2.6 -3.9l-2.1 4.7l1.2 -1.2l0.4 0.3l-0.5 1.7l2.1 -2.7l-1.3 3.1l0.8 -0.5l-0.9 2.5l3.5 -5.2l0 0.9l-0.3 1.3l2.5 -3.2l-2.3 4.6l1.6 -1.6l0.2 0.4l0.9 -0.4l1.6 -1.9l0.6 0l-0.8 2.2l1 -0.9l-0.8 2.2l0 0.9l1.8 -2.1l0.3 0.5l-1.9 3.8l2.7 -3.3l-0.6 1.7l0.6 -0.1l1.2 -0.9l1.1 -0.9l1.2 -1l-2 3.8l0.7 -0.2l0 0.9l0.4 0.1l-1.1 2.4l3.2 -3.7l-0.9 2.1l-0.6 1.6l1.4 -1.2l-0.3 1.1l1.6 -1.4l0.6 -0.1l-3.1 5.2l2.8 -3.2l-0.5 1.5l1 -0.7l-1.4 2.8l1 -0.6l2.6 -2.8l-4.1 6.3l2.9 -3.1l0.2 0.4l1.4 -1.1l0 0.7l-1 2.1l2 -1.8l0.4 0.2l-2 3.2l1.1 -0.6l2.5 -2.5l-0.1 0.8l-0.9 2l-0.7 1.6l-0.9 1.7l1.2 -0.8l1.9 -1.5l-1.8 2.9l0.8 -0.3l0.9 -0.5l0.4 0.2l0.9 -0.3l-1.7 2.7l3.8 -3.8l-1.2 2.1l5.3 -5.5l-4.7 6.1l-3.3 4.6l3.4 -3.3l0.5 0.2l-1.5 2.4l2.8 -2.6l0.7 -0.1l-1 1.7l0.2 0.5l2.8 -2.4l-0.6 1.3l-0.4 1.2l0.6 0l-3 3.8l3.5 -3.1l-0.6 1.3l1.8 -1.2l-2 2.7l2.8 -2.3l-0.5 1.1l-0.3 1l-1 1.7l0.8 -0.2l0.8 -0.2l-0.2 0.9l2.8 -2.3l-1.9 2.6l1.9 -1.3l0 0.7l0.3 0.3l-0.8 1.4l-0.6 1.2l2.1 -1.4l0.7 -0.1l2.5 -1.8l-3.3 3.8l2.7 -1.9l-1.1 1.6l0.8 -0.2l-0.4 1.1l0.6 0l-2.6 3.1l3.6 -2.8l0.2 0.4l0.3 0.3l1.7 -0.9l-2.5 2.9l0.2 0.4l2.6 -1.7l-0.3 0.8l-0.2 0.8l0.6 0.1l0.1 0.5l1.6 -0.9l-1.8 2.2l0 0.6l2.8 -1.8l1 -0.3l-0.1 0.6l-2.3 2.6l1 -0.3l-0.3 0.9l1.4 -0.6l-0.8 1.2l2.9 -1.8l-0.2 0.8l1.2 -0.4l-0.9 1.3l0.4 0.3l0.8 -0.2l0.2 0.5l-2.2 2.3l1.5 -0.6l-1.2 1.5l1.6 -0.7l0.9 -0.2l0.6 0.2l0.3 0.3l-0.4 0.9l-1.4 1.6l-1.2 1.5l3.6 -2.2l-0.6 1.1l1 -0.3l-1.2 1.5l4.7 -3l-5.3 4.6l-1.2 1.4l5.5 -3.5l-0.1 0.6l-0.6 1l-0.4 0.9l-1.2 1.3l2.4 -1.1l0.8 -0.1l1.4 -0.4l-3.2 2.8l3.4 -1.8l-0.4 0.9l3.1 -1.6l-2.1 2l-0.2 0.6l-1.3 1.5l2.4 -1.1l1.9 -0.8l-5.1 4l1.2 -0.3l3.5 -1.8l-1.1 1.3l-0.1 0.6l-1.5 1.5l-1.4 1.4l2.9 -1.3l0.8 0l4.6 -2.4l-6.3 4.6l1.8 -0.7l-1.4 1.4l-1.4 1.4l0.5 0.2l3.3 -1.5l-0.6 0.9l-2.4 1.9l4.3 -2l-0.6 0.9M1156.2 181.8l-1.2 1.2l0.7 0.1l0.9 0.1l-0.6 0.8l1.5 -0.3l-0.5 0.8l-2.4 1.8l1.2 -0.2l-0.1 0.6l1.1 0l-0.3 0.6l0.4 0.3l-0.2 0.6l0.3 0.3l0.4 0.4l-5.1 3l4.9 -2l-1 1.1l1 -0.1l-0.5 0.8l1.2 -0.1l0.9 0.1l-2 1.4l2 -0.4l0.8 0.1l0.6 0.2l1.9 -0.4l0.5 0.3l-3.1 1.9l2.2 -0.5l0 0.5l-1.3 1.1l2 -0.4l-1 0.9l1.6 -0.2l-1.4 1.1l1.5 -0.2l2.3 -0.5l-0.3 0.7l-3.6 2l-2.1 1.4l4.7 -1.5l0.4 0.3l-2.7 1.6l3.9 -1.1l-3.4 1.9l6.1 -2l-4.9 2.4l1.9 -0.2l-1.8 1.2l3.1 -0.8l-0.3 0.6l-1.9 1.2l1.4 0l0.3 0.4l2.2 -0.4l0.1 0.5l-3 1.6l-0.6 0.7l2 -0.3l1.1 0.1l1.8 -0.1l-2.7 1.4l2.2 -0.3l-0.8 0.8l-0.7 0.7l4 -0.9l-6.2 2.6l2.3 -0.3l1.5 0l-0.3 0.5l1.7 0l0.2 0.4l-1.9 1.1l1 0.1l-3.1 1.5l1.1 0.1l1.5 0l-0.4 0.6l2.5 -0.3l-0.3 0.6l-1.7 1l1.4 0l-1.6 1l-0.5 0.6l4 -0.7l-3.4 1.4l2 -0.1l-1 0.8l2.9 -0.3l-3.6 1.4l2 0l-2.5 1.1l8 -1.6l-9.6 2.9l5.5 -0.9l-0.5 0.6l-1.5 0.8l6.5 -1.1l-4.3 1.5l-1 0.7l-2 1l5.7 -0.9l-2.7 1.1l-0.6 0.6l-2.3 1l3.7 -0.4l-4.3 1.4l2.1 0l1.6 0.1l-3 1.2l4 -0.4l-5.5 1.6l4.1 -0.4l-2 0.8l0.1 0.5l2.8 -0.1l-1.6 0.8l0.7 0.3l-1.8 0.8l2.4 0l-3.9 1.2l1.9 0.1l-0.6 0.5l0.9 0.3l2.8 0l-2 0.8l1.9 0.1l0.2 0.4l2.7 0.1l-7.5 1.6l3.3 0l-1 0.6l1.7 0.1l-2.7 0.9l1 0.3l0.1 0.4l-5.6 1.3l6.9 -0.5l-4.2 1l2.2 0.1l-4.3 1.1l3.7 -0.1l-3.6 0.9l3.6 0l-1.3 0.6l1.3 0.3l-0.7 0.5l3 0.1l-1.7 0.7l-0.7 0.5l-0.4 0.5l0.4 0.4l1.2 0.3l3.1 0.1l-3.2 0.8l-4.4 0.8l4.9 0l-0.6 0.5l1.5 0.3l-0.2 0.5l0.7 0.4l1.9 0.3l-3.4 0.7l3.9 0.2l-2.3 0.6l-0.1 0.4l0.3 0.4l-0.9 0.6l-0.7 0.4l2.4 0.3l-3.6 0.7l3.3 0.3l1.6 0.3l-1.5 0.6l0.9 0.4l-1.1 0.5l2.1 0.3l-0.6 0.5l-0.7 0.5l1.3 0.4l-0.4 0.4l-1 0.5l0 0.5l7.5 0.3l-5 0.5l-3.3 0.5l0.7 0.5l1.8 0.4l1.2 0.4l-3.9 0.5l2.7 0.5l-0.3 0.4l3.9 0.5l-6.8 0.4l4.6 0.5l1.8 0.5l0.8 0.4l-2.8 0.5l3.4 0.5l-4.3 0.3l-1.6 0.5l1.7 0.5l-1.4 0.4l2.4 0.5l-3 0.3l1 0.5l-1.1 0.4l3.2 0.6l1.2 0.6l-0.6 0.4l-2.7 0.3l1.3 0.5l-2 0.4l5.2 0.7l-2.8 0.3l-0.2 0.5l0.1 0.4l-3.7 0.2l2.1 0.6M1177 283.8l1.7 0.6l-0.6 0.4l-5.1 -0.1l-0.9 0.4l3.6 0.8l-5.6 -0.2l3.8 0.9l1.1 0.6l-3.5 0l1.5 0.7l3.4 0.9l-1.4 0.2l-1.4 0.3l1.6 0.7l1 0.6l1.1 0.6l4.2 1.1l-5.2 -0.3l2.2 0.8l-1.6 0.2l-1.6 0.2l-3.4 -0.1l6.8 1.6l-5 -0.4l4.1 1.2l-2.5 0l-0.6 0.4l1.3 0.7l-2.9 -0.1l-3.9 -0.3l3.8 1.2l-2.3 0l0.4 0.5l0.4 0.6l0.8 0.6l1 0.6l0.7 0.6l0.1 0.5l-2.2 0l4.9 1.5l-3 -0.1l0.8 0.6l-3.5 -0.3l2.5 1l-1 0.2l-1.9 0.1l-1.5 0.1l5 1.6l-3.3 -0.3l2.7 1.1l-4.8 -0.7l1.6 0.9l1.4 0.8l0.3 0.5l-0.1 0.5l-0.5 0.3l-0.9 0.2l2.8 1.2l-1 0.3l-4.1 -0.7l1.9 1l0.4 0.6l0.9 0.7l0.4 0.6l-1.7 0l-0.5 0.3l-1.8 0l-0.2 0.3l0.8 0.7l1.6 1l0.8 0.7l-3.1 -0.4l-2.7 -0.4l2.6 1.2l1.2 0.9l2.1 1.1l-2.9 -0.4l-0.2 0.4l2 1.1l-3.1 -0.5l1.1 0.8l1.7 1.1l-2.4 -0.3l4.1 1.8l-3.8 -0.8l2.1 1.2l-2 -0.2l-3.7 -0.8l2.3 1.3l-1.1 0l8.6 3.6l-4.7 -1.2l-1.2 0.1l0 0.4l-4.6 -1.2l6.4 2.9l-6 -1.8l-0.5 0.3l2.1 1.3l-2.7 -0.6l1.7 1.2l-0.1 0.4l-0.7 0.2l3.3 1.8l-1.3 0l0.5 0.7l-4.7 -1.4l1.3 1l-0.7 0.2l2.9 1.7l-3.1 -0.9l-0.9 0.2l2.1 1.3l-0.1 0.5l2 1.4l-3.3 -1l-0.9 0.1l1.2 1l-2.5 -0.6l-0.9 0.1l0.1 0.5l-0.4 0.3l-3.3 -1l0.6 0.7l-1.9 -0.3l2.5 1.6l1.2 1l1.4 1.2l-1.3 -0.1l-0.2 0.3l-2.7 -0.7l-0.5 0.2l2.2 1.6l0.7 0.8l-4.6 -1.8l4.7 2.8l2.3 1.7l1.6 1.3l-4.7 -1.9l-0.1 0.5l-0.7 0.1l1.2 1.2l0 0.4l0.3 0.7l0.9 1l-0.5 0.3l-3.2 -1.2l4.2 2.7l0 0.6l-2.8 -1l-1.1 -0.2l-0.1 0.5l0.5 0.8l-3 -1.2l2.8 2.1l-2.1 -0.7l1.8 1.6l0.9 1l-0.7 0.2l-0.2 0.4l0.5 0.8l-0.8 0M1148.4 356.5l-0.5 0.2l1 1.2l4.7 3.6l-3.1 -1.5l-1.9 -0.7l3 2.5l-3.1 -1.5l-0.8 0l1.8 1.8l-1 -0.1l-0.7 0.1l0.7 1l-3.9 -2.1l2.7 2.3l2.3 2.2l-2.3 -1.1l0.9 1.2l-2.3 -1l-1.1 -0.3l0.6 1.1l-0.2 0.4l0.3 0.7l-0.3 0.3l-1.8 -0.7l0.1 0.6l1.4 1.6l-1.4 -0.4l-1.7 -0.7l2.8 2.6l-2 -0.9l0.8 1.2l-2.7 -1.5l2.1 2.2l-0.4 0.2l-0.5 0.2l-3.2 -1.9l1.4 1.7l-3.9 -2.5l4.1 3.7l-6.6 -4.6l4.4 4.1l-1.9 -1l1.3 1.6l2.1 2.3l-4.4 -3l2.2 2.4l0.3 0.8l-1.1 -0.3l0 0.6l0.6 1.1l3 3.1l-4.9 -3.5l-2.2 -1.3l3.1 3.2l0.4 1l-3.5 -2.4l1.6 1.9l0.3 0.8l-0.5 0.2l-0.1 0.6l-2.7 -1.8l-0.3 0.3l3.4 3.6l-3.3 -2.3l1.1 1.6l0.3 0.9l-0.9 -0.2l-0.7 -0.1l-1.6 -0.8l0.2 0.8l-2.6 -1.9l1 1.6l2.5 3l-3.1 -2.4l-0.1 0.6l-3.6 -2.9l4.3 4.8l-2.2 -1.5l4 4.5l-3.7 -3l-0.8 -0.2l1.2 1.9l0.8 1.4l-3.1 -2.4l3.1 3.8l-3.5 -2.9l-0.7 -0.2l0.3 1l-3.9 -3.4l2.8 3.6l0.6 1.2l0.1 0.7l-0.4 0.3l-2.6 -2.1l1.1 1.9l-0.2 0.4l-4.7 -4.4l3.6 4.5l0.9 1.6l0.3 1l-1.3 -0.7l-0.2 0.4l0.8 1.6l-0.2 0.5l0.5 1.1l-5.1 -5l4.1 5.4l-4.2 -4.2l0.4 1.1l2.6 3.7l-2.1 -1.7l-1.1 -0.6l-0.6 0l-1.2 -0.8l1.1 2l1.5 2.5l-2.8 -2.6l1.5 2.5l-2.2 -2l-0.1 0.6l-0.2 0.5l0.1 0.8l-1.8 -1.6l0.1 1l0 0.7l-2.3 -2.3l1.5 2.7l0.5 1.3l-2.1 -1.9l-0.8 -0.3l1.6 2.8l1.6 2.7l0.1 0.9l-1.5 -1.3l-0.2 0.6l0 0.7l-2 -1.9l-0.5 0.1l-0.7 -0.2l0 0.8l-0.6 -0.1l-0.2 0.5l-3 -3.4l3.6 5.7l-2.5 -2.7l1.1 2.4l0.8 1.9l-3.2 -3.7l2.4 4.1l-1 -0.7l-0.4 0.3l-0.4 0.1l1.2 2.7l-2.4 -2.8l-1.2 -0.9l0.8 1.9l-0.4 0.2l-1.1 -0.8l0.1 0.9l0.4 1.4M1094.7 409.5l-0.7 -0.3l1.9 3.9l-1.2 -1.1l0.3 1.3l-1.2 -1l0 0.9l-1.4 -1.6l0.3 1.6l1.2 2.8l-1.9 -2.3l0.3 1.4l0.7 2.1l0.3 1.4l-1.1 -0.9l-0.9 -0.6l-0.2 0.4l-1.7 -2l1.2 3.1l-1 -0.8l0 0.8l-0.4 0.3l-0.3 0.5l-2.5 -3.7l0.6 2.1l0.7 2.2l-2.8 -4.3l0.8 2.4l-0.3 0.5l-1.9 -2.6l1.1 3l-0.2 0.6l-1 -1l0.5 2l-0.2 0.7l-1.5 -1.9l0.8 2.6l-0.9 -0.8l-0.1 0.7l-1.2 -1.2l-1.3 -1.6l2 5l-2.4 -4l2.2 5.7l-2.3 -3.6l0.4 1.9l-1.4 -2l0.2 1.5l-0.7 -0.4l-0.8 -0.6l-0.2 0.6l-0.6 -0.2l-0.2 0.6l-0.6 -0.1l-0.4 0.3l-0.4 0.2l-0.7 -0.6l-0.2 0.7l0.8 3.1l-1.9 -3.5l0.4 2.2l-1.7 -2.8l-0.8 -0.7l1.3 4.3l-1.3 -2l-0.3 0.6l0.1 1.2l-0.2 0.9l-1.8 -3.4l-0.5 -0.1l0.1 1.7l-2.1 -4.3l0.8 3.3l1.4 4.9l-3.4 -7.5l0.8 3.2l-0.7 -0.5l-0.4 0.3l-0.4 0.2l1.2 4.6l-2.6 -6l-0.8 -0.8l0.7 3.2l-2 -4.3l-0.9 -1.2l1.3 5l-0.7 -0.7l-0.2 0.8l-1.1 -1.8l-0.4 0.3l0.1 1.7l-0.2 0.7l-0.6 -0.5l-0.7 -0.6l0.3 2.4l-1.1 -2.1l0.3 2.6l-0.4 0.3l0.5 3.1l-1 -2l0 1.6l-1.6 -3.6l0.7 3.9l-0.2 0.9l-0.2 0.9l-1 -1.8l-0.5 0.1l-0.5 -0.2l-0.5 -0.1l-1 -1.8l1.2 5.9l-1.9 -5.2l-0.1 1.5l0.3 2.7l-0.9 -1.7l-0.5 0.2l-0.1 1.3l-1.2 -3l-0.8 -1.4l0 2.2l-0.1 1.2l-1 -2.1l-0.2 1.3l-0.5 -0.4l-0.1 1.9l-0.8 -1.6l-0.7 -0.9l0.6 4.7l-1.5 -4.8l-0.2 1.2l0.2 2.9l-0.8 -1.6l-0.3 1.1l-0.7 -1.1l-1.2 -3.8l0.2 3.2l-0.1 2l-0.6 -0.7l-0.8 -2l0.4 4.4l-1.6 -5.7l-0.1 2l-0.5 -0.3l-0.9 -2.6l0 2.4l-0.7 -1.4l0 2.5l-0.8 -1.5l-0.4 -0.1l-0.4 0.6l-0.3 0.8l0.1 3.5l-1.7 -8.2l0 3.2l-0.2 1.7l-0.4 0.3M1025.4 432.8l0.2 5.5l-0.6 -1.7l-0.9 -3.3l-0.7 -2.1l0.1 4.3l-0.8 -2.8l-0.1 3.4l-0.3 1l-0.4 1.4l-0.8 -4.1l-0.2 2.3l-0.9 -4.3l0.4 8.8l-0.9 -4.4l-0.5 -1.2l-0.4 0.8l-0.5 0.2l-0.6 -1.9l-0.3 1.4l-0.3 2.8l-0.5 -1l-0.6 -3.1l-0.4 1.6l-0.5 -0.2l-0.2 4.2l-0.5 -2.1l-0.6 -1.8l-0.5 -0.6l-0.6 -3.8l-0.4 1.1l-0.4 1.9l-0.4 0.9l-0.6 -5.5l-0.3 4.7l-0.4 1.3l-0.4 2.5l-0.4 -0.1l-0.5 -1.5l-0.5 -1.7l-0.5 -2.8l-0.4 1.7l-0.5 -1.8l-0.4 2.4l-0.5 -2.7l-0.4 8.2l-0.5 -7.3l-0.4 -1.6l-0.4 -0.7l-0.5 2.2l-0.4 0.7l-0.5 1.4l-0.5 1.9l-0.4 -2.5l-0.5 4.4l-0.3 -6.9l-0.5 1.4l-0.5 2.5l-0.5 0.5l-0.5 1.3l-0.2 -5.1l-0.5 1.7l-0.5 0.9l-0.4 -1.7l-0.6 2.5l-0.4 -0.8l-0.4 0.1l-0.6 1.8l-0.4 -0.9l-0.4 -0.7l-0.6 2.1l-0.3 -1.5l-0.8 5l-0.2 -3.8l-0.4 -0.8l-0.5 0.6l-0.6 1.4l-0.3 -1.5l-0.5 0.3l-0.7 3.1l-0.2 -3.4l-0.9 4.9l-0.1 -3.3l-0.7 1.7l-0.3 -1.6l-0.2 -2.3l-0.1 -3l-1.3 7.3l-0.1 -2.9l-0.4 -0.3l-0.7 1.8l-0.6 1.2l-0.1 -3l-0.1 -2.9l-0.7 1.4l-0.2 -1.5l-1 3.8l-0.1 -2.9l-0.5 0.9l-0.4 -0.3l-0.4 -1.1l-0.7 2l-0.6 0.8l-0.8 2.1l0.4 -5.7l-0.8 2.3l-0.4 -0.1l-0.3 -1.2l-0.6 0.8l-1.2 4.3l0.5 -5.6l-0.7 1.7l0 -2.7l-0.9 2.2l-0.5 0.6l0.1 -3.5l-0.7 1.2l-0.2 -1.1l-0.6 0.9l-0.8 1.7l-0.7 1.1l0.4 -4.3l-0.7 1.1l-0.3 -0.9l-0.1 -1.4l-1.2 3.2l-0.9 2.1l-1.2 3.5l0.6 -5.1l-0.1 -1.4l-1 2.2l-0.1 -1.8l-0.7 1.2l0.3 -3.1l-1.4 3.8l0.5 -4l-0.6 0.4l-0.4 -0.4l-0.3 -0.6l-0.7 1.2l0.5 -4.1l-1 2.1l-0.9 1.9l1.4 -7.1l-2.1 6l0.5 -3.4l-0.9 1.7l0.3 -3.1l-1.7 4.7l0 -1.7l-0.8 1l0.3 -2.5l-0.6 0.4l-1.1 2.3l0 -1.6l-1.1 2.1l-0.8 0.9l0.3 -2.5l-0.8 1l-0.2 -0.8l-1.5 3.4l0.6 -3.5l-0.2 -1l-0.8 1.2l-0.3 -0.7l-0.1 -1.1l0.1 -1.6l-3.4 8.6l1.8 -6.7l-0.3 -0.6l-0.2 -0.8l0.5 -2.9l-0.3 -0.5l-2.2 5.1l0.8 -3.7l-0.6 0.3l-0.8 1l0.1 -1.6l-1.3 2.1l1.3 -4.8l-2.3 5l0.9 -3.8l-1.7 3.2l-0.1 -0.9l-0.8 0.8l-0.6 0.5l0.8 -3.4l-0.4 -0.2M938.1 425.8l0.9 -3.3l-1.1 1.5l-0.9 0.9l0.2 -1.7l-0.7 0.4l0.5 -2.1l-1.3 1.7l-0.3 -0.4l-1.1 1.4l-0.3 -0.5l0.1 -1.2l-0.9 0.8l-0.5 0.1l0 -1.3l-0.5 0.2l0.3 -1.8l0.3 -1.6l-0.7 0.4l-2 3l-1.4 2.1l0.2 -1.5l1.7 -4.7l-0.9 0.8l-0.9 0.8l-2 3.1l2.4 -5.9l-1.2 1.4l-3.1 5.3l1.9 -4.9l0 -1l-0.7 0.4l0.4 -1.8l0.5 -1.8l-0.5 -0.1l-1.8 2.5l0.8 -2.5l-0.5 0l-1.6 2.1l-1.3 1.4l2.7 -5.8l-2.3 3.2l0.7 -2.2l-2.6 3.8l2.2 -4.9l0.1 -1l-2.3 3l2.3 -4.9l-1.9 2.4l-0.4 -0.2l-0.5 0.2l0.5 -1.8l-0.3 -0.5l-2.7 3.9l0.7 -2.2l-0.3 -0.2l0.7 -2.2l0.5 -1.6l-1.8 2.1l-2.2 2.8l1.4 -3.2l-1.4 1.4l-1.7 2l0.6 -1.8l-0.6 0l-1.1 1l1.3 -3l-0.1 -0.7l-1.8 2.1l2.7 -5.1l-3.3 4.3l1.7 -3.4l-0.7 0.3l-2.5 2.9l-0.8 0.4l1.5 -3.1l1.3 -2.7l-0.8 0.4l-0.6 0.1l2.3 -4l-3.4 4.1l0.2 -1.1l-0.6 0.2l-0.9 0.5l0.5 -1.5l-1.5 1.3l-2.2 2.4l-0.2 -0.5l1.8 -3.4l-2.2 2.4l-1.1 0.7l2.2 -3.8l-3.5 4.1l2 -3.5l-0.9 0.4l-0.1 -0.6l0.7 -1.7l-1.6 1.4l-0.7 0.2l-0.2 -0.5l0.3 -1l-3.4 3.6l3.9 -5.8l-3.3 3.5l2.7 -4.1l-2.7 2.6l0.5 -1.3l-0.8 0.3l0 -0.7l1.6 -2.8l-1.1 0.8l-2.9 2.8l0.1 -0.9l0.8 -1.6l0.2 -0.9l-1.2 0.6l-1.1 0.8l1.3 -2.4l-0.3 -0.3l-0.9 0.4l-0.8 0.3l-0.7 0l0.8 -1.5l-1.2 0.7l-0.1 -0.6l-0.6 0l-1.6 1.1l-0.6 0l-2.2 1.9l3.1 -4.2l-2.7 2.3l0.6 -1.3l-1.2 0.6l0.7 -1.5M884 391l0.3 -0.9l2.3 -3.1l-1.8 1.2l1.9 -2.5l-2.7 2l0.3 -1l-3.3 2.7l0.9 -1.6l1.6 -2.2l-5.4 4.8l4.5 -5.1l0.8 -1.4l-2.8 2l2.7 -3.1l1.5 -2.2l-3.1 2.4l1.5 -2.1l-2.6 1.9l-0.8 0.2l0.8 -1.3l-2.3 1.4l1.8 -2.2l1 -1.6l-1.6 0.9l0.4 -0.9l-3.7 2.7l1.2 -1.7l-1.6 0.8l1.6 -2.1l2.4 -2.7l-1.9 1.2l-2.2 1.2l0 -0.6l1.2 -1.5l-0.4 -0.3l-1 0.3l-1.9 1l-1.1 0.3l1.1 -1.5l-1.7 0.8l-0.9 0.2l1.8 -2.1l-2.6 1.6l2.6 -2.7l0.4 -1l-1.1 0.4l-0.1 -0.5l-0.9 0.1l-0.9 0.1l-0.9 0.2l1.9 -2.2l-1.8 0.9l0.7 -1.1l-0.1 -0.5l-3.1 1.8l0.3 -0.8l0.6 -1l-1.7 0.7l-1.2 0.4l2.2 -2.3l-1.6 0.6l-0.1 -0.4l1.3 -1.6l-3.4 1.9l1.6 -1.7l1.3 -1.5l-2.5 1.2l2.3 -2.1l0.1 -0.7l-2.2 1l2.1 -2l-1.8 0.7l2 -2l-3.9 2.2l3.5 -3l-3.2 1.7l2.3 -2.1l1 -1.3l-1.9 0.8l-1 0.1l1.3 -1.4l-6.3 3.7l4.5 -3.6l0.1 -0.6l0.7 -1l-1 0.1l-1.2 0.3l0.7 -1l0.5 -0.8l-3.7 1.8l0 -0.6l0.6 -0.9l-2 0.7l-1 0.1l2.7 -2.2l0 -0.5l-0.5 -0.3l-0.2 -0.4l1.3 -1.2l-2 0.6l1.2 -1.2l-0.2 -0.5l1 -1l-1.9 0.6l1.8 -1.6l0.4 -0.8l0.9 -1l-2.3 0.8l1.6 -1.4l-4 1.8l-1 0l1.1 -1.1l-1.2 0.1l2.9 -2.1l-0.1 -0.4l-2.3 0.7l4 -2.7l-5.3 2.4l0.2 -0.6l2.9 -2l-2.7 0.9l-0.7 -0.2l1.1 -1.1l-1.4 0.3l-1 0l1.2 -1.1l0.1 -0.6l-5 2l3.8 -2.4l-0.7 -0.2M854.2 335.7l-1.1 0l-2 0.4l0.5 -0.7l-3.2 1l-2.6 0.6l1.6 -1.2l0.4 -0.7l0.7 -0.8l-0.7 -0.1l1.9 -1.4l-2.7 0.7l-0.4 -0.3l-1.3 0.1l2.3 -1.5l-1.5 0.1l-0.1 -0.4l1.5 -1.1l-1.2 0l-2.3 0.5l0.7 -0.8l2.5 -1.5l-2.5 0.5l0.9 -0.9l1.9 -1.2l-3.1 0.8l4.1 -2.1l-3.3 0.8l-0.4 -0.4l0.9 -0.8l-0.7 -0.2l1.1 -0.8l-0.6 -0.3l-1.9 0.2l-0.9 -0.1l-2.3 0.3l2.7 -1.5l0.3 -0.5l2.1 -1.2l-1.6 0.1l-4.1 0.9l1 -0.8l3 -1.6l-3 0.6l1.9 -1.1l4.6 -2l-3.7 0.7l-0.5 -0.3l1.4 -0.9l-0.2 -0.4l2.7 -1.3l-4.6 1l1 -0.8l1.5 -0.9l-0.8 -0.2l-1.2 -0.1l0.3 -0.6l1 -0.7l-5.6 1.1l4.5 -1.7l-1.3 -0.1l-1.6 0l4.4 -1.7l-3.1 0.4l-3 0.3l2.1 -1l-2.3 0.2l0.1 -0.5l2.2 -1.1l-2.1 0.1l-1.4 -0.1l4 -1.5l-2.7 0.2l0.1 -0.5l-1.4 -0.1l1.8 -0.9l-2.1 0.1l0 -0.5l1.2 -0.8l-0.3 -0.3l-0.8 -0.3l1.2 -0.8l-2.9 0.2l4.9 -1.5l-2.2 0l-2.4 0.1l1.7 -0.9l0.9 -0.6l-0.9 -0.3l0.9 -0.6l-0.2 -0.4l-1.3 -0.2l-2.3 0l1.9 -0.9l-1 -0.2l-1.1 -0.3l0.2 -0.5l3.1 -1l1.8 -0.8l-6.3 0.7l3.3 -1.1l0.4 -0.5l0.1 -0.5l0.9 -0.6l-1.2 -0.2l-0.3 -0.4l1.8 -0.8l-2.8 0l-1.8 -0.2l0.4 -0.5l-0.2 -0.4l-0.1 -0.5l0.9 -0.6l1.7 -0.6l0.3 -0.6l-2.5 -0.1l-3.5 0.1l3.5 -1l4.2 -1l-0.3 -0.4l-0.9 -0.3l-1.1 -0.3l-3 -0.1l0.7 -0.6l0.7 -0.5l-1.3 -0.3l5.7 -1.1l-3.9 0M831.8 278.7l2.1 -0.6l-1 -0.4l-2.6 -0.3l3.2 -0.6l-0.4 -0.5l-1.1 -0.3l3.3 -0.7l0.2 -0.5l-5.1 -0.1l1.3 -0.6l0.1 -0.4l1.9 -0.6l-4 -0.2l3.6 -0.6l0.4 -0.5l-1.5 -0.4l-2.4 -0.4l2.7 -0.5l0.2 -0.5l-0.5 -0.4l2.3 -0.5l-1.2 -0.5l0.6 -0.4l2.8 -0.5l-4.4 -0.4l0.9 -0.5l-0.3 -0.4l2.8 -0.5l-0.2 -0.4l-1.3 -0.5l-0.1 -0.4l0 -0.5l0.8 -0.4l-0.7 -0.5l-1.8 -0.4l1 -0.5l-2.4 -0.5l0.3 -0.4l2 -0.4l1.3 -0.5l-1.1 -0.4l-1 -0.5l3.7 -0.3l-5 -0.7l1.7 -0.4l0.6 -0.4l-2.3 -0.6l-3.9 -0.6l4.5 -0.2l0.8 -0.5l0.3 -0.4l1.1 -0.4l0.3 -0.4l0.4 -0.4l-6.8 -0.9l3.8 -0.2l-0.5 -0.5l-0.4 -0.5l0.2 -0.5l0.5 -0.4l0.7 -0.4l0.5 -0.4l-0.7 -0.5l-1.5 -0.6l5 0l-0.8 -0.5l0.2 -0.5l0.9 -0.3l0.1 -0.5l-0.9 -0.5l-0.3 -0.5l0 -0.5l-3.8 -0.9l1.5 -0.3l6.7 0.4l-6.8 -1.3l2.6 -0.1l3 -0.1l-4.6 -1l1.8 -0.2l0.9 -0.4l-1.9 -0.7l0.9 -0.3l1.8 -0.2l-0.6 -0.6l3.3 0.1l-3 -0.9l2.1 -0.2l2.3 0l-3.3 -1l-0.8 -0.6l0.1 -0.4l-0.1 -0.5l3.2 0.1l-3.5 -1.1l3 0.1l0.4 -0.4l-3.1 -1l-1.1 -0.6l6.1 0.6l-2.4 -0.9l-2 -0.8l-1.9 -0.8l5.2 0.5l-0.5 -0.5l0.3 -0.4l-0.6 -0.6l0.4 -0.4l-0.7 -0.5l-0.1 -0.5l-1.4 -0.8l3.9 0.4l-0.8 -0.6l-5.3 -1.7l1.9 0l4 0.5l-1.9 -0.9l-1.8 -0.9l2.6 0.1l-1.3 -0.7M841.6 219.8l1.7 0l-2.1 -1l1.6 0l-4.3 -1.8l3.6 0.6l0.6 -0.3l-2.9 -1.3l-1.2 -0.8l1.9 0.1l0.5 -0.4l-0.8 -0.7l-1.4 -0.9l-0.4 -0.6l3.6 0.7l-1.5 -1l-0.3 -0.6l2.3 0.3l0.3 -0.4l1.8 0.1l-2.8 -1.4l5.1 1.3l-2.4 -1.3l-1.8 -1.1l2.7 0.5l-1.4 -1l-3.5 -1.7l6.4 1.8l-2.1 -1.2l-0.9 -0.8l-1.3 -1l3.6 0.9l-2.3 -1.4l-0.7 -0.7l2.8 0.5l-2.4 -1.3l4.6 1.2l-3.1 -1.6l3.8 1l-3.1 -1.8l1.7 0.2l1.3 0.1l-3.2 -1.8l1.9 0.3l0.7 -0.2l-1.2 -1l0.9 -0.1l-0.6 -0.7l-1.6 -1.2l3.4 0.9l-1.1 -0.9l2 0.3l-2.5 -1.5l1.7 0.3l2.1 0.4l-2.8 -1.7l2.8 0.7l-1.9 -1.3l1.7 0.2l0.5 -0.2l-2.8 -1.8l2.2 0.5l-1.6 -1.2l0.3 -0.4l0.5 -0.2l1.7 0.3l-1.6 -1.3l-1.3 -1.1l2.8 0.8l-2.5 -1.7l2.6 0.8l0.2 -0.4l0.5 -0.3l0.9 -0.1l-5.2 -3.1l-0.2 -0.6l3.3 1.2l-2.2 -1.6l4.6 1.8l-1.8 -1.5l-0.5 -0.7l-2.5 -1.9l2.8 1l-0.4 -0.7l1.5 0.3l-0.3 -0.7l0.5 -0.2l1.8 0.4l-1.6 -1.4l-2.7 -2l4.1 1.7l0.1 -0.5l-0.1 -0.5l0.2 -0.4l1.1 0.1l-0.5 -0.8l0.6 -0.2l-0.8 -1l1.8 0.5l-0.7 -0.9l-0.4 -0.8l1.3 0.3l-1 -1.1l-0.2 -0.7l5.5 2.8l-2.2 -1.9l2 0.7l-1.7 -1.5l-1.6 -1.6l0.2 -0.4l0.5 -0.2l-0.6 -1l4.1 2.1l-1.9 -1.7l0.1 -0.5l1.7 0.6l2 0.8l-4.3 -3.4M864.9 167.4l-1.7 -1.7l1 0.1l0.7 0l3.7 2l-0.5 -0.8l-2.7 -2.6l0.4 -0.2l-0.9 -1.3l3 1.7l0.5 -0.1l-0.9 -1.3l0.7 -0.1l2.3 1.2l-2.2 -2.2l0.1 -0.5l0.3 -0.3l3.4 2l-1.9 -1.9l1 0.1l-3 -2.8l0 -0.6l4 2.5l0 -0.5l-0.9 -1.3l1.4 0.5l-1 -1.3l-2.6 -2.7l4.2 2.8l3.2 2.1l1.4 0.6l-4.9 -4.7l0.5 -0.1l2.6 1.6l-2.2 -2.4l1.8 0.9l0.3 -0.3l-1 -1.5l0.5 -0.2l0.9 0.2l-0.7 -1.2l1 0.3l0 -0.5l-2 -2.4l1.9 1l3.7 2.8l-2.9 -3.3l1.9 1.1l-4.2 -4.4l7.2 6l-1.9 -2.4l-0.1 -0.6l-1.5 -2l0.4 -0.3l1.2 0.5l1 0.4l-1.6 -2.1l1.9 1.1l-1 -1.6l2.4 1.8l-3 -3.6l3 2.3l-1.6 -2.2l3.2 2.5l-1.7 -2.2l1.5 0.8l0 -0.6l2.2 1.6l-2.4 -3.1l0.4 -0.2l1 0.3l-3.3 -4l3.1 2.6l0.1 -0.6l-1.5 -2.2l1.6 1l0.1 -0.5l1 0.4l-0.4 -1.1l0.8 0.2l-0.1 -0.8l0.8 0.3l-0.3 -1l1.4 0.7l2 1.7l-1 -1.8l-2.8 -3.8l2.2 1.8l0.2 -0.5l-0.6 -1.3l2.2 1.7l1 0.5l-1.2 -2l1.3 0.7l-1.1 -1.9l1 0.5l1.6 1.1l-1 -1.9l0.7 0.3l1.1 0.5l-0.6 -1.5l-2.2 -3.2l1.5 1.1l1 0.4l2.1 1.9l-2.7 -4.1l1.5 1.2l1 0.5l-0.2 -1l0.5 -0.1l-1.5 -2.6l1 0.6l0.5 -0.2l-1.9 -3.1l3.2 3.3M904.2 127.9l1.9 1.8l-0.9 -2l-0.7 -1.8l0.5 -0.1l1 0.7l-0.8 -1.9l2.5 2.8l-0.1 -0.9l0.9 0.4l-0.2 -1l1.1 0.8l-0.9 -2.1l1.4 1.3l2.4 2.7l-3.8 -6.5l2 2.2l0.6 0.2l2.5 2.9l-1.5 -3.1l-1.3 -2.8l0 -0.8l2.5 3l-0.9 -2.2l2.2 2.6l0 -0.7l0.8 0.3l-1.1 -2.5l1.5 1.5l-1 -2.4l0.2 -0.6l0.1 -0.6l0.2 -0.6l1.5 1.6l0.1 -0.7l1.4 1.4l-0.9 -2.4l0 -0.7l0.8 0.3l0.8 0.5l0.5 0l2.3 3.1l-1.2 -2.9l-0.3 -1.4l0.9 0.6l-0.8 -2.4l1.5 1.8l-0.6 -1.9l0.4 -0.3l1.8 2.4l-1.4 -3.6l0.1 -0.8l1.6 2.1l0.7 0.3l-1.3 -3.3l0.9 0.6l0.5 0l0.5 0l-0.4 -1.7l1 0.8l0.3 -0.4l2.8 4.6l-0.4 -1.8l-1 -2.9l0.4 -0.3l0.8 0.6l0.1 -0.8l0.4 -0.1l-0.4 -2l1.7 2.4l-0.6 -2.1l0.2 -0.8l0.2 -0.6l0.4 -0.2l1.5 2l0.6 0.3l-0.9 -3.1l0.2 -0.6l0.2 -0.7l1.1 1.4l0.8 0.6l-0.9 -3.1l1.5 2.2l-0.2 -1.6l0.5 -0.1l0.5 0l0.7 0.5l0.1 -0.8l1.7 2.8l0.4 -0.3l0.5 0.1l-0.5 -2.4l1.1 1.4l0.9 1l-0.1 -1.5l-0.4 -2.1l-0.1 -1.5l1.1 1.6l0.2 -0.9l1.7 3.1l-1.7 -5.5l1 1.4l0.5 -0.2l1.8 3.5l-0.4 -2.4l0.6 0.4l0.5 -0.1M950.1 103.6l1.3 2.4l-0.2 -1.9l-0.4 -2.7l1.3 2.5l0.5 0.2l-0.2 -2l0.8 0.8l-0.1 -1.8l1 1.6l-1.3 -5.5l2.4 6.3l0.4 -0.4l1 1.9l-0.4 -2.9l0.8 1l-1.2 -5.6l0.7 0.8l1.6 4l0.1 -1.3l0.5 -0.2l0.9 1.6l0 -1.5l0.9 1.6l-0.2 -2.4l0.9 1.7l0.4 -0.3l-0.1 -2.4l0.4 0l0.6 0.3l0.9 1.8l-0.9 -5.4l0.9 1.7l1.3 3.5l0.7 1.1l-0.6 -4.6l1.2 2.9l0.8 1.7l0.4 -0.2l-0.2 -2.9l1.1 2.6l0.3 -0.7l0.2 -0.8l-0.7 -5.6l1.3 4.1l0.4 -0.2l0 -2.2l0.1 -2.1l0.7 1.1l1.1 3.1l-0.3 -3.4l0.5 -0.2l1 3l0.9 2.2l0.4 0l-1 -8.1l1.2 3.7l0.5 0.7l0.7 1.3l0 -2.6l1.3 4.6l0.2 -1.1l0.1 -2.7l1 3.7l0.3 -0.8l0.1 -2.3l0.3 -1.4l0.8 2.6l0 -3.1l0.6 1l1 3.9l-0.5 -6.7l1 3.4l0.5 0.7l0.4 -0.6l0.2 -1.6l0.3 -1.7l0.8 2.9l0.5 0l0 -3.1l0.8 2.3l0.6 1.3l0.4 -0.1l0.4 -0.8l0 -3.6l0.9 3.8l0.1 -3.9l0.6 1.6l0.4 -0.4l0.3 -1.9l0.7 2.7l0.4 -0.9l0.3 -1.7l0.6 2.1l0.4 -1l0.2 -3.7l0.7 3.9l0.5 -0.3l0.3 -1.8l0.5 0.6l0.4 -0.5" fill="none" stroke="#7f90d4" stroke-width="0.5"/><path d="M1016.6 54.4A211.3 211.3 0 0 1 1186.7 157.8L1183 160A207 207 0 0 0 1016.4 58.7Z" fill="#90c4e0" stroke="#231815" stroke-width="0.8"/><path d="M1189.8 163.3A211.3 211.3 0 0 1 1215.6 280.9L1211.3 280.6A207 207 0 0 0 1186.1 165.4Z" fill="#3c70b0" stroke="#231815" stroke-width="0.8"/><path d="M1215 287.9A211.3 211.3 0 0 1 1186.9 372.6L1183.2 370.5A207 207 0 0 0 1210.7 287.4Z" fill="#98d888" stroke="#231815" stroke-width="0.8"/><path d="M1183.3 378.6A211.3 211.3 0 0 1 1121.5 441.6L1119.1 438A207 207 0 0 0 1179.6 376.3Z" fill="#3c9c40" stroke="#231815" stroke-width="0.8"/><path d="M1116.7 444.7A211.3 211.3 0 0 1 1036.4 474.3L1035.8 470.1A207 207 0 0 0 1114.4 441Z" fill="#f49090" stroke="#231815" stroke-width="0.8"/><path d="M1030.6 475.1A211.3 211.3 0 0 1 928.4 462.4L930 458.4A207 207 0 0 0 1030.1 470.9Z" fill="#d83830" stroke="#231815" stroke-width="0.8"/><path d="M923.6 460.5A211.3 211.3 0 0 1 861.8 420.9L864.7 417.8A207 207 0 0 0 925.3 456.5Z" fill="#f49080" stroke="#231815" stroke-width="0.8"/><path d="M858.3 417.7A211.3 211.3 0 0 1 815.8 359.7L819.6 357.8A207 207 0 0 0 861.3 414.6Z" fill="#a8d048" stroke="#231815" stroke-width="0.8"/><path d="M813.3 354.7A211.3 211.3 0 0 1 794.7 287.1L798.9 286.7A207 207 0 0 0 817.2 352.9Z" fill="#30a8a0" stroke="#231815" stroke-width="0.8"/><path d="M794.2 281.6A211.3 211.3 0 0 1 799.6 215.4L803.7 216.4A207 207 0 0 0 798.5 281.3Z" fill="#a8e8e0" stroke="#231815" stroke-width="0.8"/><path d="M801.3 208.6A211.3 211.3 0 0 1 828.2 149.4L831.8 151.8A207 207 0 0 0 805.5 209.7Z" fill="#7050b8" stroke="#231815" stroke-width="0.8"/><path d="M831.8 144.2A211.3 211.3 0 0 1 875.1 98.7L877.7 102.1A207 207 0 0 0 835.3 146.7Z" fill="#f4a8b8" stroke="#231815" stroke-width="0.8"/><path d="M880.1 94.9A211.3 211.3 0 0 1 931.9 67.1L933.4 71.1A207 207 0 0 0 882.6 98.4Z" fill="#f4c890" stroke="#231815" stroke-width="0.8"/><path d="M937.1 65.3A211.3 211.3 0 0 1 991.6 54.5L991.9 58.8A207 207 0 0 0 938.5 69.3Z" fill="#f8d0d0" stroke="#231815" stroke-width="0.8"/><path d="M1016.6 54.4L1016.8 50.8M1024.5 55L1024.7 53M1032.4 55.9L1032.6 53.9M1040.2 57.1L1040.5 55.1M1047.9 58.5L1048.3 56.6M1055.6 60.3L1056.5 56.8M1063.2 62.3L1063.8 60.4M1070.8 64.6L1071.4 62.7M1078.2 67.2L1078.9 65.4M1085.6 70.1L1086.3 68.3M1092.8 73.3L1094.3 70M1099.9 76.7L1100.8 74.9M1106.9 80.4L1107.9 78.6M1113.7 84.3L1114.8 82.6M1120.4 88.5L1121.5 86.8M1127 93L1129 90M1133.3 97.6L1134.5 96M1139.5 102.5L1140.8 101M1145.5 107.7L1146.8 106.2M1151.3 113L1152.6 111.6M1156.8 118.6L1159.4 116.1M1162.2 124.4L1163.7 123.1M1167.4 130.4L1168.9 129.1M1172.3 136.5L1173.9 135.3M1177 142.9L1178.6 141.7M1181.5 149.4L1184.5 147.4M1185.7 156.1L1187.4 155M1189.8 163.3L1193 161.5M1193.5 170.3L1195.3 169.4M1196.9 177.4L1198.8 176.5M1200.1 184.6L1201.9 183.8M1203 192L1204.8 191.3M1205.6 199.4L1209 198.3M1207.9 206.9L1209.8 206.4M1209.9 214.6L1211.9 214.1M1211.7 222.3L1213.7 221.9M1213.2 230L1215.1 229.7M1214.3 237.8L1217.9 237.3M1215.2 245.7L1217.2 245.5M1215.8 253.5L1217.8 253.4M1216.1 261.4L1218.1 261.4M1216.1 269.3L1218.1 269.3M1215.8 277.2L1219.4 277.4M1215 287.9L1218.5 288.2M1214 295.7L1215.9 296M1212.7 303.5L1214.7 303.8M1211.1 311.2L1213.1 311.6M1209.3 318.9L1211.2 319.4M1207.1 326.5L1210.6 327.5M1204.7 334L1206.6 334.6M1202 341.4L1203.9 342.1M1199 348.7L1200.9 349.5M1195.8 355.9L1197.6 356.8M1192.3 363L1195.5 364.6M1188.5 369.9L1190.2 370.9M1183.3 378.6L1186.3 380.5M1178.9 385.2L1180.6 386.3M1174.3 391.6L1175.9 392.8M1169.5 397.9L1171 399.1M1164.4 403.9L1165.9 405.2M1159.1 409.8L1161.8 412.2M1153.6 415.4L1155 416.9M1147.9 420.9L1149.3 422.4M1142 426.1L1143.3 427.6M1135.9 431.1L1137.2 432.7M1129.6 435.9L1131.8 438.8M1123.2 440.5L1124.3 442.1M1116.7 444.7L1118.6 447.7M1109.9 448.7L1110.9 450.5M1103 452.5L1103.9 454.3M1095.9 456.1L1096.8 457.9M1088.7 459.3L1089.5 461.2M1081.4 462.3L1082.7 465.7M1074 465.1L1074.7 466.9M1066.5 467.5L1067.1 469.4M1058.9 469.7L1059.4 471.6M1051.3 471.5L1051.7 473.5M1043.5 473.1L1044.2 476.7M1030.6 475.1L1031 478.7M1022.8 475.9L1022.9 477.9M1014.9 476.5L1015 478.5M1007 476.7L1007 478.7M999.1 476.6L999 478.6M991.2 476.3L991 479.9M983.4 475.6L983.1 477.6M975.5 474.7L975.2 476.6M967.7 473.4L967.4 475.4M960 471.9L959.6 473.8M952.3 470.1L951.4 473.5M944.7 468L944.1 469.9M937.2 465.6L936.5 467.5M929.7 462.9L929 464.8M923.6 460.5L922.3 463.8M916.4 457.3L915.6 459.1M909.3 453.9L908.4 455.7M902.3 450.2L901.4 451.9M895.5 446.2L894.5 447.9M888.8 442L886.9 445M882.3 437.6L881.2 439.2M876 432.9L874.8 434.4M869.8 427.9L868.5 429.5M863.8 422.8L862.5 424.3M858.3 417.7L855.8 420.2M852.8 412.1L851.3 413.5M847.4 406.3L845.9 407.6M842.2 400.3L840.7 401.6M837.3 394.1L835.7 395.4M832.6 387.8L829.7 389.9M828.2 381.3L826.5 382.4M824 374.6L822.2 375.6M820 367.8L818.3 368.7M816.3 360.8L814.5 361.7M813.3 354.7L810.1 356.2M810.1 347.5L808.3 348.3M807.2 340.2L805.3 340.9M804.6 332.7L802.7 333.4M802.2 325.2L800.3 325.8M800.1 317.6L796.6 318.5M798.3 309.9L796.3 310.3M796.8 302.2L794.8 302.5M795.5 294.4L793.6 294.6M794.2 281.6L790.6 281.9M793.7 273.7L791.7 273.8M793.6 265.8L791.6 265.8M793.7 258L791.7 257.9M794.1 250.1L792.1 249.9M794.8 242.2L791.2 241.8M795.8 234.4L793.9 234.1M797.1 226.6L795.2 226.2M798.7 218.9L796.8 218.4M801.3 208.6L797.9 207.6M803.6 201L801.7 200.4M806.1 193.5L804.3 192.9M809 186.2L807.1 185.4M812.1 178.9L810.2 178.1M815.4 171.8L812.2 170.2M819.1 164.8L817.3 163.8M822.9 157.9L821.2 156.9M827.1 151.2L825.4 150.1M831.8 144.2L828.8 142.1M836.4 137.8L834.8 136.6M841.3 131.6L839.7 130.4M846.4 125.6L844.9 124.3M851.7 119.8L850.3 118.4M857.3 114.2L854.8 111.6M863 108.8L861.7 107.3M869 103.6L867.7 102.1M880.1 94.9L877.9 92M886.5 90.3L885.4 88.7M893.1 86.1L892.1 84.4M899.9 82L898.9 80.3M906.8 78.2L905.9 76.4M913.9 74.7L912.3 71.4M921.1 71.4L920.3 69.6M928.4 68.4L927.6 66.6M937.1 65.3L936 61.8M944.6 62.9L944.1 60.9M952.2 60.8L951.7 58.8M959.9 58.9L959.5 57M967.6 57.4L967.3 55.4M975.4 56.2L974.9 52.6M983.3 55.2L983.1 53.2M991.1 54.5L991 52.5" stroke="#231815" stroke-width="0.7" fill="none"/><text x="1017.7" y="34.8" text-anchor="middle" dominant-baseline="central" transform="rotate(-86.8 1017.7 35.3)" class="tl">0</text><text x="1060.2" y="41.1" text-anchor="middle" dominant-baseline="central" transform="rotate(-76.1 1060.2 41.6)" class="tl">10</text><text x="1100.8" y="55.3" text-anchor="middle" dominant-baseline="central" transform="rotate(-65.4 1100.8 55.8)" class="tl">20</text><text x="1138" y="76.8" text-anchor="middle" dominant-baseline="central" transform="rotate(-54.7 1138 77.3)" class="tl">30</text><text x="1170.7" y="104.8" text-anchor="middle" dominant-baseline="central" transform="rotate(-44 1170.7 105.3)" class="tl">40</text><text x="1206.6" y="153.5" text-anchor="middle" dominant-baseline="central" transform="rotate(-28.9 1206.6 154)" class="tl">0</text><text x="1223.8" y="192.9" text-anchor="middle" dominant-baseline="central" transform="rotate(-18.2 1223.8 193.4)" class="tl">10</text><text x="1233.4" y="234.8" text-anchor="middle" dominant-baseline="central" transform="rotate(-7.5 1233.4 235.3)" class="tl">20</text><text x="1235" y="277.8" text-anchor="middle" dominant-baseline="central" transform="rotate(3.2 1235 278.3)" class="tl">30</text><text x="1234" y="289.4" text-anchor="middle" dominant-baseline="central" transform="rotate(6.1 1234 289.9)" class="tl">0</text><text x="1225.5" y="331.5" text-anchor="middle" dominant-baseline="central" transform="rotate(16.8 1225.5 332)" class="tl">10</text><text x="1209.3" y="371.3" text-anchor="middle" dominant-baseline="central" transform="rotate(27.5 1209.3 371.8)" class="tl">20</text><text x="1199.5" y="388.4" text-anchor="middle" dominant-baseline="central" transform="rotate(32.4 1199.5 388.9)" class="tl">0</text><text x="1173.2" y="422.4" text-anchor="middle" dominant-baseline="central" transform="rotate(43.1 1173.2 422.9)" class="tl">10</text><text x="1141" y="450.9" text-anchor="middle" dominant-baseline="central" transform="rotate(53.8 1141 451.4)" class="tl">20</text><text x="1126.8" y="460.5" text-anchor="middle" dominant-baseline="central" transform="rotate(58.1 1126.8 461)" class="tl">0</text><text x="1088.4" y="479.7" text-anchor="middle" dominant-baseline="central" transform="rotate(68.8 1088.4 480.2)" class="tl">10</text><text x="1047.1" y="491.5" text-anchor="middle" dominant-baseline="central" transform="rotate(79.5 1047.1 492)" class="tl">20</text><text x="1032.9" y="493.7" text-anchor="middle" dominant-baseline="central" transform="rotate(83 1032.9 494.2)" class="tl">0</text><text x="990" y="493.8" text-anchor="middle" dominant-baseline="central" transform="rotate(-86.3 990 495.4)" class="tl">10</text><text x="947.5" y="487.1" text-anchor="middle" dominant-baseline="central" transform="rotate(-75.6 947.5 488.7)" class="tl">20</text><text x="916.3" y="476.6" text-anchor="middle" dominant-baseline="central" transform="rotate(-67.4 916.3 478.2)" class="tl">0</text><text x="878.3" y="456.5" text-anchor="middle" dominant-baseline="central" transform="rotate(-56.7 878.3 458.1)" class="tl">10</text><text x="845" y="429.9" text-anchor="middle" dominant-baseline="central" transform="rotate(-46.1 845 431.5)" class="tl">0</text><text x="817" y="397.3" text-anchor="middle" dominant-baseline="central" transform="rotate(-35.4 817 398.9)" class="tl">10</text><text x="795.9" y="361.2" text-anchor="middle" dominant-baseline="central" transform="rotate(-25 795.9 362.8)" class="tl">0</text><text x="781.5" y="320.7" text-anchor="middle" dominant-baseline="central" transform="rotate(-14.3 781.5 322.3)" class="tl">10</text><text x="775" y="281.5" text-anchor="middle" dominant-baseline="central" transform="rotate(-4.4 775 283.1)" class="tl">0</text><text x="775.7" y="238.5" text-anchor="middle" dominant-baseline="central" transform="rotate(6.3 775.7 240.1)" class="tl">10</text><text x="782.8" y="201.8" text-anchor="middle" dominant-baseline="central" transform="rotate(15.6 782.8 203.4)" class="tl">0</text><text x="798.2" y="161.7" text-anchor="middle" dominant-baseline="central" transform="rotate(26.3 798.2 163.3)" class="tl">10</text><text x="816" y="131.6" text-anchor="middle" dominant-baseline="central" transform="rotate(35 816 133.2)" class="tl">0</text><text x="843.9" y="98.8" text-anchor="middle" dominant-baseline="central" transform="rotate(45.7 843.9 100.4)" class="tl">10</text><text x="868.7" y="77.8" text-anchor="middle" dominant-baseline="central" transform="rotate(53.8 868.7 79.4)" class="tl">0</text><text x="905.6" y="55.8" text-anchor="middle" dominant-baseline="central" transform="rotate(64.5 905.6 57.4)" class="tl">10</text><text x="930.9" y="45.5" text-anchor="middle" dominant-baseline="central" transform="rotate(71.3 930.9 47.1)" class="tl">0</text><text x="972.8" y="35.5" text-anchor="middle" dominant-baseline="central" transform="rotate(82 972.8 37.1)" class="tl">10</text><text x="1149.6" y="56.3" text-anchor="middle" dominant-baseline="central" transform="rotate(34.7 1149.6 56.3)" class="cn2">Chr1</text><text x="1249.9" y="201.1" text-anchor="middle" dominant-baseline="central" transform="rotate(75.3 1249.9 201.1)" class="cn2">Chr2</text><text x="1246.2" y="346.2" text-anchor="middle" dominant-baseline="central" transform="rotate(-71.5 1246.2 346.2)" class="cn2">Chr3</text><text x="1192.3" y="442.7" text-anchor="middle" dominant-baseline="central" transform="rotate(-46.6 1192.3 442.7)" class="cn2">Chr4</text><text x="1101.9" y="498.5" text-anchor="middle" dominant-baseline="central" transform="rotate(-22.6 1101.9 498.5)" class="cn2">Chr5</text><text x="981.8" y="519.1" text-anchor="middle" dominant-baseline="central" transform="rotate(5.2 981.8 519.1)" class="cn2">Chr6</text><text x="867" y="478.4" text-anchor="middle" dominant-baseline="central" transform="rotate(32.9 867 478.4)" class="cn2">Chr7</text><text x="800.6" y="413.8" text-anchor="middle" dominant-baseline="central" transform="rotate(54 800.6 413.8)" class="cn2">Chr8</text><text x="757.3" y="330.8" text-anchor="middle" dominant-baseline="central" transform="rotate(75.2 757.3 330.8)" class="cn2">Chr9</text><text x="754.1" y="245.7" text-anchor="middle" dominant-baseline="central" transform="rotate(94.5 754.1 245.7)" class="cn2">Chr10</text><text x="773.9" y="162.1" text-anchor="middle" dominant-baseline="central" transform="rotate(-65.9 773.9 162.1)" class="cn2">Chr11</text><text x="816.5" y="92.8" text-anchor="middle" dominant-baseline="central" transform="rotate(-47.5 816.5 92.8)" class="cn2">Chr12</text><text x="882.2" y="44.1" text-anchor="middle" dominant-baseline="central" transform="rotate(-29 882.2 44.1)" class="cn2">Chr13</text><text x="950.6" y="20.8" text-anchor="middle" dominant-baseline="central" transform="rotate(-12.5 950.6 20.8)" class="cn2">Chr14</text><text x="1003.5" y="49" text-anchor="middle" dominant-baseline="central" class="tk">a</text><text x="1003.5" y="70.2" text-anchor="middle" dominant-baseline="central" class="tk">b</text><text x="1003.5" y="93.4" text-anchor="middle" dominant-baseline="central" class="tk">c</text><text x="1003.5" y="117.6" text-anchor="middle" dominant-baseline="central" class="tk">d</text><text x="1003.5" y="140.8" text-anchor="middle" dominant-baseline="central" class="tk">e</text><text x="1003.5" y="167" text-anchor="middle" dominant-baseline="central" class="tk">f</text><text x="1003.5" y="190.2" text-anchor="middle" dominant-baseline="central" class="tk">g</text><path d="M949.4 196.4Q988.6 257.8 916.4 266.8M956.8 191.1Q989.2 256.4 916.5 261.2M941.3 203.8Q987.6 260.2 917.8 281.6M924.7 227.9Q987 263.2 918.1 282.8M941.2 203.9Q987.8 259.5 916.8 274.3M944.4 200.8Q987.6 260.1 918.5 285M937.9 207.5Q987.9 259.3 916.4 267.1M953.4 193.4Q989.1 256.7 916.5 260.7M959.9 189.2Q988.4 258.1 918.1 283M933.2 213.5Q987.5 260.6 916.7 273.3M925 227.2Q987.4 261.1 916.4 262.7M959.7 189.3Q988.6 257.7 917.4 279.3M929.8 218.4Q987.2 261.7 917.3 278.2M935 211Q988.1 258.9 916.6 258.6M935 211.1Q987.3 261.2 918 282.4M942.2 202.9Q987.8 259.6 917 276.2M962.9 187.5Q989.1 256.7 916.6 271.6M930.7 217.2Q987.7 260 916.4 262.9M925.8 225.7Q987.4 261.1 916.4 264M946.6 198.7Q988.1 258.7 916.7 273.7M944 201.1Q987.4 261 920.9 293.4M943.4 201.7Q988.5 257.9 916.5 260.5M944.1 201Q988.1 258.7 916.5 270.4M950.8 195.3Q988.6 257.7 916.4 267.8M928.2 221.1Q987.5 260.6 916.4 264M943.4 201.7Q987.9 259.4 917 276.5M941.7 203.4Q988.3 258.2 916.4 261.4M936.3 209.4Q987.7 260.1 916.7 272.9M958.6 189.9Q989.2 256.5 916.4 264.2M956.3 191.4Q988.2 258.6 918.3 284" fill="none" stroke="#f07060" stroke-width="0.45" stroke-opacity="0.85"/><path d="M916.4 266.3Q987.2 269.1 923.4 300M917.2 252.8Q987 267.6 923 299.1M916.9 255.4Q987.4 269.9 932.6 316.5M916.5 271Q987.5 270 925.5 304.5M919.7 241.2Q987.4 269.7 941 326.6M916.5 261.1Q987.2 268.7 923.9 301.1M920.6 238.4Q987 267.5 929 310.9M916.4 269.5Q987.7 270.9 930.9 313.9M921.2 236.6Q986.9 266.3 924.6 302.6M917.2 252.9Q987.5 270.1 935.2 320M917.3 252.4Q987.7 270.7 940 325.6M918.9 244.4Q987.3 269.3 935.8 320.8M916.6 272.6Q988.2 272.2 936.7 321.8M916.5 259.8Q987.2 269.1 926.3 306.1M920.7 238.1Q987 267.5 929.2 311.4M916.4 265.8Q987.2 269 923.3 299.7M918.6 245.4Q986.9 266.8 922.7 298.3M921.4 235.9Q986.9 266.4 925.3 304.1M916.8 256.8Q987.2 268.8 926.1 305.8M916.4 264Q987.3 269.2 925 303.7M918.4 246.6Q987.5 270 939.1 324.6M916.9 255.4Q987.5 270 933.5 317.7M916.4 266Q987.4 269.8 926.5 306.5M916.4 264.9Q988.2 272.2 942.2 327.9M992.5 177.8Q995 258.5 918.4 284.2M993.6 177.6Q994.8 258.8 919.6 289.2M995 177.4Q994.8 258.9 920.5 292M990.4 178.1Q994.6 259.2 920.7 292.9M993.5 177.6Q995.1 258.4 918.2 283.4M991 178Q994.8 258.8 919 286.9M1074.5 320Q1004.9 265.4 1040.4 346.4M1086.2 300.3Q1004.9 265.4 1036.1 348.2M1072.7 322.2Q1004.9 265.4 1044.6 344.5M1087.1 297.9Q1004.9 265.4 1060.7 334M1085.9 300.9Q1004.9 265.4 1030.4 350.1M1086 300.7Q1004.9 265.4 1056 337.6M1074.9 319.5Q1004.9 265.4 1045.3 344.1M1086.7 299Q1004.9 265.4 1045.9 343.8M1070.6 324.7Q1004.9 265.4 1040.6 346.4M1080.3 311.7Q1004.9 265.4 1030.5 350.1M1082 308.7Q1004.9 265.4 1057.1 336.8M1068 327.4Q1004.9 265.4 1036.9 347.9M1076.3 317.7Q1004.9 265.4 1025.6 351.4M1085.3 302.2Q1004.9 265.4 1032.6 349.4" fill="none" stroke="#f08a30" stroke-width="0.45" stroke-opacity="0.85"/><path d="M942.9 202.2Q987.7 260.1 918 282.4M941 204.1Q988.7 257.4 917.4 251.9M948.7 197Q989.2 256.5 917.4 251.8M952.8 193.8Q989.3 256.3 916.9 255.2M954.2 192.8Q988.1 258.7 918.1 282.9M945 200.2Q988.6 257.7 916.5 260.2M955.9 191.7Q989.4 256.1 916.8 256.6M937.7 207.7Q987.3 261.3 919.2 287.8M946 199.3Q989.1 256.6 917.7 250.1M933.3 213.4Q987.5 260.7 916.8 274.6M949.6 196.3Q988.1 258.7 917.2 277.4M951.5 194.8Q988.3 258.3 917 275.8" fill="none" stroke="#a0a0a0" stroke-width="0.45" stroke-opacity="0.85"/><path d="M988.8 178.4Q993 263.7 964.8 344.3M961.5 188.3Q992.9 264.8 954.2 338M969.5 184.3Q992.9 265.2 966.6 345.2M984 179.4Q992.9 264.2 967.6 345.7M977.4 181.3Q993.1 262.8 944.8 330.4M965.7 186Q992.9 264 948.8 333.8M969.1 184.4Q992.9 264 951.8 336.2M985.8 179Q993 263.7 962 342.8M981.1 180.2Q992.9 264.5 968.9 346.3M979.2 180.7Q992.9 264.3 964.6 344.2M978 181.1Q993.1 262.8 945 330.6M985 179.1Q993 263.3 956.6 339.6M984.1 179.4Q992.9 264.1 965.8 344.8M983.6 179.5Q993 263.5 957.9 340.4M962.1 187.9Q992.9 266.1 970.9 347.1M989 178.3Q993 263.4 961 342.3M962.8 187.5Q992.9 266 971.2 347.3M972.2 183.2Q992.9 265.2 968.9 346.3M962.6 187.7Q992.9 265.7 966.3 345.1M989.3 178.3Q993.3 262.2 946.9 332.3M963.8 187Q992.9 264.5 953 337.1M966.8 185.5Q992.9 264.6 957.1 339.9M986.6 178.8Q993.3 262.1 943.2 328.9M970.3 183.9Q992.9 264.8 962.3 343M979.8 180.5Q993 263.5 954.8 338.4M979.5 180.6Q993 263.8 958.3 340.7M964.7 186.5Q993 263.6 943.1 328.8M978.4 181Q992.9 264 959.3 341.3M976.2 181.6Q993 263.5 951.6 336.1M972.7 182.9Q992.9 265.3 971.7 347.5M1017.4 353Q1004.9 265.4 987.9 352.3M995.7 353.4Q1004.9 265.4 962.4 343M1004.5 353.9Q1004.9 265.4 962.2 342.9M1007.9 353.8Q1004.9 265.4 996.4 353.5M995.7 353.4Q1004.9 265.4 962.2 343M996.8 353.5Q1004.9 265.4 978.2 349.8M1024.8 351.6Q1004.9 265.4 968.4 346M1016.6 353.1Q1004.9 265.4 966.1 345M1041.6 345.9Q1004.9 265.4 985.3 351.7M1000.8 353.8Q1004.9 265.4 963.3 343.5M1001.7 353.8Q1004.9 265.4 995.8 353.4M1037 347.9Q1004.9 265.4 991.4 352.9M1028.7 350.6Q1004.9 265.4 958.5 340.8M1036 348.3Q1004.9 265.4 979.7 350.3M1031.2 349.9Q1004.9 265.4 991.2 352.8M1028.6 350.7Q1004.9 265.4 961.9 342.8M1027.9 350.8Q1004.9 265.4 960.1 341.7M1027.3 351Q1004.9 265.4 967.6 345.7M1002.6 353.9Q1004.9 265.4 995.3 353.4M1008.5 353.8Q1004.9 265.4 988.1 352.3M1032.3 349.5Q1004.9 265.4 993.6 353.2M1021.9 352.2Q1004.9 265.4 959.6 341.5M1025 351.6Q1004.9 265.4 996 353.5M1022.7 352.1Q1004.9 265.4 990.8 352.8M1040 346.6Q1004.9 265.4 982 350.9M1028.8 350.6Q1004.9 265.4 972.6 347.8M1027.8 350.9Q1004.9 265.4 989.7 352.6M1013.5 353.5Q1004.9 265.4 992 353" fill="none" stroke="#40b070" stroke-width="0.38" stroke-opacity="0.85"/><path d="M988.6 178.4Q994.2 259.9 924.7 302.9M989.7 178.2Q993.8 260.7 931.7 315.3M992.8 177.7Q993.8 260.7 933.2 317.3M993.5 177.6Q994.4 259.5 924.1 301.5M992 177.8Q994.2 259.9 926.1 305.8M992.6 177.8Q994.1 260 927.3 308.1M989.1 178.3Q993.7 260.8 932.5 316.3M995.2 177.4Q994.1 260.2 929.7 312.2M992.1 177.8Q994 260.3 929.5 311.8M987.3 178.7Q993.8 260.7 930.3 313.1" fill="none" stroke="#a050c0" stroke-width="0.6" stroke-opacity="0.85"/><path d="M1025.6 179.4Q1029.1 256.1 1077.6 315.8M1027.5 179.9Q1030.1 259.1 1065.2 330.1M1032.4 181.3Q1030.3 260.3 1062.8 332.3M1032.3 181.3Q1028.8 255.4 1084 305M1013.8 177.4Q1027.9 253.3 1082.5 307.9M1012.4 177.2Q1029.6 257.4 1062.7 332.4M1015.4 177.5Q1028.3 254.1 1080.2 311.9M1018.7 178Q1029.6 257.6 1066.5 328.9M1028.3 180.1Q1029.5 257.2 1074.7 319.8M1020.4 178.3Q1029.9 258.4 1063.1 332M1021.4 178.5Q1028.7 255.1 1079.6 312.8M1032.4 181.3Q1030.3 260.1 1063.9 331.4M1026.3 179.5Q1029.5 257.2 1073.5 321.3M1025.9 179.5Q1029.3 256.5 1076.3 317.6M1032.9 181.5Q1030.2 259.5 1067.2 328.2M1026.9 179.7Q1029.1 256 1078.9 313.9M1045.3 186.7Q1004.9 265.4 1076.3 213.1M1061.3 197.3Q1004.9 265.4 1079.7 218.2M1048.3 188.3Q1004.9 265.4 1073.4 209.4M1041.3 184.8Q1004.9 265.4 1074.7 211M1050 189.3Q1004.9 265.4 1078.9 216.9M1048 188.1Q1004.9 265.4 1080.8 219.9" fill="none" stroke="#30b0a0" stroke-width="0.38" stroke-opacity="0.85"/><path d="M1084.9 227.6Q1004.9 265.4 1091.3 284.2M1088.1 235.5Q1004.9 265.4 1092.8 275.4M1087.4 233.4Q1004.9 265.4 1093.2 270.6M1082 222Q1004.9 265.4 1093.3 261.8M1079.3 217.6Q1004.9 265.4 1093.3 269.3M1081.9 221.8Q1004.9 265.4 1093.1 259.3M1086 230.1Q1004.9 265.4 1093.2 270.6M1088.1 235.4Q1004.9 265.4 1093.2 260.1M1079.8 218.4Q1004.9 265.4 1093.1 258.4M1079.7 218.1Q1004.9 265.4 1093.3 268M1084.7 227.3Q1004.9 265.4 1093 257.4M1089.9 240.8Q1004.9 265.4 1093.3 269.2M1089.4 239.3Q1004.9 265.4 1093.3 269.4M1078.4 216.2Q1004.9 265.4 1091.3 284.3M1085.4 228.8Q1004.9 265.4 1092.9 256.7M1087.5 233.9Q1004.9 265.4 1092.7 275.8M1085.7 229.5Q1004.9 265.4 1093.1 271.9" fill="none" stroke="#2c4c9c" stroke-width="0.34" stroke-opacity="0.85"/><path d="M1092.4 278.1Q1004.9 265.4 1065.4 329.9M1092.6 277.1Q1004.9 265.4 1070.3 325M1092.9 274.6Q1004.9 265.4 1066.4 329M1092.6 276.9Q1004.9 265.4 1068.7 326.7M1092.1 280.4Q1004.9 265.4 1073.5 321.3M1075.7 318.4Q1004.9 265.4 1037.6 347.6M1065.1 330.2Q1004.9 265.4 1036.8 347.9M1077.4 316Q1004.9 265.4 1043.1 345.2M1072.4 322.6Q1004.9 265.4 1026.1 351.3M1084.8 303.4Q1004.9 265.4 1022.1 352.2M1076.3 317.7Q1004.9 265.4 1039.3 346.9M1084 305Q1004.9 265.4 1019.7 352.6M1080.2 311.8Q1004.9 265.4 1010.4 353.7M1085.4 302Q1004.9 265.4 1037.1 347.8M1062.8 332.3Q1004.9 265.4 1043.5 345M1086.2 300.3Q1004.9 265.4 1019 352.8M1084.5 303.9Q1004.9 265.4 1044.3 344.6M1062.7 332.3Q1004.9 265.4 1011.8 353.6M1066.9 328.5Q1004.9 265.4 1039.7 346.7M1067.4 328.1Q1004.9 265.4 1045.1 344.2M1081.8 309.2Q1004.9 265.4 1043.3 345.1M1067.7 327.7Q1004.9 265.4 1027.7 350.9M1076.6 317.2Q1004.9 265.4 1035.9 348.3" fill="none" stroke="#e8e040" stroke-width="0.45" stroke-opacity="0.85"/><path d="M1089.4 291.6Q1004.9 265.4 1074.3 320.2M1080.9 310.7Q1004.9 265.4 1071.2 324M1089.7 290.5Q1004.9 265.4 1073 321.9M1083.5 306Q1004.9 265.4 1067.4 328M1087.8 296.3Q1004.9 265.4 1067.5 327.9M1078.2 314.9Q1004.9 265.4 1074.2 320.3M1089.7 290.5Q1004.9 265.4 1071.5 323.7M1082.1 308.6Q1004.9 265.4 1065.5 329.9" fill="none" stroke="#f07060" stroke-width="0.38" stroke-opacity="0.85"/><path d="M957.7 340.3Q1004.9 265.4 992.1 353M959.4 341.3Q1004.9 265.4 990.5 352.7M954.5 338.2Q1004.9 265.4 1001.5 353.8M957.9 340.4Q1004.9 265.4 991 352.8M965 344.4Q1004.9 265.4 996.2 353.5M958.9 341Q1004.9 265.4 1002.2 353.9M966.9 345.4Q1004.9 265.4 990.9 352.8M969.8 346.7Q1004.9 265.4 990.4 352.7M966.5 345.2Q1004.9 265.4 1003.3 353.9" fill="none" stroke="#202020" stroke-width="0.6" stroke-opacity="0.85"/><path d="M986.9 352.1Q1004.9 265.4 975.5 348.9M987.5 352.2Q1004.9 265.4 965.6 344.7M986.9 352.1Q1004.9 265.4 981.9 350.9M977 349.4Q1004.9 265.4 973.7 348.2M975.8 349Q1004.9 265.4 976 349.1M1003.2 353.9Q1004.9 265.4 976.7 349.3M997.4 353.6Q1004.9 265.4 981 350.6M997.7 353.6Q1004.9 265.4 965.7 344.8" fill="none" stroke="#3060b0" stroke-width="0.45" stroke-opacity="0.85"/><path d="M924.6 302.6Q995.1 267.6 916.4 267M925.4 304.4Q995.4 268.8 918.7 285.5M924.1 301.6Q995.4 268.7 919.1 287.1M931.4 314.8Q995.3 268.4 916.4 267.2M926.3 306.1Q995.3 268.3 916.9 275.2M925.8 305.3Q995.4 268.7 918.3 284.1M929.1 311.2Q995.6 269.3 919.4 288.3M927.1 307.7Q995.5 269 918.9 286.7" fill="none" stroke="#e8e040" stroke-width="0.38" stroke-opacity="0.85"/><path d="M264.5 236.8Q272 239 278.5 249" fill="none" stroke="#a2b23a" stroke-width="2"/><ellipse cx="285" cy="268.8" rx="10.8" ry="22" fill="#1b1717"/><g fill="#1b1717"><circle cx="283.1" cy="276.4" r="3.4"/><circle cx="292.1" cy="275.9" r="3.1"/><circle cx="292.2" cy="274.4" r="2.8"/><circle cx="282.4" cy="271.2" r="2.8"/><circle cx="276.3" cy="277.9" r="2.8"/><circle cx="286.4" cy="286" r="3.7"/><circle cx="279" cy="262.3" r="3.7"/><circle cx="294.6" cy="274.7" r="3"/><circle cx="287.3" cy="274.7" r="3"/><circle cx="286.9" cy="260.2" r="3.3"/><circle cx="280.8" cy="258.5" r="3.3"/><circle cx="287.4" cy="270.9" r="2.9"/><circle cx="282" cy="255.8" r="3"/><circle cx="278.8" cy="261.2" r="3"/><circle cx="287.5" cy="251.1" r="3"/><circle cx="278" cy="261.6" r="3.6"/><circle cx="284.3" cy="257.1" r="3.7"/><circle cx="290.1" cy="278.4" r="3.5"/><circle cx="289.4" cy="281.4" r="2.8"/><circle cx="280.4" cy="252" r="3.3"/><circle cx="289.3" cy="260.1" r="3.4"/><circle cx="278.2" cy="259.4" r="3.2"/><circle cx="290.6" cy="250.7" r="3.2"/><circle cx="283.6" cy="264.2" r="3.4"/><circle cx="278.5" cy="251.3" r="3.6"/><circle cx="283.6" cy="282.1" r="3.4"/><circle cx="292.3" cy="270.9" r="2.9"/><circle cx="286.9" cy="272.4" r="3.5"/><circle cx="288.7" cy="276.7" r="3.1"/><circle cx="287.1" cy="264.3" r="3.2"/><circle cx="275.3" cy="262.5" r="3.6"/><circle cx="288.7" cy="260" r="3.1"/><circle cx="278.6" cy="284.8" r="3.7"/><circle cx="287.6" cy="276.3" r="3"/><circle cx="285.8" cy="284" r="3.3"/><circle cx="284.9" cy="270.2" r="3.1"/><circle cx="279.5" cy="280.9" r="3.7"/><circle cx="282.2" cy="254.1" r="3.3"/><circle cx="283.9" cy="264.2" r="3.6"/><circle cx="286.9" cy="248.6" r="3.5"/><circle cx="279.7" cy="277.5" r="2.8"/><circle cx="283.2" cy="264.7" r="2.8"/><circle cx="286.1" cy="277.4" r="3.1"/><circle cx="285.2" cy="268.9" r="2.9"/><circle cx="290.2" cy="276.7" r="2.7"/><circle cx="291" cy="256.6" r="2.9"/><circle cx="284.9" cy="281.8" r="3.1"/><circle cx="292.1" cy="282.9" r="3.7"/><circle cx="277.7" cy="272" r="2.8"/><circle cx="290.1" cy="276.5" r="3"/><circle cx="287.1" cy="261" r="2.7"/><circle cx="292.5" cy="264" r="2.9"/><circle cx="283.3" cy="267.8" r="3.3"/><circle cx="294.9" cy="266" r="3.4"/><circle cx="284.5" cy="282.1" r="2.9"/><circle cx="286.1" cy="252.9" r="3.5"/><circle cx="282.6" cy="277.9" r="3.5"/><circle cx="294.9" cy="266.9" r="3.5"/><circle cx="288.9" cy="251.6" r="3"/><circle cx="278.6" cy="267.3" r="2.7"/><circle cx="290.6" cy="270.8" r="3"/><circle cx="281.3" cy="248.7" r="3.2"/><circle cx="294.9" cy="260.4" r="3.7"/><circle cx="281.7" cy="276.6" r="3"/><circle cx="286.6" cy="278.2" r="3.4"/><circle cx="293" cy="257" r="3.2"/><circle cx="279.5" cy="252.7" r="2.8"/><circle cx="279.5" cy="251" r="3.5"/><circle cx="285" cy="253.6" r="2.9"/><circle cx="286.5" cy="256.5" r="3.5"/></g><g fill="#8a8282"><circle cx="282.3" cy="275.6" r="0.85"/><circle cx="291.3" cy="275.1" r="0.85"/><circle cx="291.4" cy="273.6" r="0.85"/><circle cx="281.6" cy="270.4" r="0.85"/><circle cx="275.5" cy="277.1" r="0.85"/><circle cx="285.6" cy="285.2" r="0.85"/><circle cx="278.2" cy="261.5" r="0.85"/><circle cx="293.8" cy="273.9" r="0.85"/><circle cx="286.5" cy="273.9" r="0.85"/><circle cx="286.1" cy="259.4" r="0.85"/><circle cx="280" cy="257.7" r="0.85"/><circle cx="286.6" cy="270.1" r="0.85"/><circle cx="281.2" cy="255" r="0.85"/><circle cx="278" cy="260.4" r="0.85"/><circle cx="286.7" cy="250.3" r="0.85"/><circle cx="277.2" cy="260.8" r="0.85"/><circle cx="283.5" cy="256.3" r="0.85"/><circle cx="289.3" cy="277.6" r="0.85"/><circle cx="288.6" cy="280.6" r="0.85"/><circle cx="279.6" cy="251.2" r="0.85"/><circle cx="288.5" cy="259.3" r="0.85"/><circle cx="277.4" cy="258.6" r="0.85"/><circle cx="289.8" cy="249.9" r="0.85"/><circle cx="282.8" cy="263.4" r="0.85"/><circle cx="277.7" cy="250.5" r="0.85"/><circle cx="282.8" cy="281.3" r="0.85"/><circle cx="291.5" cy="270.1" r="0.85"/><circle cx="286.1" cy="271.6" r="0.85"/><circle cx="287.9" cy="275.9" r="0.85"/><circle cx="286.3" cy="263.5" r="0.85"/><circle cx="274.5" cy="261.7" r="0.85"/><circle cx="287.9" cy="259.2" r="0.85"/><circle cx="277.8" cy="284" r="0.85"/><circle cx="286.8" cy="275.5" r="0.85"/><circle cx="285" cy="283.2" r="0.85"/><circle cx="284.1" cy="269.4" r="0.85"/><circle cx="278.7" cy="280.1" r="0.85"/><circle cx="281.4" cy="253.3" r="0.85"/><circle cx="283.1" cy="263.4" r="0.85"/><circle cx="286.1" cy="247.8" r="0.85"/><circle cx="278.9" cy="276.7" r="0.85"/><circle cx="282.4" cy="263.9" r="0.85"/><circle cx="285.3" cy="276.6" r="0.85"/><circle cx="284.4" cy="268.1" r="0.85"/><circle cx="289.4" cy="275.9" r="0.85"/><circle cx="290.2" cy="255.8" r="0.85"/><circle cx="284.1" cy="281" r="0.85"/><circle cx="291.3" cy="282.1" r="0.85"/><circle cx="276.9" cy="271.2" r="0.85"/><circle cx="289.3" cy="275.7" r="0.85"/><circle cx="286.3" cy="260.2" r="0.85"/><circle cx="291.7" cy="263.2" r="0.85"/><circle cx="282.5" cy="267" r="0.85"/><circle cx="294.1" cy="265.2" r="0.85"/><circle cx="283.7" cy="281.3" r="0.85"/><circle cx="285.3" cy="252.1" r="0.85"/><circle cx="281.8" cy="277.1" r="0.85"/><circle cx="294.1" cy="266.1" r="0.85"/><circle cx="288.1" cy="250.8" r="0.85"/><circle cx="277.8" cy="266.5" r="0.85"/><circle cx="289.8" cy="270" r="0.85"/><circle cx="280.5" cy="247.9" r="0.85"/><circle cx="294.1" cy="259.6" r="0.85"/><circle cx="280.9" cy="275.8" r="0.85"/><circle cx="285.8" cy="277.4" r="0.85"/><circle cx="292.2" cy="256.2" r="0.85"/><circle cx="278.7" cy="251.9" r="0.85"/><circle cx="278.7" cy="250.2" r="0.85"/><circle cx="284.2" cy="252.8" r="0.85"/><circle cx="285.7" cy="255.7" r="0.85"/></g><path d="M1003 244L1003.5 257" fill="none" stroke="#b8c884" stroke-width="2.4"/><ellipse cx="1004.7" cy="277.6" rx="10.6" ry="19.2" fill="#cdc593"/><g fill="#cdc593"><circle cx="1006.2" cy="296.2" r="2.8"/><circle cx="1009.2" cy="282.5" r="3.6"/><circle cx="1000.2" cy="267.5" r="3.1"/><circle cx="1008.1" cy="294" r="2.7"/><circle cx="1010.1" cy="278.8" r="3"/><circle cx="1002.1" cy="282.1" r="2.9"/><circle cx="1012.4" cy="283.4" r="3"/><circle cx="1000.1" cy="291.2" r="3.1"/><circle cx="1011.3" cy="269.1" r="2.8"/><circle cx="1011.7" cy="273.1" r="2.8"/><circle cx="996.7" cy="269.8" r="3.5"/><circle cx="998.5" cy="291.7" r="2.8"/><circle cx="1011.9" cy="286.8" r="3.3"/><circle cx="1008.9" cy="266.3" r="2.8"/><circle cx="997.3" cy="275.1" r="2.7"/><circle cx="995.8" cy="276.9" r="2.9"/><circle cx="1010.9" cy="278.4" r="2.9"/><circle cx="997.8" cy="289.8" r="3.5"/><circle cx="1001.3" cy="282.3" r="3.3"/><circle cx="1007.5" cy="293.6" r="2.9"/><circle cx="1005.3" cy="266.4" r="2.8"/><circle cx="1005.5" cy="289.8" r="3.1"/><circle cx="999.9" cy="272.2" r="2.7"/><circle cx="1010.7" cy="286.2" r="3"/><circle cx="995.8" cy="277.1" r="3.6"/><circle cx="1008.6" cy="278.4" r="3"/><circle cx="1004.5" cy="266.2" r="3.6"/><circle cx="1007.2" cy="270" r="3.5"/><circle cx="1013.7" cy="274" r="3.6"/><circle cx="1009.3" cy="294.6" r="3.1"/><circle cx="998.8" cy="269.3" r="3.1"/><circle cx="1010.5" cy="287.8" r="3.1"/><circle cx="996.3" cy="283.7" r="3.3"/><circle cx="999.7" cy="284.7" r="2.9"/><circle cx="1001.4" cy="279.7" r="3.4"/><circle cx="1003.5" cy="275.7" r="3"/><circle cx="1013.4" cy="288.1" r="3.4"/><circle cx="1003.4" cy="269.3" r="2.9"/><circle cx="1004.4" cy="262.2" r="2.6"/><circle cx="1012.4" cy="268.6" r="3.6"/><circle cx="1005.7" cy="287.9" r="3.2"/><circle cx="997.7" cy="291.2" r="3.5"/><circle cx="997.4" cy="264.3" r="3.4"/><circle cx="1007.4" cy="270.6" r="3"/><circle cx="1008.1" cy="268.8" r="2.9"/><circle cx="1009.5" cy="264.3" r="3.6"/><circle cx="1008.3" cy="264.1" r="3"/><circle cx="997" cy="278.5" r="3.5"/><circle cx="1012.9" cy="284.5" r="2.9"/><circle cx="1011.9" cy="289.3" r="2.9"/><circle cx="1007.2" cy="264.7" r="2.9"/><circle cx="999.3" cy="283.7" r="3.6"/><circle cx="1004.6" cy="268" r="3.4"/><circle cx="1007.8" cy="267.4" r="3.4"/><circle cx="998.2" cy="287.7" r="3.4"/><circle cx="1012.9" cy="269.4" r="2.8"/><circle cx="1003.5" cy="272.4" r="3.1"/><circle cx="1013.1" cy="267.3" r="2.7"/><circle cx="1010.4" cy="266" r="3"/><circle cx="1013.3" cy="269" r="3.3"/><circle cx="1009.2" cy="262.3" r="3.4"/><circle cx="1002.3" cy="287.1" r="3"/><circle cx="1001.1" cy="276.8" r="3.4"/><circle cx="1007.6" cy="285.8" r="3"/><circle cx="1005.4" cy="271.7" r="2.9"/><circle cx="1008.8" cy="292.5" r="2.7"/><circle cx="996.2" cy="271.9" r="3.5"/><circle cx="1000.1" cy="293.6" r="3.4"/><circle cx="995.2" cy="270.5" r="3.6"/><circle cx="1008.8" cy="285.7" r="3"/></g><g fill="#5a4a30"><circle cx="1009.2" cy="282.5" r="0.55"/><circle cx="1008.1" cy="294" r="0.55"/><circle cx="1011.3" cy="269.1" r="0.55"/><circle cx="996.7" cy="269.8" r="0.55"/><circle cx="1008.9" cy="266.3" r="0.55"/><circle cx="995.8" cy="276.9" r="0.55"/><circle cx="997.8" cy="289.8" r="0.55"/><circle cx="1007.5" cy="293.6" r="0.55"/><circle cx="999.9" cy="272.2" r="0.55"/><circle cx="995.8" cy="277.1" r="0.55"/><circle cx="1004.5" cy="266.2" r="0.55"/><circle cx="1007.2" cy="270" r="0.55"/><circle cx="1009.3" cy="294.6" r="0.55"/><circle cx="998.8" cy="269.3" r="0.55"/><circle cx="1010.5" cy="287.8" r="0.55"/><circle cx="999.7" cy="284.7" r="0.55"/><circle cx="997.4" cy="264.3" r="0.55"/><circle cx="997" cy="278.5" r="0.55"/><circle cx="1011.9" cy="289.3" r="0.55"/><circle cx="1010.4" cy="266" r="0.55"/><circle cx="1002.3" cy="287.1" r="0.55"/><circle cx="1001.1" cy="276.8" r="0.55"/><circle cx="1005.4" cy="271.7" r="0.55"/><circle cx="1008.8" cy="292.5" r="0.55"/><circle cx="1008.8" cy="285.7" r="0.55"/></g><text x="0.5" y="37.8" class="pl">A</text><text x="735" y="37" class="pl">B</text><text x="1" y="615.8" class="pl">C</text><text x="734" y="616.5" class="pl">D</text><text x="273.3" y="558.8" text-anchor="middle" class="ti" style="font-size:27.5px">ZS5801</text><text x="1014.6" y="558.4" text-anchor="middle" class="ti" style="font-size:27px">ZZB</text><path d="M527 411.5H516.5V426.5H527" fill="none" stroke="#231815" stroke-width="1.1"/><text x="531" y="415.5" class="lg">0.373</text><text x="531" y="428" class="lg">0</text><path d="M527 443.5H516.5V459H527" fill="none" stroke="#4a6ab0" stroke-width="1.1"/><text x="532" y="448" class="lg">397</text><text x="532" y="460.5" class="lg">0</text><text x="511.5" y="481" class="lg">0</text><text x="541" y="481" class="lg">22</text><text x="511.5" y="512.5" class="lg">0</text><text x="531.5" y="512.5" class="lg">26.47</text><text x="511.5" y="544" class="lg">0</text><text x="541" y="544" class="lg">5.82</text><rect x="516.5" y="482" width="35.5" height="8.5" fill="url(#gd)"/><rect x="516.5" y="513.5" width="35.5" height="9" fill="url(#ge)"/><rect x="516.5" y="545" width="35.5" height="9.5" fill="url(#gf)"/><path d="M515 573.3H542.5" stroke="#555" stroke-width="0.9"/><text x="584" y="426.5" class="lg">b. GC content</text><text x="584" y="458.5" class="lg">c. Rcpcat content</text><text x="584" y="491" class="lg">d. Gene density</text><text x="584" y="522.5" class="lg">e. SNP density</text><text x="584" y="555" class="lg">f. Indel density</text><text x="584" y="581.5" class="lg">g. Synteny blocks</text><path d="M766 411.5H777.5V427H766" fill="none" stroke="#231815" stroke-width="1.1"/><text x="764" y="415.5" class="lg" text-anchor="end">0.419</text><text x="757" y="428.5" class="lg" text-anchor="end">0</text><path d="M767 443.5H778.5V459.5H767" fill="none" stroke="#4a6ab0" stroke-width="1.1"/><text x="763" y="448.5" class="lg" text-anchor="end">421</text><text x="757" y="461" class="lg" text-anchor="end">0</text><text x="752" y="481" class="lg" text-anchor="end">29</text><text x="780.5" y="481" class="lg" text-anchor="end">0</text><text x="756" y="512.5" class="lg" text-anchor="end">24.5</text><text x="780.5" y="512.5" class="lg" text-anchor="end">0</text><text x="749.5" y="544" class="lg" text-anchor="end">6</text><text x="780.5" y="544" class="lg" text-anchor="end">0</text><rect x="741" y="482" width="36" height="9.5" fill="url(#gdr)"/><rect x="741" y="514" width="36" height="8.5" fill="url(#ger)"/><rect x="741" y="545" width="36" height="9.5" fill="url(#gfr)"/><path d="M752 574H778" stroke="#333" stroke-width="0.9"/><path d="M96.2 620V1070.3H682.7" fill="none" stroke="#231815" stroke-width="1.6"/><text x="85.5" y="1049.9" text-anchor="end" dominant-baseline="central" class="ax">0</text><text x="85.5" y="967.9" text-anchor="end" dominant-baseline="central" class="ax">5</text><text x="85.5" y="885.9" text-anchor="end" dominant-baseline="central" class="ax">10</text><text x="85.5" y="803.9" text-anchor="end" dominant-baseline="central" class="ax">15</text><text x="85.5" y="721.9" text-anchor="end" dominant-baseline="central" class="ax">20</text><text x="85.5" y="639.9" text-anchor="end" dominant-baseline="central" class="ax">25</text><path d="M88.2 1049.6H96M88.2 967.6H96M88.2 885.6H96M88.2 803.6H96M88.2 721.6H96M88.2 639.6H96M206 1070.3V1078.7M389.6 1070.3V1078.7M573.1 1070.3V1078.7" stroke="#231815" stroke-width="1.4"/><text x="133.7" y="1094.5" class="ax">Two haplotypes as ref.</text><text x="341" y="1094.5" class="ax">Haplotype 1 as ref.</text><text x="519.4" y="1094.5" class="ax">Haplotype 2 as ref.</text><path d="M197.8 1112.4H583" stroke="#5a2e2a" stroke-width="1.4"/><text x="302" y="1134" class="ax">ZS5801 Whole Genome</text><text transform="translate(56.5 843) rotate(-90)" text-anchor="middle" class="yl">SNP count per 1Kb</text><path d="M206 647V640.6H573.1V647M389.6 680V673H573.1V680M206 713V705.9H389.6V713" fill="none" stroke="#231815" stroke-width="1.4"/><text x="390" y="636" text-anchor="middle" class="st">***</text><text x="298" y="701.5" text-anchor="middle" class="st">***</text><text x="480.5" y="669" text-anchor="middle" class="ns">NS</text><path d="M389.6 850.7V752.5M389.6 923.3V1022.9M380.3 752.5H398.9M380.3 1022.9H398.9" stroke="#231815" stroke-width="1.4"/><rect x="361.8" y="850.7" width="55.6" height="72.6" fill="#7fb6b3" stroke="#231815" stroke-width="1.3"/><path d="M361.8 887.8H417.4" stroke="#111" stroke-width="2.6"/><circle cx="389.6" cy="1046.1" r="1.7" fill="#111"/><path d="M573.1 841.7V733.3M573.1 915V1023.6M563.8 733.3H582.4M563.8 1023.6H582.4" stroke="#231815" stroke-width="1.4"/><rect x="545.3" y="841.7" width="55.6" height="73.3" fill="#7fb6b3" stroke="#231815" stroke-width="1.3"/><path d="M545.3 879.6H600.9" stroke="#111" stroke-width="2.6"/><circle cx="573.1" cy="1046.8" r="1.7" fill="#111"/><circle cx="573.1" cy="1048.5" r="1.7" fill="#111"/><circle cx="573.1" cy="1050.3" r="1.7" fill="#111"/><path d="M206 1043.7V1049.8M196.8 1043.7H215.4M196.8 1049.8H215.4" stroke="#231815" stroke-width="1.2"/><path d="M178.4 1047.5H234.8" stroke="#111" stroke-width="2.8"/><circle cx="206" cy="977.4" r="1.7" fill="#111"/><circle cx="206" cy="993.3" r="1.7" fill="#111"/><circle cx="206" cy="1003" r="1.7" fill="#111"/><circle cx="206" cy="1002" r="1.7" fill="#111"/><circle cx="206" cy="1001.1" r="1.7" fill="#111"/><circle cx="206" cy="1000.1" r="1.7" fill="#111"/><circle cx="206" cy="999.1" r="1.7" fill="#111"/><circle cx="206" cy="998.1" r="1.7" fill="#111"/><circle cx="206" cy="997.1" r="1.7" fill="#111"/><circle cx="206" cy="1023.4" r="1.7" fill="#111"/><circle cx="206" cy="1022.2" r="1.7" fill="#111"/><circle cx="206" cy="1021.1" r="1.7" fill="#111"/><circle cx="206" cy="1019.9" r="1.7" fill="#111"/><circle cx="206" cy="1018.8" r="1.7" fill="#111"/><circle cx="206" cy="1017.6" r="1.7" fill="#111"/><circle cx="206" cy="1016.5" r="1.7" fill="#111"/><circle cx="206" cy="1015.3" r="1.7" fill="#111"/><circle cx="206" cy="1043" r="1.7" fill="#111"/><circle cx="206" cy="1042.2" r="1.7" fill="#111"/><circle cx="206" cy="1041.4" r="1.7" fill="#111"/><circle cx="206" cy="1040.6" r="1.7" fill="#111"/><circle cx="206" cy="1039.8" r="1.7" fill="#111"/><circle cx="206" cy="1038.9" r="1.7" fill="#111"/><circle cx="206" cy="1038.1" r="1.7" fill="#111"/><circle cx="206" cy="1037.3" r="1.7" fill="#111"/><circle cx="206" cy="1036.5" r="1.7" fill="#111"/><circle cx="206" cy="1035.7" r="1.7" fill="#111"/><circle cx="206" cy="1034.8" r="1.7" fill="#111"/><circle cx="206" cy="1034" r="1.7" fill="#111"/><circle cx="206" cy="1033.2" r="1.7" fill="#111"/><circle cx="206" cy="1032.4" r="1.7" fill="#111"/><circle cx="206" cy="1031.6" r="1.7" fill="#111"/><circle cx="206" cy="1030.7" r="1.7" fill="#111"/><circle cx="206" cy="1029.9" r="1.7" fill="#111"/><circle cx="573.1" cy="728.2" r="1.7" fill="#111"/><circle cx="573.1" cy="730.6" r="1.7" fill="#111"/><circle cx="831.5" cy="600.7" r="2.2" fill="#e8321e"/><text x="837.5" y="607" class="lg">Single haplotype as ref</text><circle cx="831.5" cy="622" r="2.2" fill="#b8b4b4"/><text x="837.5" y="628" class="lg">Two haplotypes as ref</text><rect x="1039" y="602.5" width="98" height="9" fill="url(#gc)"/><text x="1039" y="597" text-anchor="middle" class="lg">0</text><text x="1087" y="597" text-anchor="middle" class="lg">50</text><text x="1137" y="597" text-anchor="middle" class="lg">156</text><text x="1018" y="628.5" class="lg">Gene count per 1Mb</text><path d="M793 653V1032.5" stroke="#231815" stroke-width="1.5"/><text transform="translate(782 833.5) rotate(-90)" text-anchor="middle" class="yl">SNP count per 1Kb</text><path d="M824 644.5V792.4" stroke="#6e6660" stroke-width="1.3"/><text x="818.5" y="668.2" text-anchor="end" dominant-baseline="central" class="lg">15</text><text x="818.5" y="706.5" text-anchor="end" dominant-baseline="central" class="lg">10</text><text x="818.5" y="744.6" text-anchor="end" dominant-baseline="central" class="lg">5</text><text x="818.5" y="783" text-anchor="end" dominant-baseline="central" class="lg">0</text><path d="M821 671.2H824M821 709.5H824M821 747.6H824M821 786H824" stroke="#6e6660" stroke-width="1"/><rect x="838.8" y="794.9" width="7.7" height="41.5" fill="#c8dc3c"/><rect x="845.9" y="794.9" width="7.7" height="41.5" fill="#e8e43c"/><rect x="853" y="794.9" width="7.7" height="41.5" fill="#c8dc40"/><rect x="860.1" y="794.9" width="7.7" height="41.5" fill="#6cb444"/><rect x="867.1" y="794.9" width="7.7" height="41.5" fill="#f8e030"/><rect x="874.2" y="794.9" width="7.7" height="41.5" fill="#94c43c"/><rect x="881.3" y="794.9" width="7.7" height="41.5" fill="#f4d030"/><rect x="888.4" y="794.9" width="7.7" height="41.5" fill="#f8e030"/><rect x="895.5" y="794.9" width="7.7" height="41.5" fill="#6cb444"/><rect x="902.6" y="794.9" width="7.7" height="41.5" fill="#58ac40"/><rect x="909.6" y="794.9" width="7.7" height="41.5" fill="#00a040"/><rect x="916.7" y="794.9" width="7.7" height="41.5" fill="#20a040"/><rect x="923.8" y="794.9" width="7.7" height="41.5" fill="#58ac40"/><rect x="930.9" y="794.9" width="7.7" height="41.5" fill="#00a040"/><rect x="938" y="794.9" width="7.7" height="41.5" fill="#98c040"/><rect x="945.1" y="794.9" width="7.7" height="41.5" fill="#98c040"/><rect x="952.1" y="794.9" width="7.7" height="41.5" fill="#00a040"/><rect x="959.2" y="794.9" width="7.7" height="41.5" fill="#00a040"/><rect x="966.3" y="794.9" width="7.7" height="41.5" fill="#98c040"/><rect x="973.4" y="794.9" width="7.7" height="41.5" fill="#58ac40"/><rect x="980.5" y="794.9" width="7.7" height="41.5" fill="#00a040"/><rect x="987.6" y="794.9" width="7.7" height="41.5" fill="#58ac40"/><rect x="994.6" y="794.9" width="7.7" height="41.5" fill="#10a040"/><rect x="1001.7" y="794.9" width="7.7" height="41.5" fill="#00a03e"/><rect x="1008.8" y="794.9" width="7.7" height="41.5" fill="#00a03e"/><rect x="1015.9" y="794.9" width="7.7" height="41.5" fill="#00a03e"/><rect x="1023" y="794.9" width="7.7" height="41.5" fill="#00a03e"/><rect x="1030.1" y="794.9" width="7.7" height="41.5" fill="#00a03e"/><rect x="1037.1" y="794.9" width="7.7" height="41.5" fill="#00a03e"/><rect x="1044.2" y="794.9" width="7.7" height="41.5" fill="#00a03e"/><rect x="1051.3" y="794.9" width="7.7" height="41.5" fill="#00a03e"/><rect x="1058.4" y="794.9" width="7.7" height="41.5" fill="#00a03e"/><rect x="1065.5" y="794.9" width="7.7" height="41.5" fill="#00a03e"/><rect x="1072.6" y="794.9" width="7.7" height="41.5" fill="#18a040"/><rect x="1079.6" y="794.9" width="7.7" height="41.5" fill="#6cb040"/><rect x="1086.7" y="794.9" width="7.7" height="41.5" fill="#6cb040"/><rect x="1093.8" y="794.9" width="7.7" height="41.5" fill="#00a040"/><rect x="1100.9" y="794.9" width="7.7" height="41.5" fill="#50ac40"/><rect x="1108" y="794.9" width="7.7" height="41.5" fill="#90c040"/><rect x="1115.1" y="794.9" width="7.7" height="41.5" fill="#b4d040"/><rect x="1122.1" y="794.9" width="7.7" height="41.5" fill="#88c040"/><rect x="1129.2" y="794.9" width="7.7" height="41.5" fill="#a0c840"/><rect x="1136.3" y="794.9" width="7.7" height="41.5" fill="#78b840"/><rect x="1143.4" y="794.9" width="7.7" height="41.5" fill="#b8d040"/><rect x="1150.5" y="794.9" width="7.7" height="41.5" fill="#e8e43c"/><rect x="1157.6" y="794.9" width="7.7" height="41.5" fill="#b0cc40"/><rect x="1164.6" y="794.9" width="7.7" height="41.5" fill="#e0e040"/><rect x="1171.7" y="794.9" width="7.7" height="41.5" fill="#f8e830"/><rect x="1178.8" y="794.9" width="7.1" height="41.5" fill="#78b840"/><ellipse cx="841.3" cy="785.1" rx="1.9" ry="1.1" fill="#b9b3b1"/><ellipse cx="848.5" cy="784.2" rx="1.9" ry="1.1" fill="#b9b3b1"/><ellipse cx="855.7" cy="785.1" rx="1.9" ry="1.1" fill="#b9b3b1"/><ellipse cx="863" cy="785.1" rx="1.9" ry="1.1" fill="#b9b3b1"/><ellipse cx="870.2" cy="785.1" rx="1.9" ry="1.1" fill="#b9b3b1"/><ellipse cx="877.4" cy="785.5" rx="1.9" ry="1.1" fill="#b9b3b1"/><ellipse cx="884.6" cy="784.7" rx="1.9" ry="1.1" fill="#b9b3b1"/><ellipse cx="891.8" cy="784.6" rx="1.9" ry="1.1" fill="#b9b3b1"/><ellipse cx="899" cy="783.8" rx="1.9" ry="1.1" fill="#b9b3b1"/><ellipse cx="906.3" cy="784.7" rx="1.9" ry="1.1" fill="#b9b3b1"/><ellipse cx="913.5" cy="785.5" rx="1.9" ry="1.1" fill="#b9b3b1"/><ellipse cx="920.7" cy="784.2" rx="1.9" ry="1.1" fill="#b9b3b1"/><ellipse cx="927.9" cy="784.7" rx="1.9" ry="1.1" fill="#b9b3b1"/><ellipse cx="935.1" cy="782.8" rx="1.9" ry="1.1" fill="#b9b3b1"/><ellipse cx="942.3" cy="784.6" rx="1.9" ry="1.1" fill="#b9b3b1"/><ellipse cx="949.6" cy="784" rx="1.9" ry="1.1" fill="#b9b3b1"/><ellipse cx="956.8" cy="784.7" rx="1.9" ry="1.1" fill="#b9b3b1"/><ellipse cx="964" cy="785.3" rx="1.9" ry="1.1" fill="#b9b3b1"/><ellipse cx="971.2" cy="785.1" rx="1.9" ry="1.1" fill="#b9b3b1"/><ellipse cx="978.4" cy="785.7" rx="1.9" ry="1.1" fill="#b9b3b1"/><ellipse cx="985.6" cy="779.9" rx="1.9" ry="1.1" fill="#b9b3b1"/><ellipse cx="992.9" cy="759.4" rx="1.9" ry="1.1" fill="#b9b3b1"/><ellipse cx="1000.1" cy="761.5" rx="1.9" ry="1.1" fill="#b9b3b1"/><ellipse cx="1007.3" cy="769.9" rx="1.9" ry="1.1" fill="#b9b3b1"/><ellipse cx="1014.5" cy="782.2" rx="1.9" ry="1.1" fill="#b9b3b1"/><ellipse cx="1021.7" cy="783.3" rx="1.9" ry="1.1" fill="#b9b3b1"/><ellipse cx="1028.9" cy="783.5" rx="1.9" ry="1.1" fill="#b9b3b1"/><ellipse cx="1036.2" cy="783.1" rx="1.9" ry="1.1" fill="#b9b3b1"/><ellipse cx="1043.4" cy="783.1" rx="1.9" ry="1.1" fill="#b9b3b1"/><ellipse cx="1050.6" cy="784" rx="1.9" ry="1.1" fill="#b9b3b1"/><ellipse cx="1057.8" cy="784" rx="1.9" ry="1.1" fill="#b9b3b1"/><ellipse cx="1065" cy="777.6" rx="1.9" ry="1.1" fill="#b9b3b1"/><ellipse cx="1072.2" cy="770.8" rx="1.9" ry="1.1" fill="#b9b3b1"/><ellipse cx="1079.5" cy="770.8" rx="1.9" ry="1.1" fill="#b9b3b1"/><ellipse cx="1086.7" cy="782.5" rx="1.9" ry="1.1" fill="#b9b3b1"/><ellipse cx="1093.9" cy="783.3" rx="1.9" ry="1.1" fill="#b9b3b1"/><ellipse cx="1101.1" cy="785.8" rx="1.9" ry="1.1" fill="#b9b3b1"/><ellipse cx="1108.3" cy="778.9" rx="1.9" ry="1.1" fill="#b9b3b1"/><ellipse cx="1115.5" cy="783.9" rx="1.9" ry="1.1" fill="#b9b3b1"/><ellipse cx="1122.8" cy="784.8" rx="1.9" ry="1.1" fill="#b9b3b1"/><ellipse cx="1130" cy="785.4" rx="1.9" ry="1.1" fill="#b9b3b1"/><ellipse cx="1137.2" cy="784.8" rx="1.9" ry="1.1" fill="#b9b3b1"/><ellipse cx="1144.4" cy="783.7" rx="1.9" ry="1.1" fill="#b9b3b1"/><ellipse cx="1151.6" cy="783.9" rx="1.9" ry="1.1" fill="#b9b3b1"/><ellipse cx="1158.8" cy="784.4" rx="1.9" ry="1.1" fill="#b9b3b1"/><ellipse cx="1166.1" cy="784.6" rx="1.9" ry="1.1" fill="#b9b3b1"/><ellipse cx="1173.3" cy="778.2" rx="1.9" ry="1.1" fill="#b9b3b1"/><ellipse cx="1180.5" cy="777.4" rx="1.9" ry="1.1" fill="#b9b3b1"/><ellipse cx="1187.7" cy="785.4" rx="1.9" ry="1.1" fill="#b9b3b1"/><ellipse cx="841.3" cy="722.5" rx="2" ry="1.25" fill="#e8281a"/><ellipse cx="848.5" cy="683" rx="2" ry="1.25" fill="#e8281a"/><ellipse cx="855.7" cy="706" rx="2" ry="1.25" fill="#e8281a"/><ellipse cx="863" cy="706" rx="2" ry="1.25" fill="#e8281a"/><ellipse cx="870.2" cy="695.9" rx="2" ry="1.25" fill="#e8281a"/><ellipse cx="877.4" cy="727.1" rx="2" ry="1.25" fill="#e8281a"/><ellipse cx="884.6" cy="701" rx="2" ry="1.25" fill="#e8281a"/><ellipse cx="891.8" cy="694" rx="2" ry="1.25" fill="#e8281a"/><ellipse cx="899" cy="654.5" rx="2" ry="1.25" fill="#e8281a"/><ellipse cx="906.3" cy="667.8" rx="2" ry="1.25" fill="#e8281a"/><ellipse cx="913.5" cy="731.2" rx="2" ry="1.25" fill="#e8281a"/><ellipse cx="920.7" cy="720" rx="2" ry="1.25" fill="#e8281a"/><ellipse cx="927.9" cy="720.7" rx="2" ry="1.25" fill="#e8281a"/><ellipse cx="935.1" cy="691.2" rx="2" ry="1.25" fill="#e8281a"/><ellipse cx="942.3" cy="695.9" rx="2" ry="1.25" fill="#e8281a"/><ellipse cx="949.6" cy="720.4" rx="2" ry="1.25" fill="#e8281a"/><ellipse cx="956.8" cy="734.1" rx="2" ry="1.25" fill="#e8281a"/><ellipse cx="964" cy="747.7" rx="2" ry="1.25" fill="#e8281a"/><ellipse cx="971.2" cy="717.5" rx="2" ry="1.25" fill="#e8281a"/><ellipse cx="978.4" cy="742.8" rx="2" ry="1.25" fill="#e8281a"/><ellipse cx="985.6" cy="730.1" rx="2" ry="1.25" fill="#e8281a"/><ellipse cx="992.9" cy="732.5" rx="2" ry="1.25" fill="#e8281a"/><ellipse cx="1000.1" cy="712.9" rx="2" ry="1.25" fill="#e8281a"/><ellipse cx="1007.3" cy="709.5" rx="2" ry="1.25" fill="#e8281a"/><ellipse cx="1014.5" cy="709.8" rx="2" ry="1.25" fill="#e8281a"/><ellipse cx="1021.7" cy="723.1" rx="2" ry="1.25" fill="#e8281a"/><ellipse cx="1028.9" cy="719.1" rx="2" ry="1.25" fill="#e8281a"/><ellipse cx="1036.2" cy="708.9" rx="2" ry="1.25" fill="#e8281a"/><ellipse cx="1043.4" cy="701" rx="2" ry="1.25" fill="#e8281a"/><ellipse cx="1050.6" cy="711.4" rx="2" ry="1.25" fill="#e8281a"/><ellipse cx="1057.8" cy="708.7" rx="2" ry="1.25" fill="#e8281a"/><ellipse cx="1065" cy="707" rx="2" ry="1.25" fill="#e8281a"/><ellipse cx="1072.2" cy="700.8" rx="2" ry="1.25" fill="#e8281a"/><ellipse cx="1079.5" cy="710.6" rx="2" ry="1.25" fill="#e8281a"/><ellipse cx="1086.7" cy="702.8" rx="2" ry="1.25" fill="#e8281a"/><ellipse cx="1093.9" cy="701.7" rx="2" ry="1.25" fill="#e8281a"/><ellipse cx="1101.1" cy="755.8" rx="2" ry="1.25" fill="#e8281a"/><ellipse cx="1108.3" cy="710.2" rx="2" ry="1.25" fill="#e8281a"/><ellipse cx="1115.5" cy="667.3" rx="2" ry="1.25" fill="#e8281a"/><ellipse cx="1122.8" cy="714.8" rx="2" ry="1.25" fill="#e8281a"/><ellipse cx="1130" cy="728.8" rx="2" ry="1.25" fill="#e8281a"/><ellipse cx="1137.2" cy="651.2" rx="2" ry="1.25" fill="#e8281a"/><ellipse cx="1144.4" cy="672.7" rx="2" ry="1.25" fill="#e8281a"/><ellipse cx="1151.6" cy="692.8" rx="2" ry="1.25" fill="#e8281a"/><ellipse cx="1158.8" cy="668.4" rx="2" ry="1.25" fill="#e8281a"/><ellipse cx="1166.1" cy="705.1" rx="2" ry="1.25" fill="#e8281a"/><ellipse cx="1173.3" cy="696.8" rx="2" ry="1.25" fill="#e8281a"/><ellipse cx="1180.5" cy="678.6" rx="2" ry="1.25" fill="#e8281a"/><ellipse cx="1187.7" cy="741.8" rx="2" ry="1.25" fill="#e8281a"/><path d="M838.8 841.1H1185.9" stroke="#231815" stroke-width="1.3"/><text x="839.7" y="860.6" text-anchor="middle" class="lg">0</text><text x="881" y="860.6" text-anchor="middle" class="lg">5.4</text><text x="922" y="860.6" text-anchor="middle" class="lg">10.8</text><text x="961" y="860.6" text-anchor="middle" class="lg">16.2</text><text x="999.7" y="860.6" text-anchor="middle" class="lg">21.6</text><text x="1035.3" y="860.6" text-anchor="middle" class="lg">27</text><text x="1077.3" y="860.6" text-anchor="middle" class="lg">32.4</text><text x="1116.1" y="860.6" text-anchor="middle" class="lg">37.8</text><text x="1153.3" y="860.6" text-anchor="middle" class="lg">43.2</text><text x="1185" y="860.6" text-anchor="middle" class="lg">48</text><path d="M839.7 841.1V844.1M877.8 841.1V844.1M917.3 841.1V844.1M955.4 841.1V844.1M993.9 841.1V844.1M1032 841.1V844.1M1070.9 841.1V844.1M1108.7 841.1V844.1M1148.5 841.1V844.1M1185 841.1V844.1" stroke="#231815" stroke-width="1"/><text x="1198.6" y="860.6" class="lg">(Mb)</text><text x="907" y="881.5" class="lg">ZS5801 Chr1 of haplotype 1</text><path d="M825.9 889.1V1036.4" stroke="#6e6660" stroke-width="1.3"/><text x="820.4" y="886.4" text-anchor="end" dominant-baseline="central" class="lg">20</text><text x="820.4" y="923.3" text-anchor="end" dominant-baseline="central" class="lg">15</text><text x="820.4" y="957.7" text-anchor="end" dominant-baseline="central" class="lg">10</text><text x="820.4" y="992.5" text-anchor="end" dominant-baseline="central" class="lg">5</text><text x="820.4" y="1027.2" text-anchor="end" dominant-baseline="central" class="lg">0</text><path d="M822.9 889.4H825.9M822.9 926.3H825.9M822.9 960.7H825.9M822.9 995.5H825.9M822.9 1030.2H825.9" stroke="#6e6660" stroke-width="1"/><rect x="838.8" y="1038.9" width="8" height="39.8" fill="#e8e43c"/><rect x="846.2" y="1038.9" width="8" height="39.8" fill="#c8dc40"/><rect x="853.6" y="1038.9" width="8" height="39.8" fill="#c8dc40"/><rect x="861" y="1038.9" width="8" height="39.8" fill="#f8e434"/><rect x="868.3" y="1038.9" width="8" height="39.8" fill="#c8dc40"/><rect x="875.7" y="1038.9" width="8" height="39.8" fill="#f8c030"/><rect x="883.1" y="1038.9" width="8" height="39.8" fill="#e8e43c"/><rect x="890.5" y="1038.9" width="8" height="39.8" fill="#a0c840"/><rect x="897.9" y="1038.9" width="8" height="39.8" fill="#58ac40"/><rect x="905.3" y="1038.9" width="8" height="39.8" fill="#00a040"/><rect x="912.7" y="1038.9" width="8" height="39.8" fill="#00a040"/><rect x="920" y="1038.9" width="8" height="39.8" fill="#70b840"/><rect x="927.4" y="1038.9" width="8" height="39.8" fill="#58ac40"/><rect x="934.8" y="1038.9" width="8" height="39.8" fill="#a0c840"/><rect x="942.2" y="1038.9" width="8" height="39.8" fill="#70b040"/><rect x="949.6" y="1038.9" width="8" height="39.8" fill="#58ac40"/><rect x="957" y="1038.9" width="8" height="39.8" fill="#78b840"/><rect x="964.3" y="1038.9" width="8" height="39.8" fill="#58ac40"/><rect x="971.7" y="1038.9" width="8" height="39.8" fill="#40a840"/><rect x="979.1" y="1038.9" width="8" height="39.8" fill="#00a040"/><rect x="986.5" y="1038.9" width="8" height="39.8" fill="#00a040"/><rect x="993.9" y="1038.9" width="8" height="39.8" fill="#00a040"/><rect x="1001.3" y="1038.9" width="8" height="39.8" fill="#00a040"/><rect x="1008.7" y="1038.9" width="8" height="39.8" fill="#00a040"/><rect x="1016" y="1038.9" width="8" height="39.8" fill="#00a040"/><rect x="1023.4" y="1038.9" width="8" height="39.8" fill="#00a040"/><rect x="1030.8" y="1038.9" width="8" height="39.8" fill="#00a040"/><rect x="1038.2" y="1038.9" width="8" height="39.8" fill="#18a040"/><rect x="1045.6" y="1038.9" width="8" height="39.8" fill="#18a040"/><rect x="1053" y="1038.9" width="8" height="39.8" fill="#00a040"/><rect x="1060.4" y="1038.9" width="8" height="39.8" fill="#00a040"/><rect x="1067.7" y="1038.9" width="8" height="39.8" fill="#00a040"/><rect x="1075.1" y="1038.9" width="8" height="39.8" fill="#58ac40"/><rect x="1082.5" y="1038.9" width="8" height="39.8" fill="#70b440"/><rect x="1089.9" y="1038.9" width="8" height="39.8" fill="#4aa840"/><rect x="1097.3" y="1038.9" width="8" height="39.8" fill="#40a840"/><rect x="1104.7" y="1038.9" width="8" height="39.8" fill="#88bc40"/><rect x="1112" y="1038.9" width="8" height="39.8" fill="#98c440"/><rect x="1119.4" y="1038.9" width="8" height="39.8" fill="#b4d040"/><rect x="1126.8" y="1038.9" width="8" height="39.8" fill="#a8c840"/><rect x="1134.2" y="1038.9" width="8" height="39.8" fill="#a0c840"/><rect x="1141.6" y="1038.9" width="8" height="39.8" fill="#d8e03c"/><rect x="1149" y="1038.9" width="8" height="39.8" fill="#c8dc40"/><rect x="1156.4" y="1038.9" width="8" height="39.8" fill="#a0c840"/><rect x="1163.7" y="1038.9" width="8" height="39.8" fill="#e0e040"/><rect x="1171.1" y="1038.9" width="8" height="39.8" fill="#e8e43c"/><rect x="1178.5" y="1038.9" width="7.4" height="39.8" fill="#f8e034"/><ellipse cx="843.1" cy="1029.5" rx="1.9" ry="1.1" fill="#b9b3b1"/><ellipse cx="850.3" cy="1028.4" rx="1.9" ry="1.1" fill="#b9b3b1"/><ellipse cx="857.6" cy="1029.3" rx="1.9" ry="1.1" fill="#b9b3b1"/><ellipse cx="864.8" cy="1029.3" rx="1.9" ry="1.1" fill="#b9b3b1"/><ellipse cx="872" cy="1029.3" rx="1.9" ry="1.1" fill="#b9b3b1"/><ellipse cx="879.3" cy="1029.6" rx="1.9" ry="1.1" fill="#b9b3b1"/><ellipse cx="886.5" cy="1029.1" rx="1.9" ry="1.1" fill="#b9b3b1"/><ellipse cx="893.7" cy="1028.7" rx="1.9" ry="1.1" fill="#b9b3b1"/><ellipse cx="901" cy="1028.2" rx="1.9" ry="1.1" fill="#b9b3b1"/><ellipse cx="908.2" cy="1029.1" rx="1.9" ry="1.1" fill="#b9b3b1"/><ellipse cx="915.5" cy="1029.8" rx="1.9" ry="1.1" fill="#b9b3b1"/><ellipse cx="922.7" cy="1028.4" rx="1.9" ry="1.1" fill="#b9b3b1"/><ellipse cx="929.9" cy="1029.1" rx="1.9" ry="1.1" fill="#b9b3b1"/><ellipse cx="937.2" cy="1027.1" rx="1.9" ry="1.1" fill="#b9b3b1"/><ellipse cx="944.4" cy="1028.7" rx="1.9" ry="1.1" fill="#b9b3b1"/><ellipse cx="951.6" cy="1028.4" rx="1.9" ry="1.1" fill="#b9b3b1"/><ellipse cx="958.9" cy="1029.1" rx="1.9" ry="1.1" fill="#b9b3b1"/><ellipse cx="966.1" cy="1029.5" rx="1.9" ry="1.1" fill="#b9b3b1"/><ellipse cx="973.3" cy="1029.5" rx="1.9" ry="1.1" fill="#b9b3b1"/><ellipse cx="980.6" cy="1029.8" rx="1.9" ry="1.1" fill="#b9b3b1"/><ellipse cx="987.8" cy="1024.7" rx="1.9" ry="1.1" fill="#b9b3b1"/><ellipse cx="995" cy="1005.9" rx="1.9" ry="1.1" fill="#b9b3b1"/><ellipse cx="1002.3" cy="1007.9" rx="1.9" ry="1.1" fill="#b9b3b1"/><ellipse cx="1009.5" cy="1015.5" rx="1.9" ry="1.1" fill="#b9b3b1"/><ellipse cx="1016.7" cy="1026.5" rx="1.9" ry="1.1" fill="#b9b3b1"/><ellipse cx="1024" cy="1027.5" rx="1.9" ry="1.1" fill="#b9b3b1"/><ellipse cx="1031.2" cy="1027.6" rx="1.9" ry="1.1" fill="#b9b3b1"/><ellipse cx="1038.4" cy="1027.3" rx="1.9" ry="1.1" fill="#b9b3b1"/><ellipse cx="1045.7" cy="1027.1" rx="1.9" ry="1.1" fill="#b9b3b1"/><ellipse cx="1052.9" cy="1028.4" rx="1.9" ry="1.1" fill="#b9b3b1"/><ellipse cx="1060.2" cy="1028.4" rx="1.9" ry="1.1" fill="#b9b3b1"/><ellipse cx="1067.4" cy="1022.2" rx="1.9" ry="1.1" fill="#b9b3b1"/><ellipse cx="1074.6" cy="1016.3" rx="1.9" ry="1.1" fill="#b9b3b1"/><ellipse cx="1081.9" cy="1016.3" rx="1.9" ry="1.1" fill="#b9b3b1"/><ellipse cx="1089.1" cy="1026.9" rx="1.9" ry="1.1" fill="#b9b3b1"/><ellipse cx="1096.3" cy="1027.5" rx="1.9" ry="1.1" fill="#b9b3b1"/><ellipse cx="1103.6" cy="1029.7" rx="1.9" ry="1.1" fill="#b9b3b1"/><ellipse cx="1110.8" cy="1023.7" rx="1.9" ry="1.1" fill="#b9b3b1"/><ellipse cx="1118" cy="1028.2" rx="1.9" ry="1.1" fill="#b9b3b1"/><ellipse cx="1125.3" cy="1028.8" rx="1.9" ry="1.1" fill="#b9b3b1"/><ellipse cx="1132.5" cy="1029.3" rx="1.9" ry="1.1" fill="#b9b3b1"/><ellipse cx="1139.7" cy="1028.8" rx="1.9" ry="1.1" fill="#b9b3b1"/><ellipse cx="1147" cy="1027.8" rx="1.9" ry="1.1" fill="#b9b3b1"/><ellipse cx="1154.2" cy="1027.8" rx="1.9" ry="1.1" fill="#b9b3b1"/><ellipse cx="1161.4" cy="1028.6" rx="1.9" ry="1.1" fill="#b9b3b1"/><ellipse cx="1168.7" cy="1028.6" rx="1.9" ry="1.1" fill="#b9b3b1"/><ellipse cx="1175.9" cy="1022.7" rx="1.9" ry="1.1" fill="#b9b3b1"/><ellipse cx="1183.1" cy="1022" rx="1.9" ry="1.1" fill="#b9b3b1"/><ellipse cx="1190.4" cy="1029.3" rx="1.9" ry="1.1" fill="#b9b3b1"/><ellipse cx="843.1" cy="969.4" rx="2" ry="1.25" fill="#e8281a"/><ellipse cx="850.3" cy="929" rx="2" ry="1.25" fill="#e8281a"/><ellipse cx="857.6" cy="942.2" rx="2" ry="1.25" fill="#e8281a"/><ellipse cx="864.8" cy="895.8" rx="2" ry="1.25" fill="#e8281a"/><ellipse cx="872" cy="957.3" rx="2" ry="1.25" fill="#e8281a"/><ellipse cx="879.3" cy="954.9" rx="2" ry="1.25" fill="#e8281a"/><ellipse cx="886.5" cy="961.4" rx="2" ry="1.25" fill="#e8281a"/><ellipse cx="893.7" cy="900" rx="2" ry="1.25" fill="#e8281a"/><ellipse cx="901" cy="941.7" rx="2" ry="1.25" fill="#e8281a"/><ellipse cx="908.2" cy="962.2" rx="2" ry="1.25" fill="#e8281a"/><ellipse cx="915.5" cy="938.2" rx="2" ry="1.25" fill="#e8281a"/><ellipse cx="922.7" cy="961.6" rx="2" ry="1.25" fill="#e8281a"/><ellipse cx="929.9" cy="942" rx="2" ry="1.25" fill="#e8281a"/><ellipse cx="937.2" cy="943.1" rx="2" ry="1.25" fill="#e8281a"/><ellipse cx="944.4" cy="939" rx="2" ry="1.25" fill="#e8281a"/><ellipse cx="951.6" cy="973.4" rx="2" ry="1.25" fill="#e8281a"/><ellipse cx="958.9" cy="950.9" rx="2" ry="1.25" fill="#e8281a"/><ellipse cx="966.1" cy="993.9" rx="2" ry="1.25" fill="#e8281a"/><ellipse cx="973.3" cy="956.9" rx="2" ry="1.25" fill="#e8281a"/><ellipse cx="980.6" cy="972.1" rx="2" ry="1.25" fill="#e8281a"/><ellipse cx="987.8" cy="967.2" rx="2" ry="1.25" fill="#e8281a"/><ellipse cx="995" cy="979.9" rx="2" ry="1.25" fill="#e8281a"/><ellipse cx="1002.3" cy="972.4" rx="2" ry="1.25" fill="#e8281a"/><ellipse cx="1009.5" cy="985.4" rx="2" ry="1.25" fill="#e8281a"/><ellipse cx="1016.7" cy="976.3" rx="2" ry="1.25" fill="#e8281a"/><ellipse cx="1024" cy="963.9" rx="2" ry="1.25" fill="#e8281a"/><ellipse cx="1031.2" cy="964.8" rx="2" ry="1.25" fill="#e8281a"/><ellipse cx="1038.4" cy="959.1" rx="2" ry="1.25" fill="#e8281a"/><ellipse cx="1045.7" cy="961.8" rx="2" ry="1.25" fill="#e8281a"/><ellipse cx="1052.9" cy="965" rx="2" ry="1.25" fill="#e8281a"/><ellipse cx="1060.2" cy="959.3" rx="2" ry="1.25" fill="#e8281a"/><ellipse cx="1067.4" cy="961.6" rx="2" ry="1.25" fill="#e8281a"/><ellipse cx="1074.6" cy="958.4" rx="2" ry="1.25" fill="#e8281a"/><ellipse cx="1081.9" cy="946.6" rx="2" ry="1.25" fill="#e8281a"/><ellipse cx="1089.1" cy="999.6" rx="2" ry="1.25" fill="#e8281a"/><ellipse cx="1096.3" cy="976.3" rx="2" ry="1.25" fill="#e8281a"/><ellipse cx="1103.6" cy="921.6" rx="2" ry="1.25" fill="#e8281a"/><ellipse cx="1110.8" cy="940.2" rx="2" ry="1.25" fill="#e8281a"/><ellipse cx="1118" cy="974.6" rx="2" ry="1.25" fill="#e8281a"/><ellipse cx="1125.3" cy="920.7" rx="2" ry="1.25" fill="#e8281a"/><ellipse cx="1132.5" cy="909.3" rx="2" ry="1.25" fill="#e8281a"/><ellipse cx="1139.7" cy="935.1" rx="2" ry="1.25" fill="#e8281a"/><ellipse cx="1147" cy="925.4" rx="2" ry="1.25" fill="#e8281a"/><ellipse cx="1154.2" cy="970.7" rx="2" ry="1.25" fill="#e8281a"/><ellipse cx="1161.4" cy="930.2" rx="2" ry="1.25" fill="#e8281a"/><ellipse cx="1168.7" cy="951.9" rx="2" ry="1.25" fill="#e8281a"/><ellipse cx="1175.9" cy="983.2" rx="2" ry="1.25" fill="#e8281a"/><path d="M838.8 1083.4H1185.9" stroke="#231815" stroke-width="1.3"/><text x="838.5" y="1102.9" text-anchor="middle" class="lg">0</text><text x="877.5" y="1102.9" text-anchor="middle" class="lg">5.2</text><text x="915" y="1102.9" text-anchor="middle" class="lg">10.4</text><text x="954" y="1102.9" text-anchor="middle" class="lg">15.6</text><text x="992" y="1102.9" text-anchor="middle" class="lg">20.8</text><text x="1031" y="1102.9" text-anchor="middle" class="lg">26</text><text x="1068" y="1102.9" text-anchor="middle" class="lg">31.2</text><text x="1108" y="1102.9" text-anchor="middle" class="lg">36.4</text><text x="1147" y="1102.9" text-anchor="middle" class="lg">41.6</text><text x="1185" y="1102.9" text-anchor="middle" class="lg">46.8</text><path d="M838.5 1083.4V1086.4M877 1083.4V1086.4M915.5 1083.4V1086.4M954 1083.4V1086.4M992.5 1083.4V1086.4M1031 1083.4V1086.4M1069.5 1083.4V1086.4M1108 1083.4V1086.4M1146.5 1083.4V1086.4M1185 1083.4V1086.4" stroke="#231815" stroke-width="1"/><text x="1204.5" y="1102.9" class="lg">(Mb)</text><text x="901.5" y="1132.5" class="lg">ZS5801 Chr1 of haplotype 2</text></svg></body></html>
